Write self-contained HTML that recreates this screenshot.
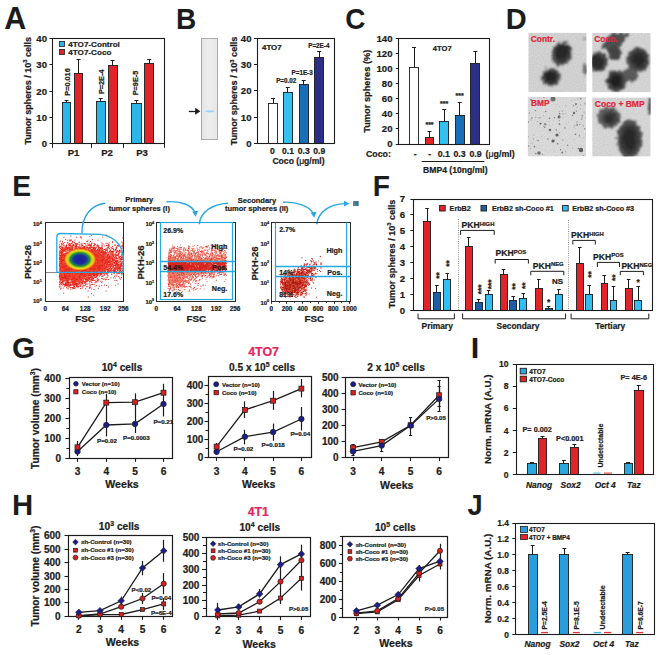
<!DOCTYPE html>
<html><head><meta charset="utf-8"><style>
html,body{margin:0;padding:0;background:#fff;}
svg{display:block;font-family:"Liberation Sans",sans-serif;font-weight:bold;fill:#1c1c1c;}
</style></head><body>
<svg width="662" height="655" viewBox="0 0 662 655">
<rect width="662" height="655" fill="#fff"/>
<text transform="translate(4.29 29.01) scale(0.3045 0.3059)" font-size="100">A</text>
<line x1="66.5" y1="102.92" x2="66.5" y2="100.6" stroke="#1c1c1c" stroke-width="1"/>
<line x1="64.55" y1="100.5" x2="68.55" y2="100.5" stroke="#1c1c1c" stroke-width="1"/>
<rect x="62.5" y="102.5" width="8" height="41" fill="#2ab6e8" stroke="#1c1c1c" stroke-width="0.9"/>
<line x1="78.5" y1="73.2" x2="78.5" y2="59.8" stroke="#1c1c1c" stroke-width="1"/>
<line x1="76.55" y1="59.5" x2="80.55" y2="59.5" stroke="#1c1c1c" stroke-width="1"/>
<rect x="74.5" y="73.5" width="8" height="70" fill="#e2232a" stroke="#1c1c1c" stroke-width="0.9"/>
<line x1="100.5" y1="101.7" x2="100.5" y2="98.3" stroke="#1c1c1c" stroke-width="1"/>
<line x1="98.75" y1="98.5" x2="102.75" y2="98.5" stroke="#1c1c1c" stroke-width="1"/>
<rect x="96.5" y="101.5" width="9" height="42" fill="#2ab6e8" stroke="#1c1c1c" stroke-width="0.9"/>
<line x1="112.5" y1="65" x2="112.5" y2="60.8" stroke="#1c1c1c" stroke-width="1"/>
<line x1="110.5" y1="60.5" x2="114.5" y2="60.5" stroke="#1c1c1c" stroke-width="1"/>
<rect x="108.5" y="65.5" width="9" height="78" fill="#e2232a" stroke="#1c1c1c" stroke-width="0.9"/>
<line x1="136.5" y1="103.1" x2="136.5" y2="100.6" stroke="#1c1c1c" stroke-width="1"/>
<line x1="134.4" y1="100.5" x2="138.4" y2="100.5" stroke="#1c1c1c" stroke-width="1"/>
<rect x="131.5" y="103.5" width="10" height="40" fill="#2ab6e8" stroke="#1c1c1c" stroke-width="0.9"/>
<line x1="149.5" y1="63.6" x2="149.5" y2="59.5" stroke="#1c1c1c" stroke-width="1"/>
<line x1="147.25" y1="59.5" x2="151.25" y2="59.5" stroke="#1c1c1c" stroke-width="1"/>
<rect x="144.5" y="63.5" width="9" height="80" fill="#e2232a" stroke="#1c1c1c" stroke-width="0.9"/>
<rect x="52.5" y="38.5" width="112" height="105" fill="none" stroke="#1c1c1c" stroke-width="1.1"/>
<line x1="49.5" y1="143.5" x2="52.5" y2="143.5" stroke="#1c1c1c" stroke-width="1"/>
<text x="47" y="147.26" font-size="9.6" text-anchor="end" stroke="#1c1c1c" stroke-width="0.22">0</text>
<line x1="49.5" y1="117.5" x2="52.5" y2="117.5" stroke="#1c1c1c" stroke-width="1"/>
<text x="47" y="120.88" font-size="9.6" text-anchor="end" stroke="#1c1c1c" stroke-width="0.22">10</text>
<line x1="49.5" y1="91.5" x2="52.5" y2="91.5" stroke="#1c1c1c" stroke-width="1"/>
<text x="47" y="94.51" font-size="9.6" text-anchor="end" stroke="#1c1c1c" stroke-width="0.22">20</text>
<line x1="49.5" y1="64.5" x2="52.5" y2="64.5" stroke="#1c1c1c" stroke-width="1"/>
<text x="47" y="68.13" font-size="9.6" text-anchor="end" stroke="#1c1c1c" stroke-width="0.22">30</text>
<line x1="49.5" y1="38.5" x2="52.5" y2="38.5" stroke="#1c1c1c" stroke-width="1"/>
<text x="47" y="41.76" font-size="9.6" text-anchor="end" stroke="#1c1c1c" stroke-width="0.22">40</text>
<line x1="52.5" y1="143.8" x2="52.5" y2="147.8" stroke="#1c1c1c" stroke-width="1"/>
<line x1="91.5" y1="143.8" x2="91.5" y2="147.8" stroke="#1c1c1c" stroke-width="1"/>
<line x1="123.5" y1="143.8" x2="123.5" y2="147.8" stroke="#1c1c1c" stroke-width="1"/>
<line x1="164.5" y1="143.8" x2="164.5" y2="147.8" stroke="#1c1c1c" stroke-width="1"/>
<text x="73.5" y="156.3" font-size="9.6" text-anchor="middle" stroke="#1c1c1c" stroke-width="0.22">P1</text>
<text x="107" y="156.3" font-size="9.6" text-anchor="middle" stroke="#1c1c1c" stroke-width="0.22">P2</text>
<text x="142" y="156.3" font-size="9.6" text-anchor="middle" stroke="#1c1c1c" stroke-width="0.22">P3</text>
<text transform="translate(69.7 82) rotate(-90)" font-size="7.3" text-anchor="middle" stroke="#1c1c1c" stroke-width="0.22">P=0.016</text>
<text transform="translate(104 81.8) rotate(-90)" font-size="7.3" text-anchor="middle" stroke="#1c1c1c" stroke-width="0.22">P=2E-4</text>
<text transform="translate(138.3 83) rotate(-90)" font-size="7.3" text-anchor="middle" stroke="#1c1c1c" stroke-width="0.22">P=9E-5</text>
<rect x="59.5" y="41.5" width="5" height="5" fill="#2ab6e8" stroke="#1c1c1c" stroke-width="0.8"/>
<rect x="59.5" y="49.5" width="5" height="5" fill="#e2232a" stroke="#1c1c1c" stroke-width="0.8"/>
<text x="68.3" y="46.8" font-size="8.1" stroke="#1c1c1c" stroke-width="0.22">4TO7-Control</text>
<text x="68.3" y="54.5" font-size="8.1" stroke="#1c1c1c" stroke-width="0.22">4TO7-Coco</text>
<text transform="translate(30.6 90.8) rotate(-90)" font-size="9" text-anchor="middle" stroke="#1c1c1c" stroke-width="0.22">Tumor spheres / 10<tspan font-size="5.8" dy="-3.4">3</tspan><tspan dy="3.4"> cells</tspan></text>
<text transform="translate(175.94 28.70) scale(0.2803 0.3014)" font-size="100">B</text>
<defs><linearGradient id="gel" x1="0" x2="1" y1="0" y2="0"><stop offset="0" stop-color="#e4e4e4"/><stop offset="0.5" stop-color="#eeeeee"/><stop offset="1" stop-color="#e6e6e6"/></linearGradient></defs>
<rect x="201.5" y="38.5" width="16" height="101" fill="url(#gel)" stroke="#9a9a9a" stroke-width="0.8"/>
<ellipse cx="209.8" cy="111.3" rx="4.5" ry="1.1" fill="#9fd3f2"/>
<line x1="188.8" y1="111.5" x2="197" y2="111.5" stroke="#1c1c1c" stroke-width="1.3"/>
<path d="M195.2 107.8 L200.4 111.3 L195.2 114.8 Z" stroke="none" stroke-width="1" fill="#1c1c1c"/>
<line x1="273.5" y1="103" x2="273.5" y2="98.6" stroke="#1c1c1c" stroke-width="1"/>
<line x1="271.05" y1="98.5" x2="275.05" y2="98.5" stroke="#1c1c1c" stroke-width="1"/>
<rect x="268.5" y="103.5" width="9" height="40" fill="#ffffff" stroke="#1c1c1c" stroke-width="0.9"/>
<line x1="287.5" y1="92.2" x2="287.5" y2="87.8" stroke="#1c1c1c" stroke-width="1"/>
<line x1="285.8" y1="87.5" x2="289.8" y2="87.5" stroke="#1c1c1c" stroke-width="1"/>
<rect x="283.5" y="92.5" width="9" height="51" fill="#33c1f0" stroke="#1c1c1c" stroke-width="0.9"/>
<line x1="303.5" y1="84.1" x2="303.5" y2="80" stroke="#1c1c1c" stroke-width="1"/>
<line x1="301.7" y1="80.5" x2="305.7" y2="80.5" stroke="#1c1c1c" stroke-width="1"/>
<rect x="299.5" y="84.5" width="9" height="59" fill="#176fb8" stroke="#1c1c1c" stroke-width="0.9"/>
<line x1="319.5" y1="57.2" x2="319.5" y2="51.3" stroke="#1c1c1c" stroke-width="1"/>
<line x1="317.15" y1="51.5" x2="321.15" y2="51.5" stroke="#1c1c1c" stroke-width="1"/>
<rect x="314.5" y="57.5" width="9" height="86" fill="#2b2f85" stroke="#1c1c1c" stroke-width="0.9"/>
<rect x="257.5" y="38.5" width="77" height="105" fill="none" stroke="#1c1c1c" stroke-width="1.1"/>
<line x1="254" y1="143.5" x2="257" y2="143.5" stroke="#1c1c1c" stroke-width="1"/>
<text x="251.5" y="146.86" font-size="9.6" text-anchor="end" stroke="#1c1c1c" stroke-width="0.22">0</text>
<line x1="254" y1="117.5" x2="257" y2="117.5" stroke="#1c1c1c" stroke-width="1"/>
<text x="251.5" y="120.61" font-size="9.6" text-anchor="end" stroke="#1c1c1c" stroke-width="0.22">10</text>
<line x1="254" y1="90.5" x2="257" y2="90.5" stroke="#1c1c1c" stroke-width="1"/>
<text x="251.5" y="94.36" font-size="9.6" text-anchor="end" stroke="#1c1c1c" stroke-width="0.22">20</text>
<line x1="254" y1="64.5" x2="257" y2="64.5" stroke="#1c1c1c" stroke-width="1"/>
<text x="251.5" y="68.11" font-size="9.6" text-anchor="end" stroke="#1c1c1c" stroke-width="0.22">30</text>
<line x1="254" y1="38.5" x2="257" y2="38.5" stroke="#1c1c1c" stroke-width="1"/>
<text x="251.5" y="41.86" font-size="9.6" text-anchor="end" stroke="#1c1c1c" stroke-width="0.22">40</text>
<text x="272.3" y="154.3" font-size="8.6" text-anchor="middle" stroke="#1c1c1c" stroke-width="0.22">0</text>
<text x="288" y="154.3" font-size="8.6" text-anchor="middle" stroke="#1c1c1c" stroke-width="0.22">0.1</text>
<text x="303.8" y="154.3" font-size="8.6" text-anchor="middle" stroke="#1c1c1c" stroke-width="0.22">0.3</text>
<text x="319.2" y="154.3" font-size="8.6" text-anchor="middle" stroke="#1c1c1c" stroke-width="0.22">0.9</text>
<text x="298.5" y="163.8" font-size="8.6" text-anchor="middle" stroke="#1c1c1c" stroke-width="0.22">Coco (<tspan font-weight="normal">μ</tspan>g/ml)</text>
<text x="262" y="49.9" font-size="7.9" stroke="#1c1c1c" stroke-width="0.22">4TO7</text>
<text x="318.8" y="47.7" font-size="6.3" text-anchor="middle" stroke="#1c1c1c" stroke-width="0.22">P=2E-4</text>
<text x="302.1" y="74.9" font-size="6.3" text-anchor="middle" stroke="#1c1c1c" stroke-width="0.22">P=1E-3</text>
<text x="286.2" y="83" font-size="6.3" text-anchor="middle" stroke="#1c1c1c" stroke-width="0.22">P=0.02</text>
<text transform="translate(237 91) rotate(-90)" font-size="9.1" text-anchor="middle" stroke="#1c1c1c" stroke-width="0.22">Tumor spheres / 10<tspan font-size="5.8" dy="-3.4">3</tspan><tspan dy="3.4"> cells</tspan></text>
<text transform="translate(345.18 28.70) scale(0.2800 0.3000)" font-size="100">C</text>
<line x1="414.5" y1="67.3" x2="414.5" y2="47.3" stroke="#1c1c1c" stroke-width="1"/>
<line x1="412.05" y1="47.5" x2="416.05" y2="47.5" stroke="#1c1c1c" stroke-width="1"/>
<rect x="409.5" y="67.5" width="9" height="77" fill="#ffffff" stroke="#1c1c1c" stroke-width="0.9"/>
<line x1="429.5" y1="137.8" x2="429.5" y2="131.7" stroke="#1c1c1c" stroke-width="1"/>
<line x1="427.45" y1="131.5" x2="431.45" y2="131.5" stroke="#1c1c1c" stroke-width="1"/>
<rect x="425.5" y="137.5" width="8" height="7" fill="#e2232a" stroke="#1c1c1c" stroke-width="0.9"/>
<line x1="444.5" y1="121.9" x2="444.5" y2="109.5" stroke="#1c1c1c" stroke-width="1"/>
<line x1="442.2" y1="109.5" x2="446.2" y2="109.5" stroke="#1c1c1c" stroke-width="1"/>
<rect x="439.5" y="121.5" width="9" height="23" fill="#33c1f0" stroke="#1c1c1c" stroke-width="0.9"/>
<line x1="459.5" y1="115.1" x2="459.5" y2="102" stroke="#1c1c1c" stroke-width="1"/>
<line x1="457.7" y1="102.5" x2="461.7" y2="102.5" stroke="#1c1c1c" stroke-width="1"/>
<rect x="455.5" y="115.5" width="9" height="29" fill="#176fb8" stroke="#1c1c1c" stroke-width="0.9"/>
<line x1="475.5" y1="63.7" x2="475.5" y2="51.4" stroke="#1c1c1c" stroke-width="1"/>
<line x1="473.35" y1="51.5" x2="477.35" y2="51.5" stroke="#1c1c1c" stroke-width="1"/>
<rect x="470.5" y="63.5" width="9" height="81" fill="#2b2f85" stroke="#1c1c1c" stroke-width="0.9"/>
<rect x="398.5" y="38.5" width="91" height="106" fill="none" stroke="#1c1c1c" stroke-width="1.1"/>
<line x1="395.8" y1="144.5" x2="398.8" y2="144.5" stroke="#1c1c1c" stroke-width="1"/>
<text x="392.5" y="147.46" font-size="9.6" text-anchor="end" stroke="#1c1c1c" stroke-width="0.22">0</text>
<line x1="395.8" y1="128.5" x2="398.8" y2="128.5" stroke="#1c1c1c" stroke-width="1"/>
<text x="392.5" y="132.36" font-size="9.6" text-anchor="end" stroke="#1c1c1c" stroke-width="0.22">20</text>
<line x1="395.8" y1="113.5" x2="398.8" y2="113.5" stroke="#1c1c1c" stroke-width="1"/>
<text x="392.5" y="117.26" font-size="9.6" text-anchor="end" stroke="#1c1c1c" stroke-width="0.22">40</text>
<line x1="395.8" y1="98.5" x2="398.8" y2="98.5" stroke="#1c1c1c" stroke-width="1"/>
<text x="392.5" y="102.16" font-size="9.6" text-anchor="end" stroke="#1c1c1c" stroke-width="0.22">60</text>
<line x1="395.8" y1="83.5" x2="398.8" y2="83.5" stroke="#1c1c1c" stroke-width="1"/>
<text x="392.5" y="87.06" font-size="9.6" text-anchor="end" stroke="#1c1c1c" stroke-width="0.22">80</text>
<line x1="395.8" y1="68.5" x2="398.8" y2="68.5" stroke="#1c1c1c" stroke-width="1"/>
<text x="392.5" y="71.96" font-size="9.6" text-anchor="end" stroke="#1c1c1c" stroke-width="0.22">100</text>
<line x1="395.8" y1="53.5" x2="398.8" y2="53.5" stroke="#1c1c1c" stroke-width="1"/>
<text x="392.5" y="56.86" font-size="9.6" text-anchor="end" stroke="#1c1c1c" stroke-width="0.22">120</text>
<line x1="395.8" y1="38.5" x2="398.8" y2="38.5" stroke="#1c1c1c" stroke-width="1"/>
<text x="392.5" y="41.76" font-size="9.6" text-anchor="end" stroke="#1c1c1c" stroke-width="0.22">140</text>
<text x="429.5" y="126.5" font-size="7" text-anchor="middle" stroke="#1c1c1c" stroke-width="0.22">***</text>
<text x="444.2" y="106" font-size="7" text-anchor="middle" stroke="#1c1c1c" stroke-width="0.22">***</text>
<text x="459.7" y="98.2" font-size="7" text-anchor="middle" stroke="#1c1c1c" stroke-width="0.22">***</text>
<text x="432.8" y="50.6" font-size="7.6" stroke="#1c1c1c" stroke-width="0.22">4TO7</text>
<text x="366" y="156.8" font-size="8.8" stroke="#1c1c1c" stroke-width="0.22">Coco:</text>
<text x="415.2" y="156.8" font-size="8.8" text-anchor="middle" stroke="#1c1c1c" stroke-width="0.22">-</text>
<text x="429.6" y="156.8" font-size="8.8" text-anchor="middle" stroke="#1c1c1c" stroke-width="0.22">-</text>
<text x="443.8" y="156.8" font-size="8.8" text-anchor="middle" stroke="#1c1c1c" stroke-width="0.22">0.1</text>
<text x="459.6" y="156.8" font-size="8.8" text-anchor="middle" stroke="#1c1c1c" stroke-width="0.22">0.3</text>
<text x="475.6" y="156.8" font-size="8.8" text-anchor="middle" stroke="#1c1c1c" stroke-width="0.22">0.9</text>
<text x="485.6" y="156.8" font-size="8.8" stroke="#1c1c1c" stroke-width="0.22">(<tspan font-weight="normal">μ</tspan>g/ml)</text>
<line x1="421.7" y1="161.5" x2="484.4" y2="161.5" stroke="#1c1c1c" stroke-width="1"/>
<text x="455.3" y="173" font-size="8.6" text-anchor="middle" stroke="#1c1c1c" stroke-width="0.22">BMP4 (10ng/ml)</text>
<text transform="translate(370.4 91.2) rotate(-90)" font-size="9.25" text-anchor="middle" stroke="#1c1c1c" stroke-width="0.22">Tumor spheres (%)</text>
<text transform="translate(505.87 28.70) scale(0.2902 0.3014)" font-size="100">D</text>
<defs>
<filter id="bl" x="-50%" y="-50%" width="200%" height="200%"><feGaussianBlur stdDeviation="1.3"/></filter>
<filter id="bl2" x="-50%" y="-50%" width="200%" height="200%"><feGaussianBlur stdDeviation="2.2"/></filter>
<filter id="bl05" x="-50%" y="-50%" width="200%" height="200%"><feGaussianBlur stdDeviation="0.5"/></filter>
<filter id="rough" x="-20%" y="-20%" width="140%" height="140%"><feTurbulence type="fractalNoise" baseFrequency="0.3" numOctaves="2" seed="4" result="n"/><feDisplacementMap in="SourceGraphic" in2="n" scale="6" xChannelSelector="R" yChannelSelector="G" result="d"/><feGaussianBlur in="d" stdDeviation="0.8"/></filter>
<filter id="grain" x="0" y="0" width="100%" height="100%"><feTurbulence type="fractalNoise" baseFrequency="0.9" numOctaves="1" seed="9" result="n"/><feColorMatrix in="n" type="matrix" values="0 0 0 0 0  0 0 0 0 0  0 0 0 0 0  0 0 0 0.14 0"/></filter>
<clipPath id="t1"><rect x="528.3" y="32.8" width="58.3" height="59.3"/></clipPath>
<clipPath id="t2"><rect x="592.2" y="33.1" width="58.5" height="59.1"/></clipPath>
<clipPath id="t3"><rect x="527.7" y="96.9" width="58.4" height="59.5"/></clipPath>
<clipPath id="t4"><rect x="592.2" y="97.4" width="58.4" height="59.0"/></clipPath>
</defs>
<g clip-path="url(#t1)">
<rect x="528.3" y="32.8" width="58.3" height="59.3" fill="#e0e0e0"/>
<g filter="url(#rough)"><ellipse cx="562" cy="54" rx="10" ry="12.2" fill="#5a5a5a" transform="rotate(25 562 54)"/><ellipse cx="562" cy="53" rx="8.2" ry="10" fill="#3a3a3a" transform="rotate(25 562 53)"/><ellipse cx="561.5" cy="52" rx="6" ry="7.5" fill="#2a2a2a" transform="rotate(25 561.5 52)"/><ellipse cx="551" cy="77" rx="9.5" ry="8.8" fill="#5a5a5a" transform="rotate(0 551 77)"/><ellipse cx="551" cy="77" rx="7.5" ry="6.8" fill="#333" transform="rotate(0 551 77)"/><ellipse cx="550.5" cy="77" rx="5" ry="4.5" fill="#262626" transform="rotate(0 550.5 77)"/><ellipse cx="585.5" cy="69" rx="3" ry="4.8" fill="#7a7a7a" transform="rotate(0 585.5 69)"/></g>
<ellipse cx="584.5" cy="38.5" rx="1.5" ry="1.5" fill="#999" opacity="1.0" transform="rotate(0 584.5 38.5)" filter="url(#bl)"/>
<ellipse cx="546" cy="67.5" rx="1.2" ry="1.2" fill="#aaa" opacity="1.0" transform="rotate(0 546 67.5)" filter="url(#bl)"/>
<rect x="528.3" y="32.8" width="58.3" height="59.3" fill="#000" filter="url(#grain)"/>
</g>
<g clip-path="url(#t2)">
<rect x="592.2" y="33.1" width="58.5" height="59.1" fill="#e2e2e2"/>
<g filter="url(#rough)"><path d="M601 48 L611 33 L630 33 L622 44 L614 52 Z" fill="#555"/><ellipse cx="598" cy="62" rx="9.5" ry="10" fill="#505050" transform="rotate(0 598 62)"/><ellipse cx="597" cy="62" rx="7" ry="7.5" fill="#2e2e2e" transform="rotate(0 597 62)"/><ellipse cx="615" cy="53" rx="7" ry="7" fill="#4a4a4a" transform="rotate(0 615 53)"/><ellipse cx="638" cy="60" rx="11.5" ry="12.5" fill="#555" transform="rotate(0 638 60)"/><ellipse cx="638.5" cy="59.5" rx="8.5" ry="9.5" fill="#383838" transform="rotate(0 638.5 59.5)"/><ellipse cx="638.5" cy="59.5" rx="5.5" ry="6.5" fill="#2a2a2a" transform="rotate(0 638.5 59.5)"/><ellipse cx="630" cy="75" rx="8.5" ry="7" fill="#606060" transform="rotate(0 630 75)"/><ellipse cx="616" cy="81" rx="10" ry="11" fill="#505050" transform="rotate(0 616 81)"/><ellipse cx="616" cy="81" rx="7.5" ry="8.2" fill="#303030" transform="rotate(0 616 81)"/><ellipse cx="616" cy="81" rx="4.5" ry="5" fill="#222" transform="rotate(0 616 81)"/></g>
<rect x="592.2" y="33.1" width="58.5" height="59.1" fill="#000" filter="url(#grain)"/>
</g>
<g clip-path="url(#t3)">
<rect x="527.7" y="96.9" width="58.4" height="59.5" fill="#e8e8e8"/>
<g filter="url(#bl05)"><circle cx="532.4" cy="143.0" r="0.59" fill="rgb(175,175,175)"/><circle cx="584.7" cy="128.8" r="0.63" fill="rgb(116,116,116)"/><circle cx="543.6" cy="126.5" r="0.72" fill="rgb(182,182,182)"/><circle cx="550.1" cy="100.9" r="0.51" fill="rgb(191,191,191)"/><circle cx="540.4" cy="123.7" r="0.86" fill="rgb(112,112,112)"/><circle cx="562.8" cy="153.1" r="0.48" fill="rgb(159,159,159)"/><circle cx="580.7" cy="104.9" r="0.64" fill="rgb(177,177,177)"/><circle cx="566.8" cy="124.6" r="0.46" fill="rgb(154,154,154)"/><circle cx="549.6" cy="125.2" r="0.55" fill="rgb(185,185,185)"/><circle cx="572.6" cy="115.5" r="0.66" fill="rgb(134,134,134)"/><circle cx="554.3" cy="117.8" r="0.71" fill="rgb(143,143,143)"/><circle cx="554.6" cy="139.4" r="0.58" fill="rgb(191,191,191)"/><circle cx="538.5" cy="140.7" r="0.58" fill="rgb(148,148,148)"/><circle cx="564.8" cy="127.9" r="0.58" fill="rgb(110,110,110)"/><circle cx="533.4" cy="138.9" r="0.64" fill="rgb(172,172,172)"/><circle cx="583.4" cy="137.3" r="0.38" fill="rgb(137,137,137)"/><circle cx="562.4" cy="110.9" r="0.88" fill="rgb(195,195,195)"/><circle cx="577.2" cy="124.9" r="0.81" fill="rgb(121,121,121)"/><circle cx="545.9" cy="124.3" r="0.76" fill="rgb(153,153,153)"/><circle cx="535.9" cy="117.3" r="0.53" fill="rgb(137,137,137)"/><circle cx="537.6" cy="121.5" r="0.60" fill="rgb(179,179,179)"/><circle cx="574.2" cy="127.8" r="0.60" fill="rgb(180,180,180)"/><circle cx="579.5" cy="136.8" r="0.79" fill="rgb(194,194,194)"/><circle cx="530.4" cy="148.7" r="0.50" fill="rgb(152,152,152)"/><circle cx="574.2" cy="139.3" r="0.43" fill="rgb(169,169,169)"/><circle cx="532.0" cy="118.1" r="0.80" fill="rgb(148,148,148)"/><circle cx="562.8" cy="140.0" r="0.80" fill="rgb(178,178,178)"/><circle cx="528.4" cy="121.8" r="0.60" fill="rgb(114,114,114)"/><circle cx="559.4" cy="132.9" r="0.81" fill="rgb(194,194,194)"/><circle cx="535.4" cy="110.6" r="0.71" fill="rgb(121,121,121)"/><circle cx="541.0" cy="130.9" r="0.44" fill="rgb(180,180,180)"/><circle cx="577.7" cy="99.0" r="0.64" fill="rgb(181,181,181)"/><circle cx="584.6" cy="113.2" r="0.44" fill="rgb(188,188,188)"/><circle cx="580.7" cy="108.7" r="0.59" fill="rgb(174,174,174)"/><circle cx="577.0" cy="106.9" r="0.72" fill="rgb(182,182,182)"/><circle cx="559.9" cy="106.7" r="0.37" fill="rgb(135,135,135)"/><circle cx="574.9" cy="99.6" r="0.35" fill="rgb(142,142,142)"/><circle cx="531.7" cy="105.8" r="0.36" fill="rgb(157,157,157)"/><circle cx="568.4" cy="122.2" r="0.42" fill="rgb(139,139,139)"/><circle cx="562.2" cy="152.5" r="0.90" fill="rgb(131,131,131)"/><circle cx="528.6" cy="146.0" r="0.86" fill="rgb(151,151,151)"/><circle cx="572.7" cy="148.1" r="0.69" fill="rgb(188,188,188)"/><circle cx="529.4" cy="113.0" r="0.50" fill="rgb(120,120,120)"/><circle cx="580.8" cy="98.8" r="0.72" fill="rgb(116,116,116)"/><circle cx="548.9" cy="121.7" r="0.45" fill="rgb(156,156,156)"/><circle cx="559.0" cy="115.7" r="0.76" fill="rgb(124,124,124)"/><circle cx="539.2" cy="117.9" r="0.56" fill="rgb(128,128,128)"/><circle cx="581.3" cy="145.9" r="0.41" fill="rgb(143,143,143)"/><circle cx="541.5" cy="123.6" r="0.50" fill="rgb(155,155,155)"/><circle cx="581.5" cy="119.6" r="0.71" fill="rgb(163,163,163)"/><circle cx="571.6" cy="100.6" r="0.76" fill="rgb(195,195,195)"/><circle cx="563.0" cy="114.0" r="0.72" fill="rgb(174,174,174)"/><circle cx="566.1" cy="105.7" r="0.89" fill="rgb(195,195,195)"/><circle cx="552.6" cy="132.0" r="0.37" fill="rgb(198,198,198)"/><circle cx="575.5" cy="134.6" r="0.77" fill="rgb(126,126,126)"/><circle cx="545.8" cy="111.5" r="0.68" fill="rgb(118,118,118)"/><circle cx="579.9" cy="124.3" r="0.59" fill="rgb(119,119,119)"/><circle cx="567.7" cy="145.2" r="0.70" fill="rgb(131,131,131)"/><circle cx="573.6" cy="105.6" r="0.81" fill="rgb(162,162,162)"/><circle cx="544.8" cy="127.3" r="0.70" fill="rgb(133,133,133)"/><circle cx="577.1" cy="121.9" r="0.84" fill="rgb(185,185,185)"/><circle cx="533.8" cy="135.1" r="0.52" fill="rgb(177,177,177)"/><circle cx="559.5" cy="124.0" r="0.84" fill="rgb(115,115,115)"/><circle cx="560.3" cy="116.3" r="0.37" fill="rgb(177,177,177)"/><circle cx="560.6" cy="149.8" r="0.68" fill="rgb(140,140,140)"/><circle cx="585.1" cy="103.8" r="0.38" fill="rgb(175,175,175)"/><circle cx="549.5" cy="118.3" r="0.83" fill="rgb(139,139,139)"/><circle cx="579.6" cy="135.0" r="0.53" fill="rgb(115,115,115)"/><circle cx="542.2" cy="154.1" r="0.57" fill="rgb(124,124,124)"/><circle cx="545.3" cy="150.1" r="0.44" fill="rgb(180,180,180)"/><circle cx="535.8" cy="153.7" r="0.64" fill="rgb(113,113,113)"/><circle cx="582.0" cy="118.1" r="0.75" fill="rgb(157,157,157)"/><circle cx="533.4" cy="103.3" r="0.43" fill="rgb(124,124,124)"/><circle cx="531.1" cy="99.8" r="0.87" fill="rgb(118,118,118)"/><circle cx="557.5" cy="104.0" r="0.47" fill="rgb(178,178,178)"/><circle cx="582.4" cy="124.7" r="0.35" fill="rgb(199,199,199)"/><circle cx="530.8" cy="120.0" r="0.65" fill="rgb(190,190,190)"/><circle cx="575.7" cy="133.0" r="0.57" fill="rgb(185,185,185)"/><circle cx="578.4" cy="148.4" r="0.74" fill="rgb(118,118,118)"/><circle cx="545.3" cy="125.7" r="0.63" fill="rgb(184,184,184)"/><circle cx="541.8" cy="136.2" r="0.56" fill="rgb(179,179,179)"/><circle cx="539.4" cy="125.1" r="0.41" fill="rgb(129,129,129)"/><circle cx="582.2" cy="115.6" r="0.84" fill="rgb(157,157,157)"/><circle cx="530.3" cy="143.8" r="0.38" fill="rgb(184,184,184)"/><circle cx="528.5" cy="136.8" r="0.44" fill="rgb(140,140,140)"/><circle cx="583.3" cy="125.7" r="0.71" fill="rgb(176,176,176)"/><circle cx="534.4" cy="146.5" r="0.85" fill="rgb(123,123,123)"/><circle cx="559.7" cy="113.7" r="0.76" fill="rgb(112,112,112)"/><circle cx="557.7" cy="143.8" r="0.75" fill="rgb(119,119,119)"/><circle cx="576.3" cy="111.0" r="0.79" fill="rgb(154,154,154)"/><circle cx="537.3" cy="140.3" r="0.79" fill="rgb(172,172,172)"/><circle cx="584.0" cy="112.1" r="0.48" fill="rgb(123,123,123)"/><circle cx="559.3" cy="120.6" r="0.55" fill="rgb(151,151,151)"/><circle cx="543.9" cy="97.3" r="0.61" fill="rgb(134,134,134)"/><circle cx="554.1" cy="151.8" r="0.45" fill="rgb(167,167,167)"/><circle cx="565.4" cy="113.6" r="0.61" fill="rgb(197,197,197)"/><circle cx="547.9" cy="139.0" r="0.81" fill="rgb(142,142,142)"/><circle cx="585.4" cy="133.9" r="0.63" fill="rgb(174,174,174)"/><circle cx="552.6" cy="139.0" r="0.50" fill="rgb(193,193,193)"/><circle cx="559.4" cy="111.3" r="0.59" fill="rgb(190,190,190)"/><circle cx="574.8" cy="125.6" r="0.54" fill="rgb(143,143,143)"/><circle cx="584.9" cy="103.6" r="0.84" fill="rgb(187,187,187)"/><circle cx="541.0" cy="117.6" r="0.66" fill="rgb(182,182,182)"/><circle cx="583.1" cy="155.5" r="0.50" fill="rgb(127,127,127)"/><circle cx="556.3" cy="129.9" r="0.71" fill="rgb(119,119,119)"/><circle cx="565.5" cy="151.4" r="0.85" fill="rgb(194,194,194)"/><circle cx="581.5" cy="153.7" r="0.38" fill="rgb(192,192,192)"/><circle cx="543.7" cy="115.9" r="0.60" fill="rgb(195,195,195)"/><circle cx="563.1" cy="117.8" r="0.56" fill="rgb(191,191,191)"/><circle cx="575.7" cy="105.1" r="0.49" fill="rgb(143,143,143)"/></g>
<ellipse cx="553" cy="99" rx="2.5" ry="2.5" fill="#777" opacity="1.0" transform="rotate(0 553 99)" filter="url(#bl05)"/>
<ellipse cx="581" cy="150" rx="2.2" ry="2.2" fill="#666" opacity="1.0" transform="rotate(0 581 150)" filter="url(#bl05)"/>
<ellipse cx="539" cy="153" rx="1.8" ry="1.8" fill="#777" opacity="1.0" transform="rotate(0 539 153)" filter="url(#bl05)"/>
<ellipse cx="557" cy="135" rx="1.6" ry="1.6" fill="#666" opacity="1.0" transform="rotate(0 557 135)" filter="url(#bl05)"/>
<ellipse cx="553" cy="141" rx="1.6" ry="1.6" fill="#666" opacity="1.0" transform="rotate(0 553 141)" filter="url(#bl05)"/>
<ellipse cx="574" cy="113" rx="1.2" ry="1.2" fill="#777" opacity="1.0" transform="rotate(0 574 113)" filter="url(#bl05)"/>
<ellipse cx="559" cy="117" rx="1.5" ry="1.5" fill="#777" opacity="1.0" transform="rotate(0 559 117)" filter="url(#bl05)"/>
<ellipse cx="576" cy="104" rx="1" ry="1" fill="#888" opacity="1.0" transform="rotate(0 576 104)" filter="url(#bl05)"/>
<ellipse cx="550" cy="130" rx="1.3" ry="1.3" fill="#777" opacity="1.0" transform="rotate(0 550 130)" filter="url(#bl05)"/>
<ellipse cx="545" cy="124" rx="1" ry="1" fill="#888" opacity="1.0" transform="rotate(0 545 124)" filter="url(#bl05)"/>
<rect x="527.7" y="96.9" width="58.4" height="59.5" fill="#000" filter="url(#grain)"/>
</g>
<g clip-path="url(#t4)">
<rect x="592.2" y="97.4" width="58.4" height="59" fill="#e4e4e4"/>
<g filter="url(#rough)"><ellipse cx="609" cy="117.5" rx="11.5" ry="10.5" fill="#666" transform="rotate(0 609 117.5)"/><ellipse cx="610" cy="118" rx="8" ry="7.5" fill="#484848" transform="rotate(0 610 118)"/><ellipse cx="610" cy="118.5" rx="5" ry="4.5" fill="#333" transform="rotate(0 610 118.5)"/><ellipse cx="629.5" cy="139" rx="12.5" ry="19" fill="#555" transform="rotate(0 629.5 139)"/><ellipse cx="629.5" cy="139" rx="9.5" ry="15" fill="#3a3a3a" transform="rotate(0 629.5 139)"/><ellipse cx="629.5" cy="139" rx="6" ry="10.5" fill="#2a2a2a" transform="rotate(0 629.5 139)"/><ellipse cx="651" cy="106" rx="3.5" ry="9" fill="#555" transform="rotate(0 651 106)"/></g>
<rect x="592.2" y="97.4" width="58.4" height="59" fill="#000" filter="url(#grain)"/>
</g>
<text x="530.8" y="41.8" font-size="8.4" fill="#e2263c" stroke="#e2263c" stroke-width="0.22">Contr.</text>
<text x="594.3" y="41.8" font-size="8.4" fill="#e2263c" stroke="#e2263c" stroke-width="0.22">Coco.</text>
<text x="531" y="106" font-size="8.4" fill="#e2263c" stroke="#e2263c" stroke-width="0.22">BMP</text>
<text x="594.8" y="106.6" font-size="8.5" fill="#e2263c" stroke="#e2263c" stroke-width="0.22">Coco + BMP</text>
<text transform="translate(12.22 195.80) scale(0.2821 0.2957)" font-size="100">E</text>
<defs><clipPath id="e1"><rect x="45.3" y="222.3" width="78.5" height="78.3"/></clipPath><radialGradient id="heat" cx="0.5" cy="0.5" r="0.5"><stop offset="0" stop-color="#1a1c9a"/><stop offset="0.38" stop-color="#1c2ea0"/><stop offset="0.5" stop-color="#1f6a6a"/><stop offset="0.6" stop-color="#2a9030"/><stop offset="0.7" stop-color="#a8cc20"/><stop offset="0.8" stop-color="#f4d41c"/><stop offset="0.9" stop-color="#f28a18"/><stop offset="1" stop-color="#e8281c" stop-opacity="0"/></radialGradient><radialGradient id="redc" cx="0.5" cy="0.5" r="0.5"><stop offset="0" stop-color="#e6241c"/><stop offset="0.55" stop-color="#e6241c" stop-opacity="0.85"/><stop offset="1" stop-color="#e6241c" stop-opacity="0"/></radialGradient></defs>
<g clip-path="url(#e1)">
<ellipse cx="86" cy="263" rx="26" ry="17" fill="url(#redc)"/>
<path fill="#e6241c" d="M85.7 277.8h1v1h-1zM89.2 252.3h1v1h-1zM78.3 275.7h1v1h-1zM64.9 248.9h1v1h-1zM70.9 257.3h1v1h-1zM71.2 258.6h1v1h-1zM84.4 253.3h1v1h-1zM102.9 252.4h1v1h-1zM59.9 281.5h1v1h-1zM86.3 261.8h1v1h-1zM80.5 265.3h1v1h-1zM63.7 263.8h1v1h-1zM71.7 258.9h1v1h-1zM110.2 263.9h1v1h-1zM87.5 257.6h1v1h-1zM115.1 268.1h1v1h-1zM116.3 265.2h1v1h-1zM61.8 258.6h1v1h-1zM69.9 263.4h1v1h-1zM100.7 258.8h1v1h-1zM62.2 244.2h1v1h-1zM86.0 280.4h1v1h-1zM109.9 256.7h1v1h-1zM79.3 272.2h1v1h-1zM87.5 257.1h1v1h-1zM79.2 247.9h1v1h-1zM87.2 278.2h1v1h-1zM112.4 257.3h1v1h-1zM60.2 267.7h1v1h-1zM91.0 272.1h1v1h-1zM122.3 269.8h1v1h-1zM106.9 269.1h1v1h-1zM76.9 250.6h1v1h-1zM62.4 268.3h1v1h-1zM117.2 261.0h1v1h-1zM69.0 248.6h1v1h-1zM63.3 258.8h1v1h-1zM60.2 264.2h1v1h-1zM102.4 262.0h1v1h-1zM66.2 273.0h1v1h-1zM90.5 254.6h1v1h-1zM62.4 269.7h1v1h-1zM95.7 256.2h1v1h-1zM68.4 271.6h1v1h-1zM96.7 272.9h1v1h-1zM62.4 257.2h1v1h-1zM85.5 265.9h1v1h-1zM103.4 262.5h1v1h-1zM74.0 253.9h1v1h-1zM62.2 262.5h1v1h-1zM85.9 260.3h1v1h-1zM78.4 264.8h1v1h-1zM107.9 286.6h1v1h-1zM96.5 250.1h1v1h-1zM103.1 258.1h1v1h-1zM67.9 277.0h1v1h-1zM110.7 265.8h1v1h-1zM73.3 268.6h1v1h-1zM69.6 275.3h1v1h-1zM118.4 245.0h1v1h-1zM71.3 287.0h1v1h-1zM107.1 274.2h1v1h-1zM89.5 244.6h1v1h-1zM107.1 257.2h1v1h-1zM71.4 269.0h1v1h-1zM68.3 278.1h1v1h-1zM102.3 273.2h1v1h-1zM74.6 266.6h1v1h-1zM101.5 276.0h1v1h-1zM119.8 267.0h1v1h-1zM75.5 260.8h1v1h-1zM96.0 255.7h1v1h-1zM73.8 254.7h1v1h-1zM103.1 258.6h1v1h-1zM81.2 261.1h1v1h-1zM59.2 267.4h1v1h-1zM83.4 252.2h1v1h-1zM92.7 261.2h1v1h-1zM81.9 263.9h1v1h-1zM103.6 256.1h1v1h-1zM98.9 258.0h1v1h-1zM87.4 276.3h1v1h-1zM119.7 269.7h1v1h-1zM70.0 284.3h1v1h-1zM63.6 253.5h1v1h-1zM106.4 272.3h1v1h-1zM103.6 265.1h1v1h-1zM63.2 255.2h1v1h-1zM91.4 272.4h1v1h-1zM107.2 270.9h1v1h-1zM118.1 253.1h1v1h-1zM104.5 269.6h1v1h-1zM60.3 266.3h1v1h-1zM60.7 261.8h1v1h-1zM60.8 271.7h1v1h-1zM67.4 258.9h1v1h-1zM114.0 267.4h1v1h-1zM79.5 248.8h1v1h-1zM80.2 260.2h1v1h-1zM112.9 250.6h1v1h-1zM63.1 259.3h1v1h-1zM76.9 262.4h1v1h-1zM81.8 267.1h1v1h-1zM121.1 258.2h1v1h-1zM80.6 276.5h1v1h-1zM60.2 259.8h1v1h-1zM110.2 252.8h1v1h-1zM73.9 279.0h1v1h-1zM94.9 270.0h1v1h-1zM114.3 263.3h1v1h-1zM106.8 270.1h1v1h-1zM94.6 273.4h1v1h-1zM67.7 271.9h1v1h-1zM63.0 269.4h1v1h-1zM60.4 259.0h1v1h-1zM62.5 277.9h1v1h-1zM66.7 254.7h1v1h-1zM80.5 262.5h1v1h-1zM59.4 272.5h1v1h-1zM63.6 256.6h1v1h-1zM120.9 265.1h1v1h-1zM80.9 248.4h1v1h-1zM65.9 265.1h1v1h-1zM65.6 257.6h1v1h-1zM96.2 271.3h1v1h-1zM121.1 262.9h1v1h-1zM74.4 252.6h1v1h-1zM98.7 262.8h1v1h-1zM69.0 282.0h1v1h-1zM59.6 275.5h1v1h-1zM61.3 267.2h1v1h-1zM77.1 248.4h1v1h-1zM82.8 265.9h1v1h-1zM81.0 266.4h1v1h-1zM70.1 262.4h1v1h-1zM122.3 237.6h1v1h-1zM83.3 280.4h1v1h-1zM94.3 268.5h1v1h-1zM106.7 257.9h1v1h-1zM86.2 270.8h1v1h-1zM68.1 244.5h1v1h-1zM63.2 270.2h1v1h-1zM72.2 255.4h1v1h-1zM84.1 261.9h1v1h-1zM66.1 287.3h1v1h-1zM107.2 271.1h1v1h-1zM75.7 266.5h1v1h-1zM110.5 252.1h1v1h-1zM65.5 270.8h1v1h-1zM99.9 266.0h1v1h-1zM92.6 272.8h1v1h-1zM105.5 253.4h1v1h-1zM75.9 250.7h1v1h-1zM63.2 249.4h1v1h-1zM90.1 261.1h1v1h-1zM92.5 257.6h1v1h-1zM74.0 261.6h1v1h-1zM98.5 266.7h1v1h-1zM108.5 256.8h1v1h-1zM108.7 248.0h1v1h-1zM94.6 261.8h1v1h-1zM104.4 265.6h1v1h-1zM73.0 244.2h1v1h-1zM90.1 265.0h1v1h-1zM80.0 264.9h1v1h-1zM118.3 251.6h1v1h-1zM117.8 268.1h1v1h-1zM84.3 275.8h1v1h-1zM120.6 257.4h1v1h-1zM70.1 254.0h1v1h-1zM67.1 258.7h1v1h-1zM63.5 255.3h1v1h-1zM91.4 273.2h1v1h-1zM59.7 269.5h1v1h-1zM119.7 268.1h1v1h-1zM96.4 274.8h1v1h-1zM59.5 262.1h1v1h-1zM67.4 255.6h1v1h-1zM95.1 267.4h1v1h-1zM71.2 252.0h1v1h-1zM107.3 257.6h1v1h-1zM96.2 266.9h1v1h-1zM100.7 274.1h1v1h-1zM97.8 248.1h1v1h-1zM103.3 268.1h1v1h-1zM88.4 278.4h1v1h-1zM94.0 270.5h1v1h-1zM110.1 254.6h1v1h-1zM77.3 261.8h1v1h-1zM90.4 264.1h1v1h-1zM97.3 254.7h1v1h-1zM59.5 275.9h1v1h-1zM82.2 250.9h1v1h-1zM74.8 266.2h1v1h-1zM110.7 254.1h1v1h-1zM70.0 274.0h1v1h-1zM81.4 269.7h1v1h-1zM70.8 263.3h1v1h-1zM98.2 255.1h1v1h-1zM62.5 279.9h1v1h-1zM74.3 271.0h1v1h-1zM102.5 267.7h1v1h-1zM117.8 245.8h1v1h-1zM113.2 255.0h1v1h-1zM72.5 261.1h1v1h-1zM112.6 259.9h1v1h-1zM82.8 261.5h1v1h-1zM96.5 244.7h1v1h-1zM95.8 257.3h1v1h-1zM84.0 262.3h1v1h-1zM77.3 256.6h1v1h-1zM81.9 264.9h1v1h-1zM107.0 266.6h1v1h-1zM113.9 261.9h1v1h-1zM91.3 274.0h1v1h-1zM103.7 275.0h1v1h-1zM79.7 246.4h1v1h-1zM86.3 268.8h1v1h-1zM75.6 269.6h1v1h-1zM72.7 265.6h1v1h-1zM73.9 279.9h1v1h-1zM84.7 255.4h1v1h-1zM83.6 277.2h1v1h-1zM112.6 263.8h1v1h-1zM86.7 245.5h1v1h-1zM74.5 265.8h1v1h-1zM71.1 266.3h1v1h-1zM110.0 252.7h1v1h-1zM115.3 253.2h1v1h-1zM116.8 261.1h1v1h-1zM85.8 269.6h1v1h-1zM68.3 272.2h1v1h-1zM67.7 263.1h1v1h-1zM79.0 259.7h1v1h-1zM110.3 260.3h1v1h-1zM81.2 267.1h1v1h-1zM92.2 262.8h1v1h-1zM108.3 244.8h1v1h-1zM95.4 264.1h1v1h-1zM88.8 273.9h1v1h-1zM63.4 268.2h1v1h-1zM83.2 273.0h1v1h-1zM61.6 261.9h1v1h-1zM114.6 268.5h1v1h-1zM70.6 249.3h1v1h-1zM100.4 280.7h1v1h-1zM87.3 254.8h1v1h-1zM64.4 248.4h1v1h-1zM88.9 271.1h1v1h-1zM81.1 262.3h1v1h-1zM66.7 265.4h1v1h-1zM96.9 271.8h1v1h-1zM104.5 260.8h1v1h-1zM117.2 260.0h1v1h-1zM75.5 269.4h1v1h-1zM65.5 268.1h1v1h-1zM91.0 293.3h1v1h-1zM89.7 269.0h1v1h-1zM66.1 267.1h1v1h-1zM67.5 261.7h1v1h-1zM98.4 257.1h1v1h-1zM83.4 259.1h1v1h-1zM74.0 265.4h1v1h-1zM65.5 279.0h1v1h-1zM89.5 264.0h1v1h-1zM68.8 250.3h1v1h-1zM83.6 272.0h1v1h-1zM93.8 273.0h1v1h-1zM100.9 262.4h1v1h-1zM63.8 260.9h1v1h-1zM107.1 261.5h1v1h-1zM73.2 278.9h1v1h-1zM92.2 273.9h1v1h-1zM109.3 265.3h1v1h-1zM59.7 271.8h1v1h-1zM79.8 247.6h1v1h-1zM93.5 289.1h1v1h-1zM113.7 250.5h1v1h-1zM65.3 262.1h1v1h-1zM100.7 250.4h1v1h-1zM104.0 259.4h1v1h-1zM98.1 268.3h1v1h-1zM110.2 266.9h1v1h-1zM61.2 248.9h1v1h-1zM92.3 250.5h1v1h-1zM105.8 253.6h1v1h-1zM67.9 262.9h1v1h-1zM67.8 264.5h1v1h-1zM84.2 251.2h1v1h-1zM81.1 259.8h1v1h-1zM94.1 272.6h1v1h-1zM87.6 256.2h1v1h-1zM93.2 268.2h1v1h-1zM122.4 253.9h1v1h-1zM69.5 273.0h1v1h-1zM63.8 254.0h1v1h-1zM102.9 265.2h1v1h-1zM93.7 259.0h1v1h-1zM99.7 258.9h1v1h-1zM93.9 255.3h1v1h-1zM79.0 277.7h1v1h-1zM81.8 257.4h1v1h-1zM60.7 255.1h1v1h-1zM64.4 257.3h1v1h-1zM90.7 263.3h1v1h-1zM60.0 261.5h1v1h-1zM72.1 275.1h1v1h-1zM114.2 259.6h1v1h-1zM103.3 260.1h1v1h-1zM87.4 263.0h1v1h-1zM65.4 252.7h1v1h-1zM96.2 274.0h1v1h-1zM116.5 263.9h1v1h-1zM74.9 268.9h1v1h-1zM68.0 262.7h1v1h-1zM60.8 266.3h1v1h-1zM72.6 261.0h1v1h-1zM94.3 269.1h1v1h-1zM82.2 272.2h1v1h-1zM72.6 253.9h1v1h-1zM91.0 265.2h1v1h-1zM91.7 265.4h1v1h-1zM93.6 269.1h1v1h-1zM110.1 269.4h1v1h-1zM110.5 255.2h1v1h-1zM60.0 270.8h1v1h-1zM104.4 255.6h1v1h-1zM88.8 286.4h1v1h-1zM119.6 268.6h1v1h-1zM73.2 270.9h1v1h-1zM68.2 259.9h1v1h-1zM64.2 242.0h1v1h-1zM66.0 250.5h1v1h-1zM84.3 265.8h1v1h-1zM94.6 260.4h1v1h-1zM87.8 265.9h1v1h-1zM92.1 272.9h1v1h-1zM71.1 262.3h1v1h-1zM86.4 279.1h1v1h-1zM99.1 265.2h1v1h-1zM68.2 276.2h1v1h-1zM60.2 268.9h1v1h-1zM61.2 268.1h1v1h-1zM88.3 276.9h1v1h-1zM66.3 261.0h1v1h-1zM60.8 260.9h1v1h-1zM91.3 260.6h1v1h-1zM73.2 258.8h1v1h-1zM106.8 257.6h1v1h-1zM87.8 261.5h1v1h-1zM76.8 248.6h1v1h-1zM89.3 255.8h1v1h-1zM94.6 258.9h1v1h-1zM73.5 254.9h1v1h-1zM61.4 263.4h1v1h-1zM108.5 262.3h1v1h-1zM63.2 244.8h1v1h-1zM98.6 266.9h1v1h-1zM59.7 265.0h1v1h-1zM93.5 260.7h1v1h-1zM59.2 254.8h1v1h-1zM119.9 267.2h1v1h-1zM116.9 268.5h1v1h-1zM68.3 263.4h1v1h-1zM69.1 267.0h1v1h-1zM71.0 257.6h1v1h-1zM83.7 247.1h1v1h-1zM117.0 267.2h1v1h-1zM122.4 258.8h1v1h-1zM117.2 251.0h1v1h-1zM84.7 265.7h1v1h-1zM75.0 280.0h1v1h-1zM70.1 250.6h1v1h-1zM66.6 263.0h1v1h-1zM95.3 267.4h1v1h-1zM68.4 265.7h1v1h-1zM68.1 267.6h1v1h-1zM111.4 265.8h1v1h-1zM69.9 251.9h1v1h-1zM121.9 270.6h1v1h-1zM76.1 264.0h1v1h-1zM93.2 267.4h1v1h-1zM79.1 282.4h1v1h-1zM103.9 253.5h1v1h-1zM74.8 263.8h1v1h-1zM78.3 260.7h1v1h-1zM119.1 256.5h1v1h-1zM104.9 259.8h1v1h-1zM59.9 260.2h1v1h-1zM92.4 256.5h1v1h-1zM114.0 267.4h1v1h-1zM80.5 280.2h1v1h-1zM103.2 260.0h1v1h-1zM75.7 258.1h1v1h-1zM69.1 249.2h1v1h-1zM59.6 250.9h1v1h-1zM69.9 245.1h1v1h-1zM78.5 253.2h1v1h-1zM117.6 270.0h1v1h-1zM86.3 257.8h1v1h-1zM67.5 254.7h1v1h-1zM82.8 262.6h1v1h-1zM106.3 260.3h1v1h-1zM119.0 277.5h1v1h-1zM113.0 254.4h1v1h-1zM117.9 250.7h1v1h-1zM73.6 254.1h1v1h-1zM66.7 275.1h1v1h-1zM79.1 258.8h1v1h-1zM70.2 270.1h1v1h-1zM82.9 249.2h1v1h-1zM74.0 262.7h1v1h-1zM111.2 262.2h1v1h-1zM70.8 254.5h1v1h-1zM88.1 244.7h1v1h-1zM67.2 262.9h1v1h-1zM95.8 272.1h1v1h-1zM71.4 258.7h1v1h-1zM62.6 256.9h1v1h-1zM73.6 264.2h1v1h-1zM101.5 244.7h1v1h-1zM90.8 264.4h1v1h-1zM92.2 268.5h1v1h-1zM70.2 254.2h1v1h-1zM81.1 259.2h1v1h-1zM119.4 250.9h1v1h-1zM95.6 271.8h1v1h-1zM97.0 269.6h1v1h-1zM121.5 253.5h1v1h-1zM116.7 266.2h1v1h-1zM97.1 255.4h1v1h-1zM60.0 263.2h1v1h-1zM62.1 274.8h1v1h-1zM63.2 267.9h1v1h-1zM87.9 264.1h1v1h-1zM83.0 278.7h1v1h-1zM64.6 271.0h1v1h-1zM121.3 265.2h1v1h-1zM108.1 269.7h1v1h-1zM96.2 257.8h1v1h-1zM86.2 262.2h1v1h-1zM76.7 254.1h1v1h-1zM59.8 256.8h1v1h-1zM71.5 256.7h1v1h-1zM90.5 267.9h1v1h-1zM105.7 259.5h1v1h-1zM75.9 245.1h1v1h-1zM63.6 255.0h1v1h-1zM59.3 265.2h1v1h-1zM107.5 256.3h1v1h-1zM70.2 259.1h1v1h-1zM115.0 259.6h1v1h-1zM73.1 259.6h1v1h-1zM71.0 252.1h1v1h-1zM78.8 258.9h1v1h-1zM91.3 283.9h1v1h-1zM88.7 248.2h1v1h-1zM67.0 266.6h1v1h-1zM69.9 275.2h1v1h-1zM91.3 263.1h1v1h-1zM86.4 271.6h1v1h-1zM92.3 253.6h1v1h-1zM67.3 284.1h1v1h-1zM92.2 268.4h1v1h-1zM95.1 274.6h1v1h-1zM59.8 266.8h1v1h-1zM102.0 265.1h1v1h-1zM87.2 272.0h1v1h-1zM75.5 257.3h1v1h-1zM104.3 252.6h1v1h-1zM100.2 263.3h1v1h-1zM59.3 271.8h1v1h-1zM90.0 263.2h1v1h-1zM114.0 275.7h1v1h-1zM96.6 264.6h1v1h-1zM85.1 257.9h1v1h-1zM102.1 278.2h1v1h-1zM96.0 276.4h1v1h-1zM76.5 260.3h1v1h-1zM94.9 257.3h1v1h-1zM86.3 268.5h1v1h-1zM98.7 255.3h1v1h-1zM65.6 265.0h1v1h-1zM106.8 260.4h1v1h-1zM69.1 276.8h1v1h-1zM108.5 252.7h1v1h-1zM74.6 270.0h1v1h-1zM94.9 267.9h1v1h-1zM71.5 263.7h1v1h-1zM92.1 269.1h1v1h-1zM69.8 284.9h1v1h-1zM89.9 248.3h1v1h-1zM90.6 270.8h1v1h-1zM66.5 264.7h1v1h-1zM72.7 271.4h1v1h-1zM71.7 251.1h1v1h-1zM72.5 266.1h1v1h-1zM62.7 271.0h1v1h-1zM102.2 256.0h1v1h-1zM110.2 263.5h1v1h-1zM61.6 254.4h1v1h-1zM66.9 255.1h1v1h-1zM66.0 259.8h1v1h-1zM117.7 264.9h1v1h-1zM104.5 262.7h1v1h-1zM94.4 266.4h1v1h-1zM78.5 267.4h1v1h-1zM97.0 270.9h1v1h-1zM74.9 264.9h1v1h-1zM118.1 254.7h1v1h-1zM104.2 245.5h1v1h-1zM89.6 269.8h1v1h-1zM63.2 266.3h1v1h-1zM113.1 259.5h1v1h-1zM69.2 266.0h1v1h-1zM65.8 252.9h1v1h-1zM84.9 288.3h1v1h-1zM68.4 258.5h1v1h-1zM89.7 261.9h1v1h-1zM71.1 267.4h1v1h-1zM84.8 262.1h1v1h-1zM107.3 262.5h1v1h-1zM66.1 269.6h1v1h-1zM97.5 267.4h1v1h-1zM84.5 265.7h1v1h-1zM97.2 267.3h1v1h-1zM77.9 257.3h1v1h-1zM105.8 262.0h1v1h-1zM108.0 257.7h1v1h-1zM86.2 273.3h1v1h-1zM60.8 259.1h1v1h-1zM112.5 251.8h1v1h-1zM71.3 264.1h1v1h-1zM61.6 261.4h1v1h-1zM116.9 269.7h1v1h-1zM72.2 267.0h1v1h-1zM79.2 260.6h1v1h-1zM90.6 276.9h1v1h-1zM67.5 263.4h1v1h-1zM66.0 259.1h1v1h-1zM61.5 266.6h1v1h-1zM91.5 242.6h1v1h-1zM68.0 265.5h1v1h-1zM81.9 273.8h1v1h-1zM62.6 270.2h1v1h-1zM109.4 257.4h1v1h-1zM62.5 247.0h1v1h-1zM115.3 266.6h1v1h-1zM70.3 268.0h1v1h-1zM81.1 273.5h1v1h-1zM61.9 253.9h1v1h-1zM109.4 264.1h1v1h-1zM71.1 259.2h1v1h-1zM90.4 273.1h1v1h-1zM68.6 242.9h1v1h-1zM80.1 251.4h1v1h-1zM66.4 260.1h1v1h-1zM107.6 268.4h1v1h-1zM105.3 253.1h1v1h-1zM70.3 260.4h1v1h-1zM114.2 253.7h1v1h-1zM60.3 268.7h1v1h-1zM80.5 252.6h1v1h-1zM84.8 269.9h1v1h-1zM107.6 271.1h1v1h-1zM104.9 269.1h1v1h-1zM122.2 256.0h1v1h-1zM68.6 248.5h1v1h-1zM59.1 253.5h1v1h-1zM118.8 266.1h1v1h-1zM98.9 249.7h1v1h-1zM78.5 263.7h1v1h-1zM88.4 278.3h1v1h-1zM72.4 276.5h1v1h-1zM92.3 266.8h1v1h-1zM91.0 262.7h1v1h-1zM83.2 264.8h1v1h-1zM73.5 280.9h1v1h-1zM59.2 265.1h1v1h-1zM92.6 254.5h1v1h-1zM102.4 257.6h1v1h-1zM74.3 251.5h1v1h-1zM66.7 279.5h1v1h-1zM66.5 259.9h1v1h-1zM69.5 249.5h1v1h-1zM101.1 256.8h1v1h-1zM79.7 272.5h1v1h-1zM77.3 255.7h1v1h-1zM63.6 260.6h1v1h-1zM69.1 266.4h1v1h-1zM83.2 264.3h1v1h-1zM70.4 268.1h1v1h-1zM75.3 261.4h1v1h-1zM96.5 252.2h1v1h-1zM86.3 279.1h1v1h-1zM81.1 283.6h1v1h-1zM73.2 250.3h1v1h-1zM88.9 244.7h1v1h-1zM79.1 241.8h1v1h-1zM99.1 273.2h1v1h-1zM100.6 260.8h1v1h-1zM75.4 276.7h1v1h-1zM109.2 267.7h1v1h-1zM75.8 264.2h1v1h-1zM101.0 251.5h1v1h-1zM63.4 237.1h1v1h-1zM74.8 252.9h1v1h-1zM103.7 253.6h1v1h-1zM82.8 266.1h1v1h-1zM92.1 261.6h1v1h-1zM91.3 279.7h1v1h-1zM77.7 252.0h1v1h-1zM97.6 265.9h1v1h-1zM63.3 262.3h1v1h-1zM95.7 257.4h1v1h-1zM119.3 269.2h1v1h-1zM92.1 267.1h1v1h-1zM71.4 264.4h1v1h-1zM75.1 249.7h1v1h-1zM88.0 269.0h1v1h-1zM108.5 260.5h1v1h-1zM97.2 260.1h1v1h-1zM59.3 255.0h1v1h-1zM64.0 271.0h1v1h-1zM79.6 256.4h1v1h-1zM119.6 265.3h1v1h-1zM111.7 265.1h1v1h-1zM99.2 272.0h1v1h-1zM75.1 245.8h1v1h-1zM67.8 263.9h1v1h-1zM110.4 252.0h1v1h-1zM89.6 261.7h1v1h-1zM63.5 263.4h1v1h-1zM118.4 256.1h1v1h-1zM102.4 259.1h1v1h-1zM77.4 250.3h1v1h-1zM98.8 255.1h1v1h-1zM85.8 279.0h1v1h-1zM87.0 261.9h1v1h-1zM78.0 264.8h1v1h-1zM71.1 264.9h1v1h-1zM69.2 264.3h1v1h-1zM65.6 246.3h1v1h-1zM63.8 271.9h1v1h-1zM88.9 276.7h1v1h-1zM80.8 268.3h1v1h-1zM78.1 263.3h1v1h-1zM93.8 257.2h1v1h-1zM103.5 269.8h1v1h-1zM92.8 265.8h1v1h-1zM85.0 248.3h1v1h-1zM65.0 260.9h1v1h-1zM85.2 271.7h1v1h-1zM67.3 242.1h1v1h-1zM73.7 265.7h1v1h-1zM112.9 252.8h1v1h-1zM114.5 279.9h1v1h-1zM84.4 264.1h1v1h-1zM72.4 271.7h1v1h-1zM98.8 266.3h1v1h-1zM83.5 247.7h1v1h-1zM67.6 268.8h1v1h-1zM93.9 271.4h1v1h-1zM71.7 255.2h1v1h-1zM80.1 273.1h1v1h-1zM87.8 296.5h1v1h-1zM76.2 252.8h1v1h-1zM77.9 254.7h1v1h-1zM79.8 253.7h1v1h-1zM90.2 251.5h1v1h-1zM98.7 261.6h1v1h-1zM115.9 247.7h1v1h-1zM65.2 284.9h1v1h-1zM96.5 261.2h1v1h-1zM116.5 266.7h1v1h-1zM87.6 263.3h1v1h-1zM105.1 250.7h1v1h-1zM98.0 268.0h1v1h-1zM86.9 265.7h1v1h-1zM73.6 247.7h1v1h-1zM59.9 259.8h1v1h-1zM85.7 269.7h1v1h-1zM107.1 262.2h1v1h-1zM81.0 270.8h1v1h-1zM93.0 275.5h1v1h-1zM70.2 252.4h1v1h-1zM80.9 266.0h1v1h-1zM63.8 249.3h1v1h-1zM87.3 268.5h1v1h-1zM67.7 272.6h1v1h-1zM87.5 260.0h1v1h-1zM73.5 269.6h1v1h-1zM86.2 256.1h1v1h-1zM81.7 252.7h1v1h-1zM60.9 259.4h1v1h-1zM104.3 257.7h1v1h-1zM83.2 258.2h1v1h-1zM100.5 257.2h1v1h-1zM64.7 264.5h1v1h-1zM64.0 254.4h1v1h-1zM91.9 258.9h1v1h-1zM70.8 266.1h1v1h-1zM76.1 269.3h1v1h-1zM86.5 272.9h1v1h-1zM77.6 271.1h1v1h-1zM69.3 252.4h1v1h-1zM71.1 251.0h1v1h-1zM75.8 254.4h1v1h-1zM110.2 257.7h1v1h-1zM86.3 261.4h1v1h-1zM63.8 250.8h1v1h-1zM99.0 250.3h1v1h-1zM102.0 269.1h1v1h-1zM99.5 263.1h1v1h-1zM67.0 247.9h1v1h-1zM122.1 269.7h1v1h-1zM119.7 264.2h1v1h-1zM84.9 250.1h1v1h-1zM64.1 273.7h1v1h-1zM99.9 261.0h1v1h-1zM95.2 261.5h1v1h-1zM89.0 260.8h1v1h-1zM86.4 266.5h1v1h-1zM98.2 258.8h1v1h-1zM81.5 260.1h1v1h-1zM61.1 273.0h1v1h-1zM62.4 266.0h1v1h-1zM65.7 269.5h1v1h-1zM86.1 260.3h1v1h-1zM62.1 272.6h1v1h-1zM68.9 265.9h1v1h-1zM104.0 264.5h1v1h-1zM86.1 265.1h1v1h-1zM83.2 253.0h1v1h-1zM106.8 266.7h1v1h-1zM71.0 272.0h1v1h-1zM90.2 286.4h1v1h-1zM92.6 255.7h1v1h-1zM59.9 247.9h1v1h-1zM100.2 266.9h1v1h-1zM81.4 268.8h1v1h-1zM74.8 261.5h1v1h-1zM72.7 277.7h1v1h-1zM89.1 269.6h1v1h-1zM121.7 263.1h1v1h-1zM108.6 258.1h1v1h-1zM94.4 260.9h1v1h-1zM101.7 250.7h1v1h-1zM71.6 259.2h1v1h-1zM67.4 247.2h1v1h-1zM117.3 263.4h1v1h-1zM61.8 267.6h1v1h-1zM108.8 251.0h1v1h-1zM72.5 259.6h1v1h-1zM122.7 269.6h1v1h-1zM92.1 250.9h1v1h-1zM60.0 268.2h1v1h-1zM65.1 252.9h1v1h-1zM99.4 264.3h1v1h-1zM115.0 267.4h1v1h-1zM87.9 249.7h1v1h-1zM88.4 263.7h1v1h-1zM92.8 264.8h1v1h-1zM79.1 271.7h1v1h-1zM68.7 254.7h1v1h-1zM72.2 252.6h1v1h-1zM68.1 274.9h1v1h-1zM105.5 261.2h1v1h-1zM76.7 278.6h1v1h-1zM75.5 252.5h1v1h-1zM101.4 268.7h1v1h-1zM79.0 266.5h1v1h-1zM85.2 284.0h1v1h-1zM68.3 244.3h1v1h-1zM59.8 257.4h1v1h-1zM77.6 255.3h1v1h-1zM77.9 258.9h1v1h-1zM120.8 256.7h1v1h-1zM66.0 266.2h1v1h-1zM86.4 262.8h1v1h-1zM77.7 267.2h1v1h-1zM108.7 252.2h1v1h-1zM61.7 250.5h1v1h-1zM84.5 262.1h1v1h-1zM94.2 260.3h1v1h-1zM71.3 262.7h1v1h-1zM108.1 254.7h1v1h-1zM77.6 260.8h1v1h-1zM72.9 273.3h1v1h-1zM59.5 246.5h1v1h-1zM73.4 264.2h1v1h-1zM83.4 252.8h1v1h-1zM64.1 260.7h1v1h-1zM59.5 252.9h1v1h-1zM62.8 287.6h1v1h-1zM85.2 259.5h1v1h-1zM73.5 276.6h1v1h-1zM70.3 235.5h1v1h-1zM122.6 261.2h1v1h-1zM112.4 250.7h1v1h-1zM103.8 267.6h1v1h-1zM104.7 255.6h1v1h-1zM61.3 248.9h1v1h-1zM89.3 273.4h1v1h-1zM77.3 256.7h1v1h-1zM93.5 260.3h1v1h-1zM116.3 252.0h1v1h-1zM87.6 274.9h1v1h-1zM100.6 271.6h1v1h-1zM67.7 261.9h1v1h-1zM80.0 288.0h1v1h-1zM66.5 263.0h1v1h-1zM86.3 259.2h1v1h-1zM63.7 274.6h1v1h-1zM114.7 270.3h1v1h-1zM67.1 259.8h1v1h-1zM83.7 268.9h1v1h-1zM81.1 267.6h1v1h-1zM78.9 261.8h1v1h-1zM61.5 244.3h1v1h-1zM100.3 251.8h1v1h-1zM119.9 258.2h1v1h-1zM111.0 268.1h1v1h-1zM68.8 265.6h1v1h-1zM79.0 261.4h1v1h-1zM71.0 260.4h1v1h-1zM80.3 273.1h1v1h-1zM121.4 251.2h1v1h-1zM69.9 277.1h1v1h-1zM70.5 262.6h1v1h-1zM108.6 254.4h1v1h-1zM70.5 264.7h1v1h-1zM101.8 244.8h1v1h-1zM107.1 261.9h1v1h-1zM91.8 252.6h1v1h-1zM66.1 265.8h1v1h-1zM61.7 281.0h1v1h-1zM70.3 268.0h1v1h-1zM87.6 277.2h1v1h-1zM86.3 263.5h1v1h-1zM108.1 279.1h1v1h-1zM93.3 275.3h1v1h-1zM61.6 279.8h1v1h-1zM63.5 272.9h1v1h-1zM71.4 270.6h1v1h-1zM70.8 268.3h1v1h-1zM62.3 258.8h1v1h-1zM97.7 264.3h1v1h-1zM91.8 262.2h1v1h-1zM86.7 286.3h1v1h-1zM98.0 257.2h1v1h-1zM75.7 268.1h1v1h-1zM59.5 261.0h1v1h-1zM100.2 254.8h1v1h-1zM101.0 267.3h1v1h-1zM111.7 251.0h1v1h-1zM108.9 258.0h1v1h-1zM60.7 249.4h1v1h-1zM67.0 260.8h1v1h-1zM63.1 260.6h1v1h-1zM76.5 258.0h1v1h-1zM67.0 252.3h1v1h-1zM92.5 247.2h1v1h-1zM61.8 251.2h1v1h-1zM77.1 255.2h1v1h-1zM74.3 252.6h1v1h-1zM98.3 261.1h1v1h-1zM121.3 245.8h1v1h-1zM71.2 280.0h1v1h-1zM102.5 249.1h1v1h-1zM86.8 261.4h1v1h-1zM119.2 267.5h1v1h-1zM102.8 275.4h1v1h-1zM63.2 292.8h1v1h-1zM100.0 254.1h1v1h-1zM88.0 276.5h1v1h-1zM97.7 264.3h1v1h-1zM105.9 263.0h1v1h-1zM82.5 259.4h1v1h-1zM95.4 266.8h1v1h-1zM60.8 271.8h1v1h-1zM67.4 266.9h1v1h-1zM112.9 265.8h1v1h-1zM74.9 269.0h1v1h-1zM100.2 257.4h1v1h-1zM86.0 257.2h1v1h-1zM61.1 265.6h1v1h-1zM65.9 244.5h1v1h-1zM111.9 260.4h1v1h-1zM101.0 246.4h1v1h-1zM90.2 268.7h1v1h-1zM82.4 254.9h1v1h-1zM92.7 259.5h1v1h-1zM68.8 264.0h1v1h-1zM66.4 266.4h1v1h-1zM66.7 275.9h1v1h-1zM97.1 275.5h1v1h-1zM63.4 256.4h1v1h-1zM113.1 264.4h1v1h-1zM81.1 268.9h1v1h-1zM97.1 260.5h1v1h-1zM97.3 273.6h1v1h-1zM98.4 262.2h1v1h-1zM107.0 250.6h1v1h-1zM119.7 250.2h1v1h-1zM79.3 269.8h1v1h-1zM65.5 268.8h1v1h-1zM59.2 276.0h1v1h-1zM80.0 268.5h1v1h-1zM104.6 267.7h1v1h-1zM98.6 256.5h1v1h-1zM96.0 261.4h1v1h-1zM115.3 247.3h1v1h-1zM70.3 275.7h1v1h-1zM66.9 242.6h1v1h-1zM89.2 284.5h1v1h-1zM87.2 267.4h1v1h-1zM67.1 283.4h1v1h-1zM96.7 263.1h1v1h-1zM65.8 256.7h1v1h-1zM59.4 272.3h1v1h-1zM69.6 273.5h1v1h-1zM60.4 269.4h1v1h-1zM81.6 276.1h1v1h-1zM105.9 266.9h1v1h-1zM78.1 267.9h1v1h-1zM75.7 262.4h1v1h-1zM81.9 281.7h1v1h-1zM68.1 265.3h1v1h-1zM69.7 257.0h1v1h-1zM82.8 274.7h1v1h-1zM81.7 269.0h1v1h-1zM87.7 265.0h1v1h-1zM63.6 261.2h1v1h-1zM121.1 248.6h1v1h-1zM91.2 251.7h1v1h-1zM107.1 246.8h1v1h-1zM64.1 263.5h1v1h-1zM76.9 268.7h1v1h-1zM102.0 256.9h1v1h-1zM75.5 265.6h1v1h-1zM104.1 268.3h1v1h-1zM102.6 270.7h1v1h-1zM98.6 258.6h1v1h-1zM91.7 257.0h1v1h-1zM93.1 261.3h1v1h-1zM67.0 253.6h1v1h-1zM64.9 256.5h1v1h-1zM73.1 261.0h1v1h-1zM79.5 266.3h1v1h-1zM95.5 264.8h1v1h-1zM83.2 257.7h1v1h-1zM72.3 259.6h1v1h-1zM65.5 254.8h1v1h-1zM95.9 272.3h1v1h-1zM82.5 261.6h1v1h-1zM87.3 266.5h1v1h-1zM90.4 258.8h1v1h-1zM64.6 276.8h1v1h-1zM74.0 260.1h1v1h-1zM76.0 269.7h1v1h-1zM65.7 260.8h1v1h-1zM105.7 272.4h1v1h-1zM80.1 255.1h1v1h-1zM99.5 272.7h1v1h-1zM96.2 259.5h1v1h-1zM65.8 263.2h1v1h-1zM79.1 258.8h1v1h-1zM102.2 236.5h1v1h-1zM69.6 259.4h1v1h-1zM117.2 264.8h1v1h-1zM70.6 256.0h1v1h-1zM87.0 262.7h1v1h-1zM116.6 260.0h1v1h-1zM61.5 263.4h1v1h-1zM100.7 266.8h1v1h-1zM113.4 273.1h1v1h-1zM71.2 274.6h1v1h-1zM68.7 270.8h1v1h-1zM99.7 267.0h1v1h-1zM98.0 258.0h1v1h-1zM99.2 266.0h1v1h-1zM120.2 261.4h1v1h-1zM82.0 263.4h1v1h-1zM71.7 273.4h1v1h-1zM86.5 267.0h1v1h-1zM80.6 260.1h1v1h-1zM72.6 259.9h1v1h-1zM117.5 262.5h1v1h-1zM64.8 264.7h1v1h-1zM63.8 266.8h1v1h-1zM72.2 255.3h1v1h-1zM66.9 268.1h1v1h-1zM99.6 258.4h1v1h-1zM85.5 272.2h1v1h-1zM64.0 272.0h1v1h-1zM84.3 263.8h1v1h-1zM88.5 246.8h1v1h-1zM80.6 253.1h1v1h-1zM108.9 258.4h1v1h-1zM77.2 272.2h1v1h-1zM85.9 263.0h1v1h-1zM75.8 283.1h1v1h-1zM103.9 273.7h1v1h-1zM60.4 257.6h1v1h-1zM111.6 264.1h1v1h-1zM65.3 260.1h1v1h-1zM87.1 280.2h1v1h-1zM81.7 270.8h1v1h-1zM121.3 267.8h1v1h-1zM63.1 271.5h1v1h-1zM71.0 268.0h1v1h-1zM101.7 254.5h1v1h-1zM81.7 263.2h1v1h-1zM69.8 251.6h1v1h-1zM59.0 258.8h1v1h-1zM68.3 273.9h1v1h-1zM72.0 278.1h1v1h-1zM116.4 267.8h1v1h-1zM100.2 249.4h1v1h-1zM96.4 281.8h1v1h-1zM82.3 267.1h1v1h-1zM118.2 276.0h1v1h-1zM72.9 255.3h1v1h-1zM67.7 255.2h1v1h-1zM83.5 266.1h1v1h-1zM69.4 261.8h1v1h-1zM89.0 273.4h1v1h-1zM62.9 250.4h1v1h-1zM90.6 262.3h1v1h-1zM96.8 264.9h1v1h-1zM74.5 267.5h1v1h-1zM84.5 266.9h1v1h-1zM80.0 251.8h1v1h-1zM63.3 261.0h1v1h-1zM100.9 265.0h1v1h-1zM88.4 277.8h1v1h-1zM107.9 261.2h1v1h-1zM67.7 272.9h1v1h-1zM82.1 275.2h1v1h-1zM86.4 268.0h1v1h-1zM83.5 278.1h1v1h-1zM67.1 254.6h1v1h-1zM78.4 250.9h1v1h-1zM106.5 264.5h1v1h-1zM102.0 265.7h1v1h-1zM59.3 258.1h1v1h-1zM102.4 256.7h1v1h-1zM77.9 278.6h1v1h-1zM73.8 255.8h1v1h-1zM64.9 260.5h1v1h-1zM65.2 246.8h1v1h-1zM113.0 266.8h1v1h-1zM121.9 271.9h1v1h-1zM117.5 267.0h1v1h-1zM93.0 267.7h1v1h-1zM79.9 263.9h1v1h-1zM77.0 262.7h1v1h-1zM82.0 244.7h1v1h-1zM62.3 247.8h1v1h-1zM72.0 261.8h1v1h-1zM82.7 275.4h1v1h-1zM120.4 268.4h1v1h-1zM73.1 262.1h1v1h-1zM93.7 267.3h1v1h-1zM84.9 270.8h1v1h-1zM84.2 265.0h1v1h-1zM87.3 280.0h1v1h-1zM73.6 261.2h1v1h-1zM67.7 257.6h1v1h-1zM80.4 264.7h1v1h-1zM66.4 257.9h1v1h-1zM118.2 272.0h1v1h-1zM106.8 266.8h1v1h-1zM93.7 243.0h1v1h-1zM103.8 265.0h1v1h-1zM99.3 268.8h1v1h-1zM69.7 262.8h1v1h-1zM61.3 264.4h1v1h-1zM113.7 258.4h1v1h-1zM74.1 279.1h1v1h-1zM61.9 265.2h1v1h-1zM66.1 247.7h1v1h-1zM62.5 253.3h1v1h-1zM73.0 274.5h1v1h-1zM79.5 271.7h1v1h-1zM71.0 264.6h1v1h-1zM94.6 258.8h1v1h-1zM73.0 272.2h1v1h-1zM103.6 263.8h1v1h-1zM102.4 257.9h1v1h-1zM103.0 256.1h1v1h-1zM80.6 275.0h1v1h-1zM71.7 264.9h1v1h-1zM106.8 260.4h1v1h-1zM97.2 265.2h1v1h-1zM113.9 269.6h1v1h-1zM87.2 274.7h1v1h-1zM61.4 276.9h1v1h-1zM78.6 272.5h1v1h-1zM59.2 268.1h1v1h-1zM76.7 252.6h1v1h-1zM93.2 267.9h1v1h-1zM108.1 257.4h1v1h-1zM60.7 284.1h1v1h-1zM94.4 256.5h1v1h-1zM85.1 273.9h1v1h-1zM106.2 261.8h1v1h-1zM61.4 251.2h1v1h-1zM76.7 271.8h1v1h-1zM104.8 261.5h1v1h-1zM108.0 262.1h1v1h-1zM112.3 259.1h1v1h-1zM102.4 257.1h1v1h-1zM121.3 264.6h1v1h-1zM67.9 246.9h1v1h-1zM63.5 278.1h1v1h-1zM61.4 249.3h1v1h-1zM121.2 241.5h1v1h-1zM65.1 255.8h1v1h-1zM97.5 253.3h1v1h-1zM87.1 266.3h1v1h-1zM90.2 259.5h1v1h-1zM71.3 267.6h1v1h-1zM71.5 258.9h1v1h-1zM75.2 261.2h1v1h-1zM103.9 270.9h1v1h-1zM76.0 265.0h1v1h-1zM68.7 265.3h1v1h-1zM59.9 269.0h1v1h-1zM115.6 248.6h1v1h-1zM108.3 269.0h1v1h-1zM94.1 252.4h1v1h-1zM70.4 262.5h1v1h-1zM69.8 264.2h1v1h-1zM118.4 253.6h1v1h-1zM113.3 264.9h1v1h-1zM78.8 258.4h1v1h-1zM119.9 261.5h1v1h-1zM101.6 257.0h1v1h-1zM78.6 276.9h1v1h-1zM104.5 268.3h1v1h-1zM88.2 270.8h1v1h-1zM82.8 265.4h1v1h-1zM92.6 252.6h1v1h-1zM80.4 235.9h1v1h-1zM64.7 260.5h1v1h-1zM65.2 274.0h1v1h-1zM92.7 262.2h1v1h-1zM74.1 266.3h1v1h-1zM94.4 258.5h1v1h-1zM118.7 260.4h1v1h-1zM65.0 265.9h1v1h-1zM99.1 247.3h1v1h-1zM120.4 264.8h1v1h-1zM60.2 275.2h1v1h-1zM59.4 269.1h1v1h-1zM79.0 274.7h1v1h-1zM60.8 266.9h1v1h-1zM69.2 273.0h1v1h-1zM81.8 267.5h1v1h-1zM109.2 261.6h1v1h-1zM89.5 270.8h1v1h-1zM76.8 267.2h1v1h-1zM77.9 260.6h1v1h-1zM84.8 266.0h1v1h-1zM62.7 274.1h1v1h-1zM113.5 270.9h1v1h-1zM113.0 269.8h1v1h-1zM116.0 261.9h1v1h-1zM75.3 260.8h1v1h-1zM62.3 269.0h1v1h-1zM73.5 273.7h1v1h-1zM112.2 258.3h1v1h-1zM77.2 249.4h1v1h-1zM103.5 252.3h1v1h-1zM116.0 246.4h1v1h-1zM105.2 259.3h1v1h-1zM64.2 260.4h1v1h-1zM99.4 250.8h1v1h-1zM66.1 253.1h1v1h-1zM69.2 249.0h1v1h-1zM87.4 271.9h1v1h-1zM61.7 279.5h1v1h-1zM65.7 255.7h1v1h-1zM114.9 249.7h1v1h-1zM67.4 259.3h1v1h-1zM84.0 275.4h1v1h-1zM60.1 252.6h1v1h-1zM92.0 253.5h1v1h-1zM99.3 270.7h1v1h-1zM59.3 255.3h1v1h-1zM67.7 256.8h1v1h-1zM66.6 267.5h1v1h-1zM60.5 272.5h1v1h-1zM59.3 266.1h1v1h-1zM60.5 270.8h1v1h-1zM68.6 271.3h1v1h-1zM84.6 257.6h1v1h-1zM69.3 273.2h1v1h-1zM68.3 264.1h1v1h-1zM96.8 273.4h1v1h-1zM72.6 264.1h1v1h-1zM104.0 284.5h1v1h-1zM90.8 246.3h1v1h-1zM84.2 259.6h1v1h-1zM71.5 275.9h1v1h-1zM69.0 272.6h1v1h-1zM63.4 265.1h1v1h-1zM107.1 271.6h1v1h-1zM70.9 273.4h1v1h-1zM106.5 271.9h1v1h-1zM76.6 279.6h1v1h-1zM80.1 247.6h1v1h-1zM65.2 277.1h1v1h-1zM75.2 265.9h1v1h-1zM65.2 268.1h1v1h-1zM108.3 252.3h1v1h-1zM90.6 270.3h1v1h-1zM120.7 263.3h1v1h-1zM90.0 254.9h1v1h-1zM120.9 263.7h1v1h-1zM68.2 274.4h1v1h-1zM99.5 261.6h1v1h-1zM85.8 253.5h1v1h-1zM86.8 269.3h1v1h-1zM60.9 269.7h1v1h-1zM90.5 264.7h1v1h-1zM76.2 268.7h1v1h-1zM67.8 249.4h1v1h-1zM67.2 270.0h1v1h-1zM102.9 254.7h1v1h-1zM70.4 265.6h1v1h-1zM73.8 257.7h1v1h-1zM63.6 269.9h1v1h-1zM106.7 248.3h1v1h-1zM115.9 260.9h1v1h-1zM77.5 253.5h1v1h-1zM108.4 252.6h1v1h-1zM113.4 264.8h1v1h-1zM74.9 275.7h1v1h-1zM76.3 246.4h1v1h-1zM99.3 268.6h1v1h-1zM64.3 268.7h1v1h-1zM68.2 260.1h1v1h-1zM59.5 268.4h1v1h-1zM80.1 272.3h1v1h-1zM70.3 264.9h1v1h-1zM63.8 266.6h1v1h-1zM74.7 263.9h1v1h-1zM77.7 250.3h1v1h-1zM71.5 256.3h1v1h-1zM64.6 253.0h1v1h-1zM99.9 262.0h1v1h-1zM61.9 274.7h1v1h-1zM66.7 253.6h1v1h-1zM59.7 259.3h1v1h-1zM80.4 274.3h1v1h-1zM117.1 254.9h1v1h-1zM99.1 265.9h1v1h-1zM60.7 277.9h1v1h-1zM94.8 274.2h1v1h-1zM114.6 249.1h1v1h-1zM101.9 264.3h1v1h-1zM116.4 261.9h1v1h-1zM88.0 267.5h1v1h-1zM91.4 269.7h1v1h-1zM103.3 256.3h1v1h-1zM102.7 264.7h1v1h-1zM78.7 266.8h1v1h-1zM112.0 241.2h1v1h-1zM111.8 255.0h1v1h-1zM65.0 278.5h1v1h-1zM121.1 248.6h1v1h-1zM106.5 256.3h1v1h-1zM75.6 251.0h1v1h-1zM81.6 263.0h1v1h-1zM64.2 284.2h1v1h-1zM64.3 267.8h1v1h-1zM83.5 250.3h1v1h-1zM66.6 264.9h1v1h-1zM108.0 266.1h1v1h-1zM80.9 273.9h1v1h-1zM86.0 266.0h1v1h-1zM62.5 269.1h1v1h-1zM64.4 254.3h1v1h-1zM83.8 260.4h1v1h-1zM73.8 262.1h1v1h-1zM86.4 255.9h1v1h-1zM71.1 274.0h1v1h-1zM116.3 271.4h1v1h-1zM119.8 269.5h1v1h-1zM110.5 269.0h1v1h-1zM89.7 265.0h1v1h-1zM73.7 255.1h1v1h-1zM90.6 244.3h1v1h-1zM69.0 273.0h1v1h-1zM79.1 252.5h1v1h-1zM97.8 269.3h1v1h-1zM97.1 255.6h1v1h-1zM115.2 260.6h1v1h-1zM67.7 279.7h1v1h-1zM76.7 273.4h1v1h-1zM85.5 275.9h1v1h-1zM113.0 261.4h1v1h-1zM98.7 270.0h1v1h-1zM72.0 261.8h1v1h-1zM116.1 250.4h1v1h-1zM59.9 255.2h1v1h-1zM64.5 280.8h1v1h-1zM85.7 248.4h1v1h-1zM69.8 257.0h1v1h-1zM60.2 250.4h1v1h-1zM69.9 262.4h1v1h-1zM79.7 259.0h1v1h-1zM85.2 274.4h1v1h-1zM113.1 266.8h1v1h-1zM118.4 267.8h1v1h-1zM85.7 258.1h1v1h-1zM96.0 256.8h1v1h-1zM73.4 265.1h1v1h-1zM111.3 267.9h1v1h-1zM68.9 256.0h1v1h-1zM116.3 258.2h1v1h-1zM69.9 256.2h1v1h-1zM94.1 273.0h1v1h-1zM102.7 269.5h1v1h-1zM64.6 269.5h1v1h-1zM78.1 265.1h1v1h-1zM93.8 255.0h1v1h-1zM87.5 265.8h1v1h-1zM66.6 266.3h1v1h-1zM76.8 276.1h1v1h-1zM108.2 261.8h1v1h-1zM94.4 274.4h1v1h-1zM64.4 274.4h1v1h-1zM65.8 255.5h1v1h-1zM98.6 265.0h1v1h-1zM102.3 255.6h1v1h-1zM80.1 263.5h1v1h-1zM79.0 274.3h1v1h-1zM85.2 282.2h1v1h-1zM97.0 275.1h1v1h-1zM66.9 267.6h1v1h-1zM74.5 239.7h1v1h-1zM74.9 249.1h1v1h-1zM97.9 257.2h1v1h-1zM115.6 270.9h1v1h-1zM104.7 268.6h1v1h-1zM85.2 261.3h1v1h-1zM82.8 263.9h1v1h-1zM69.3 262.8h1v1h-1zM107.7 268.8h1v1h-1zM66.3 265.5h1v1h-1zM107.2 264.4h1v1h-1zM107.0 264.4h1v1h-1zM66.2 267.3h1v1h-1zM67.2 260.3h1v1h-1zM104.5 266.1h1v1h-1zM84.0 273.9h1v1h-1zM107.6 270.2h1v1h-1zM116.8 268.6h1v1h-1zM81.9 273.6h1v1h-1zM62.0 241.3h1v1h-1zM63.3 251.2h1v1h-1zM65.7 281.8h1v1h-1zM63.2 269.6h1v1h-1zM61.5 257.1h1v1h-1zM67.3 280.9h1v1h-1zM100.7 258.5h1v1h-1zM82.8 263.0h1v1h-1zM121.5 262.4h1v1h-1zM60.4 262.0h1v1h-1zM108.5 255.2h1v1h-1zM94.3 269.2h1v1h-1zM95.1 248.5h1v1h-1zM114.0 263.2h1v1h-1zM88.3 252.8h1v1h-1zM75.5 269.7h1v1h-1zM98.6 270.0h1v1h-1zM60.1 261.7h1v1h-1zM80.8 253.3h1v1h-1zM77.4 252.6h1v1h-1zM79.9 266.9h1v1h-1zM75.0 253.2h1v1h-1zM73.0 272.8h1v1h-1zM77.9 263.5h1v1h-1zM64.3 247.5h1v1h-1zM92.8 278.1h1v1h-1zM79.3 257.5h1v1h-1zM90.3 267.6h1v1h-1zM92.0 257.0h1v1h-1zM73.4 270.5h1v1h-1zM115.5 253.3h1v1h-1zM60.8 260.0h1v1h-1zM118.7 260.9h1v1h-1zM73.1 257.1h1v1h-1zM66.3 274.9h1v1h-1zM70.4 250.8h1v1h-1zM94.6 263.5h1v1h-1zM75.3 267.5h1v1h-1zM104.4 261.1h1v1h-1zM103.1 256.8h1v1h-1zM93.3 253.0h1v1h-1zM114.2 270.0h1v1h-1zM71.5 269.8h1v1h-1zM120.1 270.5h1v1h-1zM74.8 274.5h1v1h-1zM60.3 262.4h1v1h-1zM116.5 258.0h1v1h-1zM88.8 273.9h1v1h-1zM90.0 255.4h1v1h-1zM100.0 263.0h1v1h-1zM89.3 280.9h1v1h-1zM104.9 267.4h1v1h-1zM118.3 251.4h1v1h-1zM80.2 255.9h1v1h-1zM120.7 271.0h1v1h-1zM97.5 260.2h1v1h-1zM84.4 248.6h1v1h-1zM84.0 255.8h1v1h-1zM69.5 266.0h1v1h-1zM95.8 249.9h1v1h-1zM63.5 266.7h1v1h-1zM60.4 266.0h1v1h-1zM60.6 262.8h1v1h-1zM64.0 258.1h1v1h-1zM73.2 268.1h1v1h-1zM120.1 263.5h1v1h-1zM62.6 271.4h1v1h-1zM85.0 258.8h1v1h-1zM92.8 260.3h1v1h-1zM71.5 274.2h1v1h-1zM71.7 251.6h1v1h-1zM66.5 281.6h1v1h-1zM75.3 287.4h1v1h-1zM89.1 253.2h1v1h-1zM62.6 275.9h1v1h-1zM107.2 256.8h1v1h-1zM113.2 268.4h1v1h-1zM101.2 256.1h1v1h-1zM85.7 274.7h1v1h-1zM76.9 248.3h1v1h-1zM118.9 266.9h1v1h-1zM89.6 252.1h1v1h-1zM80.3 268.6h1v1h-1zM115.0 265.5h1v1h-1zM84.6 265.3h1v1h-1zM90.9 254.6h1v1h-1zM71.5 267.8h1v1h-1zM97.1 274.3h1v1h-1zM80.2 280.0h1v1h-1zM114.5 270.6h1v1h-1zM98.2 266.2h1v1h-1zM67.4 261.6h1v1h-1zM79.4 265.4h1v1h-1zM116.7 246.4h1v1h-1zM74.3 269.9h1v1h-1zM121.6 270.2h1v1h-1zM67.6 253.8h1v1h-1zM80.4 266.8h1v1h-1zM109.3 270.4h1v1h-1zM95.0 271.1h1v1h-1zM59.7 265.6h1v1h-1zM83.3 271.6h1v1h-1zM74.1 242.0h1v1h-1zM69.3 252.1h1v1h-1zM90.2 266.4h1v1h-1zM89.4 257.3h1v1h-1zM88.6 251.7h1v1h-1zM82.4 255.0h1v1h-1zM81.8 258.5h1v1h-1zM79.3 272.8h1v1h-1zM80.1 276.5h1v1h-1zM98.4 268.0h1v1h-1zM73.2 261.1h1v1h-1zM85.4 271.5h1v1h-1zM120.5 251.8h1v1h-1zM59.1 263.5h1v1h-1zM105.3 253.3h1v1h-1zM66.0 260.6h1v1h-1zM93.8 249.5h1v1h-1zM74.5 260.3h1v1h-1zM117.5 283.4h1v1h-1zM83.7 274.7h1v1h-1zM73.8 264.6h1v1h-1zM92.3 255.6h1v1h-1zM62.5 250.8h1v1h-1zM94.5 282.2h1v1h-1zM62.1 251.5h1v1h-1zM81.6 248.8h1v1h-1zM75.2 261.8h1v1h-1zM85.1 256.6h1v1h-1zM92.5 259.6h1v1h-1zM110.7 246.9h1v1h-1zM75.6 247.0h1v1h-1zM85.1 252.4h1v1h-1zM115.0 269.2h1v1h-1zM65.2 267.8h1v1h-1zM80.8 274.2h1v1h-1zM68.6 268.1h1v1h-1zM97.8 287.8h1v1h-1zM95.9 259.0h1v1h-1zM61.4 248.3h1v1h-1zM63.9 276.2h1v1h-1zM105.2 267.0h1v1h-1zM60.4 252.7h1v1h-1zM72.3 255.4h1v1h-1zM98.6 264.6h1v1h-1zM65.6 263.5h1v1h-1zM121.8 269.4h1v1h-1zM79.6 263.4h1v1h-1zM66.9 275.3h1v1h-1zM88.8 251.9h1v1h-1zM90.4 257.4h1v1h-1zM92.1 277.0h1v1h-1zM84.3 268.8h1v1h-1zM88.9 257.0h1v1h-1zM86.1 286.3h1v1h-1zM88.0 258.1h1v1h-1zM92.6 260.4h1v1h-1zM85.6 279.2h1v1h-1zM65.1 254.6h1v1h-1zM109.4 264.4h1v1h-1zM82.7 257.5h1v1h-1zM121.7 270.0h1v1h-1zM66.6 263.6h1v1h-1zM88.8 278.0h1v1h-1zM97.5 239.7h1v1h-1zM105.5 277.4h1v1h-1zM74.0 268.4h1v1h-1zM102.8 257.1h1v1h-1zM108.1 256.9h1v1h-1zM65.8 284.9h1v1h-1zM94.9 262.3h1v1h-1zM111.8 260.7h1v1h-1zM66.3 284.9h1v1h-1zM66.5 248.8h1v1h-1zM92.1 273.3h1v1h-1zM61.7 280.3h1v1h-1zM122.9 257.0h1v1h-1zM83.9 281.1h1v1h-1zM65.3 271.8h1v1h-1zM113.1 270.0h1v1h-1zM97.1 260.6h1v1h-1zM76.1 248.4h1v1h-1zM78.3 269.8h1v1h-1zM71.4 261.7h1v1h-1zM62.8 265.9h1v1h-1zM62.4 264.0h1v1h-1zM80.5 254.9h1v1h-1zM98.0 245.2h1v1h-1zM71.8 265.6h1v1h-1zM61.5 262.8h1v1h-1zM74.5 252.7h1v1h-1zM82.6 258.2h1v1h-1zM74.5 256.1h1v1h-1zM119.3 267.9h1v1h-1zM114.7 256.6h1v1h-1zM88.2 247.9h1v1h-1zM89.1 250.5h1v1h-1zM59.9 255.1h1v1h-1zM121.9 242.5h1v1h-1zM70.0 270.5h1v1h-1zM117.0 272.1h1v1h-1zM94.4 252.2h1v1h-1zM68.3 267.5h1v1h-1zM73.0 257.3h1v1h-1zM86.4 266.8h1v1h-1zM113.4 266.6h1v1h-1zM75.6 267.2h1v1h-1zM106.7 254.6h1v1h-1zM98.6 262.6h1v1h-1zM84.8 278.4h1v1h-1zM61.9 257.6h1v1h-1zM88.7 267.9h1v1h-1zM70.8 272.0h1v1h-1zM93.1 267.8h1v1h-1zM68.9 258.4h1v1h-1zM86.1 256.9h1v1h-1zM102.6 267.1h1v1h-1zM110.1 262.4h1v1h-1zM111.9 241.9h1v1h-1zM65.9 255.3h1v1h-1zM74.2 271.9h1v1h-1zM79.7 259.1h1v1h-1zM76.7 267.2h1v1h-1zM76.3 261.5h1v1h-1zM112.7 251.3h1v1h-1zM95.6 271.1h1v1h-1zM95.5 262.3h1v1h-1zM82.9 256.7h1v1h-1zM70.2 267.2h1v1h-1zM86.9 261.5h1v1h-1zM63.5 272.3h1v1h-1zM63.3 257.2h1v1h-1zM70.2 267.3h1v1h-1zM80.8 257.3h1v1h-1zM60.4 258.4h1v1h-1zM74.0 267.0h1v1h-1zM120.7 259.2h1v1h-1zM64.0 257.4h1v1h-1zM78.8 269.9h1v1h-1zM119.4 263.3h1v1h-1zM99.5 266.3h1v1h-1zM84.1 250.9h1v1h-1zM68.8 272.8h1v1h-1zM107.8 244.7h1v1h-1zM67.2 239.8h1v1h-1zM67.7 273.6h1v1h-1zM61.7 257.8h1v1h-1zM99.4 263.6h1v1h-1zM75.4 270.8h1v1h-1zM106.1 234.6h1v1h-1zM110.0 266.0h1v1h-1zM87.6 279.4h1v1h-1zM65.2 251.1h1v1h-1zM108.2 259.6h1v1h-1zM81.4 263.4h1v1h-1zM100.4 259.7h1v1h-1zM83.0 258.3h1v1h-1zM75.1 263.8h1v1h-1zM69.3 273.0h1v1h-1zM79.3 274.4h1v1h-1zM110.5 271.2h1v1h-1zM78.2 274.1h1v1h-1zM81.0 265.3h1v1h-1zM92.3 268.5h1v1h-1zM94.6 259.7h1v1h-1zM86.2 276.9h1v1h-1zM72.1 256.0h1v1h-1zM61.2 270.6h1v1h-1zM65.7 263.0h1v1h-1zM76.4 275.1h1v1h-1zM82.5 262.7h1v1h-1zM100.2 272.4h1v1h-1zM67.2 252.3h1v1h-1zM120.3 265.1h1v1h-1zM102.7 265.0h1v1h-1zM114.6 245.1h1v1h-1zM74.1 287.7h1v1h-1zM79.2 265.4h1v1h-1zM102.5 253.8h1v1h-1zM91.8 252.8h1v1h-1zM69.4 243.6h1v1h-1zM65.7 266.0h1v1h-1zM68.9 250.4h1v1h-1zM92.2 265.2h1v1h-1zM100.0 263.1h1v1h-1zM78.5 262.5h1v1h-1zM66.9 257.0h1v1h-1zM99.2 254.5h1v1h-1zM69.6 257.2h1v1h-1zM103.1 259.8h1v1h-1zM86.3 265.7h1v1h-1zM106.4 249.2h1v1h-1zM108.5 257.4h1v1h-1zM70.1 272.4h1v1h-1zM74.9 275.4h1v1h-1zM90.7 265.7h1v1h-1zM96.2 285.1h1v1h-1zM113.7 260.0h1v1h-1zM82.3 272.4h1v1h-1zM67.2 267.7h1v1h-1zM65.3 250.6h1v1h-1zM90.6 265.8h1v1h-1zM67.1 271.2h1v1h-1zM79.6 268.8h1v1h-1zM91.0 268.5h1v1h-1zM66.8 258.8h1v1h-1zM64.9 259.1h1v1h-1zM60.3 263.3h1v1h-1zM68.4 276.2h1v1h-1zM113.5 270.3h1v1h-1zM65.7 273.0h1v1h-1zM66.6 258.1h1v1h-1zM60.1 270.2h1v1h-1zM86.6 280.7h1v1h-1zM73.8 281.0h1v1h-1zM74.0 271.6h1v1h-1zM67.9 279.3h1v1h-1zM83.1 265.7h1v1h-1zM86.2 262.3h1v1h-1zM89.3 257.1h1v1h-1zM86.1 249.4h1v1h-1zM65.6 277.3h1v1h-1zM63.6 277.1h1v1h-1zM86.2 268.0h1v1h-1zM76.4 263.0h1v1h-1zM78.3 261.6h1v1h-1zM86.4 246.5h1v1h-1zM92.1 262.7h1v1h-1zM71.2 239.6h1v1h-1zM76.4 266.5h1v1h-1zM71.0 264.0h1v1h-1zM104.1 270.9h1v1h-1zM66.7 285.1h1v1h-1zM113.1 250.6h1v1h-1zM78.9 275.7h1v1h-1zM77.8 268.1h1v1h-1zM65.3 277.5h1v1h-1zM89.2 271.5h1v1h-1zM68.8 266.9h1v1h-1zM105.0 252.1h1v1h-1zM86.9 261.1h1v1h-1zM67.1 260.2h1v1h-1zM105.6 272.7h1v1h-1zM109.0 268.0h1v1h-1zM78.7 275.1h1v1h-1zM78.5 243.7h1v1h-1zM115.4 251.8h1v1h-1zM63.2 268.8h1v1h-1zM84.3 267.3h1v1h-1zM68.6 279.0h1v1h-1zM96.4 245.5h1v1h-1zM82.3 257.9h1v1h-1zM90.0 241.1h1v1h-1zM65.5 267.7h1v1h-1zM76.9 253.3h1v1h-1zM84.4 254.0h1v1h-1zM69.3 271.9h1v1h-1zM91.2 271.5h1v1h-1zM68.7 271.2h1v1h-1zM87.9 264.3h1v1h-1zM116.6 266.9h1v1h-1zM114.8 269.0h1v1h-1zM104.3 269.9h1v1h-1zM82.1 248.7h1v1h-1zM111.3 268.4h1v1h-1zM103.6 263.5h1v1h-1zM59.2 264.7h1v1h-1zM84.4 261.3h1v1h-1zM90.0 269.4h1v1h-1zM64.6 262.7h1v1h-1zM76.9 251.5h1v1h-1zM86.1 261.9h1v1h-1zM101.2 251.9h1v1h-1zM90.8 259.3h1v1h-1zM83.6 273.9h1v1h-1zM59.2 255.6h1v1h-1zM65.6 258.5h1v1h-1zM79.5 265.6h1v1h-1zM63.9 274.2h1v1h-1zM97.3 271.7h1v1h-1zM98.1 246.4h1v1h-1zM91.0 247.1h1v1h-1zM85.3 263.1h1v1h-1zM65.4 267.1h1v1h-1zM87.4 264.6h1v1h-1zM65.2 268.7h1v1h-1zM61.0 259.3h1v1h-1zM83.2 267.3h1v1h-1zM87.7 271.9h1v1h-1zM62.4 260.1h1v1h-1zM65.6 261.1h1v1h-1zM88.1 268.9h1v1h-1zM83.6 255.1h1v1h-1zM107.0 271.3h1v1h-1zM62.6 277.1h1v1h-1zM99.0 265.1h1v1h-1zM72.9 256.1h1v1h-1zM65.9 271.1h1v1h-1zM79.0 256.6h1v1h-1zM70.0 259.5h1v1h-1zM60.2 251.4h1v1h-1zM77.2 248.8h1v1h-1zM65.2 271.1h1v1h-1zM84.5 261.4h1v1h-1zM93.3 245.0h1v1h-1zM84.1 254.5h1v1h-1zM116.4 273.4h1v1h-1zM92.0 255.8h1v1h-1zM76.8 265.6h1v1h-1zM107.0 262.0h1v1h-1zM81.2 269.6h1v1h-1zM82.2 263.5h1v1h-1zM77.3 259.0h1v1h-1zM71.1 260.8h1v1h-1zM84.2 268.6h1v1h-1zM60.0 272.1h1v1h-1zM76.1 286.1h1v1h-1zM76.6 253.2h1v1h-1zM79.0 263.4h1v1h-1zM59.9 270.5h1v1h-1zM94.5 271.6h1v1h-1zM69.2 282.1h1v1h-1zM105.9 257.0h1v1h-1zM75.1 272.9h1v1h-1zM85.9 269.8h1v1h-1zM67.2 267.9h1v1h-1zM74.5 247.3h1v1h-1zM119.2 264.2h1v1h-1zM66.4 246.8h1v1h-1zM90.8 263.4h1v1h-1zM95.9 257.3h1v1h-1zM88.9 265.1h1v1h-1zM75.1 264.7h1v1h-1zM91.3 282.1h1v1h-1zM75.2 249.2h1v1h-1zM92.8 257.0h1v1h-1zM63.2 253.7h1v1h-1zM73.0 262.3h1v1h-1zM102.3 251.4h1v1h-1zM66.1 259.2h1v1h-1zM89.8 275.0h1v1h-1zM93.9 251.4h1v1h-1zM97.8 246.5h1v1h-1zM60.9 251.7h1v1h-1zM77.2 263.5h1v1h-1zM59.2 263.0h1v1h-1zM99.9 248.0h1v1h-1zM94.0 275.0h1v1h-1zM98.4 267.4h1v1h-1zM69.5 259.9h1v1h-1zM82.5 273.0h1v1h-1zM81.3 252.1h1v1h-1zM95.0 281.5h1v1h-1zM80.0 274.3h1v1h-1zM80.8 270.4h1v1h-1zM60.5 256.3h1v1h-1zM64.2 269.2h1v1h-1zM71.4 276.6h1v1h-1zM90.7 277.2h1v1h-1zM99.6 262.5h1v1h-1zM115.3 255.8h1v1h-1zM78.7 266.9h1v1h-1zM107.2 271.5h1v1h-1zM68.8 252.2h1v1h-1zM82.6 280.5h1v1h-1zM74.0 267.5h1v1h-1zM66.3 245.0h1v1h-1zM79.4 278.5h1v1h-1zM110.7 271.1h1v1h-1zM77.9 267.9h1v1h-1zM106.8 258.3h1v1h-1zM75.9 258.7h1v1h-1zM84.0 263.3h1v1h-1zM78.4 266.1h1v1h-1zM78.7 263.8h1v1h-1zM78.5 248.6h1v1h-1zM59.8 283.0h1v1h-1zM68.3 255.3h1v1h-1zM94.1 246.5h1v1h-1zM118.5 261.7h1v1h-1zM99.0 251.7h1v1h-1zM63.4 275.2h1v1h-1zM107.5 254.6h1v1h-1zM92.7 273.0h1v1h-1zM107.2 260.6h1v1h-1zM114.0 267.6h1v1h-1zM119.6 269.7h1v1h-1zM100.9 263.9h1v1h-1zM98.6 267.1h1v1h-1zM106.5 266.9h1v1h-1zM105.5 290.6h1v1h-1zM99.0 247.1h1v1h-1zM118.1 265.2h1v1h-1zM84.3 282.6h1v1h-1zM61.7 265.5h1v1h-1zM112.1 255.8h1v1h-1zM79.5 251.2h1v1h-1zM79.7 262.9h1v1h-1zM111.8 260.2h1v1h-1zM61.0 261.8h1v1h-1zM115.2 271.6h1v1h-1zM81.9 281.2h1v1h-1zM82.9 263.9h1v1h-1zM115.7 264.2h1v1h-1zM95.2 267.8h1v1h-1zM101.4 254.5h1v1h-1zM75.2 281.4h1v1h-1zM106.5 244.7h1v1h-1zM81.7 262.8h1v1h-1zM85.3 271.0h1v1h-1zM76.6 263.3h1v1h-1zM65.4 276.1h1v1h-1zM72.9 273.3h1v1h-1zM83.7 273.2h1v1h-1zM60.6 271.2h1v1h-1zM106.7 276.8h1v1h-1zM69.3 258.0h1v1h-1zM84.5 258.4h1v1h-1zM83.1 250.2h1v1h-1zM85.9 256.4h1v1h-1zM61.8 274.0h1v1h-1zM94.2 276.5h1v1h-1zM60.0 262.0h1v1h-1zM114.7 277.8h1v1h-1zM72.8 263.1h1v1h-1zM63.9 253.2h1v1h-1zM103.6 251.5h1v1h-1zM103.4 258.0h1v1h-1zM79.4 260.2h1v1h-1zM92.1 261.1h1v1h-1zM103.9 270.1h1v1h-1zM83.8 262.9h1v1h-1zM106.2 284.9h1v1h-1zM92.4 269.2h1v1h-1zM81.1 263.6h1v1h-1zM112.4 252.0h1v1h-1zM103.7 250.9h1v1h-1zM68.4 272.8h1v1h-1zM98.2 250.6h1v1h-1zM117.6 258.8h1v1h-1zM68.9 272.6h1v1h-1zM94.7 271.1h1v1h-1zM81.2 250.4h1v1h-1zM71.3 247.4h1v1h-1zM75.4 248.1h1v1h-1zM95.9 255.7h1v1h-1zM100.9 278.1h1v1h-1zM76.8 272.6h1v1h-1zM90.2 272.0h1v1h-1zM63.4 268.1h1v1h-1zM61.1 271.1h1v1h-1zM62.7 263.2h1v1h-1zM76.7 244.0h1v1h-1zM59.8 268.9h1v1h-1zM83.9 256.8h1v1h-1zM62.2 255.8h1v1h-1zM75.1 277.3h1v1h-1zM86.3 272.0h1v1h-1zM62.8 262.6h1v1h-1zM60.3 261.1h1v1h-1zM115.2 264.0h1v1h-1zM98.1 267.7h1v1h-1zM60.7 275.8h1v1h-1zM83.9 257.2h1v1h-1zM75.6 251.9h1v1h-1zM106.2 268.8h1v1h-1zM68.6 282.4h1v1h-1zM83.3 267.7h1v1h-1zM86.0 270.8h1v1h-1zM70.9 267.9h1v1h-1zM109.3 271.8h1v1h-1zM97.8 251.6h1v1h-1zM60.7 249.0h1v1h-1zM59.2 250.7h1v1h-1zM60.9 257.1h1v1h-1zM85.0 262.3h1v1h-1zM63.8 267.3h1v1h-1zM92.2 268.9h1v1h-1zM107.1 272.5h1v1h-1zM75.6 272.4h1v1h-1zM71.9 252.8h1v1h-1zM96.7 265.1h1v1h-1zM97.6 262.1h1v1h-1zM80.6 249.7h1v1h-1zM96.5 263.3h1v1h-1zM71.5 248.2h1v1h-1zM107.7 260.8h1v1h-1zM64.0 265.4h1v1h-1zM76.0 259.8h1v1h-1zM103.1 278.7h1v1h-1zM59.5 248.3h1v1h-1zM61.1 263.8h1v1h-1zM70.9 264.3h1v1h-1zM110.7 263.0h1v1h-1zM60.2 278.8h1v1h-1zM81.9 277.2h1v1h-1zM99.8 256.2h1v1h-1zM68.2 276.1h1v1h-1zM113.9 256.8h1v1h-1zM100.3 263.0h1v1h-1zM62.8 257.0h1v1h-1zM72.3 242.0h1v1h-1zM73.6 266.0h1v1h-1zM77.0 274.1h1v1h-1zM63.6 273.5h1v1h-1zM110.9 248.4h1v1h-1zM61.7 250.9h1v1h-1zM62.3 255.7h1v1h-1zM66.6 266.0h1v1h-1zM110.6 277.3h1v1h-1zM88.2 274.9h1v1h-1zM85.3 281.9h1v1h-1zM64.8 275.2h1v1h-1zM90.4 253.4h1v1h-1zM85.7 262.7h1v1h-1zM74.9 276.4h1v1h-1zM67.0 270.9h1v1h-1zM72.4 272.0h1v1h-1zM107.4 274.9h1v1h-1zM107.1 263.8h1v1h-1zM114.2 257.3h1v1h-1zM68.0 259.1h1v1h-1zM85.4 257.2h1v1h-1zM98.1 273.0h1v1h-1zM94.0 261.6h1v1h-1zM83.9 251.8h1v1h-1zM62.3 267.9h1v1h-1zM88.7 277.5h1v1h-1zM64.6 285.5h1v1h-1zM114.4 244.9h1v1h-1zM99.4 258.4h1v1h-1zM77.1 259.7h1v1h-1zM103.7 254.2h1v1h-1zM84.3 257.1h1v1h-1zM110.0 261.3h1v1h-1zM93.4 264.5h1v1h-1zM69.0 249.1h1v1h-1zM79.3 259.8h1v1h-1zM81.0 257.3h1v1h-1zM82.3 262.8h1v1h-1zM95.3 264.4h1v1h-1zM61.7 251.7h1v1h-1zM71.9 255.1h1v1h-1zM74.1 264.1h1v1h-1zM75.6 275.2h1v1h-1zM81.3 260.1h1v1h-1zM83.5 256.3h1v1h-1zM70.5 270.9h1v1h-1zM61.2 253.5h1v1h-1zM97.1 259.1h1v1h-1zM63.8 275.6h1v1h-1zM66.9 252.9h1v1h-1zM68.9 239.5h1v1h-1zM68.8 260.6h1v1h-1zM80.2 261.1h1v1h-1zM80.9 271.9h1v1h-1zM81.0 272.8h1v1h-1zM71.4 248.0h1v1h-1zM120.4 259.7h1v1h-1zM80.2 266.1h1v1h-1zM100.8 255.8h1v1h-1zM77.3 271.5h1v1h-1zM82.8 262.2h1v1h-1zM63.8 260.4h1v1h-1zM70.8 256.2h1v1h-1zM88.5 269.5h1v1h-1zM71.9 272.8h1v1h-1zM73.6 244.9h1v1h-1zM113.2 261.6h1v1h-1zM85.1 261.7h1v1h-1zM102.7 267.3h1v1h-1zM61.1 256.4h1v1h-1zM70.6 255.3h1v1h-1zM87.6 264.3h1v1h-1zM91.1 269.4h1v1h-1zM83.4 262.5h1v1h-1zM100.8 262.5h1v1h-1zM64.7 279.5h1v1h-1zM104.0 248.9h1v1h-1zM104.6 255.0h1v1h-1zM64.0 255.6h1v1h-1zM74.6 261.8h1v1h-1zM94.0 268.8h1v1h-1zM60.9 274.8h1v1h-1zM69.3 267.8h1v1h-1zM121.1 259.2h1v1h-1zM106.0 266.1h1v1h-1zM102.9 252.8h1v1h-1zM63.9 248.3h1v1h-1zM79.7 253.7h1v1h-1zM101.1 260.4h1v1h-1zM71.1 251.7h1v1h-1zM99.3 253.7h1v1h-1zM74.3 258.6h1v1h-1zM112.1 251.8h1v1h-1zM64.9 266.5h1v1h-1zM84.0 271.6h1v1h-1zM77.5 263.5h1v1h-1zM91.9 249.5h1v1h-1zM81.3 259.8h1v1h-1zM118.4 256.8h1v1h-1zM93.7 243.5h1v1h-1zM63.3 254.9h1v1h-1zM95.8 280.9h1v1h-1zM66.3 262.9h1v1h-1zM99.8 259.4h1v1h-1zM60.0 278.4h1v1h-1zM65.8 249.1h1v1h-1zM83.1 270.0h1v1h-1zM84.7 264.1h1v1h-1zM76.7 273.2h1v1h-1zM65.1 257.0h1v1h-1zM62.9 243.1h1v1h-1zM70.1 275.5h1v1h-1zM66.0 263.1h1v1h-1zM75.5 267.9h1v1h-1zM61.4 265.4h1v1h-1zM59.5 270.9h1v1h-1zM68.8 256.7h1v1h-1zM88.6 260.5h1v1h-1zM107.4 275.4h1v1h-1zM89.7 275.2h1v1h-1zM81.6 252.7h1v1h-1zM89.7 266.5h1v1h-1zM111.1 262.6h1v1h-1zM59.3 264.7h1v1h-1zM62.0 261.2h1v1h-1zM106.2 264.6h1v1h-1zM76.4 277.5h1v1h-1zM89.8 245.5h1v1h-1zM71.3 251.2h1v1h-1zM98.0 261.9h1v1h-1zM91.2 254.2h1v1h-1zM77.4 269.7h1v1h-1zM91.8 261.0h1v1h-1zM59.1 265.9h1v1h-1zM71.4 276.8h1v1h-1zM77.2 248.2h1v1h-1zM61.8 257.5h1v1h-1zM92.4 284.1h1v1h-1zM109.5 259.6h1v1h-1zM77.6 267.1h1v1h-1zM82.2 257.2h1v1h-1zM69.1 261.6h1v1h-1zM68.5 281.8h1v1h-1zM63.4 275.2h1v1h-1zM89.9 277.1h1v1h-1zM90.0 263.9h1v1h-1zM70.5 252.0h1v1h-1zM85.5 262.1h1v1h-1zM97.0 249.1h1v1h-1zM67.0 265.2h1v1h-1zM93.3 263.4h1v1h-1zM83.3 272.6h1v1h-1zM88.0 270.9h1v1h-1zM122.2 257.6h1v1h-1zM95.0 266.8h1v1h-1zM114.3 265.0h1v1h-1zM85.8 265.2h1v1h-1zM85.4 256.3h1v1h-1zM118.2 268.3h1v1h-1zM101.5 251.7h1v1h-1zM69.6 254.9h1v1h-1zM98.7 256.5h1v1h-1zM79.6 260.0h1v1h-1zM98.1 252.4h1v1h-1zM69.3 252.0h1v1h-1zM77.1 270.8h1v1h-1zM108.1 268.9h1v1h-1zM71.1 273.7h1v1h-1zM89.0 255.9h1v1h-1zM97.5 258.5h1v1h-1zM97.6 264.4h1v1h-1zM112.0 263.8h1v1h-1zM59.4 272.1h1v1h-1zM68.2 267.6h1v1h-1zM63.0 250.5h1v1h-1zM90.4 273.9h1v1h-1zM66.8 255.5h1v1h-1zM65.6 258.7h1v1h-1zM100.7 257.1h1v1h-1zM84.0 261.4h1v1h-1zM66.6 262.4h1v1h-1zM69.8 253.6h1v1h-1zM96.6 254.5h1v1h-1zM84.3 270.3h1v1h-1zM101.5 251.0h1v1h-1zM98.4 258.8h1v1h-1zM65.4 261.6h1v1h-1zM83.5 282.4h1v1h-1zM119.4 270.3h1v1h-1zM98.5 266.6h1v1h-1zM109.6 269.5h1v1h-1zM93.0 260.6h1v1h-1zM80.0 265.8h1v1h-1zM63.3 272.7h1v1h-1zM83.6 276.5h1v1h-1zM72.8 258.4h1v1h-1zM60.1 273.4h1v1h-1zM68.5 259.8h1v1h-1zM70.6 267.1h1v1h-1zM115.0 269.8h1v1h-1zM61.7 270.6h1v1h-1zM70.8 258.7h1v1h-1zM88.2 244.3h1v1h-1zM75.1 268.7h1v1h-1zM60.4 277.2h1v1h-1zM110.3 270.2h1v1h-1zM86.9 257.5h1v1h-1zM89.2 281.6h1v1h-1zM82.5 245.6h1v1h-1zM82.9 256.4h1v1h-1zM100.3 259.3h1v1h-1zM105.5 266.7h1v1h-1zM71.4 259.2h1v1h-1zM119.0 252.2h1v1h-1zM89.7 257.2h1v1h-1zM84.7 265.9h1v1h-1zM95.1 266.6h1v1h-1zM84.4 264.8h1v1h-1zM75.4 274.4h1v1h-1zM95.6 265.8h1v1h-1zM104.9 262.2h1v1h-1zM119.2 272.6h1v1h-1zM70.5 265.5h1v1h-1zM66.8 260.6h1v1h-1zM104.8 251.8h1v1h-1zM67.6 264.7h1v1h-1zM71.0 276.2h1v1h-1zM77.5 262.9h1v1h-1zM79.2 273.1h1v1h-1zM79.9 274.3h1v1h-1zM102.7 265.2h1v1h-1zM73.1 252.7h1v1h-1zM70.4 283.4h1v1h-1zM61.3 262.1h1v1h-1zM91.2 243.1h1v1h-1zM62.4 259.3h1v1h-1zM73.6 262.5h1v1h-1zM118.5 261.9h1v1h-1zM84.7 262.9h1v1h-1zM63.9 263.3h1v1h-1zM67.4 271.8h1v1h-1zM81.4 271.1h1v1h-1zM107.0 255.5h1v1h-1zM65.2 239.0h1v1h-1zM74.7 256.6h1v1h-1zM114.9 263.8h1v1h-1zM93.2 266.4h1v1h-1zM65.6 264.5h1v1h-1zM60.6 261.9h1v1h-1zM107.9 254.3h1v1h-1zM102.2 264.7h1v1h-1zM94.1 264.0h1v1h-1zM61.6 269.6h1v1h-1zM114.5 261.0h1v1h-1zM86.5 255.6h1v1h-1zM64.9 283.4h1v1h-1zM118.9 250.1h1v1h-1zM116.8 263.1h1v1h-1zM61.8 259.5h1v1h-1zM65.5 269.2h1v1h-1zM68.5 264.2h1v1h-1zM106.3 259.0h1v1h-1zM81.4 262.9h1v1h-1zM65.7 256.5h1v1h-1zM85.6 255.9h1v1h-1zM67.8 256.4h1v1h-1zM104.6 261.6h1v1h-1zM91.9 268.6h1v1h-1zM78.2 258.4h1v1h-1zM88.0 260.1h1v1h-1zM62.2 267.3h1v1h-1zM79.4 275.1h1v1h-1zM63.0 263.1h1v1h-1zM109.1 265.0h1v1h-1zM66.7 248.1h1v1h-1zM66.6 284.3h1v1h-1zM68.0 262.9h1v1h-1zM78.8 279.3h1v1h-1zM83.8 261.9h1v1h-1zM78.0 255.4h1v1h-1zM86.8 273.3h1v1h-1zM70.5 264.4h1v1h-1zM74.4 263.0h1v1h-1zM66.9 248.7h1v1h-1zM65.4 272.1h1v1h-1zM67.1 266.7h1v1h-1zM91.5 267.9h1v1h-1zM61.1 274.7h1v1h-1zM105.5 262.4h1v1h-1zM61.9 271.4h1v1h-1zM79.9 262.0h1v1h-1zM119.7 266.0h1v1h-1zM64.4 265.8h1v1h-1zM61.8 267.0h1v1h-1zM82.3 275.8h1v1h-1zM118.6 271.3h1v1h-1zM67.6 257.4h1v1h-1zM102.8 264.1h1v1h-1zM64.8 256.1h1v1h-1zM59.4 285.9h1v1h-1zM101.6 253.0h1v1h-1zM60.1 262.4h1v1h-1zM67.9 276.8h1v1h-1zM100.7 271.4h1v1h-1zM77.3 284.1h1v1h-1zM59.3 280.8h1v1h-1zM78.7 261.1h1v1h-1zM68.7 263.2h1v1h-1zM64.5 254.1h1v1h-1zM89.6 267.0h1v1h-1zM101.8 266.3h1v1h-1zM98.9 285.8h1v1h-1zM70.8 253.4h1v1h-1zM59.6 252.7h1v1h-1zM118.6 261.3h1v1h-1zM115.8 258.1h1v1h-1zM82.3 255.2h1v1h-1zM66.0 255.5h1v1h-1zM70.1 274.7h1v1h-1zM95.9 263.7h1v1h-1zM67.6 255.3h1v1h-1zM69.9 263.5h1v1h-1zM65.4 279.5h1v1h-1zM76.1 254.2h1v1h-1zM78.2 251.0h1v1h-1zM91.7 257.7h1v1h-1zM122.8 273.4h1v1h-1zM63.3 256.8h1v1h-1zM107.4 271.8h1v1h-1zM93.9 263.2h1v1h-1zM96.4 265.8h1v1h-1zM88.6 268.0h1v1h-1zM102.1 270.0h1v1h-1zM62.2 260.2h1v1h-1zM110.7 264.7h1v1h-1zM59.5 241.3h1v1h-1zM95.6 261.1h1v1h-1zM97.0 266.6h1v1h-1zM83.6 260.4h1v1h-1zM64.8 259.0h1v1h-1zM81.6 280.2h1v1h-1zM82.2 257.1h1v1h-1zM115.2 268.4h1v1h-1zM114.6 260.9h1v1h-1zM68.8 284.0h1v1h-1zM110.9 261.0h1v1h-1zM105.9 245.1h1v1h-1zM73.4 272.5h1v1h-1zM77.7 269.4h1v1h-1zM112.0 258.9h1v1h-1zM86.1 263.4h1v1h-1zM82.2 261.7h1v1h-1zM85.2 271.0h1v1h-1zM60.6 257.9h1v1h-1zM90.1 267.4h1v1h-1zM79.9 265.8h1v1h-1zM83.1 280.6h1v1h-1zM98.2 259.0h1v1h-1zM85.5 259.2h1v1h-1zM72.6 249.2h1v1h-1zM84.2 277.7h1v1h-1zM120.9 264.8h1v1h-1zM80.8 256.1h1v1h-1zM82.0 269.9h1v1h-1zM83.5 271.5h1v1h-1zM89.9 264.5h1v1h-1zM118.2 256.7h1v1h-1zM61.9 248.8h1v1h-1zM81.0 268.4h1v1h-1zM60.3 263.8h1v1h-1zM109.4 256.7h1v1h-1zM76.5 252.1h1v1h-1zM108.7 264.0h1v1h-1zM90.2 256.2h1v1h-1zM79.3 259.8h1v1h-1zM79.1 273.0h1v1h-1zM60.4 272.8h1v1h-1zM93.2 248.7h1v1h-1zM64.4 257.8h1v1h-1zM62.6 265.9h1v1h-1zM79.1 270.7h1v1h-1zM85.7 253.7h1v1h-1zM87.6 259.4h1v1h-1zM70.0 263.2h1v1h-1zM61.4 263.1h1v1h-1zM74.0 271.3h1v1h-1zM66.7 274.0h1v1h-1zM102.9 260.5h1v1h-1zM119.9 255.9h1v1h-1zM73.1 269.2h1v1h-1zM94.0 247.8h1v1h-1zM87.1 265.2h1v1h-1zM86.7 272.0h1v1h-1zM87.4 252.0h1v1h-1zM66.3 259.8h1v1h-1zM77.2 261.0h1v1h-1zM71.2 270.5h1v1h-1zM77.9 259.7h1v1h-1zM59.2 251.8h1v1h-1zM74.7 272.4h1v1h-1zM84.7 263.9h1v1h-1zM88.5 267.2h1v1h-1zM61.7 259.5h1v1h-1zM117.0 245.0h1v1h-1zM83.9 268.7h1v1h-1zM93.1 257.0h1v1h-1zM120.6 268.4h1v1h-1zM107.6 246.7h1v1h-1zM79.8 248.1h1v1h-1zM61.8 247.5h1v1h-1zM79.4 263.2h1v1h-1zM80.5 255.8h1v1h-1zM59.7 260.9h1v1h-1zM108.4 265.8h1v1h-1zM83.6 269.0h1v1h-1zM91.4 253.1h1v1h-1zM119.2 258.7h1v1h-1zM83.2 258.2h1v1h-1zM79.2 260.4h1v1h-1zM66.0 278.8h1v1h-1zM61.4 275.6h1v1h-1zM70.2 269.1h1v1h-1zM87.7 260.6h1v1h-1zM61.7 275.3h1v1h-1zM78.6 260.9h1v1h-1zM79.1 248.8h1v1h-1zM77.4 257.3h1v1h-1zM98.9 275.5h1v1h-1zM68.1 263.8h1v1h-1zM100.8 271.7h1v1h-1zM97.6 272.8h1v1h-1zM84.5 274.2h1v1h-1zM80.8 267.0h1v1h-1zM78.7 275.9h1v1h-1zM108.8 265.2h1v1h-1zM63.7 263.8h1v1h-1zM79.2 255.5h1v1h-1zM72.1 260.3h1v1h-1zM87.5 263.6h1v1h-1zM98.1 257.6h1v1h-1zM66.2 274.6h1v1h-1zM75.0 275.5h1v1h-1zM66.2 280.5h1v1h-1zM69.7 265.6h1v1h-1zM90.8 258.9h1v1h-1zM122.7 265.0h1v1h-1zM121.8 252.0h1v1h-1zM86.9 243.5h1v1h-1zM121.2 264.6h1v1h-1zM72.7 279.3h1v1h-1zM93.6 269.8h1v1h-1zM88.0 268.8h1v1h-1zM111.5 252.7h1v1h-1zM97.1 280.1h1v1h-1zM72.7 280.4h1v1h-1zM64.6 274.7h1v1h-1zM79.1 264.0h1v1h-1zM109.8 249.8h1v1h-1zM61.3 265.4h1v1h-1zM71.2 272.9h1v1h-1zM110.3 254.8h1v1h-1zM76.4 263.2h1v1h-1zM119.9 259.0h1v1h-1zM101.9 265.0h1v1h-1zM101.7 252.0h1v1h-1zM59.4 273.5h1v1h-1zM98.5 256.3h1v1h-1zM108.8 256.0h1v1h-1zM87.1 263.6h1v1h-1zM106.4 264.9h1v1h-1zM64.2 249.7h1v1h-1zM105.0 270.3h1v1h-1zM62.2 270.7h1v1h-1zM59.1 259.2h1v1h-1zM90.5 281.3h1v1h-1zM72.1 260.7h1v1h-1zM89.7 265.1h1v1h-1zM101.2 258.3h1v1h-1zM119.1 270.8h1v1h-1zM121.1 254.7h1v1h-1zM69.6 271.3h1v1h-1zM97.6 280.2h1v1h-1zM74.5 262.0h1v1h-1zM71.9 260.3h1v1h-1zM117.7 254.2h1v1h-1zM75.4 244.8h1v1h-1zM86.4 276.8h1v1h-1zM118.9 257.2h1v1h-1zM112.7 270.5h1v1h-1zM69.0 273.2h1v1h-1zM81.2 265.7h1v1h-1zM86.4 262.7h1v1h-1zM73.7 260.5h1v1h-1zM59.3 273.0h1v1h-1zM79.8 251.0h1v1h-1zM97.3 264.9h1v1h-1zM61.0 252.3h1v1h-1zM62.5 263.4h1v1h-1zM103.9 260.5h1v1h-1zM78.4 259.2h1v1h-1zM77.7 264.6h1v1h-1zM82.7 256.2h1v1h-1zM98.3 266.0h1v1h-1zM68.6 260.7h1v1h-1zM113.1 256.1h1v1h-1zM74.1 266.2h1v1h-1zM91.1 288.4h1v1h-1zM89.7 278.6h1v1h-1zM75.6 268.6h1v1h-1zM118.0 264.0h1v1h-1zM103.9 267.8h1v1h-1zM83.5 256.8h1v1h-1zM76.5 261.0h1v1h-1zM103.5 262.7h1v1h-1zM64.6 271.5h1v1h-1zM94.7 279.8h1v1h-1zM104.6 259.6h1v1h-1zM90.5 253.0h1v1h-1zM100.6 264.2h1v1h-1zM113.1 258.6h1v1h-1zM76.2 277.8h1v1h-1zM92.2 268.4h1v1h-1zM90.7 267.3h1v1h-1zM86.0 263.7h1v1h-1zM66.7 265.2h1v1h-1zM66.0 270.2h1v1h-1zM121.7 261.3h1v1h-1zM111.2 274.1h1v1h-1zM68.9 257.8h1v1h-1zM96.5 275.2h1v1h-1zM72.6 276.7h1v1h-1zM64.9 258.4h1v1h-1zM74.2 255.5h1v1h-1zM69.3 255.3h1v1h-1zM59.5 269.5h1v1h-1zM72.9 274.4h1v1h-1zM105.0 267.1h1v1h-1zM96.5 253.7h1v1h-1zM81.2 271.3h1v1h-1zM79.4 270.1h1v1h-1zM66.9 258.2h1v1h-1zM109.6 262.5h1v1h-1zM95.1 277.1h1v1h-1zM72.9 283.2h1v1h-1zM67.6 270.0h1v1h-1zM110.1 263.8h1v1h-1zM67.2 261.6h1v1h-1zM65.2 259.3h1v1h-1zM92.1 276.3h1v1h-1zM87.0 261.5h1v1h-1zM93.9 267.3h1v1h-1zM66.5 265.2h1v1h-1zM76.6 268.4h1v1h-1zM122.0 258.9h1v1h-1zM65.4 264.0h1v1h-1zM120.8 273.3h1v1h-1zM100.8 266.8h1v1h-1zM63.3 264.5h1v1h-1zM108.4 264.0h1v1h-1zM108.9 264.5h1v1h-1zM103.1 251.4h1v1h-1zM60.7 271.1h1v1h-1zM70.2 257.3h1v1h-1zM59.8 256.1h1v1h-1zM95.0 262.8h1v1h-1zM121.3 273.1h1v1h-1zM90.2 266.4h1v1h-1zM59.2 270.3h1v1h-1zM61.1 267.1h1v1h-1zM96.4 263.8h1v1h-1zM115.4 269.0h1v1h-1zM114.9 268.5h1v1h-1zM122.2 244.6h1v1h-1zM104.8 263.1h1v1h-1zM70.2 246.0h1v1h-1zM114.4 262.0h1v1h-1zM78.4 275.5h1v1h-1zM85.8 252.3h1v1h-1zM100.3 264.4h1v1h-1zM97.7 258.1h1v1h-1zM85.9 259.6h1v1h-1zM83.7 257.4h1v1h-1zM93.2 265.5h1v1h-1zM73.9 253.0h1v1h-1zM107.3 258.8h1v1h-1zM102.2 255.7h1v1h-1zM63.6 271.8h1v1h-1zM122.3 245.8h1v1h-1zM93.0 277.8h1v1h-1zM73.6 254.3h1v1h-1zM60.0 270.8h1v1h-1zM89.6 258.7h1v1h-1zM81.6 277.6h1v1h-1zM79.9 261.2h1v1h-1zM85.7 263.2h1v1h-1zM59.9 268.0h1v1h-1zM88.8 269.1h1v1h-1zM77.9 252.8h1v1h-1zM115.5 258.0h1v1h-1zM97.9 259.9h1v1h-1zM82.4 267.6h1v1h-1zM71.3 278.4h1v1h-1zM73.5 263.8h1v1h-1zM64.1 271.1h1v1h-1zM83.2 255.6h1v1h-1zM62.7 262.0h1v1h-1zM78.3 274.7h1v1h-1zM66.8 269.8h1v1h-1zM81.0 277.2h1v1h-1zM61.3 257.5h1v1h-1zM92.6 246.6h1v1h-1zM85.2 271.6h1v1h-1zM95.4 273.4h1v1h-1zM83.5 260.9h1v1h-1zM69.6 262.8h1v1h-1zM78.5 246.5h1v1h-1zM63.6 258.5h1v1h-1zM110.0 262.1h1v1h-1zM65.5 245.6h1v1h-1zM109.3 256.0h1v1h-1zM71.5 264.3h1v1h-1zM117.3 264.6h1v1h-1zM90.7 279.1h1v1h-1zM100.2 256.4h1v1h-1zM66.5 269.9h1v1h-1zM72.1 272.6h1v1h-1zM82.5 257.6h1v1h-1zM65.2 283.5h1v1h-1zM80.2 281.4h1v1h-1zM71.6 279.0h1v1h-1zM79.5 279.6h1v1h-1zM80.2 257.1h1v1h-1zM65.3 259.8h1v1h-1zM64.8 259.6h1v1h-1zM72.5 268.8h1v1h-1zM60.8 256.6h1v1h-1zM63.7 263.9h1v1h-1zM62.2 277.3h1v1h-1zM111.0 264.2h1v1h-1zM62.4 254.0h1v1h-1zM64.2 256.1h1v1h-1zM101.1 255.6h1v1h-1zM84.2 270.2h1v1h-1zM110.8 258.6h1v1h-1zM97.4 253.4h1v1h-1zM59.3 264.0h1v1h-1zM70.0 273.4h1v1h-1zM89.8 264.3h1v1h-1zM95.8 253.3h1v1h-1zM74.3 264.2h1v1h-1zM94.7 249.4h1v1h-1zM73.2 252.7h1v1h-1zM78.0 256.6h1v1h-1zM65.6 261.8h1v1h-1zM69.0 258.4h1v1h-1zM80.1 261.0h1v1h-1zM100.2 273.4h1v1h-1zM80.8 263.3h1v1h-1zM115.4 259.7h1v1h-1zM87.4 247.6h1v1h-1zM65.9 268.4h1v1h-1zM84.2 261.7h1v1h-1zM103.3 262.8h1v1h-1zM93.2 263.5h1v1h-1zM97.5 259.5h1v1h-1zM66.2 274.5h1v1h-1zM100.7 270.4h1v1h-1zM95.4 270.7h1v1h-1zM105.2 260.3h1v1h-1zM104.5 259.8h1v1h-1zM80.4 269.6h1v1h-1zM120.0 264.9h1v1h-1zM92.6 264.6h1v1h-1zM95.5 267.3h1v1h-1zM97.2 257.0h1v1h-1zM78.1 262.9h1v1h-1zM79.5 255.8h1v1h-1zM59.4 250.7h1v1h-1zM100.5 256.4h1v1h-1zM94.9 261.5h1v1h-1zM60.6 274.3h1v1h-1zM111.4 265.0h1v1h-1zM63.5 250.5h1v1h-1zM76.1 265.2h1v1h-1zM110.3 258.5h1v1h-1zM62.1 255.4h1v1h-1zM63.2 265.5h1v1h-1zM100.8 264.6h1v1h-1zM96.0 273.4h1v1h-1zM111.5 257.6h1v1h-1zM76.3 251.4h1v1h-1zM84.7 267.0h1v1h-1zM81.6 258.9h1v1h-1zM89.7 257.6h1v1h-1zM109.2 267.7h1v1h-1zM85.4 257.8h1v1h-1zM80.7 265.7h1v1h-1zM73.9 278.0h1v1h-1zM69.3 275.7h1v1h-1zM102.7 256.2h1v1h-1zM82.4 260.3h1v1h-1zM66.6 277.6h1v1h-1zM65.6 257.0h1v1h-1zM92.0 251.0h1v1h-1zM113.7 269.2h1v1h-1zM109.7 267.6h1v1h-1zM105.0 279.2h1v1h-1zM74.7 256.8h1v1h-1zM80.3 265.5h1v1h-1zM81.8 251.0h1v1h-1zM89.2 266.8h1v1h-1zM84.9 265.1h1v1h-1zM69.8 251.2h1v1h-1zM74.3 259.4h1v1h-1zM64.9 284.5h1v1h-1zM84.9 261.2h1v1h-1zM86.2 250.4h1v1h-1zM59.2 270.1h1v1h-1zM75.0 263.8h1v1h-1zM66.8 247.2h1v1h-1zM121.7 256.7h1v1h-1zM83.0 267.4h1v1h-1zM95.4 253.9h1v1h-1zM69.0 243.1h1v1h-1zM110.4 256.4h1v1h-1zM62.7 246.4h1v1h-1zM93.0 271.1h1v1h-1zM95.4 264.6h1v1h-1zM83.1 260.1h1v1h-1zM75.4 263.0h1v1h-1zM107.1 264.5h1v1h-1zM65.3 277.3h1v1h-1zM82.1 267.3h1v1h-1zM67.2 262.1h1v1h-1zM108.0 254.0h1v1h-1zM120.8 276.9h1v1h-1zM78.8 271.2h1v1h-1zM65.8 270.5h1v1h-1zM106.9 259.7h1v1h-1zM96.9 280.2h1v1h-1zM79.8 257.8h1v1h-1zM97.1 266.9h1v1h-1zM115.4 256.1h1v1h-1zM92.7 250.5h1v1h-1zM81.1 237.6h1v1h-1zM98.4 269.1h1v1h-1zM97.8 253.1h1v1h-1zM98.8 261.7h1v1h-1zM72.2 265.9h1v1h-1zM87.5 261.5h1v1h-1zM93.0 275.0h1v1h-1zM68.1 252.2h1v1h-1zM59.0 261.2h1v1h-1zM74.1 267.3h1v1h-1zM102.1 266.1h1v1h-1zM115.2 261.4h1v1h-1zM112.2 246.0h1v1h-1zM65.9 254.7h1v1h-1zM61.3 275.9h1v1h-1zM91.8 264.5h1v1h-1zM77.2 253.5h1v1h-1zM76.4 253.7h1v1h-1zM59.1 276.1h1v1h-1zM62.2 254.6h1v1h-1zM67.7 269.5h1v1h-1zM64.3 264.8h1v1h-1zM111.1 269.7h1v1h-1zM117.2 265.4h1v1h-1zM87.4 266.0h1v1h-1zM88.5 277.3h1v1h-1zM77.2 264.9h1v1h-1zM64.1 272.5h1v1h-1zM121.8 265.5h1v1h-1zM87.5 270.4h1v1h-1zM68.2 281.7h1v1h-1zM88.3 263.3h1v1h-1zM101.3 282.1h1v1h-1zM61.8 267.9h1v1h-1zM71.9 245.6h1v1h-1zM92.6 274.5h1v1h-1zM61.6 257.8h1v1h-1zM115.6 254.6h1v1h-1zM106.2 263.6h1v1h-1zM113.6 267.7h1v1h-1zM62.9 265.0h1v1h-1zM95.2 270.6h1v1h-1zM65.1 258.9h1v1h-1zM111.2 257.5h1v1h-1zM76.8 266.6h1v1h-1zM96.9 254.7h1v1h-1zM105.1 263.4h1v1h-1zM108.7 256.7h1v1h-1zM77.9 264.6h1v1h-1zM97.9 258.0h1v1h-1zM77.4 263.2h1v1h-1zM122.9 246.8h1v1h-1zM111.1 258.5h1v1h-1zM74.0 258.6h1v1h-1zM89.9 251.6h1v1h-1zM70.0 268.1h1v1h-1zM69.3 249.2h1v1h-1zM79.4 263.3h1v1h-1zM72.7 259.0h1v1h-1zM84.2 268.4h1v1h-1zM68.3 285.9h1v1h-1zM64.8 254.9h1v1h-1zM83.3 261.6h1v1h-1zM75.0 263.7h1v1h-1zM74.3 256.7h1v1h-1zM104.2 258.1h1v1h-1zM76.3 264.1h1v1h-1zM81.5 264.6h1v1h-1zM72.8 244.0h1v1h-1zM82.8 248.8h1v1h-1zM84.0 263.0h1v1h-1zM81.3 270.8h1v1h-1zM75.6 252.3h1v1h-1zM89.1 267.7h1v1h-1zM117.3 253.7h1v1h-1zM63.0 271.6h1v1h-1zM70.7 261.7h1v1h-1zM67.5 260.9h1v1h-1zM72.7 254.1h1v1h-1zM82.8 263.0h1v1h-1zM71.9 250.7h1v1h-1zM111.3 267.9h1v1h-1zM79.2 260.9h1v1h-1zM101.9 248.0h1v1h-1zM64.0 248.1h1v1h-1zM78.6 261.6h1v1h-1zM78.0 265.8h1v1h-1zM99.6 253.6h1v1h-1zM86.8 255.5h1v1h-1zM97.8 247.1h1v1h-1zM65.2 283.1h1v1h-1zM91.7 265.7h1v1h-1zM104.6 273.3h1v1h-1zM94.7 248.8h1v1h-1zM61.9 276.2h1v1h-1zM63.9 264.1h1v1h-1zM85.6 265.5h1v1h-1zM104.5 267.3h1v1h-1zM64.6 249.4h1v1h-1zM83.9 263.3h1v1h-1zM90.9 268.7h1v1h-1zM106.7 259.5h1v1h-1zM112.1 253.9h1v1h-1zM122.0 270.3h1v1h-1zM68.2 259.4h1v1h-1zM116.0 257.0h1v1h-1zM77.6 261.5h1v1h-1zM110.1 254.4h1v1h-1zM76.0 258.0h1v1h-1zM82.4 281.6h1v1h-1zM67.1 267.2h1v1h-1zM68.5 270.8h1v1h-1zM77.5 262.3h1v1h-1zM89.8 253.6h1v1h-1zM93.3 259.2h1v1h-1zM84.6 277.9h1v1h-1zM78.7 273.5h1v1h-1zM74.2 262.5h1v1h-1zM90.8 273.6h1v1h-1zM95.9 271.4h1v1h-1zM73.7 263.8h1v1h-1zM69.3 253.2h1v1h-1zM103.9 269.8h1v1h-1zM115.5 262.9h1v1h-1zM65.9 258.4h1v1h-1zM76.2 236.8h1v1h-1zM106.6 270.5h1v1h-1zM95.1 247.2h1v1h-1zM79.8 258.5h1v1h-1zM63.1 273.6h1v1h-1zM79.4 264.5h1v1h-1zM100.9 263.8h1v1h-1zM68.4 270.5h1v1h-1zM120.2 265.7h1v1h-1zM65.6 257.5h1v1h-1zM86.5 259.5h1v1h-1zM68.5 285.0h1v1h-1zM62.6 246.9h1v1h-1zM75.7 259.1h1v1h-1zM80.4 262.1h1v1h-1zM88.7 278.4h1v1h-1zM67.0 256.6h1v1h-1zM89.6 267.2h1v1h-1zM110.7 252.5h1v1h-1zM93.7 271.3h1v1h-1zM88.9 273.5h1v1h-1zM66.1 269.8h1v1h-1zM64.6 259.4h1v1h-1zM100.9 267.4h1v1h-1zM108.7 242.6h1v1h-1zM107.4 253.9h1v1h-1zM66.5 268.4h1v1h-1zM59.7 256.6h1v1h-1zM80.4 249.4h1v1h-1zM122.5 267.4h1v1h-1zM90.2 275.1h1v1h-1zM104.9 265.6h1v1h-1zM81.2 259.8h1v1h-1zM72.1 258.7h1v1h-1zM72.3 280.8h1v1h-1zM61.1 273.3h1v1h-1zM74.1 277.1h1v1h-1zM117.2 254.9h1v1h-1zM88.7 267.9h1v1h-1zM76.0 272.8h1v1h-1zM64.5 262.9h1v1h-1zM115.4 260.4h1v1h-1zM109.8 263.7h1v1h-1zM61.5 263.5h1v1h-1zM115.3 264.5h1v1h-1zM96.6 255.8h1v1h-1zM75.9 256.4h1v1h-1zM86.4 262.9h1v1h-1zM61.5 265.1h1v1h-1zM64.6 258.7h1v1h-1zM87.0 256.8h1v1h-1zM84.5 245.9h1v1h-1zM89.7 260.7h1v1h-1zM77.5 254.7h1v1h-1zM60.5 276.6h1v1h-1zM68.7 274.2h1v1h-1zM82.0 253.6h1v1h-1zM93.7 264.0h1v1h-1zM105.8 252.8h1v1h-1zM59.8 267.6h1v1h-1zM67.8 269.0h1v1h-1zM60.4 278.4h1v1h-1zM77.7 261.9h1v1h-1zM122.3 245.3h1v1h-1zM59.9 256.5h1v1h-1zM59.2 265.7h1v1h-1zM65.2 248.7h1v1h-1zM88.7 244.0h1v1h-1zM69.2 255.8h1v1h-1zM112.0 258.2h1v1h-1zM66.0 265.7h1v1h-1zM81.5 254.8h1v1h-1zM73.8 272.4h1v1h-1zM110.7 248.5h1v1h-1zM77.3 268.3h1v1h-1zM67.3 263.8h1v1h-1zM77.7 255.0h1v1h-1zM92.8 263.2h1v1h-1zM121.8 253.7h1v1h-1zM70.7 254.9h1v1h-1zM107.6 272.1h1v1h-1zM63.8 273.2h1v1h-1zM91.8 263.5h1v1h-1zM96.4 278.5h1v1h-1zM94.8 273.5h1v1h-1zM90.5 275.6h1v1h-1zM106.9 246.8h1v1h-1zM59.0 258.9h1v1h-1zM59.3 274.1h1v1h-1zM75.1 262.3h1v1h-1zM91.4 250.6h1v1h-1zM79.6 276.2h1v1h-1zM77.7 279.8h1v1h-1zM65.8 261.1h1v1h-1zM94.4 276.2h1v1h-1zM79.2 263.5h1v1h-1zM77.4 256.6h1v1h-1zM110.9 256.6h1v1h-1zM83.2 285.5h1v1h-1zM73.8 280.3h1v1h-1zM70.3 245.2h1v1h-1zM90.1 275.4h1v1h-1zM68.9 272.1h1v1h-1zM64.5 256.0h1v1h-1zM73.1 244.0h1v1h-1zM72.5 247.0h1v1h-1zM63.9 265.2h1v1h-1zM82.4 267.7h1v1h-1zM77.2 263.8h1v1h-1zM101.5 267.9h1v1h-1zM108.9 256.5h1v1h-1zM98.3 250.1h1v1h-1zM66.0 271.5h1v1h-1zM89.1 260.7h1v1h-1zM95.7 267.1h1v1h-1zM64.6 268.3h1v1h-1zM100.3 266.3h1v1h-1zM113.0 248.9h1v1h-1zM72.2 257.4h1v1h-1zM66.6 270.2h1v1h-1zM119.6 268.6h1v1h-1zM111.3 272.5h1v1h-1zM61.7 254.0h1v1h-1zM72.3 269.1h1v1h-1zM111.0 251.0h1v1h-1zM79.0 270.8h1v1h-1zM59.0 284.0h1v1h-1zM73.8 270.0h1v1h-1zM122.6 253.6h1v1h-1zM103.0 272.6h1v1h-1zM61.3 266.8h1v1h-1zM67.3 262.3h1v1h-1zM100.0 252.3h1v1h-1zM106.0 259.4h1v1h-1zM69.7 276.6h1v1h-1zM80.7 247.4h1v1h-1zM111.9 248.1h1v1h-1zM71.8 269.9h1v1h-1zM65.5 260.7h1v1h-1zM75.7 268.2h1v1h-1zM62.6 279.8h1v1h-1zM62.6 256.8h1v1h-1zM61.4 282.8h1v1h-1zM96.3 263.0h1v1h-1zM86.4 255.4h1v1h-1zM76.0 259.5h1v1h-1zM90.4 257.8h1v1h-1zM91.1 264.2h1v1h-1zM104.0 268.4h1v1h-1zM73.8 253.4h1v1h-1zM90.7 262.9h1v1h-1zM91.1 249.1h1v1h-1zM104.1 262.3h1v1h-1zM87.6 265.8h1v1h-1zM78.0 260.0h1v1h-1zM60.3 255.2h1v1h-1zM63.7 265.2h1v1h-1zM63.7 270.2h1v1h-1zM74.8 260.2h1v1h-1zM81.0 268.7h1v1h-1zM64.4 257.7h1v1h-1zM90.5 261.2h1v1h-1zM120.6 258.2h1v1h-1zM90.0 255.5h1v1h-1zM61.5 273.8h1v1h-1zM97.5 256.9h1v1h-1zM63.3 263.0h1v1h-1zM74.9 265.6h1v1h-1zM118.4 257.2h1v1h-1zM68.1 269.6h1v1h-1zM107.8 271.4h1v1h-1zM118.4 268.2h1v1h-1zM70.4 272.4h1v1h-1zM73.9 278.7h1v1h-1zM70.7 245.6h1v1h-1zM81.4 278.7h1v1h-1zM114.0 265.0h1v1h-1zM78.7 274.1h1v1h-1zM62.6 259.7h1v1h-1zM88.0 274.6h1v1h-1zM72.3 255.2h1v1h-1zM78.6 259.0h1v1h-1zM69.2 265.4h1v1h-1zM78.7 263.6h1v1h-1zM59.8 246.1h1v1h-1zM74.3 251.0h1v1h-1zM98.6 254.4h1v1h-1zM114.0 271.4h1v1h-1zM90.5 250.5h1v1h-1zM64.3 266.0h1v1h-1zM110.7 257.5h1v1h-1zM72.0 250.8h1v1h-1zM70.6 253.8h1v1h-1zM72.4 278.3h1v1h-1zM84.4 266.4h1v1h-1zM122.1 247.5h1v1h-1zM61.4 252.9h1v1h-1zM70.0 261.5h1v1h-1zM66.9 261.1h1v1h-1zM118.0 267.4h1v1h-1zM107.3 252.0h1v1h-1zM87.0 252.6h1v1h-1zM115.0 254.5h1v1h-1zM107.2 257.6h1v1h-1zM66.6 266.4h1v1h-1zM67.8 266.1h1v1h-1zM73.1 254.4h1v1h-1zM66.0 275.1h1v1h-1zM80.9 274.1h1v1h-1zM92.8 258.9h1v1h-1zM60.8 263.3h1v1h-1zM71.9 247.9h1v1h-1zM120.9 264.7h1v1h-1zM103.5 257.5h1v1h-1zM72.2 263.1h1v1h-1zM102.0 268.5h1v1h-1zM68.1 262.8h1v1h-1zM61.5 274.2h1v1h-1zM79.0 269.3h1v1h-1zM69.1 255.2h1v1h-1zM89.8 258.3h1v1h-1zM103.0 258.7h1v1h-1zM100.7 261.4h1v1h-1zM89.3 287.3h1v1h-1zM65.6 269.6h1v1h-1zM76.8 256.8h1v1h-1zM84.9 260.2h1v1h-1zM100.4 271.0h1v1h-1zM69.0 262.1h1v1h-1zM83.5 249.1h1v1h-1zM62.8 267.9h1v1h-1zM65.8 258.2h1v1h-1zM74.3 258.2h1v1h-1zM87.8 259.5h1v1h-1zM88.8 267.1h1v1h-1zM93.3 261.9h1v1h-1zM98.4 273.3h1v1h-1zM87.8 248.9h1v1h-1zM88.7 278.2h1v1h-1zM96.0 275.5h1v1h-1zM99.3 270.8h1v1h-1zM86.0 271.9h1v1h-1zM61.0 272.6h1v1h-1zM97.1 278.3h1v1h-1zM95.1 248.6h1v1h-1zM80.3 279.0h1v1h-1zM64.8 261.1h1v1h-1zM85.1 273.2h1v1h-1zM61.3 266.0h1v1h-1zM100.4 255.4h1v1h-1zM69.2 264.2h1v1h-1zM101.3 262.9h1v1h-1zM112.5 271.4h1v1h-1zM79.9 266.2h1v1h-1zM116.8 269.2h1v1h-1zM108.4 270.6h1v1h-1zM85.6 273.7h1v1h-1zM86.2 263.8h1v1h-1zM70.4 271.2h1v1h-1zM84.2 258.0h1v1h-1zM61.0 254.4h1v1h-1zM82.3 265.5h1v1h-1zM110.7 251.2h1v1h-1zM87.6 269.9h1v1h-1zM99.5 263.1h1v1h-1zM74.5 261.2h1v1h-1zM99.9 264.2h1v1h-1zM66.3 263.7h1v1h-1zM90.9 278.9h1v1h-1zM63.8 263.8h1v1h-1zM65.8 277.9h1v1h-1zM105.1 249.5h1v1h-1zM92.7 270.8h1v1h-1zM87.3 260.7h1v1h-1zM92.9 263.2h1v1h-1zM82.0 278.6h1v1h-1zM98.5 249.7h1v1h-1zM120.6 272.1h1v1h-1zM121.7 251.8h1v1h-1zM68.6 283.5h1v1h-1zM85.6 260.3h1v1h-1zM105.4 269.0h1v1h-1zM116.3 275.6h1v1h-1zM88.6 265.2h1v1h-1zM107.5 264.3h1v1h-1zM115.5 249.2h1v1h-1zM72.1 284.0h1v1h-1zM79.7 265.4h1v1h-1zM79.3 262.1h1v1h-1zM85.0 269.7h1v1h-1zM116.3 280.1h1v1h-1zM82.6 261.6h1v1h-1zM89.9 263.5h1v1h-1zM85.6 272.1h1v1h-1zM96.2 252.5h1v1h-1zM83.5 268.2h1v1h-1zM88.5 270.7h1v1h-1zM80.5 264.0h1v1h-1zM65.9 271.0h1v1h-1zM73.7 266.8h1v1h-1zM88.6 259.4h1v1h-1zM84.7 243.0h1v1h-1zM70.0 262.8h1v1h-1zM119.3 249.6h1v1h-1zM62.3 266.0h1v1h-1zM74.7 274.5h1v1h-1zM61.7 271.0h1v1h-1zM106.7 267.2h1v1h-1zM69.2 244.9h1v1h-1zM101.0 271.8h1v1h-1zM78.9 278.4h1v1h-1zM60.4 266.8h1v1h-1zM73.6 270.8h1v1h-1zM66.2 252.4h1v1h-1zM101.6 264.7h1v1h-1zM59.2 245.7h1v1h-1zM96.8 267.9h1v1h-1zM103.0 258.8h1v1h-1zM91.8 272.7h1v1h-1zM101.0 271.0h1v1h-1zM108.1 260.6h1v1h-1zM87.1 268.7h1v1h-1zM75.9 265.4h1v1h-1zM81.2 277.4h1v1h-1zM95.7 270.0h1v1h-1zM112.9 255.3h1v1h-1zM67.2 256.0h1v1h-1zM107.5 245.1h1v1h-1zM112.1 266.7h1v1h-1zM98.5 252.8h1v1h-1zM107.3 258.9h1v1h-1zM92.3 276.9h1v1h-1zM112.9 271.4h1v1h-1zM95.1 260.6h1v1h-1zM76.2 258.2h1v1h-1zM66.5 269.2h1v1h-1zM65.5 263.2h1v1h-1zM96.9 264.2h1v1h-1zM82.9 263.9h1v1h-1zM75.2 257.8h1v1h-1zM114.3 262.6h1v1h-1zM79.8 272.5h1v1h-1zM77.4 254.7h1v1h-1zM74.2 254.4h1v1h-1zM63.0 248.6h1v1h-1zM62.0 260.1h1v1h-1zM95.2 266.9h1v1h-1zM100.0 271.4h1v1h-1zM108.1 260.7h1v1h-1zM84.2 268.8h1v1h-1zM71.0 267.8h1v1h-1zM107.0 260.2h1v1h-1zM69.4 272.2h1v1h-1zM118.7 273.0h1v1h-1zM120.9 268.5h1v1h-1zM91.9 271.5h1v1h-1zM69.2 244.9h1v1h-1zM83.7 269.7h1v1h-1zM91.0 275.9h1v1h-1zM91.4 260.8h1v1h-1zM114.6 269.5h1v1h-1zM78.6 257.5h1v1h-1zM63.2 279.6h1v1h-1zM75.5 260.8h1v1h-1zM112.6 254.0h1v1h-1zM70.5 259.9h1v1h-1zM60.2 258.2h1v1h-1zM80.7 252.3h1v1h-1zM122.0 265.1h1v1h-1zM81.8 255.1h1v1h-1zM109.6 259.5h1v1h-1zM61.0 273.1h1v1h-1zM81.3 258.8h1v1h-1zM88.8 250.2h1v1h-1zM61.2 251.7h1v1h-1zM103.2 265.3h1v1h-1zM121.4 274.6h1v1h-1zM91.9 258.1h1v1h-1zM59.0 264.9h1v1h-1zM90.1 268.2h1v1h-1zM59.7 267.4h1v1h-1zM64.6 263.6h1v1h-1zM68.5 265.4h1v1h-1zM87.2 259.7h1v1h-1zM88.1 255.0h1v1h-1zM82.7 266.4h1v1h-1zM89.8 269.1h1v1h-1zM113.2 261.4h1v1h-1zM67.3 257.0h1v1h-1zM61.9 278.8h1v1h-1zM73.6 264.9h1v1h-1zM68.6 270.0h1v1h-1zM107.3 257.5h1v1h-1zM70.3 239.9h1v1h-1zM94.4 264.9h1v1h-1zM91.8 262.3h1v1h-1zM86.5 250.4h1v1h-1zM62.0 255.5h1v1h-1zM68.5 250.8h1v1h-1zM101.5 262.5h1v1h-1zM67.4 265.7h1v1h-1zM83.6 266.7h1v1h-1zM77.5 277.8h1v1h-1zM62.1 284.4h1v1h-1zM116.6 255.0h1v1h-1zM63.3 271.6h1v1h-1zM86.8 252.7h1v1h-1zM112.3 257.1h1v1h-1zM79.9 286.0h1v1h-1zM81.5 260.8h1v1h-1zM90.0 268.1h1v1h-1zM86.2 261.7h1v1h-1zM89.3 254.1h1v1h-1zM68.8 248.1h1v1h-1zM96.7 272.1h1v1h-1zM76.8 243.0h1v1h-1zM69.4 240.6h1v1h-1zM95.5 260.4h1v1h-1zM102.8 267.5h1v1h-1zM72.2 264.9h1v1h-1zM95.7 268.3h1v1h-1zM72.6 257.4h1v1h-1zM87.3 283.5h1v1h-1zM87.5 256.8h1v1h-1zM81.4 254.4h1v1h-1zM80.1 270.7h1v1h-1zM71.0 266.1h1v1h-1zM96.6 266.6h1v1h-1zM119.9 278.5h1v1h-1zM95.4 270.7h1v1h-1zM106.4 264.9h1v1h-1zM89.7 255.8h1v1h-1zM62.1 251.9h1v1h-1zM105.4 250.2h1v1h-1zM90.2 255.0h1v1h-1zM91.6 277.7h1v1h-1zM84.0 255.5h1v1h-1zM83.9 260.9h1v1h-1zM92.3 268.9h1v1h-1zM87.8 269.3h1v1h-1zM71.1 262.6h1v1h-1zM95.1 270.7h1v1h-1zM77.9 266.6h1v1h-1zM65.6 270.0h1v1h-1zM95.1 273.4h1v1h-1zM61.6 260.2h1v1h-1zM93.6 250.3h1v1h-1zM63.9 258.9h1v1h-1zM91.0 250.9h1v1h-1zM84.1 262.3h1v1h-1zM93.8 270.5h1v1h-1zM74.8 264.0h1v1h-1zM84.4 256.6h1v1h-1zM73.7 253.8h1v1h-1zM93.6 258.1h1v1h-1zM88.3 262.1h1v1h-1zM94.7 267.5h1v1h-1zM90.3 259.6h1v1h-1zM78.5 271.8h1v1h-1zM85.6 266.8h1v1h-1zM80.3 276.7h1v1h-1zM110.0 250.1h1v1h-1zM69.6 267.1h1v1h-1zM100.5 273.6h1v1h-1zM84.5 257.1h1v1h-1zM84.9 278.8h1v1h-1zM68.9 248.8h1v1h-1zM93.2 255.9h1v1h-1zM71.3 243.1h1v1h-1zM78.9 262.4h1v1h-1zM89.2 260.0h1v1h-1zM88.0 261.0h1v1h-1zM77.7 249.1h1v1h-1zM86.8 261.7h1v1h-1zM99.8 260.7h1v1h-1zM86.2 259.9h1v1h-1zM87.1 262.7h1v1h-1zM65.7 261.5h1v1h-1zM96.1 255.2h1v1h-1zM71.6 257.3h1v1h-1zM79.2 247.5h1v1h-1zM89.4 263.1h1v1h-1zM97.6 267.0h1v1h-1zM79.3 261.8h1v1h-1zM90.0 259.2h1v1h-1zM74.7 260.8h1v1h-1zM107.2 248.5h1v1h-1zM61.0 252.8h1v1h-1zM97.8 270.0h1v1h-1zM94.4 268.8h1v1h-1zM88.5 280.3h1v1h-1zM93.7 264.3h1v1h-1zM77.7 259.3h1v1h-1zM80.3 252.7h1v1h-1zM59.1 273.8h1v1h-1zM72.2 256.7h1v1h-1zM87.8 257.3h1v1h-1zM70.0 264.0h1v1h-1zM105.5 261.8h1v1h-1zM79.2 279.8h1v1h-1zM82.1 266.9h1v1h-1zM86.3 255.4h1v1h-1zM85.1 268.3h1v1h-1zM93.1 255.6h1v1h-1zM102.4 254.4h1v1h-1zM88.7 271.2h1v1h-1zM88.7 262.9h1v1h-1zM89.5 264.5h1v1h-1zM82.4 266.6h1v1h-1zM81.4 265.7h1v1h-1zM80.3 264.8h1v1h-1zM91.0 273.3h1v1h-1zM79.0 274.6h1v1h-1zM96.1 263.1h1v1h-1zM83.1 258.2h1v1h-1zM72.4 241.0h1v1h-1zM62.3 246.5h1v1h-1zM92.3 256.4h1v1h-1zM85.6 254.6h1v1h-1zM65.0 260.8h1v1h-1zM122.6 255.2h1v1h-1zM79.9 256.5h1v1h-1zM73.5 266.7h1v1h-1zM88.5 258.7h1v1h-1zM89.4 253.9h1v1h-1zM93.9 262.0h1v1h-1zM110.8 260.7h1v1h-1zM89.1 269.9h1v1h-1zM99.2 272.4h1v1h-1zM116.1 255.2h1v1h-1zM84.2 269.0h1v1h-1zM79.7 255.4h1v1h-1zM99.3 256.1h1v1h-1zM77.5 257.5h1v1h-1zM95.5 255.9h1v1h-1zM90.9 257.4h1v1h-1zM81.9 266.8h1v1h-1zM79.1 246.4h1v1h-1zM82.1 257.3h1v1h-1zM89.2 268.6h1v1h-1zM82.7 269.1h1v1h-1zM99.0 262.5h1v1h-1zM69.9 254.9h1v1h-1zM95.7 256.9h1v1h-1zM80.8 248.6h1v1h-1zM92.7 268.3h1v1h-1zM75.2 252.1h1v1h-1zM109.0 270.4h1v1h-1zM102.1 255.8h1v1h-1zM87.0 259.9h1v1h-1zM100.6 265.7h1v1h-1zM75.4 259.4h1v1h-1zM93.0 247.7h1v1h-1zM78.9 258.2h1v1h-1zM82.5 257.5h1v1h-1zM112.4 260.1h1v1h-1zM95.6 270.6h1v1h-1zM84.4 262.3h1v1h-1zM109.0 260.6h1v1h-1zM60.3 258.9h1v1h-1zM65.5 268.2h1v1h-1zM72.8 263.1h1v1h-1zM75.8 260.6h1v1h-1zM92.0 255.8h1v1h-1zM87.1 264.5h1v1h-1zM93.1 278.5h1v1h-1zM71.1 264.2h1v1h-1zM66.7 265.0h1v1h-1zM99.8 267.3h1v1h-1zM90.7 259.0h1v1h-1zM70.5 255.3h1v1h-1zM89.4 268.1h1v1h-1zM88.1 261.3h1v1h-1zM79.9 273.2h1v1h-1zM107.1 255.5h1v1h-1zM78.5 253.7h1v1h-1zM70.8 260.0h1v1h-1zM85.1 255.6h1v1h-1zM93.4 258.2h1v1h-1zM80.0 247.7h1v1h-1zM67.2 257.9h1v1h-1zM106.7 257.6h1v1h-1zM68.5 254.6h1v1h-1zM100.2 274.1h1v1h-1zM95.5 256.3h1v1h-1zM79.8 251.2h1v1h-1zM64.4 263.8h1v1h-1zM79.3 259.9h1v1h-1zM95.6 255.0h1v1h-1zM83.5 252.8h1v1h-1zM59.9 267.8h1v1h-1zM85.2 256.1h1v1h-1zM99.5 254.5h1v1h-1zM79.4 251.4h1v1h-1zM66.1 261.4h1v1h-1zM76.1 262.9h1v1h-1zM79.9 260.9h1v1h-1zM88.4 268.0h1v1h-1zM86.0 248.9h1v1h-1zM95.7 258.4h1v1h-1zM61.4 268.1h1v1h-1zM102.3 259.5h1v1h-1zM59.5 260.6h1v1h-1zM88.6 261.4h1v1h-1zM84.0 272.8h1v1h-1zM72.3 263.8h1v1h-1zM90.8 268.3h1v1h-1zM77.9 266.1h1v1h-1zM83.1 255.8h1v1h-1zM91.9 272.0h1v1h-1zM77.3 260.6h1v1h-1zM85.9 258.1h1v1h-1zM81.6 257.7h1v1h-1zM74.6 266.3h1v1h-1zM83.0 268.2h1v1h-1zM74.8 264.5h1v1h-1zM85.7 262.7h1v1h-1zM82.6 261.7h1v1h-1zM74.7 272.4h1v1h-1zM61.9 266.1h1v1h-1zM104.6 267.0h1v1h-1zM87.9 251.0h1v1h-1zM75.6 243.1h1v1h-1zM81.9 249.8h1v1h-1zM74.6 264.5h1v1h-1zM70.9 268.0h1v1h-1zM75.1 261.5h1v1h-1zM64.7 263.1h1v1h-1zM76.6 260.8h1v1h-1zM99.4 262.9h1v1h-1zM75.6 268.3h1v1h-1zM78.3 257.6h1v1h-1zM60.4 268.8h1v1h-1zM85.0 258.4h1v1h-1zM90.6 266.8h1v1h-1zM74.0 253.0h1v1h-1zM89.5 256.4h1v1h-1zM73.8 265.3h1v1h-1zM86.9 241.0h1v1h-1zM69.9 275.2h1v1h-1zM102.0 251.5h1v1h-1zM70.1 261.4h1v1h-1zM72.8 265.6h1v1h-1zM75.1 261.8h1v1h-1zM88.9 246.8h1v1h-1zM58.9 247.1h1v1h-1zM81.5 271.3h1v1h-1zM68.6 270.6h1v1h-1zM84.5 252.8h1v1h-1zM88.3 261.4h1v1h-1zM94.7 262.7h1v1h-1zM78.5 269.8h1v1h-1zM88.7 274.9h1v1h-1zM87.8 273.4h1v1h-1zM101.4 265.4h1v1h-1zM100.7 262.7h1v1h-1zM69.4 258.8h1v1h-1zM62.6 270.7h1v1h-1zM77.8 272.7h1v1h-1zM102.8 250.3h1v1h-1zM81.2 277.5h1v1h-1zM101.5 261.6h1v1h-1zM77.4 262.3h1v1h-1zM93.6 268.9h1v1h-1zM70.9 242.7h1v1h-1zM62.8 261.6h1v1h-1zM83.9 250.8h1v1h-1zM67.7 266.9h1v1h-1zM82.8 250.1h1v1h-1zM60.5 271.6h1v1h-1zM97.3 253.8h1v1h-1zM74.5 263.5h1v1h-1zM85.5 271.3h1v1h-1zM87.4 264.9h1v1h-1zM84.5 254.7h1v1h-1zM71.8 265.5h1v1h-1zM83.5 276.1h1v1h-1zM94.0 272.7h1v1h-1zM85.8 261.7h1v1h-1zM106.7 258.5h1v1h-1zM71.8 264.2h1v1h-1zM60.1 260.2h1v1h-1zM69.4 262.4h1v1h-1zM92.5 256.1h1v1h-1zM71.3 256.9h1v1h-1zM78.6 271.6h1v1h-1zM61.2 260.0h1v1h-1zM108.1 246.9h1v1h-1zM83.0 256.6h1v1h-1zM89.3 253.3h1v1h-1zM73.4 258.2h1v1h-1zM89.1 246.9h1v1h-1zM101.1 270.4h1v1h-1zM90.8 273.4h1v1h-1zM105.5 256.2h1v1h-1zM81.0 273.0h1v1h-1zM97.2 250.9h1v1h-1zM98.0 258.7h1v1h-1zM74.0 254.4h1v1h-1zM91.1 257.7h1v1h-1zM83.6 260.7h1v1h-1zM100.7 247.4h1v1h-1zM90.7 261.7h1v1h-1zM78.1 258.0h1v1h-1zM76.5 262.0h1v1h-1zM100.9 260.3h1v1h-1zM84.6 252.1h1v1h-1zM83.1 274.7h1v1h-1zM91.2 273.4h1v1h-1zM78.9 244.8h1v1h-1zM85.7 267.9h1v1h-1zM102.5 267.0h1v1h-1zM81.1 263.6h1v1h-1zM95.3 270.8h1v1h-1zM83.6 273.8h1v1h-1zM74.2 265.8h1v1h-1zM98.5 265.2h1v1h-1zM95.1 264.7h1v1h-1zM90.6 258.4h1v1h-1zM72.3 264.1h1v1h-1zM84.4 263.1h1v1h-1zM89.6 254.0h1v1h-1zM95.5 262.4h1v1h-1zM72.2 253.3h1v1h-1zM82.7 260.9h1v1h-1zM71.9 262.0h1v1h-1zM82.8 271.8h1v1h-1zM80.6 265.8h1v1h-1zM92.9 261.7h1v1h-1zM101.9 258.5h1v1h-1zM84.1 254.0h1v1h-1zM78.2 261.9h1v1h-1zM76.1 262.9h1v1h-1zM84.7 261.8h1v1h-1zM97.6 247.7h1v1h-1zM78.8 249.6h1v1h-1zM78.7 266.0h1v1h-1zM83.7 263.4h1v1h-1zM82.9 253.0h1v1h-1zM102.5 270.5h1v1h-1zM94.7 264.1h1v1h-1zM102.6 269.3h1v1h-1zM89.0 257.2h1v1h-1zM64.1 273.7h1v1h-1zM90.2 262.4h1v1h-1zM73.4 263.6h1v1h-1zM84.6 270.4h1v1h-1zM84.2 256.5h1v1h-1zM100.2 268.2h1v1h-1zM75.9 245.0h1v1h-1zM83.8 254.4h1v1h-1zM93.2 264.9h1v1h-1zM76.9 271.3h1v1h-1zM83.3 262.3h1v1h-1zM74.3 263.5h1v1h-1zM79.4 263.6h1v1h-1zM78.8 252.0h1v1h-1zM99.0 256.1h1v1h-1zM81.3 261.5h1v1h-1zM85.0 259.2h1v1h-1zM62.7 261.4h1v1h-1zM86.3 245.2h1v1h-1zM83.8 268.3h1v1h-1zM68.9 271.1h1v1h-1zM82.6 249.8h1v1h-1zM93.5 254.6h1v1h-1zM71.4 256.5h1v1h-1zM98.8 262.0h1v1h-1zM77.8 263.8h1v1h-1zM60.0 259.7h1v1h-1zM81.0 256.3h1v1h-1zM93.8 254.8h1v1h-1zM61.1 275.9h1v1h-1zM71.3 259.5h1v1h-1zM97.7 266.9h1v1h-1zM62.6 254.2h1v1h-1zM86.3 268.1h1v1h-1zM116.5 263.2h1v1h-1zM77.4 261.5h1v1h-1zM71.6 257.1h1v1h-1zM98.0 266.7h1v1h-1zM94.9 270.7h1v1h-1zM80.3 251.0h1v1h-1zM86.6 265.1h1v1h-1zM69.0 268.9h1v1h-1zM97.0 265.4h1v1h-1zM84.9 275.3h1v1h-1zM61.7 262.8h1v1h-1zM83.5 256.8h1v1h-1zM93.7 263.7h1v1h-1zM74.7 258.3h1v1h-1zM87.7 259.6h1v1h-1zM69.1 264.0h1v1h-1zM84.6 259.6h1v1h-1zM94.7 264.6h1v1h-1zM80.4 259.3h1v1h-1zM97.7 251.2h1v1h-1zM80.6 264.4h1v1h-1zM79.2 254.8h1v1h-1zM66.4 263.1h1v1h-1zM74.5 265.2h1v1h-1zM92.2 273.7h1v1h-1zM74.3 267.0h1v1h-1zM86.1 262.3h1v1h-1zM84.1 259.8h1v1h-1zM97.2 256.1h1v1h-1zM74.2 260.8h1v1h-1zM91.0 261.8h1v1h-1zM78.0 261.1h1v1h-1zM69.8 266.4h1v1h-1zM62.8 267.1h1v1h-1zM89.2 279.1h1v1h-1zM59.0 258.3h1v1h-1zM67.7 260.0h1v1h-1zM65.2 266.6h1v1h-1zM92.9 256.6h1v1h-1zM67.1 251.7h1v1h-1zM86.9 270.6h1v1h-1zM77.1 263.5h1v1h-1zM84.7 261.6h1v1h-1zM77.8 257.4h1v1h-1zM87.7 279.2h1v1h-1zM88.8 265.3h1v1h-1zM65.2 259.3h1v1h-1zM98.2 261.4h1v1h-1zM93.2 273.7h1v1h-1zM102.6 252.4h1v1h-1zM98.0 249.6h1v1h-1zM76.4 266.2h1v1h-1zM86.0 251.2h1v1h-1zM72.1 253.0h1v1h-1zM109.0 270.7h1v1h-1zM76.1 255.4h1v1h-1zM108.9 258.7h1v1h-1zM70.3 248.9h1v1h-1zM80.8 262.0h1v1h-1zM88.5 256.9h1v1h-1zM93.3 258.8h1v1h-1zM101.2 258.1h1v1h-1zM91.5 253.5h1v1h-1zM85.2 259.6h1v1h-1zM87.5 273.9h1v1h-1zM78.1 270.0h1v1h-1zM80.8 270.5h1v1h-1zM90.1 254.3h1v1h-1zM73.6 265.1h1v1h-1zM95.2 261.3h1v1h-1zM75.1 263.3h1v1h-1zM72.8 264.5h1v1h-1zM78.5 263.8h1v1h-1zM105.9 249.8h1v1h-1zM78.7 264.1h1v1h-1zM100.4 254.7h1v1h-1zM88.6 268.2h1v1h-1zM79.4 266.8h1v1h-1zM76.0 269.3h1v1h-1zM69.3 257.3h1v1h-1zM74.6 251.8h1v1h-1zM79.3 255.1h1v1h-1zM95.2 263.5h1v1h-1zM66.3 272.3h1v1h-1zM100.5 262.8h1v1h-1zM79.4 255.2h1v1h-1zM82.8 250.3h1v1h-1zM85.0 267.7h1v1h-1zM96.4 261.1h1v1h-1zM90.1 255.2h1v1h-1zM97.8 259.2h1v1h-1zM79.8 268.5h1v1h-1zM91.9 267.7h1v1h-1zM70.2 239.4h1v1h-1zM91.2 255.7h1v1h-1zM72.4 245.0h1v1h-1zM69.8 278.7h1v1h-1zM64.8 262.7h1v1h-1zM75.6 267.8h1v1h-1zM86.7 257.2h1v1h-1zM78.9 258.7h1v1h-1zM107.5 260.3h1v1h-1zM85.0 259.4h1v1h-1zM90.3 245.3h1v1h-1zM86.6 256.7h1v1h-1zM85.8 259.2h1v1h-1zM83.0 253.5h1v1h-1zM107.6 270.3h1v1h-1zM86.4 256.4h1v1h-1zM96.7 271.2h1v1h-1zM83.1 254.7h1v1h-1zM70.5 247.1h1v1h-1zM65.9 256.7h1v1h-1zM69.0 270.9h1v1h-1zM106.6 264.3h1v1h-1zM95.5 250.9h1v1h-1zM92.2 277.3h1v1h-1zM92.9 256.9h1v1h-1zM79.4 270.2h1v1h-1zM87.6 258.3h1v1h-1zM95.3 262.5h1v1h-1zM104.6 249.1h1v1h-1zM63.3 259.4h1v1h-1zM90.2 268.7h1v1h-1zM100.0 262.7h1v1h-1zM85.3 258.9h1v1h-1zM77.3 272.8h1v1h-1zM87.3 263.5h1v1h-1zM96.5 261.2h1v1h-1zM69.8 252.1h1v1h-1zM89.8 274.5h1v1h-1zM96.5 255.7h1v1h-1zM96.3 259.2h1v1h-1zM92.4 258.2h1v1h-1zM75.3 267.6h1v1h-1zM66.2 258.3h1v1h-1zM95.6 266.4h1v1h-1zM71.8 261.4h1v1h-1zM106.3 258.6h1v1h-1zM87.1 254.2h1v1h-1zM78.3 259.1h1v1h-1zM88.8 257.0h1v1h-1zM103.9 252.0h1v1h-1zM88.8 269.3h1v1h-1zM94.1 260.1h1v1h-1zM85.9 270.3h1v1h-1zM90.2 258.7h1v1h-1zM103.8 258.3h1v1h-1zM84.4 246.4h1v1h-1zM82.2 257.7h1v1h-1zM82.4 263.5h1v1h-1zM91.1 252.1h1v1h-1zM101.4 242.4h1v1h-1zM96.2 265.3h1v1h-1zM64.3 269.0h1v1h-1zM87.2 274.4h1v1h-1zM88.2 261.7h1v1h-1zM88.6 263.9h1v1h-1zM85.5 250.3h1v1h-1zM69.1 268.3h1v1h-1zM78.5 268.8h1v1h-1zM94.2 260.6h1v1h-1zM76.7 260.6h1v1h-1zM85.7 258.4h1v1h-1zM85.2 254.9h1v1h-1zM76.6 249.5h1v1h-1zM72.0 249.5h1v1h-1zM84.3 272.2h1v1h-1zM63.0 264.2h1v1h-1zM79.2 271.2h1v1h-1zM80.9 255.8h1v1h-1zM89.6 266.1h1v1h-1zM102.7 265.7h1v1h-1zM90.4 259.9h1v1h-1zM83.4 268.3h1v1h-1zM90.4 250.2h1v1h-1zM76.3 257.9h1v1h-1zM97.8 250.3h1v1h-1zM65.9 247.0h1v1h-1zM92.6 250.5h1v1h-1zM101.1 250.9h1v1h-1zM79.0 248.5h1v1h-1zM85.9 254.2h1v1h-1zM78.5 256.2h1v1h-1zM62.5 253.7h1v1h-1zM77.3 252.9h1v1h-1zM70.2 260.7h1v1h-1zM81.3 244.4h1v1h-1zM72.0 246.2h1v1h-1zM84.5 266.8h1v1h-1zM108.3 243.8h1v1h-1zM96.5 264.3h1v1h-1zM106.1 263.6h1v1h-1zM96.2 258.3h1v1h-1zM89.1 266.7h1v1h-1zM95.5 266.1h1v1h-1zM65.4 267.3h1v1h-1zM103.9 257.6h1v1h-1zM81.0 258.1h1v1h-1zM90.5 264.1h1v1h-1zM70.9 265.1h1v1h-1zM65.5 257.6h1v1h-1zM73.3 254.2h1v1h-1zM81.7 257.6h1v1h-1zM90.3 244.2h1v1h-1zM95.6 264.8h1v1h-1zM78.1 273.6h1v1h-1zM85.8 263.9h1v1h-1zM95.5 255.5h1v1h-1zM90.6 251.1h1v1h-1zM77.9 259.8h1v1h-1zM79.9 266.6h1v1h-1zM65.5 267.9h1v1h-1zM76.3 258.2h1v1h-1zM84.8 264.0h1v1h-1zM77.7 254.8h1v1h-1zM72.4 261.5h1v1h-1zM81.9 257.1h1v1h-1zM110.0 267.4h1v1h-1zM77.6 261.1h1v1h-1zM59.6 262.3h1v1h-1zM94.7 253.4h1v1h-1zM103.6 263.7h1v1h-1zM91.7 253.5h1v1h-1zM83.0 256.9h1v1h-1zM103.6 256.2h1v1h-1zM80.9 262.2h1v1h-1zM74.5 265.2h1v1h-1zM94.3 255.8h1v1h-1zM95.6 265.1h1v1h-1zM90.6 249.3h1v1h-1zM86.8 254.8h1v1h-1zM91.2 256.1h1v1h-1zM94.2 254.0h1v1h-1zM88.2 260.0h1v1h-1zM86.0 265.9h1v1h-1zM71.6 243.6h1v1h-1zM69.8 248.2h1v1h-1zM92.2 263.8h1v1h-1zM74.9 246.2h1v1h-1zM98.2 271.7h1v1h-1zM76.1 249.8h1v1h-1zM98.2 258.8h1v1h-1zM90.1 263.0h1v1h-1zM83.1 255.5h1v1h-1zM84.9 254.3h1v1h-1zM101.3 268.8h1v1h-1zM93.9 268.6h1v1h-1zM106.1 264.7h1v1h-1zM80.2 256.2h1v1h-1zM103.3 259.9h1v1h-1zM89.2 262.4h1v1h-1zM70.3 253.2h1v1h-1zM93.2 261.5h1v1h-1zM92.7 258.7h1v1h-1zM95.0 247.7h1v1h-1zM84.1 251.8h1v1h-1zM77.1 268.9h1v1h-1zM78.7 260.8h1v1h-1zM81.7 254.2h1v1h-1zM89.9 258.7h1v1h-1zM90.5 257.9h1v1h-1zM70.8 266.6h1v1h-1zM87.4 262.1h1v1h-1zM117.9 268.7h1v1h-1zM78.1 246.2h1v1h-1zM94.1 244.5h1v1h-1zM90.9 258.4h1v1h-1zM72.4 269.9h1v1h-1zM109.0 259.9h1v1h-1zM86.3 263.1h1v1h-1zM105.1 257.1h1v1h-1zM70.1 266.5h1v1h-1zM93.4 263.4h1v1h-1zM97.6 250.0h1v1h-1zM101.1 266.0h1v1h-1zM72.7 283.9h1v1h-1zM98.9 248.8h1v1h-1zM102.1 253.2h1v1h-1zM85.1 254.7h1v1h-1zM84.9 257.9h1v1h-1zM95.2 257.7h1v1h-1zM72.2 265.2h1v1h-1zM71.0 250.4h1v1h-1zM91.6 273.0h1v1h-1zM69.3 270.2h1v1h-1zM104.8 271.2h1v1h-1zM88.4 250.1h1v1h-1zM81.7 262.2h1v1h-1zM97.8 271.6h1v1h-1zM83.7 242.9h1v1h-1zM91.2 258.8h1v1h-1zM82.5 259.3h1v1h-1zM90.3 255.1h1v1h-1zM69.1 263.2h1v1h-1zM103.2 251.2h1v1h-1zM82.9 258.5h1v1h-1zM91.9 268.5h1v1h-1zM63.3 260.1h1v1h-1zM86.0 250.1h1v1h-1zM92.1 264.8h1v1h-1zM90.4 255.2h1v1h-1zM102.9 251.7h1v1h-1zM86.2 254.8h1v1h-1zM75.8 266.1h1v1h-1zM78.3 258.1h1v1h-1zM76.4 265.4h1v1h-1zM63.5 272.2h1v1h-1zM96.4 254.3h1v1h-1zM84.2 261.4h1v1h-1zM84.4 257.0h1v1h-1zM91.8 249.9h1v1h-1zM75.9 259.3h1v1h-1zM80.0 248.2h1v1h-1zM88.5 254.3h1v1h-1zM100.7 255.8h1v1h-1zM69.9 260.4h1v1h-1zM59.4 246.5h1v1h-1zM81.5 260.5h1v1h-1zM96.4 251.5h1v1h-1zM90.8 243.8h1v1h-1zM69.8 255.4h1v1h-1zM90.0 257.9h1v1h-1zM90.3 265.2h1v1h-1zM77.7 273.0h1v1h-1zM99.1 267.4h1v1h-1zM101.7 253.9h1v1h-1zM61.2 246.4h1v1h-1zM82.9 253.6h1v1h-1zM67.7 256.4h1v1h-1zM62.9 263.6h1v1h-1zM93.7 258.5h1v1h-1zM76.0 259.1h1v1h-1zM82.2 247.8h1v1h-1zM96.7 256.4h1v1h-1zM65.2 247.1h1v1h-1zM70.7 252.6h1v1h-1zM112.7 262.6h1v1h-1zM79.7 264.9h1v1h-1zM70.3 251.1h1v1h-1zM94.4 262.2h1v1h-1zM81.8 247.8h1v1h-1zM82.2 265.1h1v1h-1zM102.9 263.8h1v1h-1zM82.1 259.6h1v1h-1zM67.5 258.9h1v1h-1zM78.5 253.6h1v1h-1zM102.7 253.1h1v1h-1zM80.5 269.5h1v1h-1zM69.6 252.5h1v1h-1zM101.7 272.0h1v1h-1zM88.5 261.4h1v1h-1zM80.2 273.8h1v1h-1zM73.7 255.2h1v1h-1zM104.5 252.4h1v1h-1zM79.9 261.1h1v1h-1zM88.4 256.3h1v1h-1zM81.0 259.8h1v1h-1zM76.9 275.5h1v1h-1zM89.8 252.5h1v1h-1zM60.9 246.7h1v1h-1zM101.5 265.9h1v1h-1zM71.0 247.5h1v1h-1zM75.8 248.0h1v1h-1zM79.7 271.2h1v1h-1zM67.9 260.3h1v1h-1zM76.4 258.4h1v1h-1zM91.7 265.9h1v1h-1zM94.6 266.3h1v1h-1zM78.0 253.3h1v1h-1zM61.8 259.3h1v1h-1zM90.7 243.8h1v1h-1zM83.5 245.9h1v1h-1zM80.4 267.6h1v1h-1zM75.5 274.0h1v1h-1zM87.1 246.9h1v1h-1zM79.2 253.2h1v1h-1zM69.5 252.8h1v1h-1zM85.9 253.5h1v1h-1zM69.5 261.4h1v1h-1zM81.7 263.8h1v1h-1zM67.2 259.3h1v1h-1zM105.4 260.0h1v1h-1zM65.3 247.4h1v1h-1zM88.0 271.4h1v1h-1zM80.6 268.2h1v1h-1zM69.9 258.3h1v1h-1zM101.9 260.4h1v1h-1zM65.3 267.3h1v1h-1zM81.6 263.4h1v1h-1zM90.2 263.1h1v1h-1zM72.4 254.3h1v1h-1zM75.3 277.8h1v1h-1zM82.3 258.8h1v1h-1zM75.7 245.9h1v1h-1zM82.7 257.8h1v1h-1zM78.8 264.2h1v1h-1zM74.0 262.2h1v1h-1zM62.1 256.2h1v1h-1zM88.7 251.1h1v1h-1zM68.7 255.4h1v1h-1zM82.0 255.2h1v1h-1zM83.8 267.4h1v1h-1zM64.2 245.4h1v1h-1zM62.8 260.1h1v1h-1zM99.1 247.6h1v1h-1zM82.3 270.7h1v1h-1zM74.8 248.8h1v1h-1zM87.0 256.9h1v1h-1zM64.9 274.0h1v1h-1zM90.0 261.1h1v1h-1zM85.0 257.4h1v1h-1zM74.1 256.4h1v1h-1zM84.5 251.0h1v1h-1zM97.2 274.1h1v1h-1zM75.5 259.2h1v1h-1zM74.0 252.8h1v1h-1zM95.0 243.7h1v1h-1zM97.6 263.6h1v1h-1zM105.5 242.7h1v1h-1zM74.5 258.5h1v1h-1zM76.1 245.3h1v1h-1zM109.9 257.0h1v1h-1zM76.1 258.4h1v1h-1zM91.2 259.0h1v1h-1zM95.4 263.9h1v1h-1zM87.0 261.6h1v1h-1zM84.2 272.3h1v1h-1zM110.7 264.8h1v1h-1zM79.4 277.2h1v1h-1zM77.3 264.7h1v1h-1zM62.6 254.2h1v1h-1zM72.1 275.7h1v1h-1zM86.0 259.8h1v1h-1zM76.1 260.7h1v1h-1zM77.9 260.8h1v1h-1zM72.6 245.3h1v1h-1zM67.1 269.5h1v1h-1zM81.9 255.2h1v1h-1zM69.6 261.3h1v1h-1zM71.3 264.6h1v1h-1zM71.3 263.2h1v1h-1zM75.9 250.2h1v1h-1zM89.9 270.5h1v1h-1zM89.5 256.5h1v1h-1zM81.2 249.3h1v1h-1zM101.4 257.3h1v1h-1zM73.8 262.3h1v1h-1zM82.5 261.5h1v1h-1zM84.5 273.9h1v1h-1zM111.5 262.6h1v1h-1zM96.3 259.5h1v1h-1zM101.1 252.0h1v1h-1zM79.6 255.9h1v1h-1zM88.7 257.7h1v1h-1zM70.6 263.7h1v1h-1zM80.0 263.2h1v1h-1zM91.5 257.9h1v1h-1zM86.3 269.4h1v1h-1zM98.9 248.8h1v1h-1zM91.9 280.0h1v1h-1zM81.4 265.8h1v1h-1zM61.9 264.1h1v1h-1zM66.6 284.7h1v1h-1zM81.3 252.5h1v1h-1zM70.7 257.3h1v1h-1zM108.9 245.4h1v1h-1zM69.8 244.3h1v1h-1zM98.1 265.1h1v1h-1zM70.6 272.3h1v1h-1zM102.0 246.6h1v1h-1zM75.3 257.8h1v1h-1zM83.5 269.6h1v1h-1zM101.3 257.1h1v1h-1zM94.7 270.7h1v1h-1zM75.9 245.0h1v1h-1zM105.6 251.9h1v1h-1zM82.3 259.1h1v1h-1zM94.6 249.3h1v1h-1zM78.3 263.2h1v1h-1zM85.4 267.6h1v1h-1zM72.5 274.6h1v1h-1zM83.7 258.8h1v1h-1zM69.9 264.0h1v1h-1zM99.8 256.6h1v1h-1zM76.1 254.2h1v1h-1zM101.6 261.0h1v1h-1zM71.3 253.7h1v1h-1zM98.0 266.0h1v1h-1zM74.2 254.3h1v1h-1zM92.5 253.1h1v1h-1zM80.9 249.7h1v1h-1zM85.7 253.2h1v1h-1zM74.1 251.3h1v1h-1zM63.4 258.6h1v1h-1zM88.9 247.5h1v1h-1zM78.1 263.4h1v1h-1zM82.7 261.7h1v1h-1zM83.9 260.9h1v1h-1zM115.5 267.6h1v1h-1zM69.7 254.2h1v1h-1zM87.9 267.6h1v1h-1zM79.1 262.6h1v1h-1zM91.6 269.6h1v1h-1zM93.2 260.7h1v1h-1zM70.9 263.0h1v1h-1zM90.3 255.7h1v1h-1zM89.6 252.8h1v1h-1zM71.3 266.6h1v1h-1zM92.6 253.0h1v1h-1zM74.5 242.7h1v1h-1zM76.6 270.5h1v1h-1zM79.2 258.1h1v1h-1zM85.9 264.4h1v1h-1zM79.5 264.9h1v1h-1zM74.2 264.0h1v1h-1zM84.6 249.7h1v1h-1zM88.1 264.0h1v1h-1zM86.4 247.2h1v1h-1zM93.3 254.3h1v1h-1zM82.4 284.6h1v1h-1zM83.1 262.7h1v1h-1zM85.2 267.7h1v1h-1zM78.0 265.2h1v1h-1zM81.6 269.6h1v1h-1zM93.6 258.7h1v1h-1zM83.5 246.5h1v1h-1zM84.5 256.8h1v1h-1zM106.2 260.9h1v1h-1zM82.9 256.9h1v1h-1zM73.8 258.0h1v1h-1zM96.9 261.8h1v1h-1zM86.2 259.4h1v1h-1zM62.0 249.8h1v1h-1zM71.2 267.3h1v1h-1zM103.9 260.4h1v1h-1zM83.2 261.0h1v1h-1zM93.2 255.3h1v1h-1zM85.5 258.6h1v1h-1zM86.9 261.6h1v1h-1zM81.4 242.7h1v1h-1zM84.9 266.1h1v1h-1zM94.8 268.7h1v1h-1zM89.2 268.2h1v1h-1zM68.5 261.2h1v1h-1zM97.1 244.5h1v1h-1zM88.7 258.9h1v1h-1zM98.2 279.3h1v1h-1zM92.1 246.8h1v1h-1zM84.0 264.6h1v1h-1zM69.1 247.1h1v1h-1zM90.9 252.4h1v1h-1zM66.7 265.8h1v1h-1zM77.1 259.9h1v1h-1zM103.3 267.4h1v1h-1zM63.5 260.0h1v1h-1zM84.5 255.9h1v1h-1zM74.1 261.3h1v1h-1zM80.8 263.8h1v1h-1zM77.3 262.4h1v1h-1zM99.4 257.1h1v1h-1zM76.5 283.7h1v1h-1zM91.8 239.1h1v1h-1zM89.5 253.1h1v1h-1zM82.3 267.8h1v1h-1zM69.6 255.5h1v1h-1zM87.9 269.1h1v1h-1zM89.6 271.4h1v1h-1zM70.7 267.7h1v1h-1zM100.4 270.2h1v1h-1zM87.5 239.8h1v1h-1zM80.7 270.9h1v1h-1zM73.4 256.7h1v1h-1zM87.9 260.7h1v1h-1zM64.6 266.7h1v1h-1zM83.9 257.4h1v1h-1zM94.9 251.2h1v1h-1zM102.5 266.6h1v1h-1zM73.0 251.9h1v1h-1zM97.0 263.1h1v1h-1zM95.9 247.2h1v1h-1zM99.6 247.1h1v1h-1zM81.8 257.3h1v1h-1zM76.1 264.5h1v1h-1zM73.4 256.2h1v1h-1zM76.0 261.1h1v1h-1zM85.0 274.5h1v1h-1zM71.7 259.9h1v1h-1zM101.0 249.3h1v1h-1zM93.3 262.0h1v1h-1zM99.5 270.6h1v1h-1zM73.2 269.5h1v1h-1zM83.5 251.8h1v1h-1zM82.2 256.6h1v1h-1zM87.3 270.5h1v1h-1zM88.3 255.1h1v1h-1zM80.3 255.3h1v1h-1zM64.9 258.9h1v1h-1zM89.6 255.2h1v1h-1zM101.7 262.7h1v1h-1zM69.5 247.4h1v1h-1zM87.0 253.6h1v1h-1zM92.9 263.2h1v1h-1zM69.8 249.5h1v1h-1zM99.2 254.3h1v1h-1zM78.6 260.5h1v1h-1zM80.1 264.7h1v1h-1zM94.3 271.3h1v1h-1zM82.9 251.5h1v1h-1zM77.6 286.2h1v1h-1zM88.7 266.3h1v1h-1zM76.3 259.5h1v1h-1zM87.8 263.1h1v1h-1zM102.6 243.4h1v1h-1zM92.4 250.4h1v1h-1zM72.9 258.6h1v1h-1zM74.0 264.8h1v1h-1zM77.8 264.3h1v1h-1zM94.8 250.6h1v1h-1zM95.1 267.3h1v1h-1zM99.2 264.3h1v1h-1zM89.4 272.8h1v1h-1zM70.1 267.3h1v1h-1zM77.2 251.6h1v1h-1zM82.3 260.1h1v1h-1zM86.7 279.3h1v1h-1zM93.2 266.6h1v1h-1zM67.5 259.9h1v1h-1zM81.4 267.3h1v1h-1zM86.4 266.0h1v1h-1zM61.5 264.1h1v1h-1zM86.7 265.8h1v1h-1zM88.3 255.3h1v1h-1zM95.8 262.9h1v1h-1zM93.4 246.7h1v1h-1zM87.8 256.7h1v1h-1zM70.8 264.8h1v1h-1zM91.0 269.5h1v1h-1zM91.0 265.0h1v1h-1zM80.3 256.8h1v1h-1zM95.1 262.5h1v1h-1zM94.1 258.3h1v1h-1zM94.6 254.6h1v1h-1zM90.3 256.4h1v1h-1zM81.9 272.1h1v1h-1zM99.1 268.2h1v1h-1zM76.4 259.7h1v1h-1zM85.0 267.1h1v1h-1zM106.0 273.5h1v1h-1zM72.8 262.6h1v1h-1zM67.3 250.1h1v1h-1zM76.8 262.0h1v1h-1zM79.5 261.5h1v1h-1zM78.2 252.1h1v1h-1zM59.1 257.0h1v1h-1zM65.4 247.4h1v1h-1zM78.3 259.0h1v1h-1zM71.4 274.4h1v1h-1zM86.1 254.2h1v1h-1zM68.2 263.4h1v1h-1zM70.2 258.8h1v1h-1zM89.4 260.7h1v1h-1zM75.8 262.9h1v1h-1zM100.5 265.9h1v1h-1zM84.9 263.6h1v1h-1zM102.4 275.6h1v1h-1zM85.6 270.9h1v1h-1zM98.6 254.6h1v1h-1zM77.7 256.7h1v1h-1zM73.7 267.2h1v1h-1zM76.8 261.9h1v1h-1zM67.5 256.4h1v1h-1zM92.5 259.3h1v1h-1zM73.1 269.9h1v1h-1zM100.3 262.9h1v1h-1zM88.3 266.5h1v1h-1zM95.7 250.0h1v1h-1zM75.9 253.2h1v1h-1zM81.9 264.5h1v1h-1zM78.1 266.6h1v1h-1zM98.9 269.5h1v1h-1zM105.6 261.8h1v1h-1zM70.1 248.6h1v1h-1zM88.9 252.5h1v1h-1zM67.7 265.7h1v1h-1zM83.8 268.0h1v1h-1zM98.4 265.5h1v1h-1zM79.6 263.6h1v1h-1zM69.9 249.5h1v1h-1zM77.1 252.8h1v1h-1zM85.7 268.8h1v1h-1zM64.3 264.2h1v1h-1zM70.7 251.6h1v1h-1zM65.9 246.1h1v1h-1zM71.9 268.1h1v1h-1zM88.0 268.2h1v1h-1zM93.2 263.2h1v1h-1zM83.5 257.6h1v1h-1zM88.6 242.4h1v1h-1zM71.4 262.0h1v1h-1zM89.2 263.0h1v1h-1zM97.8 252.6h1v1h-1zM83.2 253.3h1v1h-1zM99.4 264.0h1v1h-1zM82.0 260.5h1v1h-1zM68.6 243.7h1v1h-1zM108.2 259.6h1v1h-1zM89.5 252.4h1v1h-1zM92.0 263.8h1v1h-1zM85.4 265.6h1v1h-1zM66.1 263.1h1v1h-1zM62.8 271.5h1v1h-1zM64.7 266.9h1v1h-1zM72.6 263.8h1v1h-1zM97.5 271.7h1v1h-1zM75.9 271.3h1v1h-1zM93.9 273.7h1v1h-1zM84.3 253.4h1v1h-1zM93.7 263.7h1v1h-1zM70.9 258.7h1v1h-1zM95.5 255.9h1v1h-1zM89.0 257.8h1v1h-1zM81.8 274.1h1v1h-1zM72.0 272.0h1v1h-1zM67.2 264.9h1v1h-1zM98.6 257.0h1v1h-1zM69.3 271.0h1v1h-1zM80.3 266.1h1v1h-1zM75.5 264.2h1v1h-1zM84.3 259.3h1v1h-1zM98.6 249.0h1v1h-1zM104.9 265.8h1v1h-1zM63.1 263.0h1v1h-1zM71.6 261.4h1v1h-1zM71.9 263.6h1v1h-1zM68.8 262.7h1v1h-1zM77.3 262.2h1v1h-1zM71.8 252.1h1v1h-1zM112.9 277.3h1v1h-1zM94.3 253.4h1v1h-1zM76.6 270.1h1v1h-1zM70.1 264.6h1v1h-1zM91.1 256.2h1v1h-1zM62.7 264.2h1v1h-1zM82.0 255.9h1v1h-1zM62.9 261.6h1v1h-1zM77.2 254.7h1v1h-1zM86.3 255.9h1v1h-1zM82.6 263.1h1v1h-1zM83.0 249.0h1v1h-1zM69.0 268.2h1v1h-1zM93.2 272.7h1v1h-1zM99.1 261.6h1v1h-1zM93.3 264.5h1v1h-1zM81.0 258.8h1v1h-1zM75.3 250.6h1v1h-1zM103.7 271.4h1v1h-1zM73.3 279.0h1v1h-1zM109.9 265.7h1v1h-1zM92.8 263.1h1v1h-1zM71.9 241.1h1v1h-1zM70.7 259.6h1v1h-1zM77.3 260.1h1v1h-1zM100.4 248.7h1v1h-1zM78.5 258.6h1v1h-1zM72.8 276.9h1v1h-1zM92.5 279.9h1v1h-1zM77.3 264.1h1v1h-1zM88.4 252.4h1v1h-1zM87.8 277.7h1v1h-1zM71.9 267.3h1v1h-1zM85.1 251.4h1v1h-1zM92.8 252.6h1v1h-1zM112.0 269.8h1v1h-1zM75.6 262.8h1v1h-1zM90.6 262.9h1v1h-1zM95.1 256.6h1v1h-1zM101.9 259.0h1v1h-1zM95.9 268.1h1v1h-1zM68.7 254.8h1v1h-1zM83.2 259.8h1v1h-1zM77.0 255.5h1v1h-1zM69.4 268.3h1v1h-1zM90.1 255.3h1v1h-1zM86.3 247.0h1v1h-1zM101.0 259.6h1v1h-1zM83.3 262.9h1v1h-1zM83.3 250.6h1v1h-1zM99.1 261.1h1v1h-1zM84.0 257.7h1v1h-1zM97.4 264.3h1v1h-1zM71.3 261.2h1v1h-1zM78.8 266.1h1v1h-1zM81.7 264.5h1v1h-1zM91.2 276.3h1v1h-1zM71.8 248.9h1v1h-1zM93.7 261.5h1v1h-1zM95.0 267.3h1v1h-1zM90.4 258.2h1v1h-1zM74.8 258.7h1v1h-1zM74.2 273.1h1v1h-1zM70.4 270.1h1v1h-1zM88.9 263.1h1v1h-1zM107.7 261.5h1v1h-1zM73.8 265.5h1v1h-1zM91.4 267.2h1v1h-1zM93.3 253.5h1v1h-1zM81.4 257.0h1v1h-1zM82.2 247.1h1v1h-1zM77.8 256.6h1v1h-1zM79.9 266.5h1v1h-1zM78.5 255.6h1v1h-1zM80.4 255.0h1v1h-1zM67.0 265.1h1v1h-1zM84.6 267.2h1v1h-1zM91.5 249.8h1v1h-1zM74.6 284.4h1v1h-1zM72.2 255.3h1v1h-1zM78.3 260.9h1v1h-1zM75.1 267.6h1v1h-1zM92.1 255.2h1v1h-1zM95.6 271.5h1v1h-1zM91.6 266.2h1v1h-1zM82.1 267.2h1v1h-1zM68.3 266.7h1v1h-1zM78.0 254.8h1v1h-1zM84.5 264.3h1v1h-1zM82.2 272.1h1v1h-1zM78.0 246.8h1v1h-1zM81.6 258.8h1v1h-1zM96.4 264.4h1v1h-1zM95.4 253.5h1v1h-1zM90.3 247.1h1v1h-1zM93.6 279.9h1v1h-1zM92.3 248.9h1v1h-1zM98.7 252.7h1v1h-1zM99.9 263.2h1v1h-1zM84.5 253.0h1v1h-1zM82.3 249.3h1v1h-1zM65.0 262.9h1v1h-1zM84.5 254.7h1v1h-1zM64.0 275.5h1v1h-1zM92.9 268.7h1v1h-1zM74.6 277.1h1v1h-1zM87.4 268.9h1v1h-1zM91.6 271.6h1v1h-1zM84.8 252.9h1v1h-1zM91.6 262.6h1v1h-1zM75.6 243.9h1v1h-1zM84.0 258.5h1v1h-1zM109.6 265.8h1v1h-1zM103.8 252.1h1v1h-1zM114.1 270.5h1v1h-1zM71.5 262.3h1v1h-1zM60.6 256.2h1v1h-1zM101.7 259.7h1v1h-1zM74.3 253.8h1v1h-1zM73.2 245.2h1v1h-1zM112.5 261.6h1v1h-1zM85.0 264.1h1v1h-1zM60.2 265.7h1v1h-1zM68.8 261.8h1v1h-1zM83.9 255.0h1v1h-1zM93.0 253.4h1v1h-1zM65.2 273.6h1v1h-1zM100.6 268.8h1v1h-1zM68.0 257.7h1v1h-1zM92.0 254.8h1v1h-1zM62.8 264.8h1v1h-1zM102.8 264.2h1v1h-1zM71.9 247.5h1v1h-1zM78.0 273.0h1v1h-1zM72.9 272.6h1v1h-1zM84.4 257.3h1v1h-1zM84.0 263.7h1v1h-1zM83.9 256.9h1v1h-1zM78.9 260.3h1v1h-1zM97.1 257.3h1v1h-1zM76.8 256.9h1v1h-1zM108.4 264.9h1v1h-1zM73.5 274.2h1v1h-1zM86.4 270.1h1v1h-1zM71.4 250.4h1v1h-1zM83.5 262.9h1v1h-1zM90.4 246.5h1v1h-1zM84.1 266.0h1v1h-1zM86.7 259.9h1v1h-1zM83.2 247.4h1v1h-1zM78.4 256.6h1v1h-1zM94.8 252.1h1v1h-1zM76.4 249.0h1v1h-1zM95.3 264.9h1v1h-1zM81.3 252.5h1v1h-1zM80.7 257.6h1v1h-1zM75.0 257.5h1v1h-1zM108.0 265.5h1v1h-1zM91.6 260.1h1v1h-1zM80.0 251.0h1v1h-1zM100.1 264.1h1v1h-1zM92.4 269.2h1v1h-1zM82.7 272.6h1v1h-1zM88.2 257.0h1v1h-1zM109.2 263.9h1v1h-1zM76.3 245.7h1v1h-1zM73.6 251.9h1v1h-1zM85.6 264.9h1v1h-1zM82.3 257.2h1v1h-1zM90.8 235.1h1v1h-1zM76.8 246.2h1v1h-1zM100.3 270.5h1v1h-1zM76.4 255.8h1v1h-1zM94.6 256.9h1v1h-1zM84.2 268.9h1v1h-1zM101.5 255.5h1v1h-1zM80.1 256.1h1v1h-1zM92.1 265.0h1v1h-1zM104.8 254.0h1v1h-1zM89.6 262.0h1v1h-1zM104.5 253.8h1v1h-1zM107.1 262.9h1v1h-1zM109.8 251.2h1v1h-1zM81.4 256.8h1v1h-1zM89.2 249.9h1v1h-1zM67.7 261.8h1v1h-1zM83.2 273.8h1v1h-1zM83.8 251.9h1v1h-1zM94.1 274.5h1v1h-1zM71.8 271.4h1v1h-1zM83.1 251.5h1v1h-1zM107.8 266.2h1v1h-1zM90.3 253.4h1v1h-1zM80.2 257.8h1v1h-1zM86.0 262.9h1v1h-1zM92.9 259.5h1v1h-1zM80.8 266.3h1v1h-1zM78.3 270.8h1v1h-1zM78.5 241.7h1v1h-1zM73.6 251.2h1v1h-1zM93.4 274.8h1v1h-1zM101.2 273.1h1v1h-1zM97.6 259.3h1v1h-1zM91.5 256.5h1v1h-1zM66.6 270.8h1v1h-1zM99.1 264.9h1v1h-1zM74.9 242.9h1v1h-1zM73.4 260.9h1v1h-1zM67.0 261.3h1v1h-1zM65.4 266.7h1v1h-1zM94.5 266.2h1v1h-1zM63.3 255.1h1v1h-1zM77.3 261.3h1v1h-1zM97.5 263.0h1v1h-1zM67.0 273.0h1v1h-1zM78.2 258.1h1v1h-1zM100.2 272.4h1v1h-1zM86.1 267.9h1v1h-1zM74.0 250.9h1v1h-1zM62.0 258.9h1v1h-1zM98.0 265.5h1v1h-1zM61.7 256.9h1v1h-1zM107.1 254.8h1v1h-1zM84.5 264.2h1v1h-1zM103.0 257.9h1v1h-1zM88.4 262.0h1v1h-1zM90.8 255.8h1v1h-1zM77.3 257.9h1v1h-1zM67.0 265.8h1v1h-1zM108.9 248.3h1v1h-1zM67.0 263.1h1v1h-1zM87.5 261.1h1v1h-1zM98.6 249.6h1v1h-1zM86.7 271.1h1v1h-1zM97.8 262.4h1v1h-1zM81.3 268.4h1v1h-1zM82.2 266.9h1v1h-1zM93.9 268.7h1v1h-1zM88.6 255.1h1v1h-1zM62.7 261.1h1v1h-1zM78.7 264.2h1v1h-1zM67.6 260.2h1v1h-1zM84.3 267.3h1v1h-1zM78.0 267.7h1v1h-1zM80.1 256.0h1v1h-1zM68.5 269.1h1v1h-1zM91.7 273.6h1v1h-1zM73.4 252.8h1v1h-1zM86.6 254.0h1v1h-1zM98.0 254.7h1v1h-1zM84.0 272.3h1v1h-1zM75.7 252.1h1v1h-1zM99.9 259.2h1v1h-1zM88.9 273.6h1v1h-1zM106.2 265.1h1v1h-1zM87.3 252.7h1v1h-1zM87.5 257.3h1v1h-1zM100.1 255.2h1v1h-1zM85.5 257.0h1v1h-1zM77.6 263.8h1v1h-1zM99.0 254.8h1v1h-1zM73.2 250.7h1v1h-1zM88.3 265.3h1v1h-1zM72.0 272.7h1v1h-1zM73.3 259.3h1v1h-1zM97.3 251.2h1v1h-1zM84.8 244.5h1v1h-1zM75.6 259.0h1v1h-1zM91.2 260.1h1v1h-1zM97.5 259.7h1v1h-1zM90.4 251.8h1v1h-1zM65.5 252.2h1v1h-1zM70.0 272.4h1v1h-1zM65.0 264.8h1v1h-1zM79.7 275.1h1v1h-1zM62.9 273.0h1v1h-1zM86.9 263.8h1v1h-1zM77.2 266.4h1v1h-1zM87.7 261.6h1v1h-1zM65.2 257.5h1v1h-1zM91.4 257.6h1v1h-1zM93.6 257.4h1v1h-1zM89.7 253.1h1v1h-1zM79.7 257.0h1v1h-1zM77.1 258.4h1v1h-1zM93.8 249.2h1v1h-1zM78.6 274.3h1v1h-1zM77.0 261.6h1v1h-1zM93.2 251.4h1v1h-1zM61.2 255.2h1v1h-1zM75.2 266.0h1v1h-1zM83.5 251.5h1v1h-1zM98.4 266.2h1v1h-1zM82.6 253.6h1v1h-1zM66.2 255.3h1v1h-1zM84.5 274.3h1v1h-1zM91.4 264.2h1v1h-1zM82.5 262.1h1v1h-1zM82.3 250.9h1v1h-1zM79.5 274.2h1v1h-1zM103.2 253.5h1v1h-1zM85.0 261.1h1v1h-1zM72.4 260.7h1v1h-1zM97.5 278.7h1v1h-1zM80.5 265.8h1v1h-1zM75.1 261.5h1v1h-1zM82.0 252.7h1v1h-1zM62.5 265.3h1v1h-1zM84.6 256.6h1v1h-1zM87.3 252.4h1v1h-1zM107.0 257.8h1v1h-1zM96.2 273.1h1v1h-1zM68.2 253.1h1v1h-1zM89.5 252.9h1v1h-1zM79.8 261.6h1v1h-1zM81.4 245.4h1v1h-1zM93.7 249.8h1v1h-1zM112.0 246.3h1v1h-1zM85.8 257.3h1v1h-1zM97.1 245.8h1v1h-1zM75.9 270.6h1v1h-1zM60.9 243.2h1v1h-1zM102.9 269.1h1v1h-1zM96.8 271.2h1v1h-1zM76.8 258.9h1v1h-1zM87.0 269.9h1v1h-1zM72.6 252.9h1v1h-1zM72.4 252.0h1v1h-1zM93.9 254.4h1v1h-1zM104.1 262.8h1v1h-1zM84.3 247.5h1v1h-1zM69.4 253.6h1v1h-1zM76.9 268.1h1v1h-1zM81.5 253.7h1v1h-1zM91.2 259.0h1v1h-1zM88.2 256.7h1v1h-1zM86.5 256.7h1v1h-1zM83.8 253.7h1v1h-1zM82.5 255.0h1v1h-1zM80.4 253.2h1v1h-1zM74.9 265.4h1v1h-1zM66.9 252.1h1v1h-1zM75.8 277.3h1v1h-1zM79.8 251.6h1v1h-1zM67.5 280.0h1v1h-1zM64.6 270.2h1v1h-1zM67.6 277.1h1v1h-1zM80.2 279.8h1v1h-1zM74.6 277.0h1v1h-1zM59.2 282.0h1v1h-1zM72.2 283.2h1v1h-1zM90.4 274.8h1v1h-1zM61.4 281.9h1v1h-1zM68.0 282.2h1v1h-1zM74.6 279.4h1v1h-1zM74.0 278.5h1v1h-1zM64.3 272.4h1v1h-1zM69.3 272.3h1v1h-1zM71.1 280.4h1v1h-1zM78.7 281.0h1v1h-1zM68.2 284.1h1v1h-1zM63.0 283.8h1v1h-1zM73.2 281.5h1v1h-1zM63.0 272.1h1v1h-1zM72.7 283.3h1v1h-1zM59.2 274.9h1v1h-1zM73.7 277.8h1v1h-1zM79.7 274.9h1v1h-1zM83.6 277.1h1v1h-1zM85.1 279.8h1v1h-1zM83.4 276.3h1v1h-1zM81.0 279.9h1v1h-1zM66.3 276.1h1v1h-1zM68.9 284.8h1v1h-1zM69.0 273.0h1v1h-1zM71.8 275.0h1v1h-1zM62.5 281.6h1v1h-1zM71.4 272.2h1v1h-1zM59.0 274.9h1v1h-1zM76.7 283.8h1v1h-1zM78.7 281.8h1v1h-1zM75.7 279.2h1v1h-1zM75.5 275.7h1v1h-1zM74.3 282.5h1v1h-1zM70.3 288.7h1v1h-1zM58.8 275.8h1v1h-1zM70.7 276.7h1v1h-1zM77.8 284.1h1v1h-1zM61.2 275.5h1v1h-1zM74.1 283.9h1v1h-1zM67.8 276.5h1v1h-1zM63.4 277.6h1v1h-1zM82.6 280.8h1v1h-1zM82.8 274.8h1v1h-1zM73.0 281.2h1v1h-1zM78.5 275.2h1v1h-1zM73.1 277.9h1v1h-1zM83.4 285.3h1v1h-1zM59.9 279.7h1v1h-1zM72.0 277.5h1v1h-1zM75.8 281.2h1v1h-1zM76.2 284.7h1v1h-1zM63.7 283.9h1v1h-1zM60.2 271.1h1v1h-1zM62.4 268.9h1v1h-1zM76.3 278.9h1v1h-1zM77.5 279.6h1v1h-1zM71.2 272.6h1v1h-1zM79.8 285.1h1v1h-1zM59.3 281.3h1v1h-1zM76.8 280.7h1v1h-1zM65.9 278.7h1v1h-1zM67.4 276.1h1v1h-1zM64.0 280.2h1v1h-1zM73.2 285.4h1v1h-1zM70.5 284.4h1v1h-1zM71.5 272.6h1v1h-1zM77.9 278.3h1v1h-1zM76.7 284.9h1v1h-1zM70.1 275.3h1v1h-1zM73.6 274.9h1v1h-1zM75.9 278.0h1v1h-1zM77.2 271.0h1v1h-1zM76.8 278.9h1v1h-1zM79.9 266.1h1v1h-1zM66.1 284.1h1v1h-1zM65.4 273.9h1v1h-1zM67.1 281.9h1v1h-1zM63.0 279.3h1v1h-1zM70.1 272.3h1v1h-1zM67.6 283.6h1v1h-1zM78.0 276.4h1v1h-1zM73.2 283.0h1v1h-1zM87.6 290.5h1v1h-1zM66.6 283.0h1v1h-1zM71.7 273.8h1v1h-1zM65.6 283.8h1v1h-1zM64.7 272.8h1v1h-1zM66.9 275.4h1v1h-1zM65.8 277.2h1v1h-1zM67.9 278.4h1v1h-1zM75.3 277.6h1v1h-1zM72.5 281.5h1v1h-1zM78.2 286.5h1v1h-1zM61.4 283.0h1v1h-1zM77.4 283.2h1v1h-1zM74.3 280.7h1v1h-1zM73.8 282.6h1v1h-1zM82.6 270.0h1v1h-1zM73.2 277.4h1v1h-1zM72.1 286.9h1v1h-1zM75.8 266.4h1v1h-1zM79.7 278.0h1v1h-1zM81.8 286.2h1v1h-1zM67.4 287.7h1v1h-1zM84.4 282.2h1v1h-1zM77.9 279.4h1v1h-1zM66.2 275.5h1v1h-1zM73.5 270.9h1v1h-1zM73.4 273.0h1v1h-1zM74.2 277.5h1v1h-1zM68.6 268.8h1v1h-1zM63.0 280.5h1v1h-1zM79.5 269.8h1v1h-1zM81.2 279.0h1v1h-1zM76.0 284.2h1v1h-1zM74.5 274.6h1v1h-1zM77.8 276.9h1v1h-1zM72.5 276.0h1v1h-1zM64.9 277.9h1v1h-1zM65.5 274.7h1v1h-1zM64.6 277.6h1v1h-1zM70.5 285.2h1v1h-1zM84.8 281.5h1v1h-1zM70.8 279.3h1v1h-1zM81.6 283.1h1v1h-1zM72.8 280.3h1v1h-1zM64.7 279.3h1v1h-1zM69.4 282.0h1v1h-1zM66.2 281.4h1v1h-1zM73.9 275.8h1v1h-1zM71.2 277.0h1v1h-1zM81.6 287.6h1v1h-1zM67.4 271.0h1v1h-1zM77.4 280.1h1v1h-1zM64.5 279.3h1v1h-1zM76.2 282.7h1v1h-1zM65.4 284.8h1v1h-1zM74.7 272.0h1v1h-1zM71.8 281.2h1v1h-1zM78.1 281.0h1v1h-1zM64.7 282.6h1v1h-1zM73.8 274.7h1v1h-1zM72.8 277.3h1v1h-1zM74.7 269.1h1v1h-1zM76.0 278.2h1v1h-1zM72.5 274.2h1v1h-1zM74.7 280.5h1v1h-1zM73.6 280.3h1v1h-1zM81.2 274.8h1v1h-1zM69.0 275.2h1v1h-1zM86.9 280.7h1v1h-1zM81.8 274.9h1v1h-1zM74.3 278.6h1v1h-1zM74.2 268.1h1v1h-1zM62.3 272.2h1v1h-1zM66.8 280.5h1v1h-1zM84.1 272.0h1v1h-1zM75.5 274.4h1v1h-1zM79.6 275.4h1v1h-1zM73.0 282.3h1v1h-1zM71.3 274.0h1v1h-1zM73.3 280.1h1v1h-1zM75.2 284.1h1v1h-1zM62.5 277.9h1v1h-1zM72.8 284.2h1v1h-1zM83.8 269.3h1v1h-1zM79.8 266.0h1v1h-1zM63.4 283.9h1v1h-1zM74.0 276.1h1v1h-1zM82.0 283.0h1v1h-1zM77.7 281.1h1v1h-1zM73.3 278.7h1v1h-1zM83.8 275.2h1v1h-1zM68.8 277.0h1v1h-1zM76.2 282.8h1v1h-1zM69.9 282.3h1v1h-1zM67.7 271.7h1v1h-1zM62.7 279.7h1v1h-1zM65.7 281.7h1v1h-1zM72.9 280.2h1v1h-1zM67.4 275.6h1v1h-1zM67.2 278.3h1v1h-1zM60.5 287.9h1v1h-1zM65.2 273.3h1v1h-1zM69.1 276.4h1v1h-1zM79.1 278.2h1v1h-1zM67.8 277.3h1v1h-1zM67.9 279.1h1v1h-1zM72.1 283.5h1v1h-1zM76.3 273.7h1v1h-1zM74.9 282.9h1v1h-1zM66.2 281.5h1v1h-1zM62.5 280.3h1v1h-1zM81.7 282.4h1v1h-1zM77.2 278.7h1v1h-1zM71.3 280.3h1v1h-1zM66.4 281.3h1v1h-1zM72.7 278.8h1v1h-1zM67.7 280.3h1v1h-1zM64.9 279.8h1v1h-1zM65.3 279.6h1v1h-1zM84.6 282.2h1v1h-1zM71.3 280.4h1v1h-1zM70.7 281.2h1v1h-1zM74.5 276.5h1v1h-1zM72.6 282.3h1v1h-1zM73.9 284.1h1v1h-1zM72.3 272.5h1v1h-1zM75.5 278.9h1v1h-1zM59.2 276.9h1v1h-1zM59.4 280.7h1v1h-1zM81.2 274.7h1v1h-1zM66.9 271.6h1v1h-1zM66.5 275.7h1v1h-1zM72.2 276.9h1v1h-1zM77.7 284.3h1v1h-1zM73.8 284.8h1v1h-1zM84.8 278.8h1v1h-1zM74.9 283.0h1v1h-1zM63.0 274.2h1v1h-1zM71.2 276.0h1v1h-1zM64.4 277.2h1v1h-1zM75.1 275.7h1v1h-1zM74.3 267.7h1v1h-1zM72.8 277.9h1v1h-1zM80.1 278.6h1v1h-1zM68.5 270.7h1v1h-1zM83.5 278.5h1v1h-1zM72.7 282.2h1v1h-1zM92.3 278.7h1v1h-1zM63.5 272.0h1v1h-1zM90.5 276.9h1v1h-1zM73.4 280.6h1v1h-1zM65.8 283.4h1v1h-1zM62.1 278.1h1v1h-1zM82.1 275.9h1v1h-1zM72.2 288.3h1v1h-1zM86.1 280.7h1v1h-1zM66.1 277.9h1v1h-1zM69.9 278.6h1v1h-1zM75.6 282.7h1v1h-1zM75.7 284.0h1v1h-1zM66.9 275.4h1v1h-1zM74.1 281.6h1v1h-1zM85.2 278.6h1v1h-1zM59.1 286.4h1v1h-1zM60.9 279.3h1v1h-1zM81.2 274.8h1v1h-1zM74.4 279.6h1v1h-1zM71.1 268.9h1v1h-1zM68.7 285.9h1v1h-1zM71.8 276.2h1v1h-1zM73.6 279.2h1v1h-1zM63.4 266.8h1v1h-1zM67.7 275.6h1v1h-1zM74.9 271.7h1v1h-1zM71.8 283.9h1v1h-1zM80.1 275.0h1v1h-1zM70.7 277.2h1v1h-1zM64.3 285.8h1v1h-1zM74.7 277.1h1v1h-1zM72.4 277.0h1v1h-1zM82.5 277.1h1v1h-1zM63.3 283.3h1v1h-1zM72.4 285.1h1v1h-1zM72.0 282.1h1v1h-1zM91.5 278.8h1v1h-1zM74.7 284.0h1v1h-1zM66.6 285.4h1v1h-1zM66.7 276.4h1v1h-1zM67.4 280.1h1v1h-1zM66.4 274.7h1v1h-1zM73.8 280.5h1v1h-1zM70.7 284.1h1v1h-1zM78.0 283.3h1v1h-1zM73.0 281.5h1v1h-1zM65.3 284.8h1v1h-1zM64.6 279.3h1v1h-1zM85.2 276.3h1v1h-1zM68.8 286.4h1v1h-1zM65.4 281.9h1v1h-1zM62.5 278.1h1v1h-1zM78.0 278.1h1v1h-1zM71.5 271.0h1v1h-1zM85.7 281.0h1v1h-1zM71.3 273.2h1v1h-1zM66.9 285.6h1v1h-1zM69.2 282.3h1v1h-1zM66.7 271.2h1v1h-1zM66.6 278.5h1v1h-1zM60.1 277.9h1v1h-1zM65.2 274.0h1v1h-1zM74.5 281.0h1v1h-1zM63.9 275.2h1v1h-1zM71.7 279.2h1v1h-1zM73.7 285.9h1v1h-1zM80.3 283.6h1v1h-1zM70.5 275.6h1v1h-1zM73.8 278.3h1v1h-1zM79.5 279.7h1v1h-1zM64.7 278.8h1v1h-1zM74.4 286.4h1v1h-1zM69.0 274.4h1v1h-1zM62.1 282.6h1v1h-1zM68.1 278.0h1v1h-1zM73.2 287.9h1v1h-1zM70.8 278.7h1v1h-1zM80.2 283.8h1v1h-1zM71.8 281.4h1v1h-1zM79.5 280.1h1v1h-1zM70.0 276.6h1v1h-1zM68.4 275.9h1v1h-1zM63.5 280.1h1v1h-1zM67.8 273.1h1v1h-1zM75.2 273.4h1v1h-1zM67.5 284.6h1v1h-1zM79.9 280.5h1v1h-1zM77.6 281.7h1v1h-1zM76.1 272.5h1v1h-1zM70.7 276.0h1v1h-1zM68.7 286.6h1v1h-1zM62.6 281.2h1v1h-1zM61.6 274.6h1v1h-1zM71.9 271.3h1v1h-1zM93.1 274.9h1v1h-1zM65.3 273.6h1v1h-1zM84.6 285.0h1v1h-1zM69.2 277.1h1v1h-1zM59.6 276.4h1v1h-1zM64.1 276.7h1v1h-1zM65.7 283.7h1v1h-1zM65.0 276.3h1v1h-1zM72.3 271.5h1v1h-1zM61.3 278.7h1v1h-1zM68.7 283.2h1v1h-1zM63.9 277.3h1v1h-1zM60.4 277.6h1v1h-1zM69.0 277.6h1v1h-1zM76.2 280.8h1v1h-1zM78.8 281.0h1v1h-1zM72.2 282.1h1v1h-1zM74.5 278.0h1v1h-1zM75.4 281.7h1v1h-1zM69.3 277.9h1v1h-1zM68.1 281.4h1v1h-1zM67.8 277.2h1v1h-1zM69.5 278.8h1v1h-1zM81.6 276.0h1v1h-1zM63.0 268.6h1v1h-1zM70.0 287.0h1v1h-1zM67.9 272.4h1v1h-1zM65.2 272.0h1v1h-1zM61.3 277.1h1v1h-1zM79.1 283.6h1v1h-1zM80.5 282.3h1v1h-1zM78.4 285.8h1v1h-1zM71.4 277.4h1v1h-1zM74.4 272.2h1v1h-1zM78.2 269.0h1v1h-1zM59.4 284.5h1v1h-1zM68.0 279.0h1v1h-1zM76.3 263.6h1v1h-1zM71.8 278.5h1v1h-1zM59.8 281.4h1v1h-1zM61.7 276.2h1v1h-1zM65.0 273.7h1v1h-1zM75.7 277.7h1v1h-1zM75.5 275.7h1v1h-1zM72.4 273.0h1v1h-1zM69.5 276.4h1v1h-1zM59.3 278.1h1v1h-1zM77.1 277.2h1v1h-1zM70.7 281.7h1v1h-1zM68.1 281.4h1v1h-1zM75.4 279.1h1v1h-1zM60.7 282.1h1v1h-1zM66.6 284.5h1v1h-1zM74.4 274.7h1v1h-1zM66.7 282.0h1v1h-1zM72.6 280.9h1v1h-1zM74.6 282.9h1v1h-1zM75.3 274.7h1v1h-1zM77.2 285.8h1v1h-1zM66.1 280.1h1v1h-1zM76.0 285.3h1v1h-1zM68.7 276.2h1v1h-1zM81.2 281.9h1v1h-1zM66.1 283.4h1v1h-1zM68.4 279.8h1v1h-1zM68.3 276.5h1v1h-1zM76.8 282.7h1v1h-1zM64.6 277.2h1v1h-1zM73.8 278.7h1v1h-1zM73.4 273.5h1v1h-1zM76.1 282.9h1v1h-1zM64.4 278.4h1v1h-1zM66.5 283.1h1v1h-1zM72.5 273.3h1v1h-1zM78.0 285.7h1v1h-1zM82.6 276.0h1v1h-1zM69.3 273.0h1v1h-1zM80.2 278.6h1v1h-1zM78.9 281.4h1v1h-1zM73.1 287.3h1v1h-1z"/>
<path fill="#f04a30" d="M63.9 279.7h1v1h-1zM74.2 254.1h1v1h-1zM65.9 266.5h1v1h-1zM74.1 259.3h1v1h-1zM79.1 254.6h1v1h-1zM61.5 256.0h1v1h-1zM75.4 257.8h1v1h-1zM69.2 263.7h1v1h-1zM68.2 258.0h1v1h-1zM103.8 261.1h1v1h-1zM79.4 261.4h1v1h-1zM67.8 258.3h1v1h-1zM83.7 265.0h1v1h-1zM120.7 261.9h1v1h-1zM83.6 249.5h1v1h-1zM66.3 261.3h1v1h-1zM67.1 254.0h1v1h-1zM79.9 237.3h1v1h-1zM59.5 253.9h1v1h-1zM67.0 250.2h1v1h-1zM83.8 263.4h1v1h-1zM88.7 263.5h1v1h-1zM67.7 274.3h1v1h-1zM106.6 242.9h1v1h-1zM90.6 253.3h1v1h-1zM112.1 263.1h1v1h-1zM81.5 269.9h1v1h-1zM61.2 263.9h1v1h-1zM106.3 267.8h1v1h-1zM100.1 274.7h1v1h-1zM97.7 262.1h1v1h-1zM64.9 267.7h1v1h-1zM80.3 253.6h1v1h-1zM102.1 253.7h1v1h-1zM59.0 243.7h1v1h-1zM70.1 270.6h1v1h-1zM86.5 264.3h1v1h-1zM65.7 257.1h1v1h-1zM105.9 256.3h1v1h-1zM71.1 255.6h1v1h-1zM111.0 258.1h1v1h-1zM95.4 263.1h1v1h-1zM79.0 273.7h1v1h-1zM62.7 257.2h1v1h-1zM85.6 273.1h1v1h-1zM92.0 259.4h1v1h-1zM96.3 263.8h1v1h-1zM121.4 265.1h1v1h-1zM75.2 263.9h1v1h-1zM72.0 250.4h1v1h-1zM107.0 273.2h1v1h-1zM88.2 244.9h1v1h-1zM69.4 254.2h1v1h-1zM60.8 273.0h1v1h-1zM113.0 270.5h1v1h-1zM74.6 272.4h1v1h-1zM111.7 261.1h1v1h-1zM64.0 260.5h1v1h-1zM88.0 258.5h1v1h-1zM94.1 251.2h1v1h-1zM104.4 256.7h1v1h-1zM104.5 269.6h1v1h-1zM89.9 261.5h1v1h-1zM82.5 249.2h1v1h-1zM101.9 271.0h1v1h-1zM79.9 269.3h1v1h-1zM99.2 258.1h1v1h-1zM81.4 268.1h1v1h-1zM61.9 242.6h1v1h-1zM113.0 248.2h1v1h-1zM99.5 262.3h1v1h-1zM89.0 286.9h1v1h-1zM59.7 266.0h1v1h-1zM81.6 262.3h1v1h-1zM72.7 258.7h1v1h-1zM68.1 259.9h1v1h-1zM93.1 294.7h1v1h-1zM84.3 250.0h1v1h-1zM69.5 249.8h1v1h-1zM79.0 268.9h1v1h-1zM99.1 255.4h1v1h-1zM105.6 272.7h1v1h-1zM93.0 267.2h1v1h-1zM103.6 266.5h1v1h-1zM86.5 252.0h1v1h-1zM113.3 254.7h1v1h-1zM93.6 251.7h1v1h-1zM83.8 271.1h1v1h-1zM59.6 272.1h1v1h-1zM73.3 257.8h1v1h-1zM59.9 252.6h1v1h-1zM94.0 257.9h1v1h-1zM100.5 267.4h1v1h-1zM70.3 265.7h1v1h-1zM64.8 267.1h1v1h-1zM79.5 281.6h1v1h-1zM86.7 264.6h1v1h-1zM110.7 264.5h1v1h-1zM87.9 261.9h1v1h-1zM72.3 257.6h1v1h-1zM84.2 255.9h1v1h-1zM97.8 262.7h1v1h-1zM82.9 275.1h1v1h-1zM91.6 265.4h1v1h-1zM69.3 259.5h1v1h-1zM76.4 265.3h1v1h-1zM82.5 276.7h1v1h-1zM91.1 275.4h1v1h-1zM105.4 248.0h1v1h-1zM117.0 249.9h1v1h-1zM62.5 280.5h1v1h-1zM62.9 260.7h1v1h-1zM71.0 266.2h1v1h-1zM109.9 268.4h1v1h-1zM73.7 260.3h1v1h-1zM72.0 272.6h1v1h-1zM62.7 262.4h1v1h-1zM81.1 254.4h1v1h-1zM90.7 251.2h1v1h-1zM63.6 258.5h1v1h-1zM63.8 285.2h1v1h-1zM101.2 284.9h1v1h-1zM80.4 243.7h1v1h-1zM60.3 277.8h1v1h-1zM71.4 276.1h1v1h-1zM107.0 270.5h1v1h-1zM76.5 271.8h1v1h-1zM80.0 261.7h1v1h-1zM62.1 275.4h1v1h-1zM101.8 257.7h1v1h-1zM61.4 251.5h1v1h-1zM74.7 262.6h1v1h-1zM98.5 270.5h1v1h-1zM74.3 257.0h1v1h-1zM61.7 263.1h1v1h-1zM112.9 260.4h1v1h-1zM107.8 246.7h1v1h-1zM75.2 275.6h1v1h-1zM79.2 263.0h1v1h-1zM77.9 279.6h1v1h-1zM116.4 266.1h1v1h-1zM99.0 255.9h1v1h-1zM98.6 251.8h1v1h-1zM115.6 250.8h1v1h-1zM80.9 264.1h1v1h-1zM67.2 257.5h1v1h-1zM82.6 275.3h1v1h-1zM110.8 254.0h1v1h-1zM62.8 274.1h1v1h-1zM91.2 258.2h1v1h-1zM81.9 269.2h1v1h-1zM82.8 250.7h1v1h-1zM60.2 253.2h1v1h-1zM93.6 264.7h1v1h-1zM119.8 260.9h1v1h-1zM69.2 276.5h1v1h-1zM74.6 259.9h1v1h-1zM94.8 261.5h1v1h-1zM87.5 256.1h1v1h-1zM64.0 264.8h1v1h-1zM91.6 277.5h1v1h-1zM86.4 269.6h1v1h-1zM62.3 268.4h1v1h-1zM66.4 261.8h1v1h-1zM60.6 263.9h1v1h-1zM89.4 283.2h1v1h-1zM113.0 254.5h1v1h-1zM86.4 250.7h1v1h-1zM85.5 259.4h1v1h-1zM114.7 255.1h1v1h-1zM65.4 253.4h1v1h-1zM86.1 279.8h1v1h-1zM96.0 259.9h1v1h-1zM122.4 252.9h1v1h-1zM66.8 271.2h1v1h-1zM88.0 249.4h1v1h-1zM76.4 259.1h1v1h-1zM90.7 259.5h1v1h-1zM68.5 245.9h1v1h-1zM77.4 255.0h1v1h-1zM97.2 257.2h1v1h-1zM98.9 263.8h1v1h-1zM61.6 254.3h1v1h-1zM71.3 264.3h1v1h-1zM95.6 267.2h1v1h-1zM93.4 245.2h1v1h-1zM84.2 255.7h1v1h-1zM87.8 263.3h1v1h-1zM97.3 274.4h1v1h-1zM106.1 263.0h1v1h-1zM68.1 257.7h1v1h-1zM85.7 278.1h1v1h-1zM91.2 271.0h1v1h-1zM79.4 260.5h1v1h-1zM98.2 248.1h1v1h-1zM106.3 261.7h1v1h-1zM92.0 270.0h1v1h-1zM94.1 264.1h1v1h-1zM120.5 264.3h1v1h-1zM59.9 256.6h1v1h-1zM105.4 253.4h1v1h-1zM60.7 269.2h1v1h-1zM80.1 266.9h1v1h-1zM72.3 257.6h1v1h-1zM122.4 273.2h1v1h-1zM60.9 266.6h1v1h-1zM81.1 259.6h1v1h-1zM64.5 257.8h1v1h-1zM81.2 266.4h1v1h-1zM77.3 246.4h1v1h-1zM110.5 259.1h1v1h-1zM77.1 270.3h1v1h-1zM94.9 263.6h1v1h-1zM84.1 254.5h1v1h-1zM122.4 272.4h1v1h-1zM111.6 267.9h1v1h-1zM60.9 273.5h1v1h-1zM59.5 271.9h1v1h-1zM86.5 260.7h1v1h-1zM87.0 263.9h1v1h-1zM70.9 259.3h1v1h-1zM94.4 270.3h1v1h-1zM110.7 257.0h1v1h-1zM78.0 262.8h1v1h-1zM77.0 260.4h1v1h-1zM61.9 266.2h1v1h-1zM72.2 259.5h1v1h-1zM92.1 257.2h1v1h-1zM107.5 268.2h1v1h-1zM59.0 250.8h1v1h-1zM70.8 260.5h1v1h-1zM83.0 262.3h1v1h-1zM85.1 271.9h1v1h-1zM67.1 267.6h1v1h-1zM102.8 268.3h1v1h-1zM104.2 272.4h1v1h-1zM63.3 264.7h1v1h-1zM70.6 257.1h1v1h-1zM83.8 281.7h1v1h-1zM67.9 247.9h1v1h-1zM104.0 255.9h1v1h-1zM98.3 267.3h1v1h-1zM106.5 259.7h1v1h-1zM64.8 250.2h1v1h-1zM108.8 260.3h1v1h-1zM118.6 265.9h1v1h-1zM115.3 274.8h1v1h-1zM105.4 257.0h1v1h-1zM75.6 273.0h1v1h-1zM106.2 262.8h1v1h-1zM77.6 254.2h1v1h-1zM77.9 257.7h1v1h-1zM62.3 270.6h1v1h-1zM60.4 275.9h1v1h-1zM88.7 266.5h1v1h-1zM85.3 266.3h1v1h-1zM83.2 268.8h1v1h-1zM119.8 268.9h1v1h-1zM117.8 254.3h1v1h-1zM95.0 266.8h1v1h-1zM108.4 267.7h1v1h-1zM75.1 271.7h1v1h-1zM83.9 267.9h1v1h-1zM88.9 266.9h1v1h-1zM101.1 256.9h1v1h-1zM95.3 261.0h1v1h-1zM83.5 281.2h1v1h-1zM117.2 260.1h1v1h-1zM91.0 279.8h1v1h-1zM83.4 274.7h1v1h-1zM102.3 255.4h1v1h-1zM59.9 240.6h1v1h-1zM87.2 253.6h1v1h-1zM81.2 243.4h1v1h-1zM75.1 258.9h1v1h-1zM64.0 247.6h1v1h-1zM95.2 250.3h1v1h-1zM86.9 256.2h1v1h-1zM114.1 272.6h1v1h-1zM66.8 267.6h1v1h-1zM114.5 244.0h1v1h-1zM67.5 267.0h1v1h-1zM75.7 277.2h1v1h-1zM99.9 255.5h1v1h-1zM115.2 267.4h1v1h-1zM110.9 263.9h1v1h-1zM97.7 254.3h1v1h-1zM60.7 268.5h1v1h-1zM100.9 261.6h1v1h-1zM78.2 257.4h1v1h-1zM80.6 279.6h1v1h-1zM112.0 262.4h1v1h-1zM60.0 270.4h1v1h-1zM70.8 266.4h1v1h-1zM106.5 256.9h1v1h-1zM110.3 259.6h1v1h-1zM60.0 249.9h1v1h-1zM74.3 252.6h1v1h-1zM63.6 269.6h1v1h-1zM70.3 248.3h1v1h-1zM108.4 265.0h1v1h-1zM67.7 288.5h1v1h-1zM121.8 263.0h1v1h-1zM63.4 272.2h1v1h-1zM94.4 257.8h1v1h-1zM68.6 253.3h1v1h-1zM70.0 267.5h1v1h-1zM74.3 269.5h1v1h-1zM82.7 253.7h1v1h-1zM98.8 272.9h1v1h-1zM94.6 285.7h1v1h-1zM85.1 266.0h1v1h-1zM80.6 265.6h1v1h-1zM84.6 271.1h1v1h-1zM77.7 272.4h1v1h-1zM96.3 257.2h1v1h-1zM74.6 243.6h1v1h-1zM70.3 266.6h1v1h-1zM59.4 273.6h1v1h-1zM106.0 252.4h1v1h-1zM86.2 256.9h1v1h-1zM108.6 266.0h1v1h-1zM81.4 255.4h1v1h-1zM104.9 253.9h1v1h-1zM76.3 266.3h1v1h-1zM86.2 241.0h1v1h-1zM93.8 268.5h1v1h-1zM71.9 279.7h1v1h-1zM106.5 256.7h1v1h-1zM116.8 266.5h1v1h-1zM69.2 243.6h1v1h-1zM63.0 261.6h1v1h-1zM104.6 261.2h1v1h-1zM60.1 288.7h1v1h-1zM103.4 269.0h1v1h-1zM91.6 273.1h1v1h-1zM121.2 253.7h1v1h-1zM79.7 268.9h1v1h-1zM115.6 270.7h1v1h-1zM65.9 252.7h1v1h-1zM76.3 264.2h1v1h-1zM83.9 263.7h1v1h-1zM73.8 269.7h1v1h-1zM97.3 264.9h1v1h-1zM69.0 272.1h1v1h-1zM68.3 267.1h1v1h-1zM118.1 272.9h1v1h-1zM102.4 251.6h1v1h-1zM68.7 248.5h1v1h-1zM65.7 269.7h1v1h-1zM60.5 270.1h1v1h-1zM75.4 261.9h1v1h-1zM83.6 262.4h1v1h-1zM68.3 251.9h1v1h-1zM72.5 261.0h1v1h-1zM91.4 260.2h1v1h-1zM62.2 257.4h1v1h-1zM89.8 284.7h1v1h-1zM79.4 251.2h1v1h-1zM64.4 264.2h1v1h-1zM77.4 271.0h1v1h-1zM82.2 254.9h1v1h-1zM90.7 257.3h1v1h-1zM115.8 254.1h1v1h-1zM64.6 278.5h1v1h-1zM78.7 256.5h1v1h-1zM88.6 273.3h1v1h-1zM104.3 260.4h1v1h-1zM85.7 262.7h1v1h-1zM80.1 266.5h1v1h-1zM112.2 262.5h1v1h-1zM85.0 261.1h1v1h-1zM63.2 262.7h1v1h-1zM80.9 257.6h1v1h-1zM73.5 280.5h1v1h-1zM81.0 264.2h1v1h-1zM103.2 257.2h1v1h-1zM63.2 262.1h1v1h-1zM61.4 279.7h1v1h-1zM109.0 265.0h1v1h-1zM71.0 275.7h1v1h-1zM62.5 266.5h1v1h-1zM80.3 265.5h1v1h-1zM76.5 254.8h1v1h-1zM62.5 260.9h1v1h-1zM90.8 261.0h1v1h-1zM97.3 270.9h1v1h-1zM92.7 263.6h1v1h-1zM68.6 277.7h1v1h-1zM119.3 260.5h1v1h-1zM71.5 263.4h1v1h-1zM123.0 266.8h1v1h-1zM93.7 284.0h1v1h-1zM101.4 255.6h1v1h-1zM90.2 279.7h1v1h-1zM70.6 273.6h1v1h-1zM84.5 268.6h1v1h-1zM90.4 261.1h1v1h-1zM116.8 272.9h1v1h-1zM78.4 278.7h1v1h-1zM104.8 255.9h1v1h-1zM78.9 273.2h1v1h-1zM106.1 278.9h1v1h-1zM97.6 257.8h1v1h-1zM115.1 284.7h1v1h-1zM90.1 255.2h1v1h-1zM116.0 258.5h1v1h-1zM88.3 250.1h1v1h-1zM93.3 259.1h1v1h-1zM75.9 259.6h1v1h-1zM87.7 269.2h1v1h-1zM114.0 257.6h1v1h-1zM79.8 253.7h1v1h-1zM60.1 262.0h1v1h-1zM106.7 263.9h1v1h-1zM94.6 252.4h1v1h-1zM115.5 268.4h1v1h-1zM68.0 271.8h1v1h-1zM90.0 252.5h1v1h-1zM78.3 277.6h1v1h-1zM81.3 267.1h1v1h-1zM121.2 266.1h1v1h-1zM67.1 265.7h1v1h-1zM78.2 262.2h1v1h-1zM96.5 250.3h1v1h-1zM60.6 272.5h1v1h-1zM74.3 270.0h1v1h-1zM65.9 260.2h1v1h-1zM111.9 256.9h1v1h-1zM91.1 267.3h1v1h-1zM88.0 255.0h1v1h-1zM76.8 257.5h1v1h-1zM67.4 257.2h1v1h-1zM111.7 252.8h1v1h-1zM59.1 268.5h1v1h-1zM69.5 252.2h1v1h-1zM98.4 261.2h1v1h-1zM72.5 259.0h1v1h-1zM66.6 275.1h1v1h-1zM95.6 266.4h1v1h-1zM101.3 248.3h1v1h-1zM72.3 257.4h1v1h-1zM94.0 271.9h1v1h-1zM91.3 263.4h1v1h-1zM100.5 263.7h1v1h-1zM95.7 275.5h1v1h-1zM69.1 277.4h1v1h-1zM90.3 258.1h1v1h-1zM87.1 248.2h1v1h-1zM121.6 245.0h1v1h-1zM100.3 271.0h1v1h-1zM104.2 278.5h1v1h-1zM92.7 262.7h1v1h-1zM79.2 270.6h1v1h-1zM65.1 279.6h1v1h-1zM114.2 272.7h1v1h-1zM68.8 264.0h1v1h-1zM105.0 266.0h1v1h-1zM82.9 277.3h1v1h-1zM75.5 268.2h1v1h-1zM95.6 256.1h1v1h-1zM59.4 263.9h1v1h-1zM65.8 255.7h1v1h-1zM88.5 261.2h1v1h-1zM92.1 263.0h1v1h-1zM74.0 258.2h1v1h-1zM98.4 258.8h1v1h-1zM95.0 266.9h1v1h-1zM122.3 267.4h1v1h-1zM80.5 279.8h1v1h-1zM115.1 257.4h1v1h-1zM62.7 283.0h1v1h-1zM66.9 259.5h1v1h-1zM110.0 261.6h1v1h-1zM94.9 258.6h1v1h-1zM98.4 252.3h1v1h-1zM67.0 276.4h1v1h-1zM61.9 261.4h1v1h-1zM105.5 269.0h1v1h-1zM76.3 274.1h1v1h-1zM115.3 258.2h1v1h-1zM76.3 267.8h1v1h-1zM119.1 265.5h1v1h-1zM81.9 260.9h1v1h-1zM78.5 271.0h1v1h-1zM60.4 251.1h1v1h-1zM107.3 266.6h1v1h-1zM116.6 271.7h1v1h-1zM99.8 261.9h1v1h-1zM117.1 266.1h1v1h-1zM80.6 264.3h1v1h-1zM67.9 279.2h1v1h-1zM71.3 277.5h1v1h-1zM61.0 267.9h1v1h-1zM86.4 253.2h1v1h-1zM70.2 258.2h1v1h-1zM68.9 256.7h1v1h-1zM107.8 266.5h1v1h-1zM59.5 266.0h1v1h-1zM67.5 271.2h1v1h-1zM88.7 268.7h1v1h-1zM79.0 280.1h1v1h-1zM77.7 256.8h1v1h-1zM95.1 257.0h1v1h-1zM75.3 259.6h1v1h-1zM62.2 275.8h1v1h-1zM67.4 264.4h1v1h-1zM88.4 252.8h1v1h-1zM101.6 258.8h1v1h-1zM118.4 258.0h1v1h-1zM65.0 250.7h1v1h-1zM76.5 264.4h1v1h-1zM76.8 287.2h1v1h-1zM102.8 269.4h1v1h-1zM85.1 259.8h1v1h-1zM60.8 245.6h1v1h-1zM103.0 264.8h1v1h-1zM80.5 256.4h1v1h-1zM109.4 262.5h1v1h-1zM95.8 252.7h1v1h-1zM96.2 268.5h1v1h-1zM76.3 258.0h1v1h-1zM62.6 270.0h1v1h-1zM79.0 261.7h1v1h-1zM121.7 255.7h1v1h-1zM69.8 256.8h1v1h-1zM80.1 258.1h1v1h-1zM109.5 258.2h1v1h-1zM97.5 264.2h1v1h-1zM75.1 270.6h1v1h-1zM98.2 258.1h1v1h-1zM100.3 256.5h1v1h-1zM102.1 252.5h1v1h-1zM82.8 280.1h1v1h-1zM84.4 282.9h1v1h-1zM62.6 262.1h1v1h-1zM103.3 263.9h1v1h-1zM74.8 270.8h1v1h-1zM93.9 271.4h1v1h-1zM75.8 275.2h1v1h-1zM85.5 275.0h1v1h-1zM73.1 275.7h1v1h-1zM100.0 258.1h1v1h-1zM78.1 264.2h1v1h-1zM72.7 270.5h1v1h-1zM104.1 259.2h1v1h-1zM71.5 266.9h1v1h-1zM77.3 260.9h1v1h-1zM95.9 260.4h1v1h-1zM63.2 268.2h1v1h-1zM79.5 267.4h1v1h-1zM79.7 257.0h1v1h-1zM118.7 252.8h1v1h-1zM107.1 257.4h1v1h-1zM94.3 272.2h1v1h-1zM60.7 260.1h1v1h-1zM85.8 265.6h1v1h-1zM72.6 268.9h1v1h-1zM82.6 253.9h1v1h-1zM79.7 246.9h1v1h-1zM72.8 261.2h1v1h-1zM115.5 264.7h1v1h-1zM109.1 250.5h1v1h-1zM81.6 276.8h1v1h-1zM70.5 258.0h1v1h-1zM121.1 272.7h1v1h-1zM64.0 248.5h1v1h-1zM77.4 263.1h1v1h-1zM95.3 252.8h1v1h-1zM94.2 277.1h1v1h-1zM110.7 255.9h1v1h-1zM85.7 283.4h1v1h-1zM120.4 261.0h1v1h-1zM112.5 252.8h1v1h-1zM92.1 253.0h1v1h-1zM82.2 262.2h1v1h-1zM80.0 281.3h1v1h-1zM65.5 262.4h1v1h-1zM59.8 245.8h1v1h-1zM87.4 268.2h1v1h-1zM66.9 266.7h1v1h-1zM61.7 251.1h1v1h-1zM81.0 281.6h1v1h-1zM103.0 262.5h1v1h-1zM71.8 280.3h1v1h-1zM64.9 264.8h1v1h-1zM69.5 254.9h1v1h-1zM59.3 263.9h1v1h-1zM72.3 263.9h1v1h-1zM61.4 258.6h1v1h-1zM79.9 271.2h1v1h-1zM86.8 251.1h1v1h-1zM85.9 252.2h1v1h-1zM85.9 259.7h1v1h-1zM94.6 250.4h1v1h-1zM79.2 262.8h1v1h-1zM71.2 246.1h1v1h-1zM72.3 280.6h1v1h-1zM73.2 262.1h1v1h-1zM79.5 279.7h1v1h-1zM74.6 260.1h1v1h-1zM99.5 259.2h1v1h-1zM87.8 269.8h1v1h-1zM64.7 259.3h1v1h-1zM79.9 252.9h1v1h-1zM76.5 257.2h1v1h-1zM95.8 264.1h1v1h-1zM69.5 269.7h1v1h-1zM73.1 251.5h1v1h-1zM69.2 270.1h1v1h-1zM88.8 269.2h1v1h-1zM100.8 248.3h1v1h-1zM97.0 251.2h1v1h-1zM83.4 273.3h1v1h-1zM79.4 269.1h1v1h-1zM93.0 260.6h1v1h-1zM89.2 236.0h1v1h-1zM104.7 260.0h1v1h-1zM68.8 256.0h1v1h-1zM70.6 274.2h1v1h-1zM82.6 261.2h1v1h-1zM88.9 262.7h1v1h-1zM82.4 262.2h1v1h-1zM84.4 248.2h1v1h-1zM95.3 265.8h1v1h-1zM99.1 251.9h1v1h-1zM79.2 266.3h1v1h-1zM84.9 259.0h1v1h-1zM75.0 250.7h1v1h-1zM73.1 270.6h1v1h-1zM109.5 269.6h1v1h-1zM60.9 243.0h1v1h-1zM86.9 268.0h1v1h-1zM80.1 277.5h1v1h-1zM74.5 255.4h1v1h-1zM84.0 267.1h1v1h-1zM82.7 261.3h1v1h-1zM87.2 266.7h1v1h-1zM85.7 258.5h1v1h-1zM78.1 261.7h1v1h-1zM98.5 252.3h1v1h-1zM94.7 258.0h1v1h-1zM64.1 258.3h1v1h-1zM85.8 257.3h1v1h-1zM74.0 278.9h1v1h-1zM91.9 265.6h1v1h-1zM90.0 256.7h1v1h-1zM90.7 273.0h1v1h-1zM75.5 244.2h1v1h-1zM97.3 254.5h1v1h-1zM86.7 258.5h1v1h-1zM86.4 269.9h1v1h-1zM89.5 252.3h1v1h-1zM94.1 259.5h1v1h-1zM109.6 263.0h1v1h-1zM80.0 252.4h1v1h-1zM98.4 269.9h1v1h-1zM87.2 270.2h1v1h-1zM76.3 249.8h1v1h-1zM100.7 266.0h1v1h-1zM70.6 243.0h1v1h-1zM98.5 252.4h1v1h-1zM83.1 266.5h1v1h-1zM100.4 253.7h1v1h-1zM78.5 258.4h1v1h-1zM74.6 260.5h1v1h-1zM72.2 261.8h1v1h-1zM75.7 256.8h1v1h-1zM65.7 253.5h1v1h-1zM68.1 244.3h1v1h-1zM95.4 261.2h1v1h-1zM98.0 250.9h1v1h-1zM65.0 267.6h1v1h-1zM91.6 266.8h1v1h-1zM112.1 256.8h1v1h-1zM69.2 250.5h1v1h-1zM93.0 253.0h1v1h-1zM91.3 266.3h1v1h-1zM80.8 253.0h1v1h-1zM88.6 250.8h1v1h-1zM83.2 262.9h1v1h-1zM75.4 255.8h1v1h-1zM84.9 255.3h1v1h-1zM77.5 251.1h1v1h-1zM90.0 259.8h1v1h-1zM70.0 260.3h1v1h-1zM107.5 256.2h1v1h-1zM87.9 259.2h1v1h-1zM82.7 261.3h1v1h-1zM83.1 266.4h1v1h-1zM70.3 264.1h1v1h-1zM73.3 279.6h1v1h-1zM90.5 255.9h1v1h-1zM113.6 260.1h1v1h-1zM92.0 272.0h1v1h-1zM84.4 260.4h1v1h-1zM68.1 265.5h1v1h-1zM70.0 271.2h1v1h-1zM101.6 249.3h1v1h-1zM65.3 248.5h1v1h-1zM107.7 245.7h1v1h-1zM72.9 266.6h1v1h-1zM101.7 280.7h1v1h-1zM60.0 257.4h1v1h-1zM90.1 260.0h1v1h-1zM87.4 270.0h1v1h-1zM89.7 258.7h1v1h-1zM70.4 264.3h1v1h-1zM93.1 261.3h1v1h-1zM73.1 261.0h1v1h-1zM71.0 277.5h1v1h-1zM113.8 257.2h1v1h-1zM76.7 271.4h1v1h-1zM59.8 260.8h1v1h-1zM76.8 262.2h1v1h-1zM71.2 269.8h1v1h-1zM72.5 254.9h1v1h-1zM73.7 264.4h1v1h-1zM88.6 250.8h1v1h-1zM97.9 260.7h1v1h-1zM74.2 263.8h1v1h-1zM95.7 260.8h1v1h-1zM101.0 248.1h1v1h-1zM96.7 253.9h1v1h-1zM93.6 259.6h1v1h-1zM87.2 274.6h1v1h-1zM76.7 266.6h1v1h-1zM70.6 258.6h1v1h-1zM68.7 256.6h1v1h-1zM107.5 252.7h1v1h-1zM101.1 262.7h1v1h-1zM71.0 266.9h1v1h-1zM84.5 259.5h1v1h-1zM91.7 254.9h1v1h-1zM87.3 266.4h1v1h-1zM85.0 272.8h1v1h-1zM92.3 247.4h1v1h-1zM98.6 255.0h1v1h-1zM79.4 250.0h1v1h-1zM93.2 257.8h1v1h-1zM105.2 264.5h1v1h-1zM68.8 254.4h1v1h-1zM89.2 262.2h1v1h-1zM81.8 260.1h1v1h-1zM88.1 267.1h1v1h-1zM85.1 257.7h1v1h-1zM102.0 250.0h1v1h-1zM61.1 247.3h1v1h-1zM83.8 254.4h1v1h-1zM87.5 260.7h1v1h-1zM92.8 255.7h1v1h-1zM84.2 267.9h1v1h-1zM108.0 259.9h1v1h-1zM103.6 252.4h1v1h-1zM82.8 263.2h1v1h-1zM95.9 267.6h1v1h-1zM85.3 262.9h1v1h-1zM77.7 272.6h1v1h-1zM78.2 250.3h1v1h-1zM65.2 263.9h1v1h-1zM84.8 257.3h1v1h-1zM90.6 252.1h1v1h-1zM71.6 259.2h1v1h-1zM91.0 245.1h1v1h-1zM92.5 266.2h1v1h-1zM112.4 265.9h1v1h-1zM102.1 268.7h1v1h-1zM75.8 257.7h1v1h-1zM108.0 255.3h1v1h-1zM76.5 266.7h1v1h-1zM91.3 267.4h1v1h-1zM100.7 264.0h1v1h-1zM69.1 252.4h1v1h-1zM90.4 269.4h1v1h-1zM106.1 255.2h1v1h-1zM66.2 267.6h1v1h-1zM99.8 260.5h1v1h-1zM66.9 256.3h1v1h-1zM117.7 265.8h1v1h-1zM72.1 263.5h1v1h-1zM72.9 253.7h1v1h-1zM95.9 266.2h1v1h-1zM91.0 270.2h1v1h-1zM97.1 253.1h1v1h-1zM104.5 251.3h1v1h-1zM81.4 277.2h1v1h-1zM78.2 258.8h1v1h-1zM62.6 263.9h1v1h-1zM66.3 258.9h1v1h-1zM105.2 258.5h1v1h-1zM103.5 261.4h1v1h-1zM68.8 272.3h1v1h-1zM74.2 245.5h1v1h-1zM80.0 261.4h1v1h-1zM79.4 253.3h1v1h-1zM75.7 255.9h1v1h-1zM84.4 262.2h1v1h-1zM71.6 270.2h1v1h-1zM103.3 257.3h1v1h-1zM101.8 266.9h1v1h-1zM70.9 263.3h1v1h-1zM64.4 256.8h1v1h-1zM101.1 263.7h1v1h-1zM72.6 280.3h1v1h-1zM96.1 262.1h1v1h-1zM88.6 270.3h1v1h-1zM86.5 260.1h1v1h-1zM81.7 274.6h1v1h-1zM106.6 250.3h1v1h-1zM67.4 257.0h1v1h-1zM77.1 260.3h1v1h-1zM87.9 276.5h1v1h-1zM85.2 262.3h1v1h-1zM87.6 250.2h1v1h-1zM93.6 254.9h1v1h-1zM80.6 262.7h1v1h-1zM87.0 261.5h1v1h-1zM87.3 258.7h1v1h-1zM72.6 274.4h1v1h-1zM100.1 262.7h1v1h-1zM84.4 267.2h1v1h-1zM71.4 274.0h1v1h-1zM78.9 265.3h1v1h-1zM96.4 258.6h1v1h-1zM80.1 269.6h1v1h-1zM84.5 269.3h1v1h-1zM87.8 268.8h1v1h-1zM102.2 257.7h1v1h-1zM78.5 254.8h1v1h-1zM72.1 252.8h1v1h-1zM77.3 256.3h1v1h-1zM77.4 264.2h1v1h-1zM96.7 256.9h1v1h-1zM103.9 270.2h1v1h-1zM95.5 270.7h1v1h-1zM84.1 268.6h1v1h-1zM90.0 256.7h1v1h-1zM98.7 246.7h1v1h-1zM107.8 272.6h1v1h-1zM68.0 262.2h1v1h-1zM69.8 260.0h1v1h-1zM64.1 253.9h1v1h-1zM106.6 273.0h1v1h-1zM67.3 269.3h1v1h-1zM74.6 261.7h1v1h-1zM84.6 256.1h1v1h-1zM80.7 245.2h1v1h-1zM111.7 266.7h1v1h-1zM91.3 260.3h1v1h-1zM59.9 251.1h1v1h-1zM99.6 255.9h1v1h-1zM83.2 262.3h1v1h-1zM83.6 266.8h1v1h-1zM81.4 275.9h1v1h-1zM69.0 277.8h1v1h-1zM71.3 278.2h1v1h-1zM75.3 276.5h1v1h-1zM74.4 276.5h1v1h-1zM71.1 276.7h1v1h-1zM67.5 284.0h1v1h-1zM79.7 275.5h1v1h-1zM71.5 280.4h1v1h-1zM75.9 280.1h1v1h-1zM70.0 273.9h1v1h-1zM81.7 269.0h1v1h-1zM67.9 285.5h1v1h-1zM73.0 273.1h1v1h-1zM62.4 280.3h1v1h-1zM58.9 278.7h1v1h-1zM83.5 278.6h1v1h-1zM74.6 276.5h1v1h-1zM77.4 281.2h1v1h-1zM60.5 286.4h1v1h-1zM69.7 276.2h1v1h-1zM71.0 284.4h1v1h-1zM71.4 283.7h1v1h-1zM69.3 273.2h1v1h-1zM73.3 273.8h1v1h-1zM71.0 272.4h1v1h-1zM65.8 279.9h1v1h-1zM80.7 278.2h1v1h-1zM68.2 274.1h1v1h-1zM79.7 285.2h1v1h-1zM77.1 278.0h1v1h-1zM73.0 283.3h1v1h-1zM76.9 283.5h1v1h-1zM77.2 276.9h1v1h-1zM64.9 274.5h1v1h-1zM70.2 275.0h1v1h-1zM71.8 277.0h1v1h-1zM84.2 281.1h1v1h-1zM71.0 278.0h1v1h-1zM69.7 283.4h1v1h-1zM78.1 277.5h1v1h-1zM68.7 277.4h1v1h-1zM69.8 277.7h1v1h-1zM66.5 279.0h1v1h-1zM78.9 278.9h1v1h-1zM78.5 280.7h1v1h-1zM70.2 280.4h1v1h-1zM68.5 279.8h1v1h-1zM80.1 280.0h1v1h-1zM68.5 277.3h1v1h-1zM75.0 275.1h1v1h-1zM81.1 269.9h1v1h-1zM66.0 287.0h1v1h-1zM74.0 274.1h1v1h-1zM60.7 271.0h1v1h-1zM76.2 275.8h1v1h-1zM65.7 273.0h1v1h-1zM68.2 275.4h1v1h-1zM78.5 272.8h1v1h-1zM64.4 272.6h1v1h-1zM76.7 280.7h1v1h-1zM88.8 288.1h1v1h-1zM77.5 273.6h1v1h-1zM62.0 274.0h1v1h-1zM60.5 283.2h1v1h-1z"/>
<ellipse cx="80" cy="259.5" rx="16.5" ry="11.5" fill="url(#heat)" filter="url(#bl05)"/>
</g>
<line x1="45.3" y1="272.5" x2="123.8" y2="272.5" stroke="#555" stroke-width="0.7"/>
<rect x="45.5" y="222.5" width="78" height="79" fill="none" stroke="#2a2a2a" stroke-width="1"/>
<path d="M56.8 272.4 L56.8 237.2 Q56.8 233.5 60.5 233.5 L100 234.3 Q112 235.5 118.5 244 Q123.2 250 123.2 258 L123.2 272.4 Z" stroke="#29a8e0" stroke-width="1.3" fill="none"/>
<text x="41.8" y="225.9" font-size="6" text-anchor="end" stroke="#1c1c1c" stroke-width="0.22">10<tspan font-size="3.72" dy="-2.3">4</tspan></text>
<text x="41.8" y="245.9" font-size="6" text-anchor="end" stroke="#1c1c1c" stroke-width="0.22">10<tspan font-size="3.72" dy="-2.3">3</tspan></text>
<text x="41.8" y="264.9" font-size="6" text-anchor="end" stroke="#1c1c1c" stroke-width="0.22">10<tspan font-size="3.72" dy="-2.3">2</tspan></text>
<text x="41.8" y="284.3" font-size="6" text-anchor="end" stroke="#1c1c1c" stroke-width="0.22">10<tspan font-size="3.72" dy="-2.3">1</tspan></text>
<text x="41.8" y="303.3" font-size="6" text-anchor="end" stroke="#1c1c1c" stroke-width="0.22">10<tspan font-size="3.72" dy="-2.3">0</tspan></text>
<text x="45.3" y="311.2" font-size="6.4" text-anchor="middle" stroke="#1c1c1c" stroke-width="0.22">0</text>
<text x="65.3" y="311.2" font-size="6.4" text-anchor="middle" stroke="#1c1c1c" stroke-width="0.22">64</text>
<text x="85.2" y="311.2" font-size="6.4" text-anchor="middle" stroke="#1c1c1c" stroke-width="0.22">128</text>
<text x="105.2" y="311.2" font-size="6.4" text-anchor="middle" stroke="#1c1c1c" stroke-width="0.22">192</text>
<text x="123.3" y="311.2" font-size="6.4" text-anchor="middle" stroke="#1c1c1c" stroke-width="0.22">256</text>
<text x="85" y="321.8" font-size="9.8" text-anchor="middle" stroke="#1c1c1c" stroke-width="0.22">FSC</text>
<text transform="translate(30.5 262) rotate(-90)" font-size="9.6" text-anchor="middle" stroke="#1c1c1c" stroke-width="0.22">PKH-26</text>
<path d="M82 233.6 C81.5 216 91 205 105.3 203.3" stroke="#29a8e0" stroke-width="1.4" fill="none"/>
<text x="139.3" y="201.9" font-size="7.5" text-anchor="middle" stroke="#1c1c1c" stroke-width="0.22">Primary</text>
<text x="139.3" y="210.5" font-size="7.5" text-anchor="middle" stroke="#1c1c1c" stroke-width="0.22">tumor spheres (I)</text>
<path d="M166.5 201.7 C181 201 192 205 195 212.5" stroke="#29a8e0" stroke-width="1.4" fill="none"/>
<path d="M192.2 211.6 L195.6 216.8 L198.2 210.8 Z" stroke="none" stroke-width="1" fill="#29a8e0"/>
<path d="M199.3 224.3 C200.5 212 212 204 228 203.2" stroke="#29a8e0" stroke-width="1.4" fill="none"/>
<text x="257" y="203" font-size="7.5" text-anchor="middle" stroke="#1c1c1c" stroke-width="0.22">Secondary</text>
<text x="256.7" y="210.7" font-size="7.5" text-anchor="middle" stroke="#1c1c1c" stroke-width="0.22">tumor spheres (II)</text>
<path d="M283 202.2 C297.5 201.6 309 206 313.3 213.5" stroke="#29a8e0" stroke-width="1.4" fill="none"/>
<path d="M310.6 212.7 L314.2 217.8 L316.6 211.8 Z" stroke="none" stroke-width="1" fill="#29a8e0"/>
<path d="M316.8 224.3 C318 212 330 203.7 345 203.6" stroke="#29a8e0" stroke-width="1.4" fill="none"/>
<path d="M344 200.8 L349.6 203.6 L344 206.4 Z" stroke="none" stroke-width="1" fill="#29a8e0"/>
<text x="353" y="206.2" font-size="6.8" stroke="#1c1c1c" stroke-width="0.22">III</text>
<path fill="#e84a3a" d="M180.5 267.9h1v1h-1zM173.3 261.4h1v1h-1zM217.9 261.6h1v1h-1zM174.9 267.4h1v1h-1zM221.0 271.6h1v1h-1zM224.3 266.2h1v1h-1zM200.9 268.0h1v1h-1zM195.2 263.5h1v1h-1zM213.2 260.8h1v1h-1zM186.4 265.9h1v1h-1zM197.8 261.8h1v1h-1zM208.3 261.5h1v1h-1zM206.2 264.7h1v1h-1zM181.8 271.5h1v1h-1zM198.0 268.1h1v1h-1zM206.6 270.3h1v1h-1zM221.0 267.9h1v1h-1zM219.9 268.7h1v1h-1zM208.0 263.9h1v1h-1zM219.6 264.6h1v1h-1zM175.7 264.8h1v1h-1zM169.7 269.2h1v1h-1zM207.9 263.3h1v1h-1zM184.1 266.8h1v1h-1zM203.5 271.1h1v1h-1zM201.8 263.2h1v1h-1zM177.3 260.8h1v1h-1zM202.6 263.3h1v1h-1zM222.4 265.1h1v1h-1zM205.7 261.1h1v1h-1zM214.3 261.6h1v1h-1zM217.9 268.8h1v1h-1zM215.8 265.2h1v1h-1zM213.7 266.0h1v1h-1zM225.2 266.3h1v1h-1zM194.0 268.4h1v1h-1zM198.7 261.5h1v1h-1zM168.9 261.5h1v1h-1zM220.8 262.3h1v1h-1zM168.1 264.9h1v1h-1zM193.9 262.9h1v1h-1zM203.7 263.4h1v1h-1zM208.8 268.3h1v1h-1zM207.7 265.0h1v1h-1zM171.6 265.9h1v1h-1zM195.3 263.6h1v1h-1zM177.3 267.6h1v1h-1zM194.1 265.9h1v1h-1zM185.9 267.4h1v1h-1zM207.7 267.4h1v1h-1zM212.0 264.0h1v1h-1zM192.9 271.3h1v1h-1zM218.1 265.4h1v1h-1zM223.2 265.9h1v1h-1zM203.8 263.8h1v1h-1zM213.8 261.8h1v1h-1zM199.9 263.2h1v1h-1zM191.1 265.3h1v1h-1zM225.1 267.2h1v1h-1zM202.5 262.5h1v1h-1zM167.5 271.7h1v1h-1zM196.0 262.1h1v1h-1zM194.8 266.5h1v1h-1zM203.3 267.5h1v1h-1zM205.4 260.5h1v1h-1zM200.7 262.0h1v1h-1zM212.5 269.2h1v1h-1zM173.5 269.1h1v1h-1zM185.2 268.4h1v1h-1zM193.7 266.0h1v1h-1zM168.8 268.0h1v1h-1zM191.6 266.5h1v1h-1zM198.5 264.8h1v1h-1zM182.1 266.3h1v1h-1zM205.9 271.3h1v1h-1zM184.0 271.5h1v1h-1zM176.2 263.0h1v1h-1zM172.8 262.5h1v1h-1zM187.4 268.7h1v1h-1zM174.3 260.1h1v1h-1zM170.6 267.5h1v1h-1zM222.7 262.4h1v1h-1zM225.3 268.4h1v1h-1zM188.1 263.2h1v1h-1zM186.5 266.4h1v1h-1zM213.8 269.4h1v1h-1zM198.4 270.9h1v1h-1zM189.6 265.0h1v1h-1zM192.5 266.9h1v1h-1zM198.7 269.3h1v1h-1zM181.0 266.5h1v1h-1zM171.4 264.9h1v1h-1zM220.0 269.9h1v1h-1zM171.9 267.5h1v1h-1zM192.1 269.7h1v1h-1zM202.9 270.2h1v1h-1zM171.3 267.0h1v1h-1zM188.4 264.3h1v1h-1zM178.6 266.3h1v1h-1zM199.4 266.3h1v1h-1zM188.9 267.8h1v1h-1zM185.4 264.6h1v1h-1zM168.7 266.1h1v1h-1zM210.9 266.3h1v1h-1zM180.5 263.2h1v1h-1zM187.1 263.2h1v1h-1zM202.9 265.0h1v1h-1zM207.0 265.2h1v1h-1zM170.7 266.3h1v1h-1zM191.3 266.0h1v1h-1zM206.8 265.5h1v1h-1zM220.9 265.8h1v1h-1zM218.8 262.9h1v1h-1zM209.0 264.2h1v1h-1zM167.7 271.7h1v1h-1zM179.5 270.8h1v1h-1zM171.1 261.1h1v1h-1zM170.0 262.2h1v1h-1zM210.7 271.5h1v1h-1zM219.4 260.9h1v1h-1zM177.1 267.1h1v1h-1zM211.3 271.7h1v1h-1zM216.2 268.4h1v1h-1zM179.6 268.7h1v1h-1zM195.6 260.3h1v1h-1zM190.8 262.4h1v1h-1zM174.1 267.0h1v1h-1zM191.8 271.2h1v1h-1zM186.9 266.9h1v1h-1zM178.2 266.9h1v1h-1zM215.4 261.4h1v1h-1zM171.4 269.2h1v1h-1zM169.9 260.1h1v1h-1zM172.0 265.5h1v1h-1zM221.9 263.9h1v1h-1zM205.1 268.3h1v1h-1zM179.4 266.9h1v1h-1zM194.6 261.7h1v1h-1zM215.5 261.4h1v1h-1zM171.2 262.1h1v1h-1zM168.5 265.2h1v1h-1zM197.9 264.5h1v1h-1zM190.5 270.0h1v1h-1zM204.9 265.6h1v1h-1zM184.8 269.3h1v1h-1zM223.8 263.5h1v1h-1zM171.2 262.7h1v1h-1zM177.7 269.0h1v1h-1zM186.5 268.7h1v1h-1zM174.6 271.2h1v1h-1zM206.2 268.2h1v1h-1zM202.0 271.2h1v1h-1zM178.4 271.2h1v1h-1zM179.2 266.6h1v1h-1zM219.8 268.1h1v1h-1zM215.4 268.2h1v1h-1zM170.7 269.6h1v1h-1zM216.1 268.6h1v1h-1zM218.4 261.7h1v1h-1zM199.7 263.9h1v1h-1zM170.1 265.4h1v1h-1zM190.2 271.0h1v1h-1zM201.3 270.8h1v1h-1zM181.2 269.3h1v1h-1zM184.2 264.5h1v1h-1zM220.6 270.0h1v1h-1zM181.9 270.8h1v1h-1zM214.3 264.5h1v1h-1zM170.1 267.8h1v1h-1zM180.3 263.3h1v1h-1zM212.2 271.0h1v1h-1zM173.6 262.9h1v1h-1zM179.5 266.7h1v1h-1zM195.7 266.2h1v1h-1zM172.8 267.7h1v1h-1zM174.0 267.2h1v1h-1zM176.1 266.9h1v1h-1zM194.5 264.6h1v1h-1zM218.0 263.0h1v1h-1zM196.2 262.7h1v1h-1zM170.1 270.8h1v1h-1zM204.4 265.5h1v1h-1zM188.2 270.4h1v1h-1zM193.1 267.4h1v1h-1zM206.0 271.3h1v1h-1zM194.7 269.6h1v1h-1zM225.0 267.9h1v1h-1zM191.3 270.2h1v1h-1zM173.1 270.7h1v1h-1zM218.5 262.9h1v1h-1zM212.4 268.5h1v1h-1zM218.8 270.5h1v1h-1zM205.6 265.3h1v1h-1zM184.0 271.0h1v1h-1zM173.5 271.2h1v1h-1zM199.9 261.8h1v1h-1zM175.2 269.1h1v1h-1zM200.8 270.5h1v1h-1zM205.3 266.8h1v1h-1zM219.2 266.9h1v1h-1zM181.1 267.4h1v1h-1zM172.6 264.0h1v1h-1zM171.9 265.9h1v1h-1zM196.0 264.9h1v1h-1zM170.0 263.0h1v1h-1zM180.5 263.7h1v1h-1zM168.0 268.0h1v1h-1zM217.6 266.6h1v1h-1zM212.9 263.2h1v1h-1zM178.9 264.0h1v1h-1zM184.3 266.8h1v1h-1zM181.1 265.9h1v1h-1zM169.7 261.1h1v1h-1zM173.4 266.5h1v1h-1zM218.8 264.4h1v1h-1zM206.1 267.1h1v1h-1zM201.0 271.4h1v1h-1zM195.5 270.3h1v1h-1zM194.2 264.6h1v1h-1zM189.6 265.7h1v1h-1zM201.4 262.2h1v1h-1zM206.6 271.3h1v1h-1zM195.7 267.8h1v1h-1zM186.8 265.2h1v1h-1zM225.7 269.4h1v1h-1zM184.0 268.2h1v1h-1zM208.0 269.6h1v1h-1zM208.1 267.1h1v1h-1zM198.9 265.1h1v1h-1zM189.1 266.1h1v1h-1zM216.3 267.3h1v1h-1zM216.7 268.6h1v1h-1zM194.8 261.1h1v1h-1zM213.8 268.3h1v1h-1zM225.0 268.1h1v1h-1zM219.4 264.2h1v1h-1zM171.1 268.8h1v1h-1zM198.8 265.3h1v1h-1zM170.1 267.3h1v1h-1zM167.6 262.8h1v1h-1zM187.0 260.1h1v1h-1zM198.8 266.8h1v1h-1zM168.8 266.9h1v1h-1zM192.6 260.3h1v1h-1zM193.5 265.8h1v1h-1zM206.8 264.0h1v1h-1zM179.0 262.6h1v1h-1zM174.7 271.2h1v1h-1zM191.1 266.0h1v1h-1zM171.2 264.5h1v1h-1zM223.3 262.3h1v1h-1zM212.0 265.8h1v1h-1zM172.8 262.5h1v1h-1zM178.8 262.3h1v1h-1zM206.0 270.6h1v1h-1zM225.5 260.8h1v1h-1zM200.4 264.1h1v1h-1zM188.4 269.9h1v1h-1zM213.8 262.2h1v1h-1zM187.6 265.2h1v1h-1zM223.7 269.5h1v1h-1zM209.8 261.5h1v1h-1zM168.1 267.5h1v1h-1zM176.2 266.8h1v1h-1zM178.2 266.2h1v1h-1zM205.0 270.6h1v1h-1zM219.4 263.7h1v1h-1zM168.4 265.0h1v1h-1zM180.3 269.5h1v1h-1zM179.7 264.2h1v1h-1zM217.9 261.4h1v1h-1zM212.7 265.1h1v1h-1zM225.0 271.1h1v1h-1zM216.2 268.0h1v1h-1zM202.3 263.5h1v1h-1zM178.5 264.5h1v1h-1zM220.9 261.0h1v1h-1zM171.7 267.6h1v1h-1zM211.9 271.3h1v1h-1zM212.6 261.7h1v1h-1zM172.3 271.7h1v1h-1zM169.4 268.4h1v1h-1zM169.8 264.3h1v1h-1zM187.3 266.9h1v1h-1zM197.8 261.5h1v1h-1zM220.4 270.9h1v1h-1zM168.2 262.4h1v1h-1zM215.7 267.2h1v1h-1zM218.7 262.3h1v1h-1zM196.9 264.4h1v1h-1zM210.0 260.1h1v1h-1zM169.3 261.1h1v1h-1zM179.4 268.2h1v1h-1zM197.2 267.2h1v1h-1zM184.9 269.6h1v1h-1zM215.0 267.6h1v1h-1zM199.1 270.8h1v1h-1zM168.5 266.5h1v1h-1zM187.6 264.1h1v1h-1zM187.8 271.5h1v1h-1zM173.4 268.9h1v1h-1zM171.2 267.7h1v1h-1zM210.9 262.8h1v1h-1zM187.5 265.4h1v1h-1zM186.1 262.5h1v1h-1zM199.3 261.6h1v1h-1zM181.0 270.3h1v1h-1zM208.8 264.5h1v1h-1zM171.0 263.8h1v1h-1zM202.2 268.2h1v1h-1zM223.6 266.2h1v1h-1zM180.4 266.8h1v1h-1zM187.0 265.9h1v1h-1zM197.9 268.1h1v1h-1zM173.5 264.2h1v1h-1zM223.7 269.5h1v1h-1zM209.3 265.7h1v1h-1zM168.7 266.3h1v1h-1zM198.8 267.3h1v1h-1zM167.5 271.0h1v1h-1zM194.3 271.9h1v1h-1zM211.9 266.2h1v1h-1zM223.3 265.0h1v1h-1zM180.7 270.6h1v1h-1zM174.9 266.3h1v1h-1zM192.9 263.4h1v1h-1zM195.1 264.4h1v1h-1zM210.8 260.8h1v1h-1zM198.2 271.4h1v1h-1zM206.5 261.2h1v1h-1zM199.6 261.2h1v1h-1zM203.4 262.6h1v1h-1zM220.0 266.3h1v1h-1zM182.8 266.4h1v1h-1zM179.5 266.7h1v1h-1zM169.0 261.3h1v1h-1zM167.9 263.3h1v1h-1zM200.6 267.5h1v1h-1zM200.6 267.8h1v1h-1zM178.1 260.3h1v1h-1zM188.2 266.4h1v1h-1zM213.3 262.7h1v1h-1zM171.0 260.4h1v1h-1zM178.5 263.5h1v1h-1zM173.3 269.1h1v1h-1zM181.6 263.4h1v1h-1zM212.2 264.9h1v1h-1zM194.6 262.1h1v1h-1zM190.7 269.1h1v1h-1zM211.3 269.4h1v1h-1zM182.7 263.6h1v1h-1zM168.9 265.7h1v1h-1zM194.8 266.8h1v1h-1zM195.1 260.9h1v1h-1zM193.8 262.6h1v1h-1zM219.7 268.4h1v1h-1zM195.9 267.3h1v1h-1zM199.2 265.2h1v1h-1zM169.1 263.2h1v1h-1zM170.7 266.3h1v1h-1zM209.6 271.3h1v1h-1zM189.2 264.2h1v1h-1zM178.9 267.2h1v1h-1zM179.9 270.1h1v1h-1zM169.2 270.0h1v1h-1zM185.7 266.5h1v1h-1zM204.4 268.1h1v1h-1zM167.8 265.4h1v1h-1zM222.7 269.2h1v1h-1zM215.6 261.7h1v1h-1zM186.5 265.3h1v1h-1zM198.7 263.1h1v1h-1zM177.8 267.1h1v1h-1zM171.5 260.7h1v1h-1zM223.0 267.2h1v1h-1zM185.6 262.5h1v1h-1zM220.0 271.3h1v1h-1zM179.0 263.6h1v1h-1zM210.9 271.9h1v1h-1zM173.8 270.1h1v1h-1zM192.0 270.8h1v1h-1zM204.8 261.9h1v1h-1zM176.3 266.5h1v1h-1zM171.4 263.4h1v1h-1zM190.5 262.4h1v1h-1zM191.4 263.1h1v1h-1zM222.1 265.2h1v1h-1zM202.5 263.4h1v1h-1zM187.4 265.3h1v1h-1zM223.7 265.8h1v1h-1zM167.5 267.3h1v1h-1zM174.3 261.9h1v1h-1zM194.2 268.6h1v1h-1zM199.2 266.8h1v1h-1zM222.0 264.0h1v1h-1zM194.0 265.6h1v1h-1zM208.6 266.9h1v1h-1zM199.9 268.3h1v1h-1zM185.5 260.9h1v1h-1zM168.8 260.1h1v1h-1zM188.9 268.6h1v1h-1zM168.2 264.3h1v1h-1zM205.8 264.1h1v1h-1zM205.1 266.2h1v1h-1zM188.2 269.7h1v1h-1zM177.0 266.7h1v1h-1zM204.7 266.9h1v1h-1zM207.2 267.7h1v1h-1zM215.0 268.4h1v1h-1zM185.1 265.0h1v1h-1zM172.6 261.9h1v1h-1zM206.5 263.8h1v1h-1zM192.7 270.0h1v1h-1zM200.9 264.6h1v1h-1zM215.1 263.1h1v1h-1zM193.1 261.9h1v1h-1zM195.7 266.3h1v1h-1zM202.0 268.5h1v1h-1zM178.7 264.3h1v1h-1zM196.7 270.1h1v1h-1zM222.3 263.6h1v1h-1zM211.6 269.0h1v1h-1zM192.5 262.5h1v1h-1zM183.7 263.9h1v1h-1zM177.2 266.7h1v1h-1zM220.4 263.0h1v1h-1zM209.6 267.2h1v1h-1zM167.7 270.8h1v1h-1zM175.0 264.4h1v1h-1zM207.7 262.5h1v1h-1zM187.8 265.1h1v1h-1zM220.2 272.0h1v1h-1zM224.4 268.7h1v1h-1zM174.0 260.2h1v1h-1zM168.1 266.5h1v1h-1zM191.8 270.2h1v1h-1zM199.1 269.7h1v1h-1zM209.0 261.7h1v1h-1zM214.4 265.5h1v1h-1zM168.4 260.7h1v1h-1zM196.9 263.3h1v1h-1zM173.8 262.6h1v1h-1zM181.6 271.3h1v1h-1zM186.5 268.6h1v1h-1zM170.6 269.7h1v1h-1zM201.8 261.6h1v1h-1zM199.2 266.6h1v1h-1zM183.6 265.3h1v1h-1zM189.9 260.7h1v1h-1zM173.8 262.8h1v1h-1zM173.7 267.8h1v1h-1zM168.3 263.2h1v1h-1zM203.4 265.5h1v1h-1zM214.7 265.0h1v1h-1zM205.8 263.8h1v1h-1zM208.1 267.2h1v1h-1zM225.1 269.4h1v1h-1zM182.5 262.0h1v1h-1zM215.4 262.8h1v1h-1zM220.2 263.2h1v1h-1zM225.3 263.1h1v1h-1zM207.4 262.5h1v1h-1zM220.5 260.4h1v1h-1zM222.7 264.4h1v1h-1zM209.4 264.4h1v1h-1zM172.0 262.1h1v1h-1zM206.9 264.2h1v1h-1zM190.1 267.5h1v1h-1zM214.0 265.1h1v1h-1zM169.5 261.6h1v1h-1zM195.5 271.7h1v1h-1zM206.7 262.5h1v1h-1zM169.7 260.6h1v1h-1zM197.1 269.6h1v1h-1zM178.2 265.9h1v1h-1zM206.3 263.1h1v1h-1zM219.1 261.0h1v1h-1zM194.8 266.5h1v1h-1zM178.4 264.2h1v1h-1zM182.0 266.7h1v1h-1zM195.2 262.3h1v1h-1zM202.4 261.6h1v1h-1zM225.2 263.2h1v1h-1zM221.2 263.2h1v1h-1zM173.9 262.1h1v1h-1zM210.1 261.5h1v1h-1zM187.1 260.7h1v1h-1zM176.2 262.7h1v1h-1zM174.6 263.0h1v1h-1zM185.6 261.4h1v1h-1zM210.5 267.4h1v1h-1zM175.5 262.2h1v1h-1zM199.5 266.1h1v1h-1zM198.0 260.6h1v1h-1zM215.5 265.2h1v1h-1zM222.1 261.1h1v1h-1zM214.4 261.0h1v1h-1zM171.8 260.7h1v1h-1zM214.3 265.5h1v1h-1zM194.2 260.4h1v1h-1zM202.9 261.0h1v1h-1zM207.0 268.4h1v1h-1zM183.7 271.0h1v1h-1zM174.3 262.8h1v1h-1zM180.6 267.3h1v1h-1zM223.9 264.9h1v1h-1zM174.8 271.8h1v1h-1zM198.5 262.0h1v1h-1zM187.4 264.2h1v1h-1zM211.4 270.3h1v1h-1zM176.7 262.2h1v1h-1zM210.8 263.4h1v1h-1zM203.0 261.0h1v1h-1zM185.5 265.9h1v1h-1zM203.4 260.8h1v1h-1zM175.2 268.5h1v1h-1zM195.8 260.7h1v1h-1zM174.9 261.6h1v1h-1zM217.0 264.1h1v1h-1zM186.8 262.7h1v1h-1zM197.1 266.5h1v1h-1zM180.2 266.3h1v1h-1zM201.8 263.8h1v1h-1zM198.2 270.0h1v1h-1zM172.3 262.1h1v1h-1zM177.3 262.5h1v1h-1zM208.7 260.8h1v1h-1zM187.0 262.7h1v1h-1zM170.2 265.3h1v1h-1zM188.6 260.2h1v1h-1zM212.8 261.9h1v1h-1zM196.5 260.2h1v1h-1zM207.8 260.4h1v1h-1zM173.1 261.0h1v1h-1zM186.6 263.0h1v1h-1zM206.6 263.1h1v1h-1zM182.6 270.4h1v1h-1zM178.9 270.2h1v1h-1zM186.5 271.4h1v1h-1zM176.0 268.9h1v1h-1zM175.2 270.2h1v1h-1zM179.0 271.0h1v1h-1zM177.2 262.6h1v1h-1zM175.2 262.1h1v1h-1zM190.4 271.9h1v1h-1zM179.3 267.2h1v1h-1zM176.7 270.2h1v1h-1zM175.8 265.5h1v1h-1zM173.1 271.0h1v1h-1zM192.4 263.1h1v1h-1zM173.4 270.8h1v1h-1zM178.4 271.8h1v1h-1zM181.3 272.0h1v1h-1zM187.3 271.6h1v1h-1zM182.4 272.0h1v1h-1zM192.8 270.3h1v1h-1zM168.1 269.0h1v1h-1zM179.7 267.2h1v1h-1zM179.6 262.3h1v1h-1zM186.0 269.6h1v1h-1zM173.7 270.6h1v1h-1zM173.3 264.4h1v1h-1zM167.6 270.2h1v1h-1zM180.0 264.1h1v1h-1zM192.6 269.1h1v1h-1zM185.2 269.6h1v1h-1zM181.7 271.7h1v1h-1zM168.0 264.1h1v1h-1zM168.9 265.0h1v1h-1zM181.9 261.9h1v1h-1zM176.0 269.7h1v1h-1zM179.9 265.5h1v1h-1zM169.1 261.7h1v1h-1zM182.3 267.8h1v1h-1zM172.2 269.0h1v1h-1zM174.9 268.6h1v1h-1zM186.4 264.0h1v1h-1zM174.7 263.3h1v1h-1zM172.3 268.4h1v1h-1zM171.1 268.6h1v1h-1zM201.6 268.3h1v1h-1zM200.6 266.1h1v1h-1zM168.8 270.7h1v1h-1zM195.7 263.7h1v1h-1zM189.4 264.5h1v1h-1zM186.0 262.2h1v1h-1zM178.9 269.6h1v1h-1zM171.0 270.1h1v1h-1zM176.4 268.0h1v1h-1zM168.9 271.5h1v1h-1zM170.4 269.3h1v1h-1zM198.9 270.9h1v1h-1zM198.8 267.2h1v1h-1zM178.8 270.2h1v1h-1zM170.7 264.1h1v1h-1zM174.5 267.2h1v1h-1zM169.4 268.4h1v1h-1zM174.6 264.4h1v1h-1zM168.6 269.1h1v1h-1zM181.1 271.6h1v1h-1zM172.2 260.2h1v1h-1zM170.1 269.3h1v1h-1zM174.0 266.0h1v1h-1zM174.7 269.6h1v1h-1zM171.2 265.8h1v1h-1zM179.7 264.8h1v1h-1zM183.0 261.0h1v1h-1zM187.1 260.6h1v1h-1zM180.3 266.5h1v1h-1z"/>
<path fill="#d8221c" d="M168.5 271.6h1v1h-1zM221.3 267.6h1v1h-1zM168.7 261.9h1v1h-1zM170.5 262.8h1v1h-1zM168.9 268.0h1v1h-1zM223.6 263.6h1v1h-1zM217.0 267.0h1v1h-1zM196.3 266.0h1v1h-1zM219.4 271.6h1v1h-1zM197.8 263.2h1v1h-1zM208.0 262.6h1v1h-1zM223.2 268.4h1v1h-1zM215.0 271.2h1v1h-1zM193.0 268.6h1v1h-1zM195.2 270.8h1v1h-1zM174.7 269.7h1v1h-1zM182.7 265.8h1v1h-1zM181.8 265.8h1v1h-1zM193.3 262.2h1v1h-1zM192.6 266.5h1v1h-1zM170.8 268.9h1v1h-1zM219.4 264.7h1v1h-1zM204.9 269.8h1v1h-1zM180.4 261.7h1v1h-1zM181.3 268.7h1v1h-1zM209.7 271.1h1v1h-1zM209.7 266.5h1v1h-1zM219.1 263.6h1v1h-1zM220.5 262.4h1v1h-1zM208.4 269.3h1v1h-1zM200.0 264.5h1v1h-1zM179.8 270.5h1v1h-1zM214.0 271.2h1v1h-1zM186.6 266.3h1v1h-1zM204.3 267.7h1v1h-1zM199.5 265.5h1v1h-1zM199.6 270.0h1v1h-1zM176.7 268.4h1v1h-1zM185.7 268.1h1v1h-1zM203.4 268.8h1v1h-1zM184.6 271.4h1v1h-1zM174.3 264.0h1v1h-1zM201.4 265.8h1v1h-1zM203.6 270.1h1v1h-1zM173.8 265.3h1v1h-1zM177.9 261.2h1v1h-1zM194.2 265.8h1v1h-1zM173.4 262.0h1v1h-1zM195.2 264.2h1v1h-1zM187.9 263.9h1v1h-1zM179.3 267.7h1v1h-1zM170.9 262.5h1v1h-1zM225.9 267.7h1v1h-1zM191.6 265.2h1v1h-1zM194.4 266.6h1v1h-1zM197.0 264.2h1v1h-1zM176.6 262.7h1v1h-1zM217.2 262.9h1v1h-1zM196.6 262.7h1v1h-1zM206.5 271.2h1v1h-1zM211.6 267.9h1v1h-1zM171.7 267.5h1v1h-1zM215.5 271.1h1v1h-1zM187.2 264.8h1v1h-1zM224.2 266.8h1v1h-1zM178.2 261.0h1v1h-1zM200.5 266.5h1v1h-1zM204.6 268.7h1v1h-1zM205.1 267.9h1v1h-1zM179.8 261.2h1v1h-1zM216.5 268.3h1v1h-1zM209.3 263.1h1v1h-1zM172.8 264.9h1v1h-1zM223.1 265.0h1v1h-1zM208.7 265.4h1v1h-1zM169.9 261.5h1v1h-1zM205.9 263.3h1v1h-1zM222.2 270.6h1v1h-1zM188.9 267.7h1v1h-1zM189.1 263.6h1v1h-1zM222.8 261.8h1v1h-1zM191.5 265.5h1v1h-1zM181.6 266.9h1v1h-1zM217.5 267.3h1v1h-1zM198.5 264.8h1v1h-1zM201.4 269.9h1v1h-1zM193.7 267.2h1v1h-1zM215.2 265.9h1v1h-1zM203.9 266.4h1v1h-1zM169.0 263.9h1v1h-1zM207.1 266.3h1v1h-1zM171.4 266.2h1v1h-1zM188.5 266.8h1v1h-1zM191.1 267.3h1v1h-1zM206.3 271.2h1v1h-1zM215.6 264.5h1v1h-1zM178.8 265.2h1v1h-1zM187.2 264.5h1v1h-1zM197.8 261.7h1v1h-1zM192.3 266.0h1v1h-1zM202.1 265.3h1v1h-1zM195.0 268.8h1v1h-1zM216.2 262.9h1v1h-1zM217.0 266.4h1v1h-1zM180.0 267.0h1v1h-1zM195.1 271.3h1v1h-1zM192.4 263.1h1v1h-1zM178.1 266.9h1v1h-1zM175.1 265.0h1v1h-1zM218.7 270.0h1v1h-1zM209.1 271.0h1v1h-1zM171.7 264.4h1v1h-1zM187.6 269.5h1v1h-1zM201.2 266.5h1v1h-1zM192.2 269.2h1v1h-1zM194.5 262.0h1v1h-1zM185.4 266.7h1v1h-1zM212.8 268.4h1v1h-1zM224.0 260.6h1v1h-1zM220.6 262.6h1v1h-1zM220.0 264.1h1v1h-1zM213.1 268.3h1v1h-1zM217.9 268.2h1v1h-1zM184.8 263.9h1v1h-1zM187.0 265.5h1v1h-1zM203.5 261.7h1v1h-1zM205.3 265.6h1v1h-1zM212.1 261.2h1v1h-1zM218.2 271.8h1v1h-1zM181.8 264.3h1v1h-1zM189.2 264.6h1v1h-1zM185.0 264.9h1v1h-1zM205.2 261.2h1v1h-1zM173.1 271.5h1v1h-1zM191.6 264.8h1v1h-1zM199.7 263.8h1v1h-1zM191.5 266.9h1v1h-1zM169.3 269.1h1v1h-1zM167.6 268.6h1v1h-1zM180.3 267.8h1v1h-1zM210.4 269.3h1v1h-1zM176.5 262.0h1v1h-1zM186.1 270.5h1v1h-1zM205.7 262.1h1v1h-1zM202.6 266.8h1v1h-1zM169.1 262.5h1v1h-1zM176.0 263.6h1v1h-1zM198.6 260.1h1v1h-1zM211.7 266.3h1v1h-1zM222.2 268.2h1v1h-1zM185.7 264.6h1v1h-1zM199.0 264.3h1v1h-1zM179.2 262.8h1v1h-1zM206.1 268.9h1v1h-1zM190.2 267.0h1v1h-1zM168.1 263.0h1v1h-1zM225.4 271.2h1v1h-1zM209.0 268.4h1v1h-1zM178.4 263.6h1v1h-1zM207.2 263.8h1v1h-1zM225.9 269.1h1v1h-1zM191.0 268.7h1v1h-1zM172.9 270.6h1v1h-1zM184.1 271.0h1v1h-1zM195.1 267.7h1v1h-1zM168.2 260.1h1v1h-1zM172.6 263.8h1v1h-1zM200.7 266.1h1v1h-1zM213.7 263.5h1v1h-1zM191.6 265.6h1v1h-1zM188.2 267.1h1v1h-1zM185.2 261.6h1v1h-1zM174.9 269.3h1v1h-1zM170.9 266.9h1v1h-1zM194.6 271.7h1v1h-1zM189.3 269.5h1v1h-1zM168.1 260.5h1v1h-1zM174.4 264.0h1v1h-1zM167.8 267.2h1v1h-1zM204.7 271.0h1v1h-1zM183.3 263.7h1v1h-1zM219.3 267.9h1v1h-1zM184.9 263.3h1v1h-1zM205.0 263.7h1v1h-1zM167.8 267.0h1v1h-1zM167.7 267.1h1v1h-1zM210.8 264.3h1v1h-1zM196.3 270.8h1v1h-1zM193.6 261.5h1v1h-1zM201.6 268.2h1v1h-1zM200.3 270.7h1v1h-1zM171.7 269.2h1v1h-1zM199.2 268.9h1v1h-1zM204.7 261.1h1v1h-1zM215.4 262.8h1v1h-1zM207.9 267.6h1v1h-1zM203.8 260.4h1v1h-1zM202.7 262.4h1v1h-1zM210.9 267.7h1v1h-1zM198.9 268.5h1v1h-1zM172.9 269.0h1v1h-1zM176.6 268.0h1v1h-1zM178.3 267.3h1v1h-1zM208.8 261.0h1v1h-1zM200.7 269.5h1v1h-1zM179.1 270.7h1v1h-1zM218.2 267.8h1v1h-1zM225.8 262.6h1v1h-1zM221.8 264.1h1v1h-1zM195.9 268.8h1v1h-1zM191.9 269.0h1v1h-1zM184.7 265.7h1v1h-1zM204.1 271.8h1v1h-1zM187.5 271.7h1v1h-1zM216.9 260.7h1v1h-1zM189.5 262.7h1v1h-1zM197.2 261.5h1v1h-1zM175.2 268.7h1v1h-1zM216.1 266.1h1v1h-1zM198.8 265.5h1v1h-1zM196.2 265.8h1v1h-1zM216.0 266.6h1v1h-1zM222.7 262.1h1v1h-1zM170.1 264.6h1v1h-1zM213.5 266.0h1v1h-1zM194.4 267.3h1v1h-1zM170.0 264.5h1v1h-1zM190.9 264.5h1v1h-1zM188.4 265.5h1v1h-1zM210.4 270.7h1v1h-1zM169.4 260.2h1v1h-1zM169.7 267.6h1v1h-1zM201.3 262.9h1v1h-1zM174.1 269.7h1v1h-1zM174.3 266.7h1v1h-1zM205.8 266.0h1v1h-1zM200.3 269.9h1v1h-1zM209.7 263.8h1v1h-1zM178.1 260.5h1v1h-1zM174.6 264.0h1v1h-1zM199.9 270.2h1v1h-1zM192.1 269.4h1v1h-1zM180.9 262.3h1v1h-1zM208.3 261.1h1v1h-1zM180.1 261.4h1v1h-1zM214.8 270.7h1v1h-1zM180.1 264.9h1v1h-1zM216.6 270.6h1v1h-1zM169.1 261.7h1v1h-1zM207.1 262.8h1v1h-1zM214.4 269.0h1v1h-1zM204.1 268.4h1v1h-1zM207.4 268.9h1v1h-1zM171.6 266.9h1v1h-1zM198.7 269.3h1v1h-1zM197.1 268.8h1v1h-1zM193.7 266.4h1v1h-1zM178.5 265.7h1v1h-1zM170.4 264.4h1v1h-1zM175.2 262.4h1v1h-1zM191.2 264.0h1v1h-1zM187.3 261.4h1v1h-1zM179.9 266.9h1v1h-1zM203.1 261.3h1v1h-1zM222.9 267.6h1v1h-1zM186.9 265.5h1v1h-1zM176.6 260.3h1v1h-1zM200.0 268.3h1v1h-1zM171.2 269.6h1v1h-1zM171.0 262.6h1v1h-1zM184.2 270.6h1v1h-1zM188.1 260.1h1v1h-1zM213.1 271.5h1v1h-1zM193.0 261.1h1v1h-1zM181.2 260.2h1v1h-1zM222.9 261.7h1v1h-1zM217.0 268.0h1v1h-1zM191.7 260.7h1v1h-1zM207.7 266.4h1v1h-1zM172.6 265.6h1v1h-1zM204.3 270.2h1v1h-1zM223.8 264.2h1v1h-1zM191.6 267.1h1v1h-1zM216.1 261.8h1v1h-1zM217.5 270.8h1v1h-1zM215.4 262.9h1v1h-1zM169.7 269.5h1v1h-1zM186.1 270.2h1v1h-1zM184.8 267.1h1v1h-1zM180.0 269.7h1v1h-1zM223.6 265.3h1v1h-1zM199.3 270.0h1v1h-1zM204.3 269.2h1v1h-1zM201.1 260.6h1v1h-1zM210.3 264.9h1v1h-1zM168.2 269.5h1v1h-1zM196.5 266.5h1v1h-1zM221.6 263.6h1v1h-1zM207.8 266.5h1v1h-1zM221.0 267.4h1v1h-1zM193.3 268.1h1v1h-1zM183.8 265.9h1v1h-1zM197.0 266.5h1v1h-1zM220.5 264.5h1v1h-1zM201.8 268.5h1v1h-1zM169.3 270.3h1v1h-1zM204.0 266.3h1v1h-1zM198.5 266.2h1v1h-1zM219.5 265.5h1v1h-1zM194.8 267.7h1v1h-1zM177.2 261.4h1v1h-1zM218.8 270.0h1v1h-1zM213.3 265.3h1v1h-1zM181.3 268.6h1v1h-1zM180.2 268.4h1v1h-1zM186.2 270.1h1v1h-1zM212.5 269.1h1v1h-1zM216.2 267.9h1v1h-1zM180.8 260.4h1v1h-1zM193.3 262.6h1v1h-1zM173.7 267.2h1v1h-1zM202.0 270.1h1v1h-1zM184.8 266.8h1v1h-1zM168.3 268.4h1v1h-1zM214.1 262.7h1v1h-1zM220.5 268.6h1v1h-1zM167.6 270.0h1v1h-1zM200.2 270.6h1v1h-1zM196.5 268.9h1v1h-1zM180.4 269.8h1v1h-1zM168.6 268.2h1v1h-1zM203.8 266.1h1v1h-1zM199.8 264.5h1v1h-1zM203.6 271.0h1v1h-1zM214.0 265.5h1v1h-1zM222.8 267.3h1v1h-1zM219.4 272.0h1v1h-1zM218.6 270.8h1v1h-1zM223.8 264.4h1v1h-1zM192.7 271.9h1v1h-1zM204.1 265.8h1v1h-1zM189.1 264.9h1v1h-1zM193.1 264.5h1v1h-1zM217.2 268.4h1v1h-1zM183.9 263.2h1v1h-1zM182.2 269.5h1v1h-1zM191.0 270.3h1v1h-1zM187.5 261.1h1v1h-1zM175.6 270.7h1v1h-1zM214.3 266.7h1v1h-1zM216.5 267.0h1v1h-1zM193.7 261.3h1v1h-1zM171.8 260.2h1v1h-1zM217.2 262.6h1v1h-1zM192.9 270.5h1v1h-1zM175.4 269.2h1v1h-1zM179.7 270.9h1v1h-1zM180.0 269.8h1v1h-1zM170.7 268.9h1v1h-1zM181.2 264.7h1v1h-1zM217.1 261.9h1v1h-1zM193.0 260.4h1v1h-1zM205.5 266.6h1v1h-1zM167.9 269.7h1v1h-1zM185.2 266.4h1v1h-1zM174.2 271.6h1v1h-1zM168.5 260.4h1v1h-1zM193.2 269.0h1v1h-1zM168.0 260.8h1v1h-1zM212.6 263.1h1v1h-1zM185.8 268.3h1v1h-1zM195.7 266.4h1v1h-1zM205.1 270.8h1v1h-1zM211.9 261.8h1v1h-1zM171.8 265.7h1v1h-1zM223.3 268.6h1v1h-1zM204.2 268.4h1v1h-1zM181.9 266.5h1v1h-1zM183.4 267.0h1v1h-1zM223.8 263.0h1v1h-1zM181.8 264.5h1v1h-1zM178.2 267.9h1v1h-1zM214.4 263.0h1v1h-1zM198.2 269.5h1v1h-1zM199.7 270.8h1v1h-1zM184.3 260.4h1v1h-1zM192.0 268.2h1v1h-1zM181.6 271.4h1v1h-1zM168.5 264.9h1v1h-1zM213.0 263.9h1v1h-1zM177.8 268.6h1v1h-1zM225.6 268.3h1v1h-1zM201.4 266.7h1v1h-1zM188.1 268.1h1v1h-1zM199.2 267.4h1v1h-1zM175.9 260.8h1v1h-1zM173.5 263.6h1v1h-1zM224.4 270.8h1v1h-1zM195.5 267.9h1v1h-1zM212.5 264.2h1v1h-1zM191.6 260.7h1v1h-1zM211.5 263.7h1v1h-1zM175.2 266.9h1v1h-1zM197.9 269.8h1v1h-1zM201.4 266.1h1v1h-1zM221.1 263.6h1v1h-1zM204.6 265.1h1v1h-1zM183.8 267.8h1v1h-1zM214.2 266.5h1v1h-1zM207.3 263.1h1v1h-1zM167.9 268.0h1v1h-1zM170.4 265.5h1v1h-1zM183.8 269.7h1v1h-1zM185.7 262.8h1v1h-1zM214.7 266.0h1v1h-1zM178.3 271.9h1v1h-1zM198.6 260.5h1v1h-1zM172.6 268.6h1v1h-1zM202.5 268.2h1v1h-1zM177.6 269.9h1v1h-1zM179.3 268.7h1v1h-1zM201.2 261.0h1v1h-1zM177.7 261.4h1v1h-1zM187.0 271.4h1v1h-1zM217.2 267.4h1v1h-1zM215.8 266.8h1v1h-1zM195.9 269.0h1v1h-1zM198.7 269.6h1v1h-1zM199.0 262.8h1v1h-1zM171.0 262.4h1v1h-1zM174.1 265.3h1v1h-1zM188.5 262.4h1v1h-1zM198.0 263.7h1v1h-1zM214.4 267.5h1v1h-1zM201.0 263.7h1v1h-1zM202.2 268.9h1v1h-1zM211.9 264.9h1v1h-1zM193.0 270.2h1v1h-1zM167.9 269.2h1v1h-1zM184.5 263.7h1v1h-1zM214.9 265.0h1v1h-1zM215.5 262.5h1v1h-1zM194.7 270.6h1v1h-1zM222.2 267.4h1v1h-1zM169.7 267.1h1v1h-1zM182.6 267.8h1v1h-1zM175.4 265.1h1v1h-1zM196.5 268.6h1v1h-1zM171.3 264.6h1v1h-1zM181.9 260.1h1v1h-1zM203.9 269.7h1v1h-1zM183.8 264.0h1v1h-1zM186.4 264.4h1v1h-1zM169.4 260.8h1v1h-1zM183.9 265.7h1v1h-1zM194.1 270.0h1v1h-1zM217.8 262.9h1v1h-1zM180.2 268.7h1v1h-1zM186.8 267.3h1v1h-1zM182.9 261.8h1v1h-1zM191.4 266.5h1v1h-1zM210.4 271.0h1v1h-1zM206.6 265.0h1v1h-1zM169.3 265.7h1v1h-1zM171.9 267.1h1v1h-1zM211.3 269.9h1v1h-1zM188.9 264.7h1v1h-1zM218.6 262.5h1v1h-1zM201.8 264.0h1v1h-1zM204.7 270.7h1v1h-1zM213.0 266.7h1v1h-1zM193.6 261.4h1v1h-1zM201.7 267.5h1v1h-1zM197.6 266.8h1v1h-1zM224.3 262.9h1v1h-1zM219.9 266.2h1v1h-1zM212.1 264.4h1v1h-1zM189.3 264.9h1v1h-1zM170.3 260.3h1v1h-1zM220.8 267.2h1v1h-1zM192.5 265.0h1v1h-1zM213.3 263.3h1v1h-1zM190.5 269.0h1v1h-1zM185.1 263.2h1v1h-1zM198.9 264.3h1v1h-1zM178.5 262.8h1v1h-1zM194.3 269.3h1v1h-1zM178.1 268.4h1v1h-1zM190.6 264.5h1v1h-1zM203.4 271.5h1v1h-1zM171.6 262.3h1v1h-1zM170.1 269.4h1v1h-1zM199.9 267.6h1v1h-1zM218.2 267.0h1v1h-1zM170.2 264.7h1v1h-1zM199.3 267.2h1v1h-1zM218.1 266.4h1v1h-1zM177.4 271.5h1v1h-1zM172.3 266.8h1v1h-1zM191.1 270.6h1v1h-1zM224.3 266.7h1v1h-1zM186.5 268.1h1v1h-1zM208.0 271.8h1v1h-1zM189.3 271.0h1v1h-1zM224.2 266.2h1v1h-1zM224.8 267.2h1v1h-1zM173.2 266.8h1v1h-1zM176.2 267.1h1v1h-1zM185.2 265.6h1v1h-1zM225.7 266.0h1v1h-1zM180.0 264.5h1v1h-1zM225.4 265.5h1v1h-1zM193.3 266.2h1v1h-1zM176.5 269.5h1v1h-1zM212.8 269.6h1v1h-1zM186.4 268.4h1v1h-1zM199.7 262.2h1v1h-1zM209.7 262.0h1v1h-1zM185.7 265.1h1v1h-1zM190.6 266.2h1v1h-1zM184.6 262.3h1v1h-1zM211.7 260.2h1v1h-1zM169.0 261.7h1v1h-1zM207.5 264.5h1v1h-1zM199.5 260.5h1v1h-1zM168.3 265.5h1v1h-1zM169.4 262.0h1v1h-1zM185.6 262.0h1v1h-1zM184.9 263.8h1v1h-1zM184.0 269.7h1v1h-1zM175.9 265.0h1v1h-1zM210.2 268.5h1v1h-1zM206.6 262.0h1v1h-1zM193.9 263.7h1v1h-1zM180.2 265.2h1v1h-1zM216.7 265.9h1v1h-1zM169.8 270.9h1v1h-1zM217.9 264.1h1v1h-1zM218.2 267.9h1v1h-1zM219.2 263.8h1v1h-1zM205.6 266.4h1v1h-1zM221.9 262.2h1v1h-1zM214.4 267.3h1v1h-1zM199.0 264.2h1v1h-1zM179.2 262.9h1v1h-1zM211.8 267.5h1v1h-1zM167.7 267.5h1v1h-1zM186.5 260.1h1v1h-1zM221.2 260.7h1v1h-1zM217.1 263.8h1v1h-1zM216.9 268.4h1v1h-1zM220.2 262.8h1v1h-1zM217.3 265.5h1v1h-1zM186.5 264.4h1v1h-1zM209.6 267.5h1v1h-1zM200.3 260.6h1v1h-1zM195.6 264.4h1v1h-1zM175.0 266.3h1v1h-1zM188.9 264.4h1v1h-1zM222.8 262.7h1v1h-1zM193.4 267.8h1v1h-1zM183.9 266.8h1v1h-1zM198.1 262.4h1v1h-1zM167.8 269.9h1v1h-1zM169.0 267.9h1v1h-1zM184.8 262.4h1v1h-1zM175.7 266.8h1v1h-1zM196.7 269.5h1v1h-1zM174.6 264.0h1v1h-1zM202.3 267.6h1v1h-1zM205.4 270.7h1v1h-1zM212.5 261.8h1v1h-1zM214.0 263.2h1v1h-1zM206.6 262.6h1v1h-1zM213.4 266.0h1v1h-1zM195.1 270.1h1v1h-1zM196.9 268.0h1v1h-1zM214.0 263.5h1v1h-1zM178.3 265.8h1v1h-1zM184.5 267.9h1v1h-1zM221.2 267.6h1v1h-1zM218.7 268.7h1v1h-1zM189.8 264.5h1v1h-1zM216.8 266.2h1v1h-1zM187.2 260.8h1v1h-1zM186.0 266.7h1v1h-1zM178.4 260.2h1v1h-1zM223.3 264.5h1v1h-1zM174.2 264.6h1v1h-1zM183.7 266.1h1v1h-1zM209.3 268.8h1v1h-1zM189.0 263.2h1v1h-1zM216.6 263.0h1v1h-1zM183.6 269.8h1v1h-1zM213.0 268.9h1v1h-1zM213.8 266.0h1v1h-1zM170.7 268.1h1v1h-1zM172.2 262.9h1v1h-1zM211.1 270.6h1v1h-1zM222.4 265.7h1v1h-1zM169.7 266.5h1v1h-1zM207.2 265.6h1v1h-1zM168.4 271.6h1v1h-1zM190.6 265.8h1v1h-1zM174.5 262.1h1v1h-1zM194.3 262.6h1v1h-1zM207.9 266.7h1v1h-1zM174.8 260.9h1v1h-1zM174.8 264.9h1v1h-1zM187.1 262.7h1v1h-1zM182.9 267.3h1v1h-1zM170.7 267.3h1v1h-1zM169.9 268.1h1v1h-1zM220.5 263.9h1v1h-1zM177.3 268.9h1v1h-1zM199.5 266.8h1v1h-1zM177.4 261.6h1v1h-1zM182.4 268.3h1v1h-1zM188.3 266.9h1v1h-1zM198.0 269.9h1v1h-1zM200.1 267.4h1v1h-1zM185.8 260.3h1v1h-1zM218.9 262.1h1v1h-1zM181.7 264.3h1v1h-1zM217.1 269.4h1v1h-1zM196.6 264.4h1v1h-1zM199.9 261.7h1v1h-1zM179.0 270.4h1v1h-1zM177.0 261.0h1v1h-1zM175.3 268.3h1v1h-1zM192.5 263.7h1v1h-1zM211.0 262.9h1v1h-1zM170.2 261.5h1v1h-1zM191.7 261.7h1v1h-1zM169.9 269.3h1v1h-1zM174.6 264.6h1v1h-1zM224.6 268.0h1v1h-1zM195.5 269.8h1v1h-1zM184.2 265.6h1v1h-1zM204.0 266.5h1v1h-1zM216.6 267.0h1v1h-1zM170.8 268.6h1v1h-1zM201.7 262.1h1v1h-1zM193.5 267.6h1v1h-1zM186.5 270.1h1v1h-1zM197.3 261.0h1v1h-1zM203.7 263.4h1v1h-1zM221.5 264.0h1v1h-1zM169.9 262.2h1v1h-1zM202.5 267.2h1v1h-1zM197.2 261.5h1v1h-1zM187.8 266.5h1v1h-1zM220.1 262.0h1v1h-1zM181.0 271.6h1v1h-1zM180.7 264.5h1v1h-1zM170.4 261.9h1v1h-1zM212.5 266.9h1v1h-1zM184.0 261.9h1v1h-1zM220.9 261.3h1v1h-1zM170.0 260.8h1v1h-1zM174.2 264.1h1v1h-1zM188.2 270.3h1v1h-1zM179.6 267.9h1v1h-1zM206.3 264.1h1v1h-1zM221.3 271.1h1v1h-1zM191.9 264.6h1v1h-1zM225.2 266.9h1v1h-1zM209.5 265.9h1v1h-1zM180.1 264.7h1v1h-1zM172.6 265.3h1v1h-1zM215.5 270.1h1v1h-1zM180.4 264.6h1v1h-1zM190.6 265.2h1v1h-1zM167.6 270.6h1v1h-1zM216.4 261.0h1v1h-1zM182.5 269.9h1v1h-1zM180.0 264.3h1v1h-1zM199.4 266.4h1v1h-1zM207.5 270.8h1v1h-1zM182.2 268.8h1v1h-1zM187.1 268.5h1v1h-1zM178.4 266.6h1v1h-1zM205.9 266.8h1v1h-1zM176.8 270.3h1v1h-1zM208.4 271.6h1v1h-1zM199.7 265.3h1v1h-1zM210.4 263.7h1v1h-1zM167.6 266.6h1v1h-1zM210.0 263.4h1v1h-1zM179.0 268.1h1v1h-1zM221.7 269.4h1v1h-1zM193.6 269.1h1v1h-1zM197.6 269.9h1v1h-1zM176.8 267.8h1v1h-1zM197.2 267.6h1v1h-1zM170.2 270.4h1v1h-1zM220.6 264.5h1v1h-1zM204.1 260.1h1v1h-1zM171.7 263.4h1v1h-1zM218.2 266.6h1v1h-1zM178.1 266.5h1v1h-1zM211.9 270.1h1v1h-1zM189.2 262.7h1v1h-1zM211.7 269.1h1v1h-1zM167.9 263.3h1v1h-1zM176.4 267.2h1v1h-1zM186.0 261.7h1v1h-1zM191.9 265.3h1v1h-1zM172.9 266.6h1v1h-1zM222.8 268.0h1v1h-1zM186.2 271.9h1v1h-1zM192.7 265.1h1v1h-1zM177.5 264.2h1v1h-1zM172.6 267.0h1v1h-1zM221.8 266.4h1v1h-1zM196.7 263.3h1v1h-1zM191.7 265.9h1v1h-1zM193.4 271.4h1v1h-1zM187.7 264.4h1v1h-1zM200.4 260.4h1v1h-1zM220.7 260.4h1v1h-1zM179.2 267.6h1v1h-1zM170.7 263.1h1v1h-1zM197.9 270.0h1v1h-1zM170.8 268.1h1v1h-1zM205.1 264.5h1v1h-1zM212.4 262.6h1v1h-1zM172.3 264.6h1v1h-1zM209.8 267.0h1v1h-1zM187.4 265.4h1v1h-1zM178.9 262.3h1v1h-1zM185.9 269.9h1v1h-1zM200.9 263.0h1v1h-1zM194.9 264.1h1v1h-1zM211.1 268.8h1v1h-1zM191.5 261.9h1v1h-1zM189.1 265.7h1v1h-1zM187.6 263.6h1v1h-1zM201.9 261.9h1v1h-1zM196.2 266.6h1v1h-1zM200.6 266.8h1v1h-1zM189.9 269.6h1v1h-1zM183.2 262.8h1v1h-1zM219.5 270.4h1v1h-1zM168.5 264.2h1v1h-1zM198.5 268.9h1v1h-1zM215.2 271.5h1v1h-1zM219.3 263.4h1v1h-1zM207.4 261.3h1v1h-1zM175.3 262.3h1v1h-1zM181.9 268.0h1v1h-1zM204.9 265.3h1v1h-1zM215.2 269.7h1v1h-1zM198.1 262.2h1v1h-1zM168.0 260.9h1v1h-1zM202.2 264.8h1v1h-1zM188.1 260.8h1v1h-1zM199.7 271.6h1v1h-1zM201.0 266.5h1v1h-1zM192.5 261.2h1v1h-1zM177.2 267.3h1v1h-1zM170.9 262.7h1v1h-1zM191.4 261.7h1v1h-1zM173.3 263.9h1v1h-1zM204.5 266.3h1v1h-1zM171.5 271.5h1v1h-1zM172.6 269.7h1v1h-1zM208.3 262.8h1v1h-1zM221.8 269.4h1v1h-1zM173.9 262.1h1v1h-1zM200.2 262.1h1v1h-1zM189.5 270.4h1v1h-1zM218.9 262.4h1v1h-1zM224.8 260.0h1v1h-1zM200.4 267.5h1v1h-1zM205.1 265.2h1v1h-1zM217.1 265.0h1v1h-1zM188.8 261.3h1v1h-1zM190.9 267.7h1v1h-1zM167.9 263.7h1v1h-1zM176.9 263.3h1v1h-1zM217.2 262.4h1v1h-1zM201.7 263.5h1v1h-1zM214.7 265.3h1v1h-1zM171.0 263.2h1v1h-1zM210.9 263.8h1v1h-1zM177.8 263.6h1v1h-1zM203.5 267.3h1v1h-1zM173.7 266.2h1v1h-1zM217.8 261.6h1v1h-1zM216.2 269.8h1v1h-1zM217.8 261.8h1v1h-1zM186.3 264.5h1v1h-1zM206.3 266.2h1v1h-1zM181.1 265.0h1v1h-1zM209.9 260.2h1v1h-1zM225.0 270.8h1v1h-1zM214.1 269.0h1v1h-1zM205.9 270.8h1v1h-1zM180.5 270.1h1v1h-1zM202.4 269.0h1v1h-1zM210.2 260.9h1v1h-1zM177.2 263.7h1v1h-1zM188.1 267.1h1v1h-1zM225.4 264.7h1v1h-1zM169.2 266.8h1v1h-1zM192.1 269.6h1v1h-1zM203.7 266.7h1v1h-1zM206.7 264.4h1v1h-1zM192.4 266.0h1v1h-1zM210.7 262.9h1v1h-1zM177.6 263.1h1v1h-1zM201.0 268.5h1v1h-1zM189.0 265.0h1v1h-1zM184.5 268.4h1v1h-1zM183.1 267.4h1v1h-1zM169.1 265.9h1v1h-1zM184.1 268.5h1v1h-1zM176.9 265.9h1v1h-1zM190.4 265.3h1v1h-1zM217.0 267.3h1v1h-1zM177.9 268.7h1v1h-1zM168.7 265.2h1v1h-1zM171.3 261.8h1v1h-1zM223.8 267.2h1v1h-1zM187.3 261.6h1v1h-1zM212.6 262.9h1v1h-1zM172.9 260.9h1v1h-1zM177.2 260.1h1v1h-1zM174.6 261.9h1v1h-1zM177.4 262.1h1v1h-1zM225.0 270.0h1v1h-1zM190.6 262.6h1v1h-1zM217.0 268.1h1v1h-1zM198.6 266.3h1v1h-1zM200.3 260.6h1v1h-1zM175.1 262.2h1v1h-1zM181.5 271.6h1v1h-1zM209.4 266.3h1v1h-1zM211.5 260.6h1v1h-1zM207.4 266.6h1v1h-1zM207.2 271.0h1v1h-1zM180.3 265.5h1v1h-1zM182.7 264.1h1v1h-1zM219.9 261.2h1v1h-1zM198.9 261.6h1v1h-1zM196.3 262.3h1v1h-1zM209.0 268.0h1v1h-1zM176.3 263.8h1v1h-1zM221.8 261.7h1v1h-1zM200.8 264.4h1v1h-1zM171.1 266.1h1v1h-1zM216.4 268.8h1v1h-1zM188.7 265.8h1v1h-1zM184.8 269.3h1v1h-1zM213.6 271.8h1v1h-1zM222.5 267.1h1v1h-1zM209.4 263.4h1v1h-1zM222.4 271.1h1v1h-1zM168.3 264.0h1v1h-1zM212.5 266.3h1v1h-1zM169.1 267.1h1v1h-1zM224.4 263.3h1v1h-1zM216.8 264.2h1v1h-1zM217.6 268.4h1v1h-1zM198.5 267.7h1v1h-1zM205.1 271.7h1v1h-1zM200.3 271.3h1v1h-1zM205.6 262.7h1v1h-1zM193.2 265.4h1v1h-1zM186.0 264.7h1v1h-1zM193.2 260.8h1v1h-1zM196.5 261.8h1v1h-1zM197.3 261.4h1v1h-1zM219.6 269.6h1v1h-1zM175.7 264.5h1v1h-1zM177.6 270.2h1v1h-1zM187.3 267.4h1v1h-1zM224.4 267.6h1v1h-1zM191.4 262.7h1v1h-1zM181.4 268.0h1v1h-1zM168.3 268.2h1v1h-1zM202.5 263.8h1v1h-1zM219.1 269.6h1v1h-1zM202.1 271.2h1v1h-1zM183.8 264.7h1v1h-1zM170.3 264.1h1v1h-1zM210.4 267.7h1v1h-1zM174.5 271.8h1v1h-1zM217.2 270.0h1v1h-1zM212.8 269.6h1v1h-1zM184.6 263.3h1v1h-1zM216.2 269.3h1v1h-1zM215.2 262.3h1v1h-1zM187.5 266.6h1v1h-1zM173.5 264.8h1v1h-1zM178.0 266.9h1v1h-1zM168.5 271.5h1v1h-1zM182.5 260.8h1v1h-1zM178.6 266.5h1v1h-1zM190.4 266.0h1v1h-1zM172.3 265.9h1v1h-1zM177.0 270.8h1v1h-1zM186.9 267.8h1v1h-1zM201.8 268.4h1v1h-1zM202.6 268.2h1v1h-1zM205.8 271.0h1v1h-1zM179.8 268.1h1v1h-1zM188.7 267.2h1v1h-1zM176.4 261.8h1v1h-1zM206.8 264.5h1v1h-1zM211.4 270.3h1v1h-1zM202.8 266.1h1v1h-1zM183.3 260.0h1v1h-1zM177.0 266.1h1v1h-1zM219.8 263.2h1v1h-1zM223.3 265.9h1v1h-1zM207.2 268.2h1v1h-1zM216.4 261.8h1v1h-1zM170.7 269.9h1v1h-1zM214.1 269.0h1v1h-1zM199.4 261.3h1v1h-1zM183.3 270.3h1v1h-1zM169.5 262.2h1v1h-1zM216.5 260.7h1v1h-1zM180.4 267.3h1v1h-1zM218.6 271.3h1v1h-1zM188.5 267.2h1v1h-1zM173.2 269.3h1v1h-1zM183.6 264.2h1v1h-1zM218.1 270.9h1v1h-1zM205.0 261.7h1v1h-1zM168.9 265.4h1v1h-1zM191.4 264.4h1v1h-1zM210.4 270.5h1v1h-1zM189.1 271.7h1v1h-1zM173.0 271.8h1v1h-1zM173.2 261.5h1v1h-1zM217.5 266.0h1v1h-1zM182.5 260.5h1v1h-1zM180.3 271.6h1v1h-1zM191.1 264.9h1v1h-1zM200.1 260.6h1v1h-1zM213.8 267.2h1v1h-1zM221.1 267.3h1v1h-1zM210.9 263.7h1v1h-1zM203.7 265.0h1v1h-1zM185.3 270.9h1v1h-1zM183.5 262.1h1v1h-1zM183.1 262.3h1v1h-1zM189.3 268.3h1v1h-1zM218.9 262.3h1v1h-1zM206.5 263.5h1v1h-1zM223.9 263.8h1v1h-1zM193.3 268.1h1v1h-1zM206.8 267.7h1v1h-1zM220.6 269.1h1v1h-1zM183.0 262.2h1v1h-1zM174.3 266.5h1v1h-1zM170.3 261.1h1v1h-1zM205.3 266.8h1v1h-1zM174.5 260.5h1v1h-1zM189.1 261.5h1v1h-1zM180.7 267.4h1v1h-1zM216.2 269.1h1v1h-1zM170.9 267.3h1v1h-1zM197.8 260.6h1v1h-1zM185.6 261.2h1v1h-1zM186.8 269.1h1v1h-1zM184.2 264.0h1v1h-1zM207.5 271.0h1v1h-1zM216.9 268.5h1v1h-1zM168.6 262.6h1v1h-1zM173.7 270.4h1v1h-1zM208.6 268.3h1v1h-1zM199.4 263.4h1v1h-1zM204.3 268.5h1v1h-1zM169.3 269.4h1v1h-1zM210.5 267.7h1v1h-1zM171.7 265.0h1v1h-1zM193.9 267.7h1v1h-1zM201.8 266.9h1v1h-1zM202.2 265.8h1v1h-1zM191.2 271.4h1v1h-1zM172.3 271.1h1v1h-1zM181.0 264.8h1v1h-1zM169.1 261.0h1v1h-1zM225.0 261.9h1v1h-1zM202.9 261.4h1v1h-1zM224.8 268.2h1v1h-1zM199.0 261.6h1v1h-1zM220.2 269.9h1v1h-1zM176.2 270.8h1v1h-1zM189.7 264.8h1v1h-1zM174.6 269.3h1v1h-1zM222.9 267.7h1v1h-1zM204.8 264.4h1v1h-1zM216.7 271.2h1v1h-1zM200.7 260.7h1v1h-1zM183.3 262.3h1v1h-1zM171.9 271.8h1v1h-1zM192.8 268.4h1v1h-1zM218.5 268.1h1v1h-1zM225.3 264.4h1v1h-1zM179.5 263.5h1v1h-1zM216.4 266.6h1v1h-1zM174.4 264.2h1v1h-1zM191.4 264.8h1v1h-1zM202.6 270.0h1v1h-1zM177.0 265.2h1v1h-1zM183.2 269.8h1v1h-1zM222.1 261.4h1v1h-1zM224.4 261.8h1v1h-1zM204.2 261.7h1v1h-1zM185.4 268.9h1v1h-1zM216.8 266.1h1v1h-1zM181.8 268.7h1v1h-1zM205.4 270.6h1v1h-1zM205.9 267.3h1v1h-1zM200.4 267.9h1v1h-1zM206.6 263.6h1v1h-1zM172.0 271.5h1v1h-1zM202.2 267.7h1v1h-1zM180.0 266.1h1v1h-1zM195.7 260.0h1v1h-1zM185.6 267.4h1v1h-1zM213.1 266.6h1v1h-1zM178.2 271.0h1v1h-1zM211.4 268.2h1v1h-1zM188.2 270.3h1v1h-1zM219.8 262.6h1v1h-1zM181.7 265.1h1v1h-1zM205.8 268.3h1v1h-1zM190.6 270.2h1v1h-1zM198.5 262.8h1v1h-1zM185.0 268.2h1v1h-1zM172.7 263.3h1v1h-1zM169.1 267.9h1v1h-1zM224.3 267.7h1v1h-1zM182.7 269.6h1v1h-1zM189.5 269.2h1v1h-1zM197.3 270.9h1v1h-1zM224.8 264.5h1v1h-1zM218.7 265.3h1v1h-1zM175.8 268.6h1v1h-1zM191.1 260.1h1v1h-1zM176.3 263.3h1v1h-1zM184.3 269.0h1v1h-1zM168.0 262.0h1v1h-1zM224.7 264.5h1v1h-1zM177.0 261.0h1v1h-1zM182.5 265.0h1v1h-1zM219.3 269.3h1v1h-1zM185.9 266.5h1v1h-1zM178.9 267.4h1v1h-1zM185.4 263.5h1v1h-1zM208.2 271.0h1v1h-1zM184.6 263.4h1v1h-1zM176.4 261.8h1v1h-1zM207.2 263.5h1v1h-1zM223.4 267.9h1v1h-1zM170.6 266.0h1v1h-1zM195.3 268.8h1v1h-1zM200.8 262.5h1v1h-1zM184.5 264.5h1v1h-1zM169.0 266.4h1v1h-1zM196.1 266.6h1v1h-1zM223.5 263.2h1v1h-1zM187.9 262.5h1v1h-1zM204.8 260.9h1v1h-1zM181.4 264.0h1v1h-1zM211.1 265.5h1v1h-1zM177.9 271.9h1v1h-1zM209.5 266.6h1v1h-1zM205.6 262.0h1v1h-1zM224.6 265.3h1v1h-1zM209.5 262.4h1v1h-1zM225.2 261.9h1v1h-1zM186.1 268.6h1v1h-1zM192.3 263.7h1v1h-1zM213.7 271.3h1v1h-1zM186.6 268.4h1v1h-1zM194.4 268.4h1v1h-1zM203.6 270.9h1v1h-1zM225.8 262.6h1v1h-1zM181.0 267.5h1v1h-1zM216.4 263.7h1v1h-1zM171.1 270.3h1v1h-1zM179.6 266.3h1v1h-1zM219.1 268.0h1v1h-1zM219.1 270.7h1v1h-1zM196.3 264.8h1v1h-1zM171.1 262.4h1v1h-1zM172.5 270.5h1v1h-1zM201.4 264.7h1v1h-1zM214.9 262.2h1v1h-1zM173.2 266.3h1v1h-1zM224.2 262.8h1v1h-1zM198.2 261.9h1v1h-1zM168.8 269.8h1v1h-1zM169.4 271.5h1v1h-1zM187.9 260.7h1v1h-1zM189.8 266.5h1v1h-1zM171.8 269.6h1v1h-1zM194.7 266.8h1v1h-1zM208.6 262.6h1v1h-1zM170.4 265.8h1v1h-1zM179.8 260.8h1v1h-1zM223.7 266.8h1v1h-1zM172.7 267.0h1v1h-1zM221.7 267.6h1v1h-1zM183.2 266.4h1v1h-1zM183.7 269.0h1v1h-1zM170.4 263.1h1v1h-1zM216.9 263.9h1v1h-1zM185.9 261.3h1v1h-1zM210.2 266.8h1v1h-1zM191.5 268.4h1v1h-1zM210.5 262.2h1v1h-1zM195.4 270.6h1v1h-1zM199.9 268.9h1v1h-1zM185.3 269.8h1v1h-1zM200.1 265.4h1v1h-1zM189.9 267.8h1v1h-1zM177.8 266.5h1v1h-1zM202.3 271.6h1v1h-1zM210.3 269.7h1v1h-1zM171.3 263.0h1v1h-1zM183.9 261.3h1v1h-1zM211.5 264.0h1v1h-1zM173.3 268.6h1v1h-1zM173.9 266.6h1v1h-1zM225.4 270.7h1v1h-1zM191.2 270.1h1v1h-1zM187.4 263.0h1v1h-1zM185.3 265.7h1v1h-1zM196.6 263.3h1v1h-1zM219.4 261.2h1v1h-1zM193.7 262.9h1v1h-1zM205.5 265.4h1v1h-1zM175.2 269.1h1v1h-1zM200.6 270.4h1v1h-1zM181.3 270.7h1v1h-1zM203.8 271.4h1v1h-1zM178.3 269.5h1v1h-1zM220.3 265.4h1v1h-1zM181.9 264.8h1v1h-1zM207.6 265.4h1v1h-1zM180.7 266.0h1v1h-1zM196.2 268.3h1v1h-1zM174.0 268.3h1v1h-1zM183.0 270.0h1v1h-1zM222.1 262.3h1v1h-1zM196.8 260.3h1v1h-1zM191.2 267.3h1v1h-1zM221.4 265.5h1v1h-1zM213.9 269.7h1v1h-1zM196.9 268.9h1v1h-1zM176.2 264.1h1v1h-1zM183.4 263.3h1v1h-1zM196.9 261.4h1v1h-1zM218.3 262.9h1v1h-1zM171.1 270.2h1v1h-1zM178.4 264.8h1v1h-1zM225.7 265.8h1v1h-1zM210.7 267.6h1v1h-1zM195.8 271.0h1v1h-1zM197.0 266.1h1v1h-1zM209.9 262.2h1v1h-1zM225.4 262.9h1v1h-1zM211.4 261.1h1v1h-1zM191.8 264.5h1v1h-1zM213.7 263.4h1v1h-1zM199.9 266.2h1v1h-1zM196.1 263.0h1v1h-1zM195.7 264.5h1v1h-1zM198.1 267.8h1v1h-1zM175.8 262.9h1v1h-1zM208.1 269.8h1v1h-1zM172.7 267.8h1v1h-1zM183.0 267.4h1v1h-1zM217.9 262.7h1v1h-1zM182.0 270.8h1v1h-1zM192.8 264.0h1v1h-1zM170.5 265.4h1v1h-1zM181.3 270.6h1v1h-1zM211.0 265.7h1v1h-1zM217.2 263.2h1v1h-1zM207.0 261.3h1v1h-1zM189.4 269.1h1v1h-1zM176.9 268.4h1v1h-1zM180.1 266.2h1v1h-1zM186.0 265.2h1v1h-1zM173.6 264.8h1v1h-1zM186.8 261.0h1v1h-1zM170.2 261.2h1v1h-1zM185.7 260.4h1v1h-1zM170.1 260.2h1v1h-1zM195.1 260.5h1v1h-1zM206.6 263.1h1v1h-1zM172.6 263.7h1v1h-1zM215.7 267.1h1v1h-1zM202.5 260.9h1v1h-1zM208.5 261.9h1v1h-1zM179.5 265.2h1v1h-1zM179.7 260.5h1v1h-1zM179.9 262.7h1v1h-1zM213.7 260.4h1v1h-1zM196.6 262.8h1v1h-1zM204.6 271.0h1v1h-1zM204.2 262.0h1v1h-1zM191.6 260.1h1v1h-1zM170.6 270.3h1v1h-1zM185.2 263.2h1v1h-1zM193.7 266.1h1v1h-1zM195.2 260.1h1v1h-1zM192.8 261.4h1v1h-1zM219.3 267.4h1v1h-1zM197.6 264.3h1v1h-1zM213.4 266.5h1v1h-1zM191.9 261.8h1v1h-1zM203.3 265.4h1v1h-1zM194.4 262.7h1v1h-1zM181.2 261.6h1v1h-1zM173.3 263.7h1v1h-1zM207.5 261.7h1v1h-1zM178.4 261.7h1v1h-1zM177.0 263.6h1v1h-1zM203.0 264.6h1v1h-1zM168.9 262.5h1v1h-1zM192.1 270.9h1v1h-1zM222.3 261.5h1v1h-1zM168.6 265.9h1v1h-1zM202.2 260.3h1v1h-1zM190.1 260.4h1v1h-1zM195.4 269.8h1v1h-1zM178.0 267.5h1v1h-1zM189.1 262.0h1v1h-1zM198.1 262.7h1v1h-1zM183.8 264.7h1v1h-1zM217.3 262.9h1v1h-1zM170.9 266.5h1v1h-1zM195.8 264.2h1v1h-1zM203.9 270.5h1v1h-1zM202.8 262.4h1v1h-1zM203.2 265.8h1v1h-1zM175.3 263.8h1v1h-1zM206.0 265.5h1v1h-1zM196.5 261.4h1v1h-1zM170.1 265.0h1v1h-1zM218.6 264.6h1v1h-1zM196.5 261.9h1v1h-1zM179.6 263.0h1v1h-1zM207.3 265.0h1v1h-1zM188.3 260.1h1v1h-1zM190.3 264.5h1v1h-1zM197.2 260.6h1v1h-1zM211.0 268.5h1v1h-1zM175.1 260.8h1v1h-1zM183.0 265.1h1v1h-1zM189.9 266.0h1v1h-1zM187.1 270.0h1v1h-1zM175.0 260.3h1v1h-1zM195.3 262.8h1v1h-1zM191.9 264.5h1v1h-1zM201.8 270.7h1v1h-1zM184.8 266.2h1v1h-1zM213.0 269.4h1v1h-1zM206.8 260.7h1v1h-1zM176.2 264.9h1v1h-1zM222.4 260.3h1v1h-1zM216.5 263.5h1v1h-1zM182.1 263.5h1v1h-1zM193.5 269.2h1v1h-1zM176.2 263.0h1v1h-1zM209.3 260.0h1v1h-1zM201.4 260.9h1v1h-1zM216.2 268.3h1v1h-1zM202.2 260.9h1v1h-1zM204.4 271.6h1v1h-1zM202.2 261.4h1v1h-1zM188.4 260.4h1v1h-1zM178.8 260.4h1v1h-1zM196.6 269.1h1v1h-1zM222.3 263.3h1v1h-1zM223.1 261.7h1v1h-1zM171.3 262.9h1v1h-1zM171.0 267.6h1v1h-1zM206.6 267.8h1v1h-1zM190.5 262.6h1v1h-1zM177.2 265.7h1v1h-1zM223.3 260.3h1v1h-1zM220.1 267.9h1v1h-1zM216.0 260.8h1v1h-1zM209.1 264.8h1v1h-1zM193.5 265.2h1v1h-1zM223.3 266.6h1v1h-1zM172.6 262.5h1v1h-1zM170.1 270.4h1v1h-1zM215.8 260.0h1v1h-1zM199.6 263.9h1v1h-1zM202.2 270.0h1v1h-1zM204.6 266.6h1v1h-1zM217.8 264.5h1v1h-1zM170.4 262.5h1v1h-1zM200.4 260.4h1v1h-1zM191.5 262.8h1v1h-1zM182.1 261.6h1v1h-1zM202.0 263.4h1v1h-1zM208.0 265.1h1v1h-1zM181.5 268.1h1v1h-1zM201.3 263.0h1v1h-1zM200.6 266.7h1v1h-1zM210.6 268.0h1v1h-1zM189.9 261.4h1v1h-1zM185.5 263.1h1v1h-1zM171.4 260.7h1v1h-1zM207.2 266.0h1v1h-1zM209.3 267.9h1v1h-1zM187.1 265.8h1v1h-1zM210.7 260.6h1v1h-1zM195.9 270.5h1v1h-1zM185.4 264.2h1v1h-1zM175.7 265.7h1v1h-1zM204.7 260.6h1v1h-1zM215.6 262.1h1v1h-1zM190.6 260.1h1v1h-1zM184.9 260.5h1v1h-1zM200.8 261.3h1v1h-1zM216.0 260.3h1v1h-1zM225.7 266.1h1v1h-1zM201.0 261.0h1v1h-1zM175.4 265.1h1v1h-1zM209.9 260.3h1v1h-1zM177.6 265.3h1v1h-1zM212.5 268.5h1v1h-1zM189.8 266.3h1v1h-1zM207.7 261.7h1v1h-1zM188.2 266.3h1v1h-1zM173.6 262.3h1v1h-1zM191.0 260.6h1v1h-1zM211.1 266.6h1v1h-1zM174.7 268.1h1v1h-1zM218.8 267.9h1v1h-1zM184.2 262.7h1v1h-1zM209.4 260.4h1v1h-1zM175.2 263.5h1v1h-1zM215.0 260.5h1v1h-1zM206.0 262.0h1v1h-1zM196.5 265.9h1v1h-1zM207.5 267.1h1v1h-1zM222.2 263.6h1v1h-1zM206.2 262.2h1v1h-1zM199.6 263.2h1v1h-1zM179.0 262.5h1v1h-1zM207.9 265.2h1v1h-1zM209.3 261.6h1v1h-1zM221.9 266.2h1v1h-1zM176.6 262.0h1v1h-1zM176.5 261.0h1v1h-1zM201.2 260.2h1v1h-1zM188.5 266.0h1v1h-1zM214.6 265.3h1v1h-1zM215.2 260.2h1v1h-1zM213.3 265.1h1v1h-1zM197.5 260.6h1v1h-1zM199.9 265.0h1v1h-1zM225.6 260.4h1v1h-1zM200.9 267.1h1v1h-1zM193.2 266.7h1v1h-1zM191.2 260.4h1v1h-1zM179.4 262.2h1v1h-1zM222.2 261.6h1v1h-1zM191.1 265.7h1v1h-1zM207.4 263.8h1v1h-1zM180.8 263.2h1v1h-1zM191.4 261.6h1v1h-1zM182.7 271.0h1v1h-1zM188.4 261.1h1v1h-1zM172.7 269.0h1v1h-1zM182.1 269.6h1v1h-1zM177.2 266.5h1v1h-1zM171.4 261.7h1v1h-1zM176.7 270.9h1v1h-1zM175.3 266.7h1v1h-1zM170.3 265.0h1v1h-1zM168.3 266.5h1v1h-1zM181.6 263.2h1v1h-1zM180.3 266.3h1v1h-1zM177.5 270.8h1v1h-1zM179.4 270.1h1v1h-1zM177.5 269.9h1v1h-1zM169.1 270.8h1v1h-1zM168.8 265.5h1v1h-1zM170.2 270.0h1v1h-1zM170.9 268.8h1v1h-1zM170.7 268.0h1v1h-1zM184.9 261.4h1v1h-1zM182.5 271.6h1v1h-1zM169.2 263.1h1v1h-1zM178.3 266.2h1v1h-1zM168.0 271.0h1v1h-1zM169.6 266.7h1v1h-1zM174.5 268.0h1v1h-1zM175.9 261.5h1v1h-1zM168.2 265.3h1v1h-1zM170.2 270.3h1v1h-1zM183.5 266.4h1v1h-1zM194.4 271.6h1v1h-1zM168.2 269.2h1v1h-1zM167.8 262.5h1v1h-1zM183.7 269.6h1v1h-1zM176.3 268.2h1v1h-1zM180.5 271.3h1v1h-1zM174.7 270.0h1v1h-1zM172.7 268.8h1v1h-1zM185.9 266.4h1v1h-1zM182.0 269.8h1v1h-1zM170.6 268.2h1v1h-1zM178.6 266.6h1v1h-1zM191.3 260.5h1v1h-1zM172.0 261.4h1v1h-1zM178.5 271.4h1v1h-1zM181.5 260.3h1v1h-1zM176.0 269.4h1v1h-1zM174.6 267.2h1v1h-1zM196.8 264.6h1v1h-1zM175.9 263.9h1v1h-1zM168.6 271.7h1v1h-1zM168.3 266.7h1v1h-1zM171.3 269.4h1v1h-1zM190.4 270.9h1v1h-1zM172.5 271.0h1v1h-1zM183.4 270.1h1v1h-1zM177.0 268.8h1v1h-1zM167.9 265.7h1v1h-1zM186.2 265.3h1v1h-1zM168.1 269.2h1v1h-1zM168.4 266.3h1v1h-1zM175.4 272.0h1v1h-1zM195.3 270.5h1v1h-1zM181.0 268.1h1v1h-1zM188.5 267.3h1v1h-1zM185.9 268.5h1v1h-1zM190.9 264.9h1v1h-1zM177.0 269.5h1v1h-1zM169.2 266.9h1v1h-1zM190.2 270.6h1v1h-1zM176.0 270.2h1v1h-1zM174.3 262.9h1v1h-1zM170.4 271.3h1v1h-1zM183.5 265.1h1v1h-1zM190.7 270.2h1v1h-1zM194.0 267.4h1v1h-1zM176.7 270.9h1v1h-1zM202.1 269.4h1v1h-1zM180.1 271.8h1v1h-1zM172.6 267.0h1v1h-1zM183.2 269.1h1v1h-1zM177.7 270.6h1v1h-1zM169.1 263.9h1v1h-1zM171.1 269.5h1v1h-1zM181.5 268.9h1v1h-1zM181.9 271.1h1v1h-1zM179.9 266.2h1v1h-1zM175.5 267.1h1v1h-1zM175.5 271.6h1v1h-1zM199.1 271.5h1v1h-1zM187.5 270.9h1v1h-1zM182.8 265.5h1v1h-1zM174.3 270.6h1v1h-1zM177.2 270.6h1v1h-1zM172.3 264.5h1v1h-1zM181.9 262.6h1v1h-1zM170.5 269.8h1v1h-1zM188.1 265.3h1v1h-1zM174.3 265.7h1v1h-1zM170.7 270.1h1v1h-1zM181.5 270.5h1v1h-1zM181.8 261.4h1v1h-1zM188.0 270.5h1v1h-1zM172.1 269.4h1v1h-1zM175.6 271.1h1v1h-1zM182.5 265.6h1v1h-1zM173.4 264.8h1v1h-1zM190.8 261.6h1v1h-1zM177.9 270.4h1v1h-1zM172.3 268.2h1v1h-1zM181.8 265.8h1v1h-1zM180.2 270.3h1v1h-1zM174.8 270.5h1v1h-1zM170.4 267.8h1v1h-1zM188.0 268.5h1v1h-1zM176.6 270.8h1v1h-1zM176.1 268.7h1v1h-1zM183.0 271.7h1v1h-1zM170.1 267.2h1v1h-1zM173.9 265.3h1v1h-1zM181.7 268.5h1v1h-1zM170.5 268.4h1v1h-1zM172.2 260.2h1v1h-1zM170.6 265.9h1v1h-1zM179.1 267.3h1v1h-1zM173.4 266.4h1v1h-1zM168.0 265.3h1v1h-1zM174.2 268.9h1v1h-1zM170.2 269.7h1v1h-1zM189.1 271.5h1v1h-1zM170.2 261.7h1v1h-1zM172.9 265.1h1v1h-1zM175.9 267.9h1v1h-1zM169.2 262.4h1v1h-1zM175.3 261.5h1v1h-1zM173.1 271.2h1v1h-1zM173.5 268.6h1v1h-1zM175.1 262.5h1v1h-1zM167.9 270.5h1v1h-1zM176.4 269.0h1v1h-1zM182.2 268.4h1v1h-1zM169.5 269.3h1v1h-1zM180.3 269.8h1v1h-1zM199.4 268.7h1v1h-1zM170.5 270.6h1v1h-1z"/>
<path fill="#e4392c" d="M174.4 272.5h1v1h-1zM202.2 258.4h1v1h-1zM170.8 256.7h1v1h-1zM215.9 279.7h1v1h-1zM214.1 273.4h1v1h-1zM173.5 257.8h1v1h-1zM172.3 256.6h1v1h-1zM197.6 255.1h1v1h-1zM218.7 272.4h1v1h-1zM199.2 279.5h1v1h-1zM168.2 256.1h1v1h-1zM182.2 277.7h1v1h-1zM210.0 275.5h1v1h-1zM201.3 272.1h1v1h-1zM185.1 260.0h1v1h-1zM213.8 275.9h1v1h-1zM177.7 257.7h1v1h-1zM171.2 274.6h1v1h-1zM195.1 276.3h1v1h-1zM178.6 254.8h1v1h-1zM220.3 258.3h1v1h-1zM197.7 256.5h1v1h-1zM192.9 277.2h1v1h-1zM173.0 258.7h1v1h-1zM213.3 277.0h1v1h-1zM168.6 277.1h1v1h-1zM168.8 274.7h1v1h-1zM204.9 272.3h1v1h-1zM187.5 259.1h1v1h-1zM177.4 273.1h1v1h-1zM188.5 272.3h1v1h-1zM191.3 258.3h1v1h-1zM185.0 257.1h1v1h-1zM202.8 259.9h1v1h-1zM200.9 276.3h1v1h-1zM192.1 272.8h1v1h-1zM186.1 259.9h1v1h-1zM188.5 274.5h1v1h-1zM196.7 276.1h1v1h-1zM183.3 276.4h1v1h-1zM184.8 279.4h1v1h-1zM186.8 276.2h1v1h-1zM220.8 257.2h1v1h-1zM177.3 272.9h1v1h-1zM208.7 273.5h1v1h-1zM168.3 259.1h1v1h-1zM209.0 259.5h1v1h-1zM172.4 259.5h1v1h-1zM168.2 258.6h1v1h-1zM177.2 259.1h1v1h-1zM176.8 258.3h1v1h-1zM179.4 275.5h1v1h-1zM204.7 260.0h1v1h-1zM210.9 257.2h1v1h-1zM213.3 256.9h1v1h-1zM209.0 272.9h1v1h-1zM206.3 259.8h1v1h-1zM210.3 258.2h1v1h-1zM219.8 274.1h1v1h-1zM179.2 259.5h1v1h-1zM170.0 255.9h1v1h-1zM169.6 272.2h1v1h-1zM178.2 274.2h1v1h-1zM168.0 272.5h1v1h-1zM214.3 256.9h1v1h-1zM190.5 273.5h1v1h-1zM183.0 258.5h1v1h-1zM182.4 274.6h1v1h-1zM222.8 272.3h1v1h-1zM204.1 275.6h1v1h-1zM197.3 252.0h1v1h-1zM167.9 276.8h1v1h-1zM179.0 273.4h1v1h-1zM209.4 272.8h1v1h-1zM170.3 276.5h1v1h-1zM178.5 274.5h1v1h-1zM212.3 255.5h1v1h-1zM167.6 259.3h1v1h-1zM181.4 274.4h1v1h-1zM202.0 274.9h1v1h-1zM201.9 277.4h1v1h-1zM211.9 272.3h1v1h-1zM201.1 273.3h1v1h-1zM189.5 257.0h1v1h-1zM200.1 259.4h1v1h-1zM224.8 273.6h1v1h-1zM193.0 274.0h1v1h-1zM224.8 259.5h1v1h-1zM174.4 272.8h1v1h-1zM211.0 273.4h1v1h-1zM199.9 259.1h1v1h-1zM170.8 257.8h1v1h-1zM181.0 272.3h1v1h-1zM171.4 273.9h1v1h-1zM175.5 258.3h1v1h-1zM168.1 254.5h1v1h-1zM174.7 257.2h1v1h-1zM181.3 257.3h1v1h-1zM213.3 273.7h1v1h-1zM190.9 258.7h1v1h-1zM200.1 257.4h1v1h-1zM206.6 273.3h1v1h-1zM187.7 254.2h1v1h-1zM200.9 259.2h1v1h-1zM218.9 273.8h1v1h-1zM196.7 273.6h1v1h-1zM170.8 258.0h1v1h-1zM174.2 258.0h1v1h-1zM210.9 272.1h1v1h-1zM215.2 258.3h1v1h-1zM205.7 277.1h1v1h-1zM186.1 258.8h1v1h-1zM211.1 258.6h1v1h-1zM211.6 273.3h1v1h-1zM188.7 273.0h1v1h-1zM180.9 253.7h1v1h-1zM177.6 273.4h1v1h-1zM205.1 257.5h1v1h-1zM173.8 256.7h1v1h-1zM189.6 274.3h1v1h-1zM203.8 259.6h1v1h-1zM172.0 257.6h1v1h-1zM181.2 274.2h1v1h-1zM173.9 258.3h1v1h-1zM201.5 273.1h1v1h-1zM217.2 273.1h1v1h-1zM209.7 273.6h1v1h-1zM208.7 259.5h1v1h-1zM172.2 272.8h1v1h-1zM192.3 258.9h1v1h-1zM172.6 272.8h1v1h-1zM168.4 257.6h1v1h-1zM209.0 257.5h1v1h-1zM209.1 275.0h1v1h-1zM171.8 258.4h1v1h-1zM223.7 274.5h1v1h-1zM168.1 256.4h1v1h-1zM197.7 272.8h1v1h-1zM173.9 256.2h1v1h-1zM176.8 259.0h1v1h-1zM216.8 259.7h1v1h-1zM168.1 259.7h1v1h-1zM204.8 258.1h1v1h-1zM184.0 273.6h1v1h-1zM210.3 258.4h1v1h-1zM174.3 272.8h1v1h-1zM197.3 259.5h1v1h-1zM181.5 259.8h1v1h-1zM221.9 259.9h1v1h-1zM169.3 257.8h1v1h-1zM223.5 274.9h1v1h-1zM205.6 272.6h1v1h-1zM198.2 274.3h1v1h-1zM219.0 259.0h1v1h-1zM173.8 273.5h1v1h-1zM188.6 257.7h1v1h-1zM196.9 273.3h1v1h-1zM175.9 275.8h1v1h-1zM170.9 254.6h1v1h-1zM205.4 272.7h1v1h-1zM179.5 252.9h1v1h-1zM170.2 257.8h1v1h-1zM217.9 275.3h1v1h-1zM169.4 255.3h1v1h-1zM169.5 259.3h1v1h-1zM182.9 255.3h1v1h-1zM188.7 274.4h1v1h-1zM201.4 274.8h1v1h-1zM193.8 259.8h1v1h-1zM191.4 272.8h1v1h-1zM193.6 258.7h1v1h-1zM173.9 275.1h1v1h-1zM170.4 272.2h1v1h-1zM194.4 275.0h1v1h-1zM198.3 274.3h1v1h-1zM189.3 254.8h1v1h-1zM173.1 259.9h1v1h-1zM194.5 272.8h1v1h-1zM189.7 258.4h1v1h-1zM187.5 272.8h1v1h-1zM184.4 255.9h1v1h-1zM182.3 258.6h1v1h-1zM168.0 273.1h1v1h-1zM168.4 273.5h1v1h-1zM212.6 276.1h1v1h-1zM198.2 272.9h1v1h-1zM221.0 273.9h1v1h-1zM220.8 257.6h1v1h-1zM210.0 259.9h1v1h-1zM194.0 272.9h1v1h-1zM188.9 274.4h1v1h-1zM213.6 273.7h1v1h-1zM180.4 275.4h1v1h-1zM196.5 277.3h1v1h-1zM199.5 259.3h1v1h-1zM170.6 259.3h1v1h-1zM198.3 275.5h1v1h-1zM221.0 255.0h1v1h-1zM195.5 274.0h1v1h-1zM175.1 274.6h1v1h-1zM178.6 272.1h1v1h-1zM173.2 272.0h1v1h-1zM189.5 259.7h1v1h-1zM193.2 273.3h1v1h-1zM210.6 273.3h1v1h-1zM186.1 276.6h1v1h-1zM208.7 274.2h1v1h-1zM221.7 272.1h1v1h-1zM187.1 272.2h1v1h-1zM182.0 257.9h1v1h-1zM203.4 273.3h1v1h-1zM192.0 276.0h1v1h-1zM193.8 259.3h1v1h-1zM221.8 254.3h1v1h-1zM203.5 259.1h1v1h-1zM210.5 272.3h1v1h-1zM185.5 255.8h1v1h-1zM189.7 258.6h1v1h-1zM211.2 275.5h1v1h-1zM200.7 272.4h1v1h-1zM197.7 255.5h1v1h-1zM221.2 273.6h1v1h-1zM190.5 257.8h1v1h-1zM173.1 255.1h1v1h-1zM173.5 254.4h1v1h-1zM205.0 259.2h1v1h-1zM225.0 273.7h1v1h-1zM205.7 272.6h1v1h-1zM202.0 272.1h1v1h-1zM194.5 274.1h1v1h-1zM219.4 254.9h1v1h-1zM217.5 259.7h1v1h-1zM191.0 273.7h1v1h-1zM183.6 258.6h1v1h-1zM221.8 250.0h1v1h-1zM180.7 272.4h1v1h-1zM167.9 258.0h1v1h-1zM174.5 272.6h1v1h-1zM186.2 273.7h1v1h-1zM195.2 255.9h1v1h-1zM179.3 272.7h1v1h-1zM221.1 257.7h1v1h-1zM222.0 259.5h1v1h-1zM195.1 275.3h1v1h-1zM201.5 275.1h1v1h-1zM174.2 258.0h1v1h-1zM205.6 253.4h1v1h-1zM188.6 272.0h1v1h-1zM176.3 252.4h1v1h-1zM168.4 259.5h1v1h-1zM170.1 273.6h1v1h-1zM174.5 259.1h1v1h-1zM197.8 255.1h1v1h-1zM199.5 253.6h1v1h-1zM213.4 275.8h1v1h-1zM176.4 256.2h1v1h-1zM177.9 258.4h1v1h-1zM200.8 258.2h1v1h-1zM185.3 257.6h1v1h-1zM218.7 258.8h1v1h-1zM217.5 257.8h1v1h-1zM194.0 254.9h1v1h-1zM194.7 272.0h1v1h-1zM209.4 277.2h1v1h-1zM206.2 258.4h1v1h-1zM201.4 260.0h1v1h-1zM183.2 255.7h1v1h-1zM171.4 273.3h1v1h-1zM193.7 251.3h1v1h-1zM202.0 275.7h1v1h-1zM187.4 272.8h1v1h-1zM188.6 278.2h1v1h-1zM213.2 274.4h1v1h-1zM224.8 273.4h1v1h-1zM177.0 259.0h1v1h-1zM210.2 276.1h1v1h-1zM188.3 257.0h1v1h-1zM193.2 273.4h1v1h-1zM194.7 253.7h1v1h-1zM209.2 259.6h1v1h-1zM184.1 274.0h1v1h-1zM174.2 272.1h1v1h-1zM223.9 258.3h1v1h-1zM206.9 249.7h1v1h-1zM170.5 249.9h1v1h-1zM220.7 255.5h1v1h-1zM173.8 246.4h1v1h-1zM180.8 260.0h1v1h-1zM206.1 252.9h1v1h-1zM222.5 256.6h1v1h-1zM223.3 253.4h1v1h-1zM175.2 256.3h1v1h-1zM178.5 256.7h1v1h-1zM179.2 255.6h1v1h-1zM216.2 254.7h1v1h-1zM195.9 258.3h1v1h-1zM197.0 249.8h1v1h-1zM212.1 254.8h1v1h-1zM201.5 251.6h1v1h-1zM193.2 248.5h1v1h-1zM210.3 254.6h1v1h-1zM199.9 256.5h1v1h-1zM189.5 254.1h1v1h-1zM172.9 256.4h1v1h-1zM201.7 259.9h1v1h-1zM179.7 251.2h1v1h-1zM173.7 258.7h1v1h-1zM222.0 255.5h1v1h-1zM218.7 256.0h1v1h-1zM217.1 245.1h1v1h-1zM206.3 256.8h1v1h-1zM179.4 250.8h1v1h-1zM191.2 253.7h1v1h-1zM204.2 258.4h1v1h-1zM224.9 248.0h1v1h-1zM179.1 253.8h1v1h-1zM169.6 259.5h1v1h-1zM176.2 250.1h1v1h-1zM206.8 259.8h1v1h-1zM188.9 257.9h1v1h-1zM189.4 258.1h1v1h-1zM174.9 258.3h1v1h-1zM204.9 249.9h1v1h-1zM221.1 255.8h1v1h-1zM175.7 248.0h1v1h-1zM216.8 247.8h1v1h-1zM215.7 255.3h1v1h-1zM199.3 257.6h1v1h-1zM175.2 255.9h1v1h-1zM212.6 257.6h1v1h-1zM193.1 252.1h1v1h-1zM182.9 250.3h1v1h-1zM193.2 259.0h1v1h-1zM168.7 251.9h1v1h-1zM209.0 256.1h1v1h-1zM202.3 254.2h1v1h-1zM171.1 248.8h1v1h-1zM223.0 248.6h1v1h-1zM183.6 253.4h1v1h-1zM175.5 251.5h1v1h-1zM208.4 249.2h1v1h-1zM180.3 259.5h1v1h-1zM202.4 251.2h1v1h-1zM179.2 252.5h1v1h-1zM219.9 253.2h1v1h-1zM213.8 256.1h1v1h-1zM212.5 259.1h1v1h-1zM219.1 255.7h1v1h-1zM194.0 259.5h1v1h-1zM220.0 252.5h1v1h-1zM217.4 255.2h1v1h-1zM195.6 258.1h1v1h-1zM188.4 259.5h1v1h-1zM206.8 258.6h1v1h-1zM222.0 257.3h1v1h-1zM182.4 255.5h1v1h-1zM168.7 256.9h1v1h-1zM221.2 250.9h1v1h-1zM174.0 257.8h1v1h-1zM208.2 257.3h1v1h-1zM175.2 257.9h1v1h-1zM173.7 257.7h1v1h-1zM221.7 250.2h1v1h-1zM217.8 254.8h1v1h-1zM212.0 257.6h1v1h-1zM198.0 252.8h1v1h-1zM180.9 247.3h1v1h-1zM222.1 248.1h1v1h-1zM183.2 257.1h1v1h-1zM215.4 250.7h1v1h-1zM211.3 250.3h1v1h-1zM193.2 251.5h1v1h-1zM182.9 248.4h1v1h-1zM170.7 252.0h1v1h-1zM216.9 249.0h1v1h-1zM200.7 252.3h1v1h-1zM168.7 255.8h1v1h-1zM177.2 247.8h1v1h-1zM187.9 256.5h1v1h-1zM211.1 249.1h1v1h-1zM223.8 257.1h1v1h-1zM212.6 249.8h1v1h-1zM174.1 250.5h1v1h-1zM200.4 251.1h1v1h-1zM185.2 249.8h1v1h-1zM200.5 272.3h1v1h-1zM212.9 245.0h1v1h-1zM170.2 254.5h1v1h-1zM195.1 252.9h1v1h-1zM218.6 249.2h1v1h-1zM169.0 256.2h1v1h-1zM187.0 257.5h1v1h-1zM169.6 254.0h1v1h-1zM215.0 250.6h1v1h-1zM204.1 258.5h1v1h-1zM206.7 258.0h1v1h-1zM214.0 259.3h1v1h-1zM169.4 257.8h1v1h-1zM217.9 258.2h1v1h-1zM195.6 257.5h1v1h-1zM171.3 248.7h1v1h-1zM185.1 248.6h1v1h-1zM208.0 257.8h1v1h-1zM224.2 249.9h1v1h-1zM212.1 253.4h1v1h-1zM201.4 248.5h1v1h-1zM178.0 257.5h1v1h-1zM168.6 251.5h1v1h-1zM198.6 254.2h1v1h-1zM210.2 259.2h1v1h-1zM170.7 257.8h1v1h-1zM201.4 250.3h1v1h-1zM173.3 257.4h1v1h-1zM193.6 251.0h1v1h-1zM206.5 246.0h1v1h-1zM183.6 247.3h1v1h-1zM194.3 254.6h1v1h-1zM224.1 257.1h1v1h-1zM170.2 259.8h1v1h-1zM202.2 254.7h1v1h-1zM185.2 259.3h1v1h-1zM192.9 259.3h1v1h-1zM202.0 247.5h1v1h-1zM188.0 248.1h1v1h-1zM178.0 253.2h1v1h-1zM172.4 247.1h1v1h-1zM201.7 250.9h1v1h-1zM220.8 256.5h1v1h-1zM196.5 256.8h1v1h-1zM195.8 258.9h1v1h-1zM185.3 253.5h1v1h-1zM210.9 255.4h1v1h-1zM185.4 252.3h1v1h-1zM187.5 250.2h1v1h-1zM199.3 247.2h1v1h-1zM176.7 258.3h1v1h-1zM169.2 249.9h1v1h-1zM207.6 259.3h1v1h-1zM172.5 250.4h1v1h-1zM190.9 253.9h1v1h-1zM210.8 247.7h1v1h-1zM188.0 245.4h1v1h-1zM177.3 248.6h1v1h-1zM204.5 249.5h1v1h-1zM195.0 252.7h1v1h-1zM198.3 258.5h1v1h-1zM188.7 255.2h1v1h-1zM187.8 257.4h1v1h-1zM190.0 259.0h1v1h-1zM209.6 255.4h1v1h-1zM191.4 259.7h1v1h-1zM225.0 254.3h1v1h-1zM180.3 257.2h1v1h-1zM193.8 252.6h1v1h-1zM214.1 249.8h1v1h-1zM186.8 249.5h1v1h-1zM211.8 252.8h1v1h-1zM216.7 258.4h1v1h-1zM168.7 273.4h1v1h-1zM205.9 245.7h1v1h-1zM225.7 252.3h1v1h-1zM179.3 253.8h1v1h-1zM168.5 252.9h1v1h-1zM195.3 259.6h1v1h-1zM192.1 250.6h1v1h-1zM183.9 255.1h1v1h-1zM211.2 249.5h1v1h-1zM190.9 249.7h1v1h-1zM200.6 254.2h1v1h-1zM206.1 258.2h1v1h-1zM170.2 252.2h1v1h-1zM202.5 251.6h1v1h-1zM207.5 245.6h1v1h-1zM198.0 251.2h1v1h-1zM212.0 249.8h1v1h-1zM176.8 249.7h1v1h-1zM169.2 256.2h1v1h-1zM181.4 256.2h1v1h-1zM200.4 254.9h1v1h-1zM177.3 251.6h1v1h-1zM216.8 257.8h1v1h-1zM215.9 257.7h1v1h-1zM209.0 259.5h1v1h-1zM215.0 253.5h1v1h-1zM170.6 251.0h1v1h-1zM196.5 252.0h1v1h-1zM173.6 257.9h1v1h-1zM178.4 251.1h1v1h-1zM173.3 246.4h1v1h-1zM192.4 245.7h1v1h-1zM195.1 253.7h1v1h-1zM188.4 253.6h1v1h-1zM219.2 250.4h1v1h-1zM212.2 248.8h1v1h-1zM224.4 258.0h1v1h-1zM187.8 253.2h1v1h-1zM209.0 259.0h1v1h-1zM210.8 258.5h1v1h-1zM225.9 256.9h1v1h-1zM183.4 255.0h1v1h-1zM195.6 255.2h1v1h-1zM219.3 253.1h1v1h-1zM218.6 251.6h1v1h-1zM173.4 248.5h1v1h-1zM187.4 259.9h1v1h-1zM187.4 249.6h1v1h-1zM210.8 251.4h1v1h-1zM223.0 253.6h1v1h-1zM189.3 251.8h1v1h-1zM203.3 247.3h1v1h-1zM207.0 256.2h1v1h-1zM190.5 255.6h1v1h-1zM210.9 259.6h1v1h-1zM190.1 257.1h1v1h-1zM217.2 248.9h1v1h-1zM176.3 255.0h1v1h-1zM202.6 259.9h1v1h-1zM190.4 253.3h1v1h-1zM220.2 251.8h1v1h-1zM177.7 249.3h1v1h-1zM188.0 259.8h1v1h-1zM210.8 257.8h1v1h-1zM198.5 258.6h1v1h-1zM187.5 257.0h1v1h-1zM176.4 254.3h1v1h-1zM205.4 255.3h1v1h-1zM198.1 251.6h1v1h-1zM220.4 255.8h1v1h-1zM197.3 255.2h1v1h-1zM170.8 257.8h1v1h-1zM222.9 259.6h1v1h-1zM225.1 258.1h1v1h-1zM175.0 250.5h1v1h-1zM180.1 250.9h1v1h-1zM179.8 247.2h1v1h-1zM170.8 256.5h1v1h-1zM184.5 254.4h1v1h-1zM190.7 256.3h1v1h-1zM170.9 248.5h1v1h-1zM203.7 252.4h1v1h-1zM185.6 259.9h1v1h-1zM168.6 259.0h1v1h-1zM170.4 250.5h1v1h-1zM197.5 254.6h1v1h-1zM220.7 250.3h1v1h-1zM218.5 259.1h1v1h-1zM178.6 247.2h1v1h-1zM202.2 253.3h1v1h-1zM204.9 254.2h1v1h-1zM180.4 246.9h1v1h-1zM200.8 246.5h1v1h-1zM210.6 244.8h1v1h-1zM173.7 254.6h1v1h-1zM179.5 255.9h1v1h-1zM188.1 251.2h1v1h-1zM186.6 257.4h1v1h-1zM193.8 258.8h1v1h-1zM169.7 250.2h1v1h-1zM169.4 251.8h1v1h-1zM197.8 256.0h1v1h-1zM174.7 252.2h1v1h-1zM188.2 252.3h1v1h-1zM192.1 255.1h1v1h-1zM194.6 249.9h1v1h-1zM224.4 259.4h1v1h-1zM181.0 256.5h1v1h-1zM206.4 256.5h1v1h-1zM175.1 256.7h1v1h-1zM179.2 248.8h1v1h-1zM220.6 250.0h1v1h-1zM182.2 254.8h1v1h-1zM215.2 256.4h1v1h-1zM216.5 258.8h1v1h-1zM191.6 248.0h1v1h-1zM193.1 259.4h1v1h-1zM185.3 257.0h1v1h-1zM220.7 253.5h1v1h-1zM188.7 246.1h1v1h-1zM180.0 252.8h1v1h-1zM225.5 256.1h1v1h-1zM179.4 256.1h1v1h-1zM210.2 253.5h1v1h-1zM207.8 253.4h1v1h-1zM204.3 254.2h1v1h-1zM172.3 248.0h1v1h-1zM225.9 245.2h1v1h-1zM205.9 252.7h1v1h-1zM198.5 249.3h1v1h-1zM212.8 258.1h1v1h-1zM177.2 254.7h1v1h-1zM180.4 248.7h1v1h-1zM214.8 247.5h1v1h-1zM169.9 251.4h1v1h-1zM179.6 259.7h1v1h-1zM210.3 259.0h1v1h-1zM197.7 257.8h1v1h-1zM184.1 253.7h1v1h-1zM177.7 258.0h1v1h-1zM203.7 258.9h1v1h-1zM214.8 258.9h1v1h-1zM208.6 274.9h1v1h-1zM211.6 252.4h1v1h-1zM187.7 258.4h1v1h-1zM207.5 253.0h1v1h-1zM180.5 258.2h1v1h-1zM217.0 254.5h1v1h-1zM218.8 257.9h1v1h-1zM216.3 245.3h1v1h-1zM187.0 255.6h1v1h-1zM201.0 257.4h1v1h-1zM211.0 259.7h1v1h-1zM222.7 257.4h1v1h-1zM215.5 254.8h1v1h-1zM191.1 252.8h1v1h-1zM169.3 248.7h1v1h-1zM192.6 253.5h1v1h-1zM224.4 254.8h1v1h-1zM215.9 256.9h1v1h-1zM215.0 251.2h1v1h-1zM199.0 256.2h1v1h-1zM200.3 254.3h1v1h-1zM183.7 254.7h1v1h-1zM209.1 247.4h1v1h-1zM221.5 250.5h1v1h-1zM187.9 250.1h1v1h-1zM186.4 258.9h1v1h-1zM191.8 255.8h1v1h-1zM174.2 247.4h1v1h-1zM197.1 255.2h1v1h-1zM220.7 258.2h1v1h-1zM170.3 257.5h1v1h-1zM200.0 251.1h1v1h-1zM176.9 255.6h1v1h-1zM210.3 253.5h1v1h-1zM198.7 256.1h1v1h-1zM205.7 247.2h1v1h-1zM179.9 255.4h1v1h-1zM173.9 252.0h1v1h-1zM210.3 253.1h1v1h-1zM219.5 250.5h1v1h-1zM168.8 258.1h1v1h-1zM172.7 248.1h1v1h-1zM171.3 255.1h1v1h-1zM218.2 257.7h1v1h-1zM216.9 248.1h1v1h-1zM169.1 259.4h1v1h-1zM218.7 259.0h1v1h-1zM184.6 249.4h1v1h-1zM183.9 254.2h1v1h-1zM183.0 257.8h1v1h-1zM196.5 272.8h1v1h-1zM191.0 258.5h1v1h-1zM191.8 250.0h1v1h-1zM204.0 249.5h1v1h-1zM197.3 245.0h1v1h-1zM217.3 248.0h1v1h-1zM196.2 252.4h1v1h-1zM183.1 257.0h1v1h-1zM169.7 256.6h1v1h-1zM181.1 258.4h1v1h-1zM221.6 259.1h1v1h-1zM206.7 252.2h1v1h-1zM212.2 259.1h1v1h-1zM189.3 252.2h1v1h-1zM225.4 256.9h1v1h-1zM170.3 258.7h1v1h-1zM198.9 257.2h1v1h-1zM210.6 257.2h1v1h-1zM179.4 284.9h1v1h-1zM180.5 280.6h1v1h-1zM182.9 273.1h1v1h-1zM172.1 274.3h1v1h-1zM183.1 273.4h1v1h-1zM183.0 275.4h1v1h-1zM172.1 275.0h1v1h-1zM173.9 277.2h1v1h-1zM175.7 286.0h1v1h-1zM168.9 279.7h1v1h-1zM170.5 276.9h1v1h-1zM184.7 277.3h1v1h-1zM177.9 277.7h1v1h-1zM175.2 281.1h1v1h-1zM170.9 280.1h1v1h-1zM171.3 277.3h1v1h-1zM173.9 286.5h1v1h-1zM181.8 273.1h1v1h-1zM182.2 276.7h1v1h-1zM188.7 286.1h1v1h-1zM182.3 283.5h1v1h-1zM170.2 280.9h1v1h-1zM193.3 289.6h1v1h-1zM178.4 256.0h1v1h-1zM183.7 281.0h1v1h-1zM179.9 277.7h1v1h-1zM197.6 272.6h1v1h-1zM186.1 273.9h1v1h-1zM176.8 280.4h1v1h-1zM168.9 274.8h1v1h-1zM177.3 275.8h1v1h-1zM171.1 282.7h1v1h-1zM176.5 281.2h1v1h-1zM190.0 273.6h1v1h-1zM184.3 272.4h1v1h-1zM195.7 276.7h1v1h-1zM168.9 282.2h1v1h-1zM188.8 280.8h1v1h-1zM168.2 278.5h1v1h-1zM173.0 285.5h1v1h-1zM172.0 281.8h1v1h-1zM174.7 274.7h1v1h-1zM172.5 278.7h1v1h-1zM168.0 284.1h1v1h-1zM172.6 283.7h1v1h-1zM170.4 272.3h1v1h-1zM171.4 282.7h1v1h-1zM172.2 277.8h1v1h-1zM175.4 277.0h1v1h-1zM172.1 284.3h1v1h-1zM178.8 290.2h1v1h-1zM178.6 272.9h1v1h-1zM181.3 285.5h1v1h-1zM177.7 272.5h1v1h-1zM176.0 284.3h1v1h-1zM168.5 272.1h1v1h-1zM170.3 274.0h1v1h-1zM179.3 274.6h1v1h-1zM170.6 279.0h1v1h-1zM168.0 279.9h1v1h-1zM170.8 275.4h1v1h-1zM170.8 282.2h1v1h-1zM174.0 273.4h1v1h-1zM173.7 280.7h1v1h-1zM184.6 282.7h1v1h-1zM172.6 281.2h1v1h-1zM178.9 272.1h1v1h-1zM189.3 279.0h1v1h-1zM173.4 282.1h1v1h-1zM195.8 280.0h1v1h-1zM177.1 278.6h1v1h-1zM170.6 273.2h1v1h-1zM183.2 283.3h1v1h-1zM171.2 274.0h1v1h-1zM199.4 279.0h1v1h-1zM178.5 282.0h1v1h-1zM172.6 282.3h1v1h-1zM182.1 281.6h1v1h-1zM184.3 275.0h1v1h-1zM184.3 275.2h1v1h-1zM179.7 277.1h1v1h-1zM172.7 274.7h1v1h-1zM182.1 272.3h1v1h-1zM203.1 272.8h1v1h-1zM198.9 279.7h1v1h-1zM174.2 275.0h1v1h-1zM178.1 289.0h1v1h-1zM180.7 272.5h1v1h-1zM188.1 282.6h1v1h-1zM179.4 274.9h1v1h-1zM186.5 281.6h1v1h-1zM175.1 274.9h1v1h-1zM182.4 278.7h1v1h-1zM177.4 275.7h1v1h-1zM174.3 283.7h1v1h-1zM169.4 281.1h1v1h-1zM169.4 282.6h1v1h-1zM179.2 282.4h1v1h-1zM176.1 273.8h1v1h-1zM188.0 279.8h1v1h-1zM180.9 285.4h1v1h-1zM183.6 279.7h1v1h-1zM176.0 274.5h1v1h-1zM181.0 272.4h1v1h-1zM170.6 275.7h1v1h-1zM176.6 286.2h1v1h-1zM177.8 281.1h1v1h-1zM184.7 280.9h1v1h-1zM173.3 284.8h1v1h-1zM171.4 284.0h1v1h-1zM179.0 274.0h1v1h-1zM173.6 279.2h1v1h-1zM175.6 275.9h1v1h-1zM175.5 281.5h1v1h-1zM168.7 273.4h1v1h-1zM182.3 281.0h1v1h-1zM186.6 275.9h1v1h-1zM181.5 281.3h1v1h-1zM177.2 275.1h1v1h-1zM174.1 279.4h1v1h-1zM173.4 275.9h1v1h-1zM184.4 273.9h1v1h-1zM172.3 282.8h1v1h-1zM179.5 290.0h1v1h-1zM176.7 272.9h1v1h-1zM171.2 276.4h1v1h-1zM168.8 272.0h1v1h-1zM178.4 277.8h1v1h-1zM184.3 286.9h1v1h-1zM178.0 283.9h1v1h-1zM175.5 278.0h1v1h-1zM181.6 275.2h1v1h-1zM187.5 281.7h1v1h-1zM170.2 274.4h1v1h-1zM181.5 285.4h1v1h-1zM169.2 272.1h1v1h-1zM176.6 274.9h1v1h-1zM183.4 285.6h1v1h-1zM172.4 273.2h1v1h-1zM177.3 282.9h1v1h-1zM168.0 279.9h1v1h-1zM183.0 281.9h1v1h-1zM186.9 275.7h1v1h-1zM168.4 275.5h1v1h-1zM176.2 277.2h1v1h-1zM177.0 284.9h1v1h-1zM174.5 276.0h1v1h-1zM172.4 279.0h1v1h-1zM168.4 272.2h1v1h-1zM170.1 286.5h1v1h-1zM182.5 283.3h1v1h-1zM202.7 272.2h1v1h-1zM168.6 284.1h1v1h-1zM174.7 282.0h1v1h-1zM170.1 277.6h1v1h-1zM169.4 283.1h1v1h-1zM177.6 273.8h1v1h-1zM194.8 274.9h1v1h-1zM168.0 279.7h1v1h-1zM177.0 275.5h1v1h-1zM180.0 273.4h1v1h-1zM171.7 276.7h1v1h-1zM177.7 277.4h1v1h-1zM176.5 277.7h1v1h-1zM169.6 279.9h1v1h-1zM180.5 273.4h1v1h-1zM189.1 275.1h1v1h-1zM172.4 280.0h1v1h-1zM170.1 273.3h1v1h-1zM178.2 287.1h1v1h-1zM180.9 284.0h1v1h-1zM168.4 277.7h1v1h-1zM171.6 275.9h1v1h-1zM185.7 280.0h1v1h-1zM172.5 282.5h1v1h-1zM192.8 287.9h1v1h-1zM168.0 274.1h1v1h-1zM169.3 275.5h1v1h-1zM184.7 285.9h1v1h-1zM181.2 279.6h1v1h-1zM179.5 283.6h1v1h-1zM169.3 276.5h1v1h-1zM178.0 279.9h1v1h-1zM186.1 281.4h1v1h-1zM173.8 273.1h1v1h-1zM170.0 275.7h1v1h-1zM174.6 279.0h1v1h-1zM173.5 273.0h1v1h-1zM167.8 275.6h1v1h-1zM176.1 279.7h1v1h-1zM170.4 288.2h1v1h-1zM167.5 279.5h1v1h-1zM182.3 274.9h1v1h-1zM183.7 276.5h1v1h-1zM183.4 278.3h1v1h-1zM199.5 273.7h1v1h-1zM169.6 275.3h1v1h-1zM173.4 289.1h1v1h-1zM174.7 274.3h1v1h-1zM186.7 277.7h1v1h-1zM197.9 283.1h1v1h-1zM193.9 278.8h1v1h-1zM172.7 272.5h1v1h-1zM180.2 273.2h1v1h-1zM185.2 272.6h1v1h-1zM181.8 280.9h1v1h-1zM205.1 275.0h1v1h-1zM182.5 275.0h1v1h-1zM180.1 280.6h1v1h-1zM176.4 290.7h1v1h-1zM170.2 258.1h1v1h-1zM173.0 281.1h1v1h-1zM178.2 286.1h1v1h-1zM176.6 286.0h1v1h-1zM186.6 277.2h1v1h-1zM171.4 282.2h1v1h-1zM190.9 279.5h1v1h-1zM179.7 284.8h1v1h-1zM194.7 283.1h1v1h-1zM171.7 284.8h1v1h-1zM168.4 273.6h1v1h-1zM190.3 275.7h1v1h-1zM170.9 279.3h1v1h-1zM183.0 285.8h1v1h-1zM170.7 281.5h1v1h-1zM191.7 275.2h1v1h-1zM196.5 288.1h1v1h-1zM189.7 279.6h1v1h-1zM188.5 273.9h1v1h-1zM200.5 285.7h1v1h-1zM182.1 284.5h1v1h-1zM179.3 278.4h1v1h-1zM183.5 273.9h1v1h-1zM169.0 288.6h1v1h-1zM177.6 277.2h1v1h-1zM176.7 279.1h1v1h-1zM169.3 280.2h1v1h-1zM170.5 276.0h1v1h-1zM174.9 279.8h1v1h-1zM178.9 276.4h1v1h-1zM175.9 283.2h1v1h-1zM176.1 280.2h1v1h-1zM168.5 278.1h1v1h-1zM190.9 278.8h1v1h-1zM176.7 278.7h1v1h-1zM169.1 275.3h1v1h-1zM174.7 278.7h1v1h-1zM184.8 280.7h1v1h-1zM168.9 281.5h1v1h-1zM177.9 275.0h1v1h-1zM183.9 275.5h1v1h-1zM211.5 277.4h1v1h-1zM179.6 254.7h1v1h-1zM174.3 273.5h1v1h-1zM175.1 279.0h1v1h-1zM172.6 290.3h1v1h-1zM174.8 280.0h1v1h-1zM172.0 282.0h1v1h-1zM207.0 276.4h1v1h-1zM169.3 281.5h1v1h-1zM176.3 280.4h1v1h-1zM174.0 280.6h1v1h-1zM182.2 280.3h1v1h-1zM173.8 277.1h1v1h-1zM168.4 275.1h1v1h-1zM197.5 285.0h1v1h-1zM184.8 276.4h1v1h-1zM182.7 278.1h1v1h-1zM195.4 288.9h1v1h-1zM167.6 288.1h1v1h-1zM167.8 283.1h1v1h-1zM178.5 283.8h1v1h-1zM188.5 290.7h1v1h-1zM180.7 274.0h1v1h-1zM170.8 283.7h1v1h-1zM178.8 272.1h1v1h-1zM189.8 286.4h1v1h-1zM172.3 275.7h1v1h-1zM178.1 287.2h1v1h-1zM178.5 276.9h1v1h-1zM194.7 278.0h1v1h-1zM175.5 281.0h1v1h-1zM180.9 277.4h1v1h-1zM167.5 275.2h1v1h-1zM169.0 281.4h1v1h-1zM194.0 286.9h1v1h-1zM169.2 285.7h1v1h-1zM168.1 273.6h1v1h-1zM170.3 276.4h1v1h-1zM177.8 272.1h1v1h-1zM174.0 272.3h1v1h-1zM171.2 279.9h1v1h-1zM171.3 276.8h1v1h-1zM168.1 272.2h1v1h-1zM173.6 272.3h1v1h-1zM180.5 284.3h1v1h-1zM192.0 259.5h1v1h-1zM180.2 281.7h1v1h-1zM186.1 285.9h1v1h-1zM175.6 281.8h1v1h-1zM178.8 284.6h1v1h-1zM172.1 283.6h1v1h-1zM172.3 282.9h1v1h-1zM175.8 283.4h1v1h-1zM171.0 280.5h1v1h-1zM172.8 284.5h1v1h-1zM195.4 281.1h1v1h-1zM175.4 281.1h1v1h-1zM172.7 276.8h1v1h-1zM175.3 272.9h1v1h-1zM168.5 259.8h1v1h-1zM169.5 288.1h1v1h-1zM189.0 289.4h1v1h-1zM181.7 279.2h1v1h-1zM172.6 280.8h1v1h-1zM175.1 279.0h1v1h-1zM180.1 286.3h1v1h-1zM168.8 276.8h1v1h-1zM193.2 279.7h1v1h-1zM172.1 273.3h1v1h-1zM176.2 287.0h1v1h-1zM172.7 287.5h1v1h-1zM176.8 272.0h1v1h-1zM190.3 284.3h1v1h-1zM172.4 273.9h1v1h-1zM178.9 281.5h1v1h-1zM202.7 284.5h1v1h-1zM185.6 280.0h1v1h-1zM168.7 273.2h1v1h-1zM174.8 275.9h1v1h-1zM181.9 285.6h1v1h-1zM177.2 279.2h1v1h-1zM168.7 289.4h1v1h-1zM168.2 276.9h1v1h-1zM180.4 284.7h1v1h-1zM172.4 274.6h1v1h-1zM180.6 278.9h1v1h-1zM177.8 281.6h1v1h-1zM188.2 282.9h1v1h-1zM188.7 278.3h1v1h-1zM171.7 284.7h1v1h-1zM172.2 279.5h1v1h-1zM174.9 276.5h1v1h-1zM175.6 273.3h1v1h-1zM172.7 277.9h1v1h-1zM180.9 273.7h1v1h-1zM199.7 288.3h1v1h-1zM170.4 284.3h1v1h-1zM173.3 273.2h1v1h-1zM177.7 277.0h1v1h-1zM168.8 290.5h1v1h-1zM168.8 276.3h1v1h-1zM172.3 274.8h1v1h-1zM173.9 272.6h1v1h-1zM174.4 288.8h1v1h-1zM179.3 278.5h1v1h-1zM190.1 274.6h1v1h-1zM178.8 255.5h1v1h-1zM184.4 280.9h1v1h-1zM177.1 279.4h1v1h-1zM169.1 277.3h1v1h-1zM174.4 278.2h1v1h-1z"/>
<path fill="#ee7a68" d="M169.1 273.2h1v1h-1zM177.9 277.8h1v1h-1zM182.1 273.5h1v1h-1zM175.5 252.7h1v1h-1zM179.4 273.7h1v1h-1zM219.8 255.7h1v1h-1zM191.7 257.0h1v1h-1zM220.3 259.8h1v1h-1zM193.7 274.0h1v1h-1zM171.9 259.1h1v1h-1zM181.1 251.6h1v1h-1zM222.0 259.2h1v1h-1zM178.7 273.1h1v1h-1zM187.8 275.3h1v1h-1zM170.3 273.3h1v1h-1zM210.2 273.5h1v1h-1zM202.3 272.9h1v1h-1zM223.2 253.1h1v1h-1zM213.9 259.8h1v1h-1zM184.0 274.8h1v1h-1zM174.9 278.3h1v1h-1zM198.7 272.2h1v1h-1zM202.4 273.0h1v1h-1zM175.3 274.1h1v1h-1zM211.2 272.0h1v1h-1zM168.5 258.9h1v1h-1zM192.5 275.7h1v1h-1zM172.1 273.7h1v1h-1zM197.7 275.1h1v1h-1zM190.3 256.6h1v1h-1zM195.8 259.4h1v1h-1zM222.4 272.0h1v1h-1zM223.9 272.7h1v1h-1zM184.9 276.6h1v1h-1zM205.2 272.9h1v1h-1zM225.3 279.0h1v1h-1zM190.1 273.4h1v1h-1zM172.9 259.9h1v1h-1zM207.3 272.4h1v1h-1zM214.6 251.4h1v1h-1zM222.1 259.4h1v1h-1zM222.9 252.6h1v1h-1zM219.8 257.5h1v1h-1zM218.8 272.9h1v1h-1zM175.9 272.3h1v1h-1zM213.1 256.4h1v1h-1zM174.7 276.2h1v1h-1zM180.9 259.7h1v1h-1zM213.3 253.7h1v1h-1zM201.4 259.8h1v1h-1zM195.2 274.1h1v1h-1zM197.3 272.3h1v1h-1zM205.6 278.9h1v1h-1zM204.2 254.3h1v1h-1zM215.9 275.3h1v1h-1zM209.8 253.7h1v1h-1zM179.3 257.1h1v1h-1zM169.4 258.9h1v1h-1zM216.5 274.4h1v1h-1zM200.2 254.3h1v1h-1zM225.1 255.3h1v1h-1zM226.0 274.7h1v1h-1zM172.4 258.6h1v1h-1zM207.5 255.9h1v1h-1zM169.5 258.0h1v1h-1zM168.7 274.8h1v1h-1zM188.1 259.0h1v1h-1zM194.4 274.2h1v1h-1zM198.9 257.8h1v1h-1zM193.5 273.0h1v1h-1zM190.9 277.8h1v1h-1zM180.0 272.7h1v1h-1zM180.2 257.3h1v1h-1zM185.7 272.2h1v1h-1zM175.4 273.3h1v1h-1zM224.0 274.1h1v1h-1zM188.0 257.7h1v1h-1zM214.3 256.8h1v1h-1zM171.2 272.5h1v1h-1zM214.2 275.7h1v1h-1zM209.3 273.8h1v1h-1zM222.2 249.8h1v1h-1zM194.6 274.5h1v1h-1zM189.8 257.6h1v1h-1zM171.1 259.8h1v1h-1zM205.5 272.6h1v1h-1zM173.1 259.3h1v1h-1zM188.0 273.6h1v1h-1zM174.9 277.8h1v1h-1zM214.3 254.7h1v1h-1zM206.5 275.2h1v1h-1zM191.5 254.5h1v1h-1zM208.8 259.0h1v1h-1zM188.6 255.2h1v1h-1zM204.0 273.6h1v1h-1zM223.4 273.1h1v1h-1zM174.9 272.8h1v1h-1zM200.3 272.9h1v1h-1zM177.6 259.8h1v1h-1zM167.7 257.0h1v1h-1zM173.2 259.9h1v1h-1zM180.5 275.7h1v1h-1zM181.2 259.0h1v1h-1zM204.0 258.9h1v1h-1zM177.0 259.4h1v1h-1zM189.5 259.4h1v1h-1zM209.5 259.2h1v1h-1zM216.1 256.6h1v1h-1zM213.7 272.3h1v1h-1zM193.1 252.7h1v1h-1zM225.2 256.9h1v1h-1zM211.6 272.7h1v1h-1zM195.2 257.7h1v1h-1zM168.5 276.4h1v1h-1zM196.4 259.5h1v1h-1zM173.6 258.4h1v1h-1zM188.9 272.2h1v1h-1zM202.4 272.5h1v1h-1zM219.6 258.8h1v1h-1zM174.0 257.3h1v1h-1zM196.0 258.0h1v1h-1zM178.0 257.1h1v1h-1zM170.1 257.5h1v1h-1zM191.0 272.6h1v1h-1zM191.4 273.9h1v1h-1zM219.0 273.7h1v1h-1zM177.9 273.6h1v1h-1zM210.3 274.1h1v1h-1zM192.4 272.0h1v1h-1zM219.3 256.3h1v1h-1zM182.0 258.4h1v1h-1zM222.2 257.9h1v1h-1zM192.7 272.1h1v1h-1zM183.7 259.8h1v1h-1zM208.4 275.8h1v1h-1zM179.7 272.9h1v1h-1zM216.0 259.8h1v1h-1zM183.1 258.1h1v1h-1zM198.0 256.6h1v1h-1zM201.9 258.3h1v1h-1zM198.4 259.6h1v1h-1zM170.3 272.7h1v1h-1zM171.7 258.4h1v1h-1zM203.0 257.1h1v1h-1zM184.1 272.6h1v1h-1zM190.3 277.1h1v1h-1zM202.9 274.4h1v1h-1zM219.5 259.9h1v1h-1zM169.1 275.4h1v1h-1zM220.7 258.1h1v1h-1zM216.5 258.4h1v1h-1zM223.6 259.2h1v1h-1zM198.6 258.3h1v1h-1zM192.4 258.4h1v1h-1zM184.9 259.6h1v1h-1zM184.9 272.9h1v1h-1zM171.5 274.1h1v1h-1zM208.8 258.6h1v1h-1zM187.1 274.0h1v1h-1zM192.0 272.5h1v1h-1zM177.6 272.5h1v1h-1zM188.8 275.2h1v1h-1zM183.3 257.7h1v1h-1zM189.0 276.8h1v1h-1zM185.7 259.8h1v1h-1zM191.9 272.2h1v1h-1zM212.7 258.9h1v1h-1zM167.9 259.5h1v1h-1zM198.7 273.7h1v1h-1zM196.0 256.2h1v1h-1zM170.4 274.6h1v1h-1zM212.0 276.5h1v1h-1zM220.7 272.0h1v1h-1zM210.4 272.6h1v1h-1zM168.4 274.6h1v1h-1zM205.6 255.3h1v1h-1zM196.2 272.8h1v1h-1zM182.9 259.3h1v1h-1zM208.9 257.6h1v1h-1zM202.8 251.7h1v1h-1zM200.5 274.9h1v1h-1zM222.6 255.2h1v1h-1zM169.9 272.5h1v1h-1zM216.8 272.5h1v1h-1zM198.2 273.9h1v1h-1zM180.0 273.8h1v1h-1zM179.9 254.0h1v1h-1zM177.7 258.5h1v1h-1zM212.2 273.4h1v1h-1zM224.1 281.1h1v1h-1zM174.6 274.3h1v1h-1zM193.7 272.0h1v1h-1zM194.9 258.8h1v1h-1zM204.0 252.8h1v1h-1zM199.9 259.4h1v1h-1zM173.2 259.0h1v1h-1zM217.1 259.6h1v1h-1zM185.2 274.7h1v1h-1zM217.6 256.3h1v1h-1zM175.2 274.9h1v1h-1zM177.6 258.4h1v1h-1zM174.1 272.7h1v1h-1zM174.4 273.5h1v1h-1zM192.0 272.1h1v1h-1zM187.6 249.4h1v1h-1zM211.7 256.7h1v1h-1zM171.3 249.8h1v1h-1zM192.4 248.5h1v1h-1zM200.2 272.4h1v1h-1zM199.7 256.5h1v1h-1zM198.9 249.6h1v1h-1zM223.7 253.5h1v1h-1zM219.3 253.2h1v1h-1zM171.9 244.7h1v1h-1zM188.6 256.3h1v1h-1zM174.5 249.8h1v1h-1zM169.0 256.6h1v1h-1zM200.1 257.4h1v1h-1zM214.1 245.4h1v1h-1zM220.2 259.5h1v1h-1zM215.7 253.1h1v1h-1zM187.8 247.0h1v1h-1zM193.1 260.0h1v1h-1zM224.7 250.5h1v1h-1zM202.0 253.3h1v1h-1zM188.6 246.4h1v1h-1zM198.6 259.4h1v1h-1zM177.0 250.0h1v1h-1zM183.3 258.0h1v1h-1zM171.6 259.0h1v1h-1zM193.6 254.2h1v1h-1zM184.9 258.3h1v1h-1zM189.3 247.5h1v1h-1zM223.7 256.9h1v1h-1zM204.1 259.6h1v1h-1zM200.7 246.6h1v1h-1zM169.7 251.8h1v1h-1zM183.9 253.9h1v1h-1zM169.6 248.4h1v1h-1zM221.6 244.9h1v1h-1zM216.4 257.4h1v1h-1zM197.1 248.5h1v1h-1zM194.1 258.4h1v1h-1zM172.3 257.2h1v1h-1zM220.5 252.3h1v1h-1zM170.7 257.9h1v1h-1zM169.4 258.4h1v1h-1zM224.6 256.6h1v1h-1zM208.9 254.6h1v1h-1zM188.0 252.1h1v1h-1zM205.5 254.4h1v1h-1zM188.5 255.5h1v1h-1zM189.0 251.9h1v1h-1zM198.5 254.7h1v1h-1zM178.6 259.6h1v1h-1zM210.8 253.6h1v1h-1zM215.6 254.9h1v1h-1zM215.1 249.2h1v1h-1zM192.3 249.8h1v1h-1zM189.2 259.7h1v1h-1zM193.1 250.4h1v1h-1zM180.5 259.6h1v1h-1zM184.7 249.2h1v1h-1zM189.1 252.3h1v1h-1zM196.8 245.3h1v1h-1zM208.1 244.9h1v1h-1zM172.8 255.4h1v1h-1zM174.0 253.4h1v1h-1zM191.3 250.1h1v1h-1zM177.8 251.0h1v1h-1zM205.0 246.1h1v1h-1zM184.2 247.7h1v1h-1zM194.3 259.6h1v1h-1zM215.7 252.4h1v1h-1zM187.2 259.6h1v1h-1zM205.7 259.1h1v1h-1zM182.6 254.3h1v1h-1zM204.0 250.0h1v1h-1zM200.2 246.3h1v1h-1zM212.1 249.1h1v1h-1zM180.9 258.3h1v1h-1zM187.4 258.2h1v1h-1zM216.4 252.8h1v1h-1zM187.0 256.8h1v1h-1zM176.2 255.7h1v1h-1zM170.8 256.7h1v1h-1zM197.0 254.5h1v1h-1zM198.0 255.0h1v1h-1zM218.4 258.9h1v1h-1zM182.9 249.0h1v1h-1zM176.3 257.7h1v1h-1zM218.1 254.6h1v1h-1zM205.2 250.1h1v1h-1zM218.2 249.5h1v1h-1zM213.4 256.7h1v1h-1zM175.4 258.8h1v1h-1zM186.2 249.8h1v1h-1zM225.4 245.6h1v1h-1zM174.9 260.0h1v1h-1zM222.8 251.1h1v1h-1zM215.7 250.9h1v1h-1zM170.9 251.3h1v1h-1zM180.0 257.2h1v1h-1zM213.6 255.4h1v1h-1zM179.0 253.7h1v1h-1zM192.0 248.4h1v1h-1zM189.1 259.1h1v1h-1zM186.1 256.7h1v1h-1zM172.7 249.8h1v1h-1zM215.2 258.9h1v1h-1zM178.8 249.8h1v1h-1zM205.0 259.9h1v1h-1zM183.3 251.7h1v1h-1zM185.1 272.9h1v1h-1zM213.6 258.2h1v1h-1zM193.9 255.8h1v1h-1zM198.3 258.8h1v1h-1zM216.3 248.5h1v1h-1zM199.3 258.8h1v1h-1zM187.7 254.0h1v1h-1zM177.2 255.8h1v1h-1zM191.5 258.7h1v1h-1zM198.6 258.4h1v1h-1zM173.6 252.7h1v1h-1zM214.7 259.7h1v1h-1zM202.5 253.3h1v1h-1zM214.5 250.8h1v1h-1zM193.8 257.2h1v1h-1zM178.3 256.3h1v1h-1zM201.9 259.7h1v1h-1zM184.3 251.2h1v1h-1zM189.9 250.4h1v1h-1zM211.8 251.7h1v1h-1zM171.3 258.4h1v1h-1zM215.0 245.8h1v1h-1zM211.3 249.0h1v1h-1zM211.6 256.4h1v1h-1zM196.8 253.4h1v1h-1zM225.0 251.4h1v1h-1zM189.0 248.6h1v1h-1zM185.1 257.0h1v1h-1zM190.2 256.3h1v1h-1zM225.2 254.8h1v1h-1zM224.3 254.6h1v1h-1zM175.0 258.5h1v1h-1zM171.6 258.2h1v1h-1zM203.3 251.0h1v1h-1zM190.0 254.1h1v1h-1zM194.0 259.7h1v1h-1zM182.0 259.8h1v1h-1zM185.5 255.6h1v1h-1zM169.4 249.9h1v1h-1zM178.2 253.8h1v1h-1zM173.6 252.1h1v1h-1zM183.5 251.4h1v1h-1zM219.0 253.5h1v1h-1zM171.8 246.6h1v1h-1zM183.7 258.0h1v1h-1zM168.7 252.4h1v1h-1zM168.6 257.0h1v1h-1zM196.9 250.0h1v1h-1zM212.2 257.6h1v1h-1zM180.5 251.6h1v1h-1zM187.4 256.9h1v1h-1zM195.6 258.7h1v1h-1zM199.4 257.6h1v1h-1zM194.2 248.6h1v1h-1zM189.5 254.8h1v1h-1zM182.1 253.2h1v1h-1zM177.0 246.1h1v1h-1zM219.2 251.8h1v1h-1zM210.2 253.5h1v1h-1zM168.7 255.8h1v1h-1zM220.3 251.4h1v1h-1zM197.2 256.0h1v1h-1zM207.0 247.3h1v1h-1zM193.0 252.0h1v1h-1zM201.8 256.3h1v1h-1zM221.4 257.4h1v1h-1zM186.3 259.6h1v1h-1zM173.7 259.3h1v1h-1zM173.1 258.0h1v1h-1zM216.2 258.4h1v1h-1zM197.6 251.8h1v1h-1zM198.9 249.3h1v1h-1zM177.6 258.5h1v1h-1zM194.4 256.5h1v1h-1zM203.7 254.5h1v1h-1zM223.9 255.4h1v1h-1zM182.5 254.4h1v1h-1zM180.0 244.6h1v1h-1zM188.8 256.0h1v1h-1zM170.9 258.4h1v1h-1zM216.3 250.7h1v1h-1zM204.6 257.3h1v1h-1zM181.6 252.2h1v1h-1zM192.0 249.1h1v1h-1zM222.8 259.8h1v1h-1zM196.6 247.5h1v1h-1zM169.7 259.2h1v1h-1zM213.3 256.2h1v1h-1zM181.5 255.1h1v1h-1zM196.6 251.6h1v1h-1zM177.7 256.6h1v1h-1zM220.4 250.5h1v1h-1zM222.4 248.7h1v1h-1zM199.5 257.6h1v1h-1zM203.4 250.2h1v1h-1zM197.3 255.4h1v1h-1zM176.8 253.2h1v1h-1zM186.9 253.8h1v1h-1zM216.2 255.7h1v1h-1zM172.7 251.1h1v1h-1zM190.0 254.5h1v1h-1zM179.1 251.4h1v1h-1zM224.1 251.7h1v1h-1zM176.6 254.0h1v1h-1zM206.3 255.5h1v1h-1zM205.9 252.4h1v1h-1zM196.6 258.7h1v1h-1zM207.4 250.9h1v1h-1zM209.5 255.1h1v1h-1zM212.3 247.0h1v1h-1zM174.7 258.5h1v1h-1zM188.2 252.5h1v1h-1zM224.8 247.6h1v1h-1zM206.3 257.3h1v1h-1zM213.8 252.0h1v1h-1zM191.1 257.3h1v1h-1zM171.6 259.0h1v1h-1zM220.6 247.5h1v1h-1zM178.4 258.2h1v1h-1zM176.2 258.0h1v1h-1zM218.3 258.7h1v1h-1zM215.9 251.8h1v1h-1zM180.3 258.4h1v1h-1zM181.9 253.1h1v1h-1zM206.8 251.7h1v1h-1zM214.5 246.7h1v1h-1zM176.9 255.3h1v1h-1zM194.0 245.3h1v1h-1zM173.2 256.7h1v1h-1zM203.6 288.6h1v1h-1zM182.0 287.3h1v1h-1zM186.8 275.4h1v1h-1zM190.0 279.4h1v1h-1zM204.9 284.8h1v1h-1zM188.5 274.6h1v1h-1zM194.6 280.3h1v1h-1zM173.7 279.0h1v1h-1zM176.4 274.5h1v1h-1zM176.6 280.7h1v1h-1zM177.6 279.2h1v1h-1zM180.6 288.2h1v1h-1zM170.1 282.2h1v1h-1zM168.1 279.2h1v1h-1zM175.8 282.0h1v1h-1zM179.0 272.4h1v1h-1zM177.5 281.0h1v1h-1zM183.9 284.7h1v1h-1zM170.7 279.8h1v1h-1zM178.3 279.8h1v1h-1zM171.5 282.8h1v1h-1zM183.6 277.6h1v1h-1zM172.4 281.4h1v1h-1zM181.4 286.6h1v1h-1zM177.3 277.2h1v1h-1zM174.9 275.0h1v1h-1zM168.2 285.1h1v1h-1zM187.5 272.8h1v1h-1zM178.5 278.1h1v1h-1zM178.9 279.4h1v1h-1zM200.0 272.9h1v1h-1zM180.0 281.5h1v1h-1zM172.8 275.0h1v1h-1zM188.2 278.2h1v1h-1zM188.3 275.4h1v1h-1zM167.9 279.8h1v1h-1zM177.9 282.1h1v1h-1zM175.3 275.7h1v1h-1zM167.9 281.6h1v1h-1zM173.5 272.5h1v1h-1zM170.5 280.9h1v1h-1zM182.8 274.8h1v1h-1zM183.5 289.3h1v1h-1zM167.5 274.7h1v1h-1zM173.0 279.5h1v1h-1zM176.3 284.9h1v1h-1zM177.8 281.2h1v1h-1zM184.3 272.2h1v1h-1zM170.6 283.0h1v1h-1zM172.3 285.5h1v1h-1zM183.4 275.4h1v1h-1zM169.5 288.7h1v1h-1zM183.3 275.5h1v1h-1zM167.9 273.5h1v1h-1zM178.9 280.2h1v1h-1zM171.9 274.9h1v1h-1zM184.0 275.0h1v1h-1zM171.4 289.7h1v1h-1zM177.7 278.3h1v1h-1zM190.1 287.0h1v1h-1zM192.5 288.8h1v1h-1zM173.3 287.0h1v1h-1zM180.7 274.7h1v1h-1zM193.1 276.8h1v1h-1zM187.3 279.9h1v1h-1zM178.9 273.0h1v1h-1zM181.0 279.4h1v1h-1zM176.3 276.9h1v1h-1zM175.8 276.8h1v1h-1zM170.9 274.3h1v1h-1zM170.2 286.9h1v1h-1zM185.7 276.1h1v1h-1zM188.9 273.2h1v1h-1zM173.4 281.8h1v1h-1zM173.2 280.1h1v1h-1zM178.6 283.4h1v1h-1zM171.5 284.6h1v1h-1zM175.9 288.8h1v1h-1zM173.2 272.4h1v1h-1zM172.2 282.0h1v1h-1zM175.4 275.5h1v1h-1zM173.6 288.0h1v1h-1zM170.5 281.6h1v1h-1zM171.9 276.4h1v1h-1zM173.2 278.9h1v1h-1zM170.3 281.9h1v1h-1zM167.6 272.1h1v1h-1zM184.5 273.6h1v1h-1zM172.9 278.5h1v1h-1zM198.5 280.5h1v1h-1zM177.1 277.6h1v1h-1zM172.0 286.9h1v1h-1zM168.3 284.8h1v1h-1zM190.8 288.6h1v1h-1zM171.3 272.3h1v1h-1zM174.4 285.3h1v1h-1zM206.6 281.0h1v1h-1zM184.6 281.5h1v1h-1zM170.8 278.8h1v1h-1zM179.9 279.1h1v1h-1zM178.0 272.7h1v1h-1zM175.3 283.4h1v1h-1zM176.0 282.0h1v1h-1zM172.9 275.9h1v1h-1zM174.8 273.8h1v1h-1zM172.4 280.0h1v1h-1zM173.8 272.3h1v1h-1zM182.0 290.8h1v1h-1zM172.2 282.9h1v1h-1zM173.6 289.6h1v1h-1zM170.0 282.9h1v1h-1zM180.0 279.9h1v1h-1zM181.3 280.2h1v1h-1zM186.3 281.5h1v1h-1zM186.0 280.4h1v1h-1zM172.2 276.9h1v1h-1zM176.3 286.2h1v1h-1zM181.9 278.9h1v1h-1zM171.9 285.2h1v1h-1zM172.5 275.5h1v1h-1zM191.8 277.1h1v1h-1zM189.9 285.7h1v1h-1zM168.9 277.3h1v1h-1zM168.4 279.4h1v1h-1zM192.4 281.8h1v1h-1zM177.7 277.6h1v1h-1zM192.1 278.2h1v1h-1zM202.4 285.1h1v1h-1zM167.9 276.4h1v1h-1zM179.8 276.2h1v1h-1zM194.6 279.0h1v1h-1zM170.1 280.5h1v1h-1zM168.3 275.8h1v1h-1zM192.4 277.0h1v1h-1zM190.9 272.8h1v1h-1zM186.7 273.0h1v1h-1zM184.7 276.6h1v1h-1zM189.9 283.3h1v1h-1zM189.0 282.3h1v1h-1zM175.8 276.7h1v1h-1zM196.2 273.4h1v1h-1zM172.7 276.9h1v1h-1zM190.6 287.0h1v1h-1zM176.0 284.4h1v1h-1zM189.8 272.1h1v1h-1zM183.9 285.2h1v1h-1zM169.7 288.8h1v1h-1zM171.8 286.9h1v1h-1zM168.3 279.4h1v1h-1zM184.2 272.7h1v1h-1zM168.0 285.9h1v1h-1zM189.9 278.9h1v1h-1zM186.6 286.2h1v1h-1zM173.2 276.0h1v1h-1zM176.4 281.7h1v1h-1zM183.5 276.9h1v1h-1zM178.2 274.9h1v1h-1zM175.0 278.8h1v1h-1zM187.7 282.2h1v1h-1zM171.4 282.0h1v1h-1zM187.5 281.3h1v1h-1zM177.0 277.4h1v1h-1zM191.0 272.8h1v1h-1zM172.3 284.5h1v1h-1zM174.8 275.1h1v1h-1zM171.9 282.3h1v1h-1zM181.5 285.5h1v1h-1zM170.6 280.4h1v1h-1zM189.2 290.3h1v1h-1zM190.6 278.2h1v1h-1zM172.2 282.6h1v1h-1zM170.5 274.1h1v1h-1zM171.1 273.2h1v1h-1zM170.1 277.7h1v1h-1zM171.6 275.3h1v1h-1zM183.3 281.8h1v1h-1zM170.4 275.2h1v1h-1zM169.4 275.7h1v1h-1zM178.8 278.3h1v1h-1zM196.2 281.6h1v1h-1zM176.4 273.7h1v1h-1zM175.7 285.0h1v1h-1zM177.1 275.9h1v1h-1zM171.2 278.8h1v1h-1zM169.7 279.0h1v1h-1zM199.8 256.4h1v1h-1zM189.4 286.1h1v1h-1zM187.2 273.8h1v1h-1zM172.3 290.3h1v1h-1zM168.0 285.1h1v1h-1zM199.0 274.4h1v1h-1zM187.7 272.4h1v1h-1zM183.5 283.7h1v1h-1zM196.7 283.3h1v1h-1zM172.9 275.8h1v1h-1zM185.1 281.5h1v1h-1zM169.1 279.3h1v1h-1zM169.9 286.4h1v1h-1zM168.1 280.3h1v1h-1zM172.6 280.3h1v1h-1zM169.5 281.1h1v1h-1zM193.1 280.4h1v1h-1zM183.7 281.2h1v1h-1zM176.2 281.2h1v1h-1zM176.2 279.3h1v1h-1zM174.6 272.2h1v1h-1zM171.1 279.3h1v1h-1zM167.6 275.6h1v1h-1zM175.9 281.4h1v1h-1zM182.0 281.0h1v1h-1zM175.3 274.9h1v1h-1zM184.4 288.7h1v1h-1zM190.8 272.2h1v1h-1zM169.4 274.1h1v1h-1zM186.3 281.9h1v1h-1zM179.3 280.5h1v1h-1zM181.2 284.0h1v1h-1zM169.0 276.4h1v1h-1zM183.6 276.3h1v1h-1zM173.4 280.1h1v1h-1zM177.0 277.1h1v1h-1zM171.5 276.7h1v1h-1zM183.5 254.6h1v1h-1zM167.8 272.6h1v1h-1zM188.9 279.0h1v1h-1zM176.3 272.6h1v1h-1zM197.4 276.0h1v1h-1zM168.3 275.3h1v1h-1zM172.0 274.5h1v1h-1zM177.7 259.5h1v1h-1zM184.9 276.3h1v1h-1zM173.3 277.2h1v1h-1zM169.3 274.0h1v1h-1zM169.1 272.7h1v1h-1zM186.3 274.4h1v1h-1zM169.1 285.2h1v1h-1zM181.4 278.7h1v1h-1zM171.2 282.1h1v1h-1zM175.4 280.3h1v1h-1zM193.6 287.8h1v1h-1zM178.8 281.6h1v1h-1zM171.0 280.6h1v1h-1zM181.0 258.4h1v1h-1zM184.0 286.6h1v1h-1zM178.7 285.2h1v1h-1z"/>
<rect x="156.5" y="222.5" width="79" height="79" fill="none" stroke="#2a2a2a" stroke-width="1"/>
<rect x="160.5" y="222.5" width="72" height="77" fill="none" stroke="#29a8e0" stroke-width="1.2"/>
<line x1="160.8" y1="261.5" x2="235.4" y2="261.5" stroke="#29a8e0" stroke-width="1.3"/>
<line x1="160.8" y1="271.5" x2="235.4" y2="271.5" stroke="#29a8e0" stroke-width="1.3"/>
<text x="163.3" y="232.6" font-size="7" stroke="#1c1c1c" stroke-width="0.22">26.9%</text>
<text x="163.3" y="270.2" font-size="7" stroke="#1c1c1c" stroke-width="0.22">54.4%</text>
<text x="163.3" y="297" font-size="7" stroke="#1c1c1c" stroke-width="0.22">17.6%</text>
<text x="227.3" y="249.4" font-size="7.2" text-anchor="end" stroke="#1c1c1c" stroke-width="0.22">High</text>
<text x="227.3" y="270.2" font-size="7.2" text-anchor="end" stroke="#1c1c1c" stroke-width="0.22">Pos.</text>
<text x="227.3" y="291" font-size="7.2" text-anchor="end" stroke="#1c1c1c" stroke-width="0.22">Neg.</text>
<text x="154.2" y="226.3" font-size="6" text-anchor="end" stroke="#1c1c1c" stroke-width="0.22">10<tspan font-size="3.72" dy="-2.3">4</tspan></text>
<text x="154.2" y="246.2" font-size="6" text-anchor="end" stroke="#1c1c1c" stroke-width="0.22">10<tspan font-size="3.72" dy="-2.3">3</tspan></text>
<text x="154.2" y="265.4" font-size="6" text-anchor="end" stroke="#1c1c1c" stroke-width="0.22">10<tspan font-size="3.72" dy="-2.3">2</tspan></text>
<text x="154.2" y="284.8" font-size="6" text-anchor="end" stroke="#1c1c1c" stroke-width="0.22">10<tspan font-size="3.72" dy="-2.3">1</tspan></text>
<text x="154.2" y="303.7" font-size="6" text-anchor="end" stroke="#1c1c1c" stroke-width="0.22">10<tspan font-size="3.72" dy="-2.3">0</tspan></text>
<text x="156.3" y="311.2" font-size="6.4" text-anchor="middle" stroke="#1c1c1c" stroke-width="0.22">0</text>
<text x="177.1" y="311.2" font-size="6.4" text-anchor="middle" stroke="#1c1c1c" stroke-width="0.22">64</text>
<text x="196.4" y="311.2" font-size="6.4" text-anchor="middle" stroke="#1c1c1c" stroke-width="0.22">128</text>
<text x="216.2" y="311.2" font-size="6.4" text-anchor="middle" stroke="#1c1c1c" stroke-width="0.22">192</text>
<text x="235" y="311.2" font-size="6.4" text-anchor="middle" stroke="#1c1c1c" stroke-width="0.22">256</text>
<text x="196.4" y="321.8" font-size="9.8" text-anchor="middle" stroke="#1c1c1c" stroke-width="0.22">FSC</text>
<text transform="translate(143.5 262.5) rotate(-90)" font-size="9.6" text-anchor="middle" stroke="#1c1c1c" stroke-width="0.22">PKH-26</text>
<path fill="#dc3428" d="M299.4 280.9h1v1h-1zM287.4 285.9h1v1h-1zM287.2 280.4h1v1h-1zM289.8 287.9h1v1h-1zM281.9 287.4h1v1h-1zM299.0 291.5h1v1h-1zM291.6 280.9h1v1h-1zM294.5 279.4h1v1h-1zM295.7 275.8h1v1h-1zM294.1 280.1h1v1h-1zM287.1 285.8h1v1h-1zM291.2 283.4h1v1h-1zM283.3 290.8h1v1h-1zM293.3 272.0h1v1h-1zM289.4 278.9h1v1h-1zM292.1 285.5h1v1h-1zM305.7 277.8h1v1h-1zM284.9 285.0h1v1h-1zM288.4 286.3h1v1h-1zM293.9 283.5h1v1h-1zM300.5 275.8h1v1h-1zM291.7 282.2h1v1h-1zM301.1 283.3h1v1h-1zM294.1 271.4h1v1h-1zM287.2 280.7h1v1h-1zM307.7 282.1h1v1h-1zM297.9 286.5h1v1h-1zM302.5 291.1h1v1h-1zM298.6 281.4h1v1h-1zM281.9 284.2h1v1h-1zM310.0 279.9h1v1h-1zM292.3 279.4h1v1h-1zM289.1 278.2h1v1h-1zM287.9 286.1h1v1h-1zM293.9 291.3h1v1h-1zM308.0 284.8h1v1h-1zM298.9 286.1h1v1h-1zM297.9 273.6h1v1h-1zM288.2 286.3h1v1h-1zM294.2 289.2h1v1h-1zM290.8 287.6h1v1h-1zM287.8 284.3h1v1h-1zM303.2 289.3h1v1h-1zM298.4 269.2h1v1h-1zM293.9 284.1h1v1h-1zM294.9 277.0h1v1h-1zM300.7 280.9h1v1h-1zM307.4 276.3h1v1h-1zM289.5 282.4h1v1h-1zM293.1 286.0h1v1h-1zM286.4 280.9h1v1h-1zM303.1 278.0h1v1h-1zM288.3 274.4h1v1h-1zM287.8 284.0h1v1h-1zM300.9 289.1h1v1h-1zM296.4 291.0h1v1h-1zM292.5 285.7h1v1h-1zM290.8 288.4h1v1h-1zM304.6 283.9h1v1h-1zM298.5 288.9h1v1h-1zM290.3 287.8h1v1h-1zM301.9 281.4h1v1h-1zM289.3 290.9h1v1h-1zM296.5 278.5h1v1h-1zM289.6 295.9h1v1h-1zM292.5 292.4h1v1h-1zM291.5 283.3h1v1h-1zM293.6 276.2h1v1h-1zM290.4 281.0h1v1h-1zM289.8 284.2h1v1h-1zM295.4 271.6h1v1h-1zM289.9 291.4h1v1h-1zM288.9 286.1h1v1h-1zM301.9 283.4h1v1h-1zM289.1 286.0h1v1h-1zM296.9 283.7h1v1h-1zM285.9 285.7h1v1h-1zM290.4 286.9h1v1h-1zM302.0 288.1h1v1h-1zM291.0 291.3h1v1h-1zM289.7 279.8h1v1h-1zM291.0 278.4h1v1h-1zM300.0 271.4h1v1h-1zM293.9 279.0h1v1h-1zM291.6 280.5h1v1h-1zM299.0 278.6h1v1h-1zM290.8 282.7h1v1h-1zM300.8 285.4h1v1h-1zM294.3 275.3h1v1h-1zM306.1 292.3h1v1h-1zM299.1 286.6h1v1h-1zM294.6 284.8h1v1h-1zM294.8 285.5h1v1h-1zM301.8 283.7h1v1h-1zM294.7 290.5h1v1h-1zM298.4 281.5h1v1h-1zM292.2 284.9h1v1h-1zM290.7 283.3h1v1h-1zM296.3 286.8h1v1h-1zM284.1 281.8h1v1h-1zM289.9 288.3h1v1h-1zM285.2 288.6h1v1h-1zM292.5 284.9h1v1h-1zM284.7 286.4h1v1h-1zM299.5 290.5h1v1h-1zM293.5 286.8h1v1h-1zM293.6 285.3h1v1h-1zM288.7 285.9h1v1h-1zM294.0 283.8h1v1h-1zM304.2 283.8h1v1h-1zM300.7 282.3h1v1h-1zM293.7 272.9h1v1h-1zM281.9 283.7h1v1h-1zM290.2 281.3h1v1h-1zM285.5 288.5h1v1h-1zM305.9 293.8h1v1h-1zM300.2 277.2h1v1h-1zM287.5 282.0h1v1h-1zM283.7 283.9h1v1h-1zM287.6 285.3h1v1h-1zM286.7 281.7h1v1h-1zM292.3 271.5h1v1h-1zM285.0 290.1h1v1h-1zM289.9 285.2h1v1h-1zM307.0 283.8h1v1h-1zM284.7 290.7h1v1h-1zM287.4 283.4h1v1h-1zM300.8 288.0h1v1h-1zM309.7 278.9h1v1h-1zM308.6 293.5h1v1h-1zM294.4 280.1h1v1h-1zM296.5 286.7h1v1h-1zM285.6 276.8h1v1h-1zM280.2 286.2h1v1h-1zM284.8 290.6h1v1h-1zM299.8 294.2h1v1h-1zM294.9 286.7h1v1h-1zM296.3 281.7h1v1h-1zM301.6 281.3h1v1h-1zM300.9 288.3h1v1h-1zM296.0 293.4h1v1h-1zM288.6 278.6h1v1h-1zM299.6 291.3h1v1h-1zM297.1 273.7h1v1h-1zM294.0 290.3h1v1h-1zM296.0 283.1h1v1h-1zM281.8 289.1h1v1h-1zM292.6 286.5h1v1h-1zM292.0 286.9h1v1h-1zM287.4 286.4h1v1h-1zM295.0 277.9h1v1h-1zM292.9 287.9h1v1h-1zM302.3 284.0h1v1h-1zM293.3 276.7h1v1h-1zM286.1 285.6h1v1h-1zM286.0 281.4h1v1h-1zM301.8 278.9h1v1h-1zM292.2 292.5h1v1h-1zM304.0 284.5h1v1h-1zM287.7 281.5h1v1h-1zM300.9 280.7h1v1h-1zM297.1 283.6h1v1h-1zM304.2 282.0h1v1h-1zM280.0 280.7h1v1h-1zM298.6 277.5h1v1h-1zM289.4 289.4h1v1h-1zM298.0 283.8h1v1h-1zM290.7 278.7h1v1h-1zM298.9 285.6h1v1h-1zM299.4 287.4h1v1h-1zM290.8 275.1h1v1h-1zM297.2 292.5h1v1h-1zM291.9 286.8h1v1h-1zM281.5 290.1h1v1h-1zM304.2 290.5h1v1h-1zM296.2 282.1h1v1h-1zM289.2 284.0h1v1h-1zM302.8 279.5h1v1h-1zM286.8 277.5h1v1h-1zM292.3 288.4h1v1h-1zM297.4 278.2h1v1h-1zM284.2 278.9h1v1h-1zM293.2 294.1h1v1h-1zM301.5 277.7h1v1h-1zM284.2 283.3h1v1h-1zM293.6 294.0h1v1h-1zM306.6 277.1h1v1h-1zM283.9 279.2h1v1h-1zM291.1 295.9h1v1h-1zM284.6 288.7h1v1h-1zM285.1 282.6h1v1h-1zM300.2 292.9h1v1h-1zM290.0 273.2h1v1h-1zM309.2 284.0h1v1h-1zM303.8 288.4h1v1h-1zM294.8 295.0h1v1h-1zM289.3 287.1h1v1h-1zM288.5 291.8h1v1h-1zM304.4 280.4h1v1h-1zM296.5 292.5h1v1h-1zM296.4 291.9h1v1h-1zM283.9 286.3h1v1h-1zM288.2 279.6h1v1h-1zM292.3 271.7h1v1h-1zM298.6 288.8h1v1h-1zM290.8 287.6h1v1h-1zM285.4 284.5h1v1h-1zM293.6 283.3h1v1h-1zM297.1 296.0h1v1h-1zM294.0 287.5h1v1h-1zM284.1 282.2h1v1h-1zM290.1 286.2h1v1h-1zM290.4 283.6h1v1h-1zM282.7 282.5h1v1h-1zM299.3 284.1h1v1h-1zM304.5 287.5h1v1h-1zM290.6 288.9h1v1h-1zM311.2 279.2h1v1h-1zM291.9 288.5h1v1h-1zM289.9 274.3h1v1h-1zM291.6 285.7h1v1h-1zM289.9 279.7h1v1h-1zM293.3 282.1h1v1h-1zM299.7 286.0h1v1h-1zM306.2 279.7h1v1h-1zM296.5 279.6h1v1h-1zM294.6 284.7h1v1h-1zM298.9 280.0h1v1h-1zM283.6 275.2h1v1h-1zM290.6 282.3h1v1h-1zM287.5 290.9h1v1h-1zM298.1 287.0h1v1h-1zM290.0 279.2h1v1h-1zM297.8 293.7h1v1h-1zM280.5 296.0h1v1h-1zM302.2 288.2h1v1h-1zM303.2 277.4h1v1h-1zM291.8 274.2h1v1h-1zM290.8 286.6h1v1h-1zM299.8 285.9h1v1h-1zM310.5 280.1h1v1h-1zM292.3 285.1h1v1h-1zM299.6 278.2h1v1h-1zM300.7 294.0h1v1h-1zM287.7 288.0h1v1h-1zM312.7 282.0h1v1h-1zM299.3 285.7h1v1h-1zM307.5 282.8h1v1h-1zM297.0 276.3h1v1h-1zM295.1 282.2h1v1h-1zM291.8 291.3h1v1h-1zM281.1 278.0h1v1h-1zM291.2 286.0h1v1h-1zM291.3 287.7h1v1h-1zM299.2 274.1h1v1h-1zM291.9 277.8h1v1h-1zM297.9 287.5h1v1h-1zM293.6 277.9h1v1h-1zM296.2 278.7h1v1h-1zM297.6 286.4h1v1h-1zM295.6 289.5h1v1h-1zM287.9 281.5h1v1h-1zM291.4 290.6h1v1h-1zM294.6 271.0h1v1h-1zM283.9 281.9h1v1h-1zM282.7 284.2h1v1h-1zM297.8 292.8h1v1h-1zM282.2 291.6h1v1h-1zM291.5 273.8h1v1h-1zM285.8 290.1h1v1h-1zM288.6 271.6h1v1h-1zM304.2 289.6h1v1h-1zM298.9 288.4h1v1h-1zM305.3 283.7h1v1h-1zM288.4 269.2h1v1h-1zM297.3 281.8h1v1h-1zM307.7 275.9h1v1h-1zM286.6 281.0h1v1h-1zM292.4 292.5h1v1h-1zM303.5 280.6h1v1h-1zM294.9 274.5h1v1h-1zM298.6 275.5h1v1h-1zM302.3 284.1h1v1h-1zM290.4 276.9h1v1h-1zM281.1 279.9h1v1h-1zM282.5 282.7h1v1h-1zM298.6 276.1h1v1h-1zM298.2 275.9h1v1h-1zM286.1 276.8h1v1h-1zM288.9 296.1h1v1h-1zM305.8 285.9h1v1h-1zM301.5 291.7h1v1h-1zM288.1 280.6h1v1h-1zM291.8 274.3h1v1h-1zM292.2 286.2h1v1h-1zM296.6 270.8h1v1h-1zM298.6 285.4h1v1h-1zM309.0 283.4h1v1h-1zM285.1 285.0h1v1h-1zM302.7 287.5h1v1h-1zM296.9 281.7h1v1h-1zM288.4 283.4h1v1h-1zM304.6 293.6h1v1h-1zM301.5 294.1h1v1h-1zM301.1 289.6h1v1h-1zM287.5 287.9h1v1h-1zM293.8 284.4h1v1h-1zM288.8 280.4h1v1h-1zM285.2 278.8h1v1h-1zM296.8 292.8h1v1h-1zM301.0 275.8h1v1h-1zM295.0 280.1h1v1h-1zM293.0 284.5h1v1h-1zM296.7 286.4h1v1h-1zM284.7 286.1h1v1h-1zM294.4 278.7h1v1h-1zM293.8 279.4h1v1h-1zM300.5 278.2h1v1h-1zM290.3 285.6h1v1h-1zM293.9 285.5h1v1h-1zM301.9 280.0h1v1h-1zM302.9 282.0h1v1h-1zM293.6 290.4h1v1h-1zM300.3 281.2h1v1h-1zM295.3 279.6h1v1h-1zM291.0 278.3h1v1h-1zM292.4 279.6h1v1h-1zM288.2 274.9h1v1h-1zM300.7 287.6h1v1h-1zM300.9 284.8h1v1h-1zM294.2 289.6h1v1h-1zM293.7 274.1h1v1h-1zM282.5 287.6h1v1h-1zM281.7 293.9h1v1h-1zM286.6 291.9h1v1h-1zM290.9 279.6h1v1h-1zM292.9 281.1h1v1h-1zM298.4 277.4h1v1h-1zM292.8 288.1h1v1h-1zM291.8 291.8h1v1h-1zM300.1 278.9h1v1h-1zM293.5 281.4h1v1h-1zM299.4 275.4h1v1h-1zM291.0 280.5h1v1h-1zM296.8 273.2h1v1h-1zM303.6 287.0h1v1h-1zM283.5 284.7h1v1h-1zM295.2 280.4h1v1h-1zM282.3 286.6h1v1h-1zM304.8 291.1h1v1h-1zM291.1 286.5h1v1h-1zM282.8 289.0h1v1h-1zM287.5 295.0h1v1h-1zM283.8 294.7h1v1h-1zM300.0 280.7h1v1h-1zM295.2 287.5h1v1h-1zM293.5 291.6h1v1h-1zM298.5 279.3h1v1h-1zM288.3 291.1h1v1h-1zM304.6 292.9h1v1h-1zM298.4 283.2h1v1h-1zM315.9 296.8h1v1h-1zM290.7 289.1h1v1h-1zM290.2 280.5h1v1h-1zM302.5 283.8h1v1h-1zM291.4 283.6h1v1h-1zM292.4 277.7h1v1h-1zM301.8 281.5h1v1h-1zM293.7 280.1h1v1h-1zM301.9 288.1h1v1h-1zM289.2 286.9h1v1h-1zM283.6 279.5h1v1h-1zM315.1 288.1h1v1h-1zM289.8 293.0h1v1h-1zM282.3 288.0h1v1h-1zM301.7 284.6h1v1h-1zM296.3 278.1h1v1h-1zM285.3 285.4h1v1h-1zM292.6 286.7h1v1h-1zM288.5 288.3h1v1h-1zM291.8 278.8h1v1h-1zM294.7 285.3h1v1h-1zM292.7 284.0h1v1h-1zM287.1 290.3h1v1h-1zM304.2 283.2h1v1h-1zM297.5 291.5h1v1h-1zM302.1 278.1h1v1h-1zM290.5 273.1h1v1h-1zM292.5 275.7h1v1h-1zM298.4 272.1h1v1h-1zM294.4 296.0h1v1h-1zM283.6 282.4h1v1h-1zM287.1 287.0h1v1h-1zM307.2 276.6h1v1h-1zM287.6 280.2h1v1h-1zM281.0 276.5h1v1h-1zM304.2 281.5h1v1h-1zM301.8 285.4h1v1h-1zM280.1 286.3h1v1h-1zM305.6 286.1h1v1h-1zM280.1 286.2h1v1h-1zM282.0 281.4h1v1h-1zM280.8 275.6h1v1h-1zM303.3 286.9h1v1h-1zM292.1 274.8h1v1h-1zM302.2 273.0h1v1h-1zM297.0 285.0h1v1h-1zM303.1 280.3h1v1h-1zM300.8 276.6h1v1h-1zM290.2 284.1h1v1h-1zM292.2 276.4h1v1h-1zM297.6 271.5h1v1h-1zM297.7 267.6h1v1h-1zM294.6 280.6h1v1h-1zM306.6 264.1h1v1h-1zM290.3 284.0h1v1h-1zM298.4 282.4h1v1h-1zM309.2 264.4h1v1h-1zM302.2 280.6h1v1h-1zM303.6 285.3h1v1h-1zM296.1 281.0h1v1h-1zM314.8 268.6h1v1h-1zM303.6 277.1h1v1h-1zM306.1 275.1h1v1h-1zM307.3 263.1h1v1h-1zM292.4 283.2h1v1h-1zM298.7 278.3h1v1h-1zM295.6 277.1h1v1h-1zM287.3 286.8h1v1h-1zM300.7 273.7h1v1h-1zM296.4 277.8h1v1h-1zM302.0 270.5h1v1h-1zM316.0 263.4h1v1h-1zM301.1 280.3h1v1h-1zM297.6 276.2h1v1h-1zM316.0 264.1h1v1h-1zM295.2 283.6h1v1h-1zM306.2 265.9h1v1h-1zM301.7 273.3h1v1h-1zM320.0 270.9h1v1h-1zM288.6 278.3h1v1h-1zM295.5 276.9h1v1h-1zM294.0 288.5h1v1h-1zM282.9 285.2h1v1h-1zM292.9 286.1h1v1h-1zM291.3 286.0h1v1h-1zM299.4 283.1h1v1h-1zM298.7 278.5h1v1h-1zM298.3 271.4h1v1h-1zM302.7 272.2h1v1h-1zM300.1 280.9h1v1h-1zM300.5 275.2h1v1h-1zM297.4 269.1h1v1h-1zM306.9 275.8h1v1h-1zM313.4 273.9h1v1h-1zM303.1 271.7h1v1h-1zM294.3 282.2h1v1h-1zM309.2 269.5h1v1h-1zM283.1 294.0h1v1h-1zM311.2 273.5h1v1h-1zM292.5 279.4h1v1h-1zM299.3 283.3h1v1h-1zM290.6 284.4h1v1h-1zM308.6 271.5h1v1h-1zM296.3 281.0h1v1h-1zM307.3 270.7h1v1h-1zM309.7 270.4h1v1h-1zM280.4 282.7h1v1h-1zM292.7 275.1h1v1h-1zM300.4 278.6h1v1h-1zM314.5 263.5h1v1h-1zM301.9 277.5h1v1h-1zM320.3 262.4h1v1h-1zM297.4 275.6h1v1h-1zM316.5 273.2h1v1h-1zM315.6 261.5h1v1h-1zM313.0 260.5h1v1h-1zM310.9 267.7h1v1h-1zM311.6 273.1h1v1h-1zM286.3 281.2h1v1h-1zM293.6 281.7h1v1h-1zM297.8 266.9h1v1h-1zM299.0 273.5h1v1h-1zM305.7 272.4h1v1h-1zM283.5 279.2h1v1h-1zM299.6 276.9h1v1h-1zM315.1 272.7h1v1h-1zM288.4 287.0h1v1h-1zM314.0 267.7h1v1h-1zM280.8 286.3h1v1h-1zM317.1 269.0h1v1h-1zM299.5 278.3h1v1h-1zM295.5 276.0h1v1h-1zM293.7 272.7h1v1h-1zM303.8 263.3h1v1h-1zM309.2 271.1h1v1h-1zM301.9 267.7h1v1h-1zM289.9 282.4h1v1h-1zM312.0 279.3h1v1h-1zM294.4 283.1h1v1h-1zM308.1 272.2h1v1h-1zM291.8 283.6h1v1h-1zM299.3 269.0h1v1h-1zM308.1 271.4h1v1h-1zM286.3 278.0h1v1h-1zM307.2 269.6h1v1h-1zM291.1 280.6h1v1h-1zM314.1 262.6h1v1h-1zM294.2 281.5h1v1h-1zM310.7 269.9h1v1h-1zM294.4 289.7h1v1h-1zM296.6 278.3h1v1h-1zM307.0 273.3h1v1h-1zM298.1 270.6h1v1h-1zM306.4 269.8h1v1h-1zM306.4 273.7h1v1h-1zM291.1 283.6h1v1h-1zM283.8 285.0h1v1h-1zM298.4 274.4h1v1h-1zM292.2 276.7h1v1h-1zM299.1 276.6h1v1h-1zM300.4 276.7h1v1h-1zM301.4 273.0h1v1h-1zM301.7 277.4h1v1h-1zM300.5 277.0h1v1h-1zM297.4 283.5h1v1h-1zM296.5 279.6h1v1h-1zM296.6 273.7h1v1h-1zM301.6 277.1h1v1h-1zM300.8 266.7h1v1h-1zM294.2 285.0h1v1h-1zM320.6 264.1h1v1h-1zM285.6 279.2h1v1h-1zM302.0 271.9h1v1h-1zM306.8 272.9h1v1h-1zM298.5 276.8h1v1h-1zM297.3 276.0h1v1h-1zM304.7 273.4h1v1h-1zM309.7 268.5h1v1h-1zM305.3 278.5h1v1h-1zM293.4 271.4h1v1h-1zM289.5 275.8h1v1h-1zM302.4 281.4h1v1h-1zM291.5 278.9h1v1h-1zM300.1 276.9h1v1h-1zM297.4 272.3h1v1h-1zM290.5 287.2h1v1h-1zM305.5 270.9h1v1h-1zM307.8 272.5h1v1h-1zM302.8 279.3h1v1h-1zM302.9 278.0h1v1h-1zM299.1 283.1h1v1h-1zM297.0 280.4h1v1h-1zM298.8 274.5h1v1h-1zM293.0 279.3h1v1h-1zM300.8 276.6h1v1h-1zM285.5 286.9h1v1h-1zM292.2 277.4h1v1h-1zM284.8 283.6h1v1h-1zM304.9 282.3h1v1h-1zM284.0 289.6h1v1h-1zM310.7 261.0h1v1h-1zM297.8 278.4h1v1h-1zM294.8 281.2h1v1h-1zM300.0 277.4h1v1h-1zM310.4 265.8h1v1h-1zM300.2 274.3h1v1h-1zM303.9 270.9h1v1h-1zM299.7 284.1h1v1h-1zM299.5 281.9h1v1h-1zM285.1 296.8h1v1h-1zM307.7 274.6h1v1h-1zM289.6 275.9h1v1h-1zM301.4 274.2h1v1h-1zM289.2 288.2h1v1h-1zM301.7 275.0h1v1h-1zM310.7 271.5h1v1h-1zM310.6 262.4h1v1h-1zM310.3 260.0h1v1h-1zM301.9 277.7h1v1h-1zM286.5 274.0h1v1h-1zM315.4 268.4h1v1h-1zM304.4 276.5h1v1h-1zM292.5 282.1h1v1h-1zM303.4 272.9h1v1h-1zM287.3 287.3h1v1h-1zM288.6 286.8h1v1h-1zM319.0 269.9h1v1h-1zM299.8 269.7h1v1h-1zM299.0 280.1h1v1h-1zM290.8 282.6h1v1h-1zM297.9 271.0h1v1h-1zM311.1 268.6h1v1h-1zM283.5 274.4h1v1h-1zM290.2 285.6h1v1h-1zM299.9 272.9h1v1h-1zM309.0 277.8h1v1h-1zM306.8 269.9h1v1h-1zM294.5 285.1h1v1h-1zM294.2 287.8h1v1h-1zM285.3 281.5h1v1h-1zM291.3 280.9h1v1h-1zM288.7 277.8h1v1h-1zM290.7 286.1h1v1h-1zM310.9 272.9h1v1h-1zM301.9 275.6h1v1h-1zM308.2 270.1h1v1h-1zM308.4 266.8h1v1h-1zM303.7 270.9h1v1h-1zM280.3 281.9h1v1h-1zM305.7 265.5h1v1h-1zM294.8 275.5h1v1h-1zM294.6 275.8h1v1h-1zM298.2 271.2h1v1h-1zM296.2 266.1h1v1h-1zM321.2 262.4h1v1h-1zM287.5 279.4h1v1h-1zM298.7 274.3h1v1h-1zM306.2 272.0h1v1h-1zM296.6 276.1h1v1h-1zM283.1 278.4h1v1h-1zM313.4 267.2h1v1h-1zM293.2 281.5h1v1h-1zM286.2 287.7h1v1h-1zM302.1 275.4h1v1h-1zM296.5 276.0h1v1h-1zM292.5 283.7h1v1h-1zM292.6 283.9h1v1h-1zM305.2 272.7h1v1h-1zM299.4 276.7h1v1h-1zM315.2 261.7h1v1h-1zM293.1 278.9h1v1h-1zM292.9 280.2h1v1h-1zM293.2 276.7h1v1h-1zM293.6 282.0h1v1h-1zM311.6 267.0h1v1h-1zM301.4 275.6h1v1h-1zM312.1 269.5h1v1h-1zM288.0 277.8h1v1h-1zM287.7 285.0h1v1h-1zM286.2 280.1h1v1h-1zM296.3 279.5h1v1h-1zM292.6 275.9h1v1h-1zM304.7 276.2h1v1h-1zM310.5 272.4h1v1h-1zM287.6 289.0h1v1h-1zM301.9 275.7h1v1h-1zM296.3 275.2h1v1h-1zM304.8 274.8h1v1h-1zM291.5 284.2h1v1h-1zM295.8 286.4h1v1h-1zM308.3 278.0h1v1h-1zM295.8 279.5h1v1h-1zM305.2 272.7h1v1h-1zM293.5 282.7h1v1h-1zM281.1 289.1h1v1h-1zM307.0 269.5h1v1h-1zM302.2 279.4h1v1h-1zM296.7 276.7h1v1h-1zM300.0 276.8h1v1h-1zM299.6 280.9h1v1h-1zM297.4 273.7h1v1h-1zM314.4 273.5h1v1h-1zM300.4 272.8h1v1h-1zM296.4 284.3h1v1h-1zM294.9 282.5h1v1h-1zM313.7 279.5h1v1h-1zM311.5 260.4h1v1h-1zM306.7 275.8h1v1h-1zM301.7 281.3h1v1h-1zM315.1 266.7h1v1h-1z"/>
<path fill="#c01a16" d="M285.4 278.5h1v1h-1zM288.5 278.6h1v1h-1zM292.9 285.9h1v1h-1zM292.7 279.4h1v1h-1zM285.4 276.7h1v1h-1zM302.2 288.4h1v1h-1zM299.4 282.3h1v1h-1zM291.3 287.2h1v1h-1zM292.4 278.4h1v1h-1zM298.2 281.1h1v1h-1zM299.4 279.6h1v1h-1zM296.4 276.2h1v1h-1zM298.1 278.5h1v1h-1zM297.5 287.7h1v1h-1zM303.9 276.4h1v1h-1zM293.5 285.7h1v1h-1zM285.8 281.7h1v1h-1zM292.5 275.2h1v1h-1zM288.1 281.8h1v1h-1zM291.9 283.5h1v1h-1zM299.5 281.7h1v1h-1zM286.5 288.0h1v1h-1zM290.0 284.2h1v1h-1zM292.6 280.2h1v1h-1zM289.7 278.0h1v1h-1zM297.1 293.4h1v1h-1zM292.7 291.4h1v1h-1zM306.0 280.0h1v1h-1zM299.3 283.7h1v1h-1zM285.8 291.0h1v1h-1zM288.0 288.5h1v1h-1zM293.4 277.8h1v1h-1zM282.3 282.1h1v1h-1zM283.5 274.0h1v1h-1zM292.2 287.9h1v1h-1zM287.6 279.8h1v1h-1zM293.3 286.5h1v1h-1zM290.4 282.6h1v1h-1zM311.1 287.6h1v1h-1zM289.4 286.4h1v1h-1zM296.2 279.8h1v1h-1zM308.6 283.5h1v1h-1zM284.5 282.4h1v1h-1zM291.2 284.9h1v1h-1zM294.2 283.0h1v1h-1zM288.5 283.9h1v1h-1zM289.7 295.4h1v1h-1zM300.2 284.9h1v1h-1zM296.1 275.9h1v1h-1zM280.3 286.8h1v1h-1zM291.0 280.9h1v1h-1zM294.0 280.0h1v1h-1zM295.2 281.7h1v1h-1zM289.9 284.4h1v1h-1zM284.8 274.4h1v1h-1zM293.7 276.0h1v1h-1zM280.3 281.1h1v1h-1zM288.5 280.7h1v1h-1zM298.3 290.1h1v1h-1zM303.5 281.4h1v1h-1zM287.7 279.7h1v1h-1zM285.9 281.5h1v1h-1zM287.6 286.8h1v1h-1zM300.3 282.9h1v1h-1zM295.5 277.2h1v1h-1zM287.8 280.6h1v1h-1zM291.2 291.7h1v1h-1zM296.2 287.6h1v1h-1zM305.4 289.2h1v1h-1zM302.9 291.0h1v1h-1zM294.1 284.2h1v1h-1zM297.3 288.6h1v1h-1zM300.8 291.5h1v1h-1zM296.8 279.3h1v1h-1zM291.1 285.7h1v1h-1zM281.3 281.3h1v1h-1zM286.5 293.7h1v1h-1zM290.7 277.6h1v1h-1zM298.5 284.8h1v1h-1zM285.5 283.4h1v1h-1zM298.7 280.6h1v1h-1zM289.5 280.1h1v1h-1zM281.5 275.9h1v1h-1zM295.3 287.3h1v1h-1zM291.4 278.6h1v1h-1zM295.3 291.8h1v1h-1zM295.5 279.7h1v1h-1zM290.6 292.7h1v1h-1zM287.1 287.9h1v1h-1zM298.7 276.6h1v1h-1zM297.4 281.0h1v1h-1zM296.6 287.3h1v1h-1zM282.5 281.9h1v1h-1zM294.9 287.5h1v1h-1zM289.6 278.8h1v1h-1zM294.1 285.9h1v1h-1zM298.4 290.7h1v1h-1zM295.1 291.1h1v1h-1zM290.1 291.6h1v1h-1zM291.3 289.6h1v1h-1zM283.1 287.6h1v1h-1zM298.5 287.3h1v1h-1zM287.4 281.1h1v1h-1zM290.5 286.6h1v1h-1zM301.8 281.9h1v1h-1zM294.7 285.9h1v1h-1zM294.7 288.4h1v1h-1zM284.7 277.3h1v1h-1zM293.3 274.6h1v1h-1zM295.7 281.1h1v1h-1zM294.1 286.9h1v1h-1zM302.6 292.7h1v1h-1zM305.4 283.1h1v1h-1zM283.0 291.6h1v1h-1zM296.0 283.6h1v1h-1zM296.0 289.4h1v1h-1zM295.5 294.1h1v1h-1zM304.8 281.5h1v1h-1zM292.7 279.0h1v1h-1zM284.4 283.2h1v1h-1zM289.4 281.4h1v1h-1zM283.2 276.7h1v1h-1zM301.5 292.1h1v1h-1zM287.5 295.7h1v1h-1zM297.6 274.6h1v1h-1zM293.7 289.6h1v1h-1zM306.9 281.4h1v1h-1zM299.4 290.1h1v1h-1zM291.7 287.3h1v1h-1zM294.0 291.9h1v1h-1zM303.2 287.3h1v1h-1zM289.7 282.2h1v1h-1zM288.9 284.5h1v1h-1zM290.8 282.2h1v1h-1zM287.3 281.4h1v1h-1zM303.8 269.3h1v1h-1zM298.1 283.0h1v1h-1zM291.6 280.7h1v1h-1zM297.3 287.0h1v1h-1zM296.2 284.1h1v1h-1zM284.4 281.5h1v1h-1zM292.3 291.9h1v1h-1zM296.8 284.8h1v1h-1zM295.7 294.6h1v1h-1zM300.3 286.4h1v1h-1zM297.3 274.7h1v1h-1zM297.0 279.5h1v1h-1zM291.2 274.7h1v1h-1zM294.5 289.3h1v1h-1zM292.3 279.0h1v1h-1zM289.7 273.2h1v1h-1zM296.5 286.8h1v1h-1zM282.6 289.5h1v1h-1zM285.8 286.4h1v1h-1zM303.6 286.7h1v1h-1zM286.1 289.9h1v1h-1zM301.5 286.6h1v1h-1zM295.7 274.4h1v1h-1zM297.9 280.8h1v1h-1zM293.7 282.7h1v1h-1zM298.2 282.0h1v1h-1zM296.2 290.1h1v1h-1zM296.0 279.2h1v1h-1zM293.6 282.6h1v1h-1zM293.4 291.4h1v1h-1zM295.5 276.4h1v1h-1zM282.4 279.0h1v1h-1zM284.1 284.2h1v1h-1zM291.4 288.1h1v1h-1zM288.8 285.9h1v1h-1zM304.6 286.1h1v1h-1zM286.1 280.9h1v1h-1zM297.2 270.9h1v1h-1zM292.0 279.0h1v1h-1zM296.4 275.5h1v1h-1zM301.6 286.1h1v1h-1zM286.5 281.9h1v1h-1zM297.5 283.7h1v1h-1zM295.3 282.6h1v1h-1zM303.4 287.3h1v1h-1zM300.4 287.6h1v1h-1zM294.8 277.2h1v1h-1zM291.5 281.1h1v1h-1zM289.1 288.7h1v1h-1zM293.1 277.0h1v1h-1zM296.5 284.3h1v1h-1zM291.0 284.0h1v1h-1zM301.4 279.6h1v1h-1zM297.7 283.0h1v1h-1zM281.7 282.7h1v1h-1zM284.6 286.2h1v1h-1zM304.1 296.5h1v1h-1zM281.6 278.8h1v1h-1zM284.4 287.8h1v1h-1zM301.3 278.4h1v1h-1zM299.3 282.0h1v1h-1zM296.9 281.0h1v1h-1zM284.2 284.9h1v1h-1zM297.6 294.5h1v1h-1zM300.1 289.7h1v1h-1zM296.8 289.4h1v1h-1zM289.0 275.1h1v1h-1zM281.2 270.0h1v1h-1zM289.2 288.5h1v1h-1zM293.8 278.3h1v1h-1zM288.5 279.7h1v1h-1zM292.1 290.9h1v1h-1zM293.5 274.1h1v1h-1zM299.6 286.2h1v1h-1zM295.2 288.0h1v1h-1zM294.3 288.5h1v1h-1zM288.3 288.5h1v1h-1zM285.7 284.1h1v1h-1zM289.6 280.9h1v1h-1zM294.4 286.3h1v1h-1zM292.8 276.1h1v1h-1zM305.8 284.6h1v1h-1zM293.0 283.1h1v1h-1zM289.4 281.6h1v1h-1zM297.0 291.4h1v1h-1zM298.0 291.9h1v1h-1zM290.9 281.0h1v1h-1zM291.9 282.3h1v1h-1zM297.2 279.3h1v1h-1zM288.1 279.4h1v1h-1zM305.8 289.6h1v1h-1zM300.5 277.2h1v1h-1zM282.0 280.7h1v1h-1zM288.6 284.7h1v1h-1zM305.4 279.1h1v1h-1zM291.0 283.0h1v1h-1zM296.3 286.4h1v1h-1zM289.7 280.1h1v1h-1zM298.5 279.0h1v1h-1zM292.6 279.5h1v1h-1zM295.7 288.8h1v1h-1zM297.8 294.1h1v1h-1zM290.5 288.1h1v1h-1zM298.9 276.8h1v1h-1zM293.9 286.5h1v1h-1zM295.3 280.6h1v1h-1zM282.0 281.6h1v1h-1zM292.6 284.3h1v1h-1zM291.2 285.7h1v1h-1zM294.3 280.4h1v1h-1zM286.2 289.5h1v1h-1zM293.9 284.3h1v1h-1zM293.9 291.1h1v1h-1zM289.7 279.2h1v1h-1zM301.4 295.2h1v1h-1zM311.6 280.4h1v1h-1zM287.1 283.7h1v1h-1zM292.0 281.3h1v1h-1zM300.3 279.0h1v1h-1zM296.6 280.3h1v1h-1zM297.4 290.5h1v1h-1zM283.1 294.1h1v1h-1zM295.4 283.7h1v1h-1zM298.9 284.5h1v1h-1zM301.5 277.0h1v1h-1zM289.4 287.6h1v1h-1zM300.4 282.0h1v1h-1zM286.3 283.1h1v1h-1zM298.9 283.8h1v1h-1zM284.7 284.4h1v1h-1zM295.2 277.8h1v1h-1zM300.5 283.5h1v1h-1zM291.3 281.0h1v1h-1zM283.7 293.6h1v1h-1zM306.4 287.4h1v1h-1zM284.2 278.9h1v1h-1zM295.0 283.4h1v1h-1zM285.9 289.5h1v1h-1zM293.7 282.8h1v1h-1zM291.7 290.0h1v1h-1zM292.1 281.3h1v1h-1zM296.6 281.4h1v1h-1zM293.2 283.3h1v1h-1zM293.9 275.5h1v1h-1zM292.3 280.7h1v1h-1zM290.5 283.7h1v1h-1zM292.0 290.0h1v1h-1zM288.6 272.2h1v1h-1zM299.9 294.8h1v1h-1zM286.3 290.6h1v1h-1zM290.2 283.3h1v1h-1zM294.5 271.6h1v1h-1zM291.6 284.6h1v1h-1zM289.5 289.7h1v1h-1zM299.1 282.5h1v1h-1zM296.4 283.6h1v1h-1zM289.8 279.8h1v1h-1zM290.4 285.3h1v1h-1zM291.1 285.6h1v1h-1zM303.8 276.6h1v1h-1zM298.2 276.9h1v1h-1zM290.3 278.2h1v1h-1zM294.9 282.9h1v1h-1zM306.4 292.5h1v1h-1zM292.1 293.2h1v1h-1zM284.2 293.8h1v1h-1zM297.5 282.4h1v1h-1zM305.5 284.2h1v1h-1zM296.9 291.1h1v1h-1zM291.1 283.3h1v1h-1zM295.8 283.2h1v1h-1zM305.4 295.1h1v1h-1zM289.3 283.1h1v1h-1zM310.0 278.3h1v1h-1zM288.4 284.4h1v1h-1zM296.9 280.8h1v1h-1zM294.4 283.0h1v1h-1zM301.3 274.0h1v1h-1zM296.7 284.2h1v1h-1zM289.8 281.7h1v1h-1zM291.6 281.1h1v1h-1zM297.0 278.9h1v1h-1zM304.7 284.4h1v1h-1zM290.6 287.7h1v1h-1zM294.9 283.8h1v1h-1zM293.8 286.5h1v1h-1zM291.2 279.3h1v1h-1zM283.7 284.1h1v1h-1zM287.2 296.0h1v1h-1zM287.2 274.8h1v1h-1zM303.1 284.4h1v1h-1zM295.6 276.5h1v1h-1zM289.8 288.1h1v1h-1zM300.0 272.8h1v1h-1zM288.9 292.5h1v1h-1zM286.9 285.0h1v1h-1zM291.2 276.4h1v1h-1zM302.2 284.2h1v1h-1zM289.6 277.4h1v1h-1zM302.3 284.9h1v1h-1zM291.5 284.3h1v1h-1zM301.9 276.2h1v1h-1zM280.2 287.2h1v1h-1zM290.9 281.0h1v1h-1zM301.6 280.8h1v1h-1zM289.0 277.0h1v1h-1zM292.1 277.1h1v1h-1zM292.6 271.7h1v1h-1zM302.6 286.9h1v1h-1zM310.6 277.3h1v1h-1zM296.8 286.1h1v1h-1zM295.8 278.6h1v1h-1zM304.5 281.1h1v1h-1zM288.4 283.7h1v1h-1zM289.6 283.1h1v1h-1zM292.0 295.9h1v1h-1zM294.4 292.2h1v1h-1zM289.1 288.9h1v1h-1zM281.9 290.5h1v1h-1zM304.7 286.6h1v1h-1zM297.0 289.1h1v1h-1zM300.0 284.3h1v1h-1zM295.5 289.0h1v1h-1zM297.5 281.9h1v1h-1zM287.4 275.5h1v1h-1zM304.8 280.9h1v1h-1zM299.2 279.5h1v1h-1zM300.4 279.7h1v1h-1zM285.7 276.1h1v1h-1zM295.9 294.4h1v1h-1zM302.8 288.2h1v1h-1zM290.9 283.7h1v1h-1zM295.3 277.6h1v1h-1zM285.3 293.3h1v1h-1zM289.8 279.7h1v1h-1zM297.4 271.3h1v1h-1zM285.2 275.7h1v1h-1zM301.3 280.9h1v1h-1zM284.9 287.8h1v1h-1zM285.9 279.0h1v1h-1zM293.3 279.9h1v1h-1zM289.6 280.3h1v1h-1zM292.5 288.0h1v1h-1zM289.7 282.5h1v1h-1zM286.2 283.2h1v1h-1zM281.6 277.7h1v1h-1zM295.7 293.1h1v1h-1zM296.4 281.5h1v1h-1zM290.6 278.7h1v1h-1zM280.6 288.0h1v1h-1zM298.2 290.3h1v1h-1zM303.8 286.3h1v1h-1zM292.0 279.3h1v1h-1zM285.6 286.6h1v1h-1zM295.4 287.4h1v1h-1zM299.6 279.0h1v1h-1zM288.8 272.4h1v1h-1zM288.9 282.6h1v1h-1zM298.3 281.2h1v1h-1zM281.0 292.0h1v1h-1zM299.0 278.4h1v1h-1zM289.4 277.7h1v1h-1zM305.6 285.6h1v1h-1zM283.5 288.3h1v1h-1zM291.9 280.3h1v1h-1zM288.9 283.6h1v1h-1zM297.2 280.0h1v1h-1zM293.6 285.5h1v1h-1zM284.1 290.5h1v1h-1zM294.2 277.1h1v1h-1zM300.5 280.4h1v1h-1zM286.2 272.6h1v1h-1zM289.4 283.5h1v1h-1zM294.1 289.6h1v1h-1zM300.5 292.1h1v1h-1zM293.0 281.8h1v1h-1zM297.5 282.9h1v1h-1zM288.4 278.0h1v1h-1zM286.8 287.9h1v1h-1zM301.0 288.1h1v1h-1zM300.9 292.3h1v1h-1zM302.0 284.9h1v1h-1zM292.8 279.2h1v1h-1zM284.7 275.1h1v1h-1zM293.8 283.0h1v1h-1zM291.6 287.3h1v1h-1zM298.3 289.0h1v1h-1zM298.6 276.8h1v1h-1zM290.0 290.4h1v1h-1zM294.8 283.8h1v1h-1zM301.7 285.9h1v1h-1zM288.5 283.5h1v1h-1zM285.8 283.4h1v1h-1zM299.9 280.1h1v1h-1zM297.3 277.5h1v1h-1zM295.7 279.4h1v1h-1zM288.6 278.8h1v1h-1zM292.1 284.7h1v1h-1zM287.6 273.1h1v1h-1zM293.7 280.1h1v1h-1zM287.6 288.1h1v1h-1zM292.2 282.0h1v1h-1zM297.0 277.8h1v1h-1zM297.3 295.7h1v1h-1zM286.0 287.7h1v1h-1zM295.4 283.1h1v1h-1zM304.0 278.0h1v1h-1zM289.4 286.2h1v1h-1zM296.2 282.9h1v1h-1zM291.5 293.5h1v1h-1zM285.4 286.5h1v1h-1zM288.9 288.7h1v1h-1zM287.9 284.1h1v1h-1zM283.4 277.2h1v1h-1zM297.0 292.2h1v1h-1zM295.6 285.9h1v1h-1zM295.4 297.0h1v1h-1zM293.4 288.2h1v1h-1zM299.5 283.0h1v1h-1zM306.0 285.0h1v1h-1zM293.3 286.5h1v1h-1zM305.7 285.8h1v1h-1zM298.7 281.2h1v1h-1zM295.9 281.6h1v1h-1zM295.5 280.7h1v1h-1zM287.1 286.5h1v1h-1zM304.7 285.4h1v1h-1zM303.3 296.4h1v1h-1zM286.5 288.7h1v1h-1zM296.4 279.7h1v1h-1zM303.8 286.9h1v1h-1zM285.4 285.4h1v1h-1zM296.5 292.1h1v1h-1zM299.4 290.0h1v1h-1zM283.1 283.5h1v1h-1zM292.8 280.3h1v1h-1zM289.1 274.9h1v1h-1zM293.9 288.0h1v1h-1zM291.0 278.9h1v1h-1zM295.0 287.6h1v1h-1zM286.9 287.9h1v1h-1zM285.8 292.5h1v1h-1zM304.1 289.7h1v1h-1zM296.7 280.9h1v1h-1zM303.9 285.1h1v1h-1zM296.9 282.1h1v1h-1zM291.8 283.3h1v1h-1zM295.2 290.0h1v1h-1zM300.2 284.8h1v1h-1zM280.5 279.2h1v1h-1zM301.4 288.5h1v1h-1zM287.3 275.3h1v1h-1zM280.1 283.7h1v1h-1zM289.4 277.7h1v1h-1zM289.7 288.7h1v1h-1zM306.3 281.3h1v1h-1zM282.6 283.2h1v1h-1zM285.4 285.8h1v1h-1zM289.7 289.6h1v1h-1zM291.2 291.9h1v1h-1zM302.6 288.4h1v1h-1zM282.5 286.9h1v1h-1zM305.5 290.3h1v1h-1zM287.6 289.1h1v1h-1zM304.7 289.5h1v1h-1zM298.4 289.8h1v1h-1zM290.8 287.1h1v1h-1zM300.7 282.1h1v1h-1zM287.0 287.4h1v1h-1zM289.6 286.4h1v1h-1zM294.1 282.8h1v1h-1zM294.1 270.3h1v1h-1zM286.7 278.9h1v1h-1zM290.5 283.5h1v1h-1zM296.9 284.1h1v1h-1zM312.3 274.9h1v1h-1zM301.1 277.4h1v1h-1zM294.1 290.0h1v1h-1zM292.8 290.1h1v1h-1zM281.0 281.9h1v1h-1zM305.7 280.2h1v1h-1zM290.3 289.9h1v1h-1zM301.3 286.6h1v1h-1zM307.6 280.4h1v1h-1zM289.8 288.6h1v1h-1zM290.1 288.8h1v1h-1zM287.5 284.6h1v1h-1zM292.7 289.9h1v1h-1zM297.9 283.0h1v1h-1zM294.3 295.7h1v1h-1zM291.4 278.9h1v1h-1zM281.9 279.7h1v1h-1zM282.3 282.6h1v1h-1zM280.7 296.6h1v1h-1zM302.0 279.5h1v1h-1zM293.1 282.4h1v1h-1zM295.1 281.0h1v1h-1zM295.5 279.3h1v1h-1zM282.9 286.6h1v1h-1zM304.9 292.8h1v1h-1zM304.0 278.8h1v1h-1zM291.8 292.7h1v1h-1zM299.7 280.3h1v1h-1zM284.4 287.1h1v1h-1zM298.5 288.9h1v1h-1zM290.5 293.8h1v1h-1zM302.5 290.3h1v1h-1zM286.4 282.0h1v1h-1zM281.7 287.0h1v1h-1zM284.2 285.3h1v1h-1zM296.2 285.5h1v1h-1zM292.5 278.9h1v1h-1zM290.1 274.8h1v1h-1zM303.3 283.5h1v1h-1zM290.4 287.3h1v1h-1zM308.5 282.4h1v1h-1zM292.3 290.2h1v1h-1zM299.5 279.8h1v1h-1zM284.9 277.4h1v1h-1zM294.3 279.3h1v1h-1zM289.7 281.4h1v1h-1zM288.3 284.7h1v1h-1zM301.0 286.5h1v1h-1zM287.5 282.0h1v1h-1zM301.2 283.6h1v1h-1zM292.1 289.5h1v1h-1zM289.7 296.4h1v1h-1zM283.9 278.4h1v1h-1zM285.3 292.2h1v1h-1zM291.2 276.5h1v1h-1zM281.9 288.2h1v1h-1zM296.1 273.6h1v1h-1zM301.6 274.6h1v1h-1zM297.9 282.7h1v1h-1zM314.6 267.0h1v1h-1zM297.7 277.4h1v1h-1zM320.2 267.4h1v1h-1zM296.7 278.5h1v1h-1zM307.7 275.3h1v1h-1zM299.3 287.0h1v1h-1zM308.7 269.3h1v1h-1zM302.7 270.2h1v1h-1zM300.7 265.2h1v1h-1zM307.0 270.9h1v1h-1zM300.7 276.1h1v1h-1zM307.8 274.7h1v1h-1zM293.4 269.9h1v1h-1zM311.3 261.2h1v1h-1zM290.7 279.4h1v1h-1zM291.1 284.2h1v1h-1zM289.5 285.5h1v1h-1zM311.3 274.0h1v1h-1zM284.5 287.9h1v1h-1zM309.5 267.5h1v1h-1zM287.2 286.3h1v1h-1zM310.3 268.1h1v1h-1zM298.0 277.8h1v1h-1zM295.5 273.7h1v1h-1zM306.8 281.8h1v1h-1zM296.7 281.2h1v1h-1zM298.1 274.9h1v1h-1zM299.7 281.4h1v1h-1zM299.9 279.4h1v1h-1zM301.0 276.4h1v1h-1zM309.6 266.7h1v1h-1zM286.2 284.7h1v1h-1zM299.1 282.9h1v1h-1zM297.3 279.5h1v1h-1zM290.0 281.8h1v1h-1zM314.6 263.5h1v1h-1zM292.4 282.5h1v1h-1zM315.2 272.8h1v1h-1zM313.6 267.5h1v1h-1zM315.9 264.1h1v1h-1zM305.1 274.8h1v1h-1zM298.1 288.3h1v1h-1zM298.7 273.3h1v1h-1zM285.7 288.4h1v1h-1zM300.5 280.3h1v1h-1zM300.5 274.1h1v1h-1zM290.8 286.4h1v1h-1zM290.4 282.5h1v1h-1zM307.7 275.0h1v1h-1zM286.5 277.3h1v1h-1zM296.1 276.2h1v1h-1zM297.7 274.7h1v1h-1zM299.8 274.5h1v1h-1zM302.9 269.2h1v1h-1zM300.7 277.8h1v1h-1zM302.6 271.6h1v1h-1zM298.5 279.9h1v1h-1zM300.0 273.9h1v1h-1zM302.6 277.6h1v1h-1zM292.3 285.3h1v1h-1zM299.4 273.0h1v1h-1zM298.0 272.5h1v1h-1zM291.9 283.5h1v1h-1zM289.5 288.5h1v1h-1zM320.3 266.0h1v1h-1zM302.9 273.5h1v1h-1zM285.1 288.2h1v1h-1zM292.8 281.8h1v1h-1zM293.5 270.6h1v1h-1zM301.4 270.9h1v1h-1zM293.6 271.7h1v1h-1zM284.1 292.4h1v1h-1zM303.2 280.3h1v1h-1zM288.1 285.6h1v1h-1zM290.4 279.6h1v1h-1zM288.5 283.8h1v1h-1zM309.1 272.4h1v1h-1zM301.4 267.6h1v1h-1zM296.3 279.0h1v1h-1zM303.7 278.5h1v1h-1zM313.4 264.1h1v1h-1zM292.1 280.6h1v1h-1zM302.8 281.3h1v1h-1zM304.2 274.6h1v1h-1zM303.5 274.4h1v1h-1zM313.3 269.2h1v1h-1zM305.1 273.4h1v1h-1zM301.3 272.0h1v1h-1zM296.9 270.2h1v1h-1zM302.8 278.2h1v1h-1zM311.9 273.0h1v1h-1zM303.7 272.8h1v1h-1zM295.3 279.7h1v1h-1zM294.3 291.4h1v1h-1zM302.7 269.1h1v1h-1zM283.2 286.4h1v1h-1zM304.9 277.8h1v1h-1zM292.6 286.2h1v1h-1zM301.1 274.7h1v1h-1zM301.6 274.8h1v1h-1zM293.9 281.4h1v1h-1zM295.3 277.2h1v1h-1zM316.0 264.5h1v1h-1zM299.2 276.0h1v1h-1zM303.1 270.4h1v1h-1zM306.9 272.2h1v1h-1zM293.2 278.9h1v1h-1zM303.7 264.6h1v1h-1zM284.3 280.0h1v1h-1zM301.2 277.2h1v1h-1zM287.4 291.6h1v1h-1zM291.5 276.9h1v1h-1zM297.2 272.5h1v1h-1zM289.0 278.3h1v1h-1zM300.9 279.4h1v1h-1zM302.5 270.3h1v1h-1zM304.7 274.9h1v1h-1zM295.1 277.9h1v1h-1zM313.8 263.4h1v1h-1zM307.9 276.2h1v1h-1zM299.0 273.4h1v1h-1zM291.3 280.3h1v1h-1zM300.9 268.3h1v1h-1zM298.9 270.9h1v1h-1zM305.3 275.5h1v1h-1zM312.6 274.4h1v1h-1zM289.1 281.0h1v1h-1zM312.5 264.7h1v1h-1zM297.1 277.3h1v1h-1zM294.4 276.2h1v1h-1zM293.8 268.4h1v1h-1zM304.5 271.9h1v1h-1zM292.2 277.3h1v1h-1zM302.7 275.7h1v1h-1zM310.5 268.9h1v1h-1zM294.9 279.7h1v1h-1zM291.9 291.9h1v1h-1zM296.4 274.7h1v1h-1zM297.7 281.7h1v1h-1zM294.2 283.9h1v1h-1zM293.0 285.1h1v1h-1zM302.1 266.8h1v1h-1zM305.5 268.7h1v1h-1zM303.8 278.8h1v1h-1zM295.9 273.2h1v1h-1zM285.4 281.4h1v1h-1zM312.0 258.6h1v1h-1zM287.0 291.1h1v1h-1zM302.3 282.8h1v1h-1zM302.6 275.3h1v1h-1zM300.3 269.6h1v1h-1zM304.1 273.6h1v1h-1zM299.1 276.2h1v1h-1zM319.9 256.1h1v1h-1zM289.6 282.2h1v1h-1zM303.0 282.4h1v1h-1zM295.0 269.6h1v1h-1zM301.4 269.3h1v1h-1zM310.7 275.5h1v1h-1zM316.8 270.7h1v1h-1zM292.1 273.7h1v1h-1zM304.5 277.9h1v1h-1zM301.0 273.3h1v1h-1zM291.6 282.6h1v1h-1zM288.1 287.3h1v1h-1zM287.5 285.2h1v1h-1zM293.9 276.8h1v1h-1zM286.8 285.2h1v1h-1zM300.7 273.7h1v1h-1zM293.7 281.7h1v1h-1zM285.9 289.7h1v1h-1zM296.4 273.9h1v1h-1zM286.0 285.4h1v1h-1zM313.7 270.1h1v1h-1zM300.9 272.1h1v1h-1zM291.9 280.0h1v1h-1zM309.1 270.3h1v1h-1zM301.4 257.3h1v1h-1zM299.3 275.1h1v1h-1zM291.8 274.9h1v1h-1zM314.7 266.0h1v1h-1zM301.0 272.4h1v1h-1zM298.3 272.0h1v1h-1zM291.3 284.8h1v1h-1zM297.2 283.3h1v1h-1zM290.7 278.9h1v1h-1zM305.2 269.2h1v1h-1zM299.4 276.4h1v1h-1zM296.6 274.2h1v1h-1zM295.2 283.7h1v1h-1zM309.4 267.4h1v1h-1zM300.6 280.8h1v1h-1zM312.3 268.1h1v1h-1zM295.2 283.8h1v1h-1zM301.9 277.4h1v1h-1zM309.4 264.1h1v1h-1zM299.3 277.7h1v1h-1zM299.0 276.1h1v1h-1zM303.9 265.3h1v1h-1zM305.2 274.7h1v1h-1zM288.0 279.6h1v1h-1zM297.3 277.3h1v1h-1zM306.0 270.0h1v1h-1zM285.6 283.2h1v1h-1zM302.1 272.0h1v1h-1zM311.7 275.2h1v1h-1zM284.0 286.4h1v1h-1zM311.8 274.9h1v1h-1zM292.4 282.2h1v1h-1zM310.1 271.7h1v1h-1zM303.1 267.5h1v1h-1zM308.3 269.4h1v1h-1zM298.2 276.7h1v1h-1zM287.3 283.1h1v1h-1zM290.6 285.8h1v1h-1zM295.9 282.5h1v1h-1zM299.6 279.8h1v1h-1zM293.6 269.6h1v1h-1zM289.7 277.3h1v1h-1zM294.7 284.4h1v1h-1zM283.8 280.6h1v1h-1zM304.6 273.8h1v1h-1zM320.3 263.5h1v1h-1zM284.2 285.4h1v1h-1zM307.2 279.3h1v1h-1zM313.6 261.9h1v1h-1zM299.8 273.6h1v1h-1zM307.0 269.7h1v1h-1zM288.1 283.7h1v1h-1zM302.4 276.4h1v1h-1zM284.3 289.3h1v1h-1zM301.7 279.1h1v1h-1zM298.2 276.1h1v1h-1zM287.4 285.5h1v1h-1zM312.0 277.8h1v1h-1zM291.7 281.5h1v1h-1zM301.6 293.0h1v1h-1zM293.6 278.9h1v1h-1zM320.6 266.0h1v1h-1zM306.2 263.4h1v1h-1zM308.6 272.2h1v1h-1zM296.6 285.1h1v1h-1zM285.0 282.4h1v1h-1zM306.2 271.9h1v1h-1zM295.4 280.0h1v1h-1zM298.2 285.2h1v1h-1zM293.8 282.5h1v1h-1zM302.3 274.7h1v1h-1zM295.4 280.0h1v1h-1zM288.5 286.2h1v1h-1zM301.7 286.0h1v1h-1zM311.8 269.0h1v1h-1zM300.9 272.0h1v1h-1zM307.1 275.0h1v1h-1zM314.5 267.8h1v1h-1zM286.2 284.7h1v1h-1zM304.1 276.8h1v1h-1zM309.9 277.2h1v1h-1zM297.6 271.9h1v1h-1zM306.0 282.3h1v1h-1zM293.8 282.0h1v1h-1zM303.5 275.7h1v1h-1zM297.9 278.0h1v1h-1zM292.8 278.5h1v1h-1zM292.7 280.6h1v1h-1zM291.1 280.1h1v1h-1zM284.5 284.8h1v1h-1zM298.7 272.4h1v1h-1zM303.6 265.5h1v1h-1zM296.2 276.9h1v1h-1zM295.0 275.2h1v1h-1zM295.7 273.8h1v1h-1zM293.3 283.6h1v1h-1zM301.8 281.8h1v1h-1zM289.5 281.4h1v1h-1zM307.2 272.9h1v1h-1zM283.9 282.1h1v1h-1zM307.8 274.5h1v1h-1zM309.5 270.9h1v1h-1zM303.7 279.6h1v1h-1zM285.3 291.0h1v1h-1zM307.4 283.4h1v1h-1zM290.3 282.4h1v1h-1zM297.2 268.8h1v1h-1zM297.6 281.8h1v1h-1zM301.8 268.3h1v1h-1zM296.2 280.5h1v1h-1zM303.9 281.2h1v1h-1zM284.6 286.9h1v1h-1zM295.5 282.1h1v1h-1zM294.3 282.6h1v1h-1zM311.1 266.8h1v1h-1zM308.3 275.8h1v1h-1zM306.1 268.4h1v1h-1zM297.3 271.4h1v1h-1zM310.4 270.9h1v1h-1zM282.0 288.8h1v1h-1zM295.4 274.9h1v1h-1zM296.2 272.4h1v1h-1zM311.2 267.8h1v1h-1zM294.3 276.3h1v1h-1zM295.6 275.6h1v1h-1zM306.2 273.5h1v1h-1zM308.4 267.0h1v1h-1zM306.7 267.1h1v1h-1zM300.9 281.2h1v1h-1zM291.2 272.3h1v1h-1zM290.7 289.2h1v1h-1zM291.7 276.5h1v1h-1zM311.3 258.1h1v1h-1zM311.0 270.4h1v1h-1zM287.6 282.3h1v1h-1zM297.6 278.3h1v1h-1zM313.1 266.4h1v1h-1zM305.0 260.1h1v1h-1zM297.9 271.4h1v1h-1zM312.4 270.3h1v1h-1zM305.1 273.9h1v1h-1zM284.1 279.9h1v1h-1zM315.4 277.0h1v1h-1zM299.4 275.9h1v1h-1zM298.0 281.8h1v1h-1zM289.2 283.5h1v1h-1zM306.3 276.5h1v1h-1zM312.5 275.0h1v1h-1zM287.9 276.3h1v1h-1zM286.0 279.6h1v1h-1zM306.3 264.5h1v1h-1zM298.1 277.0h1v1h-1zM287.6 288.2h1v1h-1zM304.5 263.9h1v1h-1zM293.4 278.4h1v1h-1zM298.9 272.2h1v1h-1zM313.9 263.5h1v1h-1zM295.5 280.4h1v1h-1zM288.1 284.1h1v1h-1zM300.1 279.0h1v1h-1zM306.1 272.2h1v1h-1zM301.7 271.3h1v1h-1zM301.6 273.9h1v1h-1zM284.9 287.2h1v1h-1zM296.6 283.5h1v1h-1zM306.7 267.0h1v1h-1zM299.7 275.7h1v1h-1zM315.7 276.0h1v1h-1zM297.5 277.8h1v1h-1zM304.1 266.4h1v1h-1zM308.3 272.1h1v1h-1zM302.4 275.1h1v1h-1zM288.0 289.7h1v1h-1zM305.0 281.4h1v1h-1zM301.1 270.1h1v1h-1zM300.0 284.1h1v1h-1zM301.8 277.3h1v1h-1zM304.2 268.7h1v1h-1zM308.4 271.0h1v1h-1zM304.2 275.2h1v1h-1zM291.3 284.6h1v1h-1zM299.8 280.1h1v1h-1zM294.5 279.5h1v1h-1zM288.3 284.5h1v1h-1zM304.9 268.2h1v1h-1z"/>
<path fill="#e0804a" d="M303.2 279.8h1v1h-1zM298.3 292.9h1v1h-1zM290.8 286.2h1v1h-1zM302.4 287.0h1v1h-1zM288.2 278.9h1v1h-1zM303.4 281.5h1v1h-1zM291.0 287.3h1v1h-1zM290.0 288.3h1v1h-1zM294.9 285.2h1v1h-1zM280.4 276.8h1v1h-1zM293.0 291.2h1v1h-1zM297.1 278.5h1v1h-1zM288.3 287.6h1v1h-1zM293.9 283.6h1v1h-1zM294.8 284.8h1v1h-1zM295.6 296.9h1v1h-1zM294.0 280.7h1v1h-1zM288.0 284.3h1v1h-1zM294.9 286.4h1v1h-1zM289.6 293.9h1v1h-1zM290.5 282.9h1v1h-1zM293.4 283.9h1v1h-1zM291.3 284.6h1v1h-1zM289.5 282.6h1v1h-1zM280.4 284.8h1v1h-1zM288.5 285.9h1v1h-1zM293.6 284.1h1v1h-1zM302.1 288.5h1v1h-1zM299.5 279.3h1v1h-1zM291.6 278.4h1v1h-1zM296.3 290.8h1v1h-1zM294.0 279.7h1v1h-1zM296.6 281.2h1v1h-1zM298.1 281.7h1v1h-1zM291.4 280.5h1v1h-1zM286.2 279.1h1v1h-1zM287.3 281.4h1v1h-1zM295.4 279.5h1v1h-1zM303.8 275.6h1v1h-1zM289.5 281.3h1v1h-1zM301.6 281.0h1v1h-1zM303.7 283.7h1v1h-1zM311.2 278.9h1v1h-1zM291.4 278.3h1v1h-1zM299.1 288.9h1v1h-1zM306.5 289.7h1v1h-1zM291.4 287.3h1v1h-1zM282.5 284.5h1v1h-1zM295.4 286.6h1v1h-1zM292.6 286.7h1v1h-1zM294.6 279.6h1v1h-1zM284.9 280.5h1v1h-1zM305.4 284.5h1v1h-1zM296.2 288.3h1v1h-1zM301.3 278.7h1v1h-1zM290.3 281.6h1v1h-1zM287.2 278.7h1v1h-1zM291.3 287.9h1v1h-1zM296.4 296.6h1v1h-1zM285.7 274.6h1v1h-1zM299.0 289.7h1v1h-1zM291.0 276.8h1v1h-1zM297.6 280.0h1v1h-1zM296.5 287.3h1v1h-1zM290.9 285.8h1v1h-1zM301.3 289.2h1v1h-1zM294.1 276.9h1v1h-1zM290.7 281.3h1v1h-1zM287.2 283.8h1v1h-1zM306.5 268.3h1v1h-1zM320.7 267.2h1v1h-1zM312.8 269.3h1v1h-1zM318.0 260.6h1v1h-1zM312.2 266.3h1v1h-1zM302.2 278.9h1v1h-1zM290.5 274.7h1v1h-1zM306.3 284.1h1v1h-1zM300.4 278.2h1v1h-1zM290.2 289.9h1v1h-1zM292.8 284.1h1v1h-1zM286.2 283.1h1v1h-1zM292.4 289.5h1v1h-1zM306.8 273.6h1v1h-1zM303.5 270.4h1v1h-1zM291.7 285.1h1v1h-1zM297.5 272.9h1v1h-1zM300.2 273.9h1v1h-1zM304.9 278.6h1v1h-1zM290.7 288.2h1v1h-1zM296.4 279.4h1v1h-1zM297.1 275.3h1v1h-1zM292.1 270.7h1v1h-1zM296.1 278.7h1v1h-1zM294.1 288.8h1v1h-1zM303.6 276.7h1v1h-1zM283.5 285.7h1v1h-1zM290.1 283.6h1v1h-1zM312.1 268.8h1v1h-1zM295.7 285.7h1v1h-1zM287.1 286.7h1v1h-1zM291.1 288.5h1v1h-1zM302.8 288.2h1v1h-1zM313.1 282.9h1v1h-1zM299.6 276.4h1v1h-1zM305.8 267.1h1v1h-1zM312.9 268.0h1v1h-1zM304.0 275.1h1v1h-1zM299.9 284.8h1v1h-1zM294.9 276.8h1v1h-1zM282.0 287.9h1v1h-1zM313.8 274.5h1v1h-1zM301.4 280.5h1v1h-1zM295.3 270.6h1v1h-1zM288.5 280.1h1v1h-1zM313.6 273.3h1v1h-1z"/>
<ellipse cx="292.5" cy="286" rx="7" ry="6" fill="#a01610" opacity="0.35" filter="url(#bl)"/>
<rect x="271.5" y="222.5" width="79" height="79" fill="none" stroke="#2a2a2a" stroke-width="1"/>
<line x1="275.5" y1="222.6" x2="275.5" y2="301.3" stroke="#29a8e0" stroke-width="1.2"/>
<line x1="346.5" y1="222.6" x2="346.5" y2="301.3" stroke="#29a8e0" stroke-width="1.2"/>
<line x1="275.4" y1="266.5" x2="350.6" y2="266.5" stroke="#29a8e0" stroke-width="1.3"/>
<line x1="275.4" y1="276.5" x2="350.6" y2="276.5" stroke="#29a8e0" stroke-width="1.3"/>
<text x="279.2" y="231.7" font-size="7" stroke="#1c1c1c" stroke-width="0.22">2.7%</text>
<text x="279.2" y="274.8" font-size="7" stroke="#1c1c1c" stroke-width="0.22">14%</text>
<text x="279.2" y="297" font-size="7" stroke="#1c1c1c" stroke-width="0.22">81%</text>
<text x="342.4" y="253" font-size="7.2" text-anchor="end" stroke="#1c1c1c" stroke-width="0.22">High</text>
<text x="342.4" y="274.8" font-size="7.2" text-anchor="end" stroke="#1c1c1c" stroke-width="0.22">Pos.</text>
<text x="342.4" y="295.7" font-size="7.2" text-anchor="end" stroke="#1c1c1c" stroke-width="0.22">Neg.</text>
<text x="269.2" y="226.2" font-size="6" text-anchor="end" stroke="#1c1c1c" stroke-width="0.22">10<tspan font-size="3.72" dy="-2.3">4</tspan></text>
<text x="269.2" y="246.2" font-size="6" text-anchor="end" stroke="#1c1c1c" stroke-width="0.22">10<tspan font-size="3.72" dy="-2.3">3</tspan></text>
<text x="269.2" y="265.6" font-size="6" text-anchor="end" stroke="#1c1c1c" stroke-width="0.22">10<tspan font-size="3.72" dy="-2.3">2</tspan></text>
<text x="269.2" y="285.3" font-size="6" text-anchor="end" stroke="#1c1c1c" stroke-width="0.22">10<tspan font-size="3.72" dy="-2.3">1</tspan></text>
<text x="269.2" y="304.6" font-size="6" text-anchor="end" stroke="#1c1c1c" stroke-width="0.22">10<tspan font-size="3.72" dy="-2.3">0</tspan></text>
<line x1="271.5" y1="301.3" x2="271.5" y2="303.9" stroke="#1c1c1c" stroke-width="0.9"/>
<line x1="279.5" y1="301.3" x2="279.5" y2="302.9" stroke="#1c1c1c" stroke-width="0.9"/>
<line x1="286.5" y1="301.3" x2="286.5" y2="303.9" stroke="#1c1c1c" stroke-width="0.9"/>
<line x1="294.5" y1="301.3" x2="294.5" y2="302.9" stroke="#1c1c1c" stroke-width="0.9"/>
<line x1="302.5" y1="301.3" x2="302.5" y2="303.9" stroke="#1c1c1c" stroke-width="0.9"/>
<line x1="310.5" y1="301.3" x2="310.5" y2="302.9" stroke="#1c1c1c" stroke-width="0.9"/>
<line x1="318.5" y1="301.3" x2="318.5" y2="303.9" stroke="#1c1c1c" stroke-width="0.9"/>
<line x1="326.5" y1="301.3" x2="326.5" y2="302.9" stroke="#1c1c1c" stroke-width="0.9"/>
<line x1="334.5" y1="301.3" x2="334.5" y2="303.9" stroke="#1c1c1c" stroke-width="0.9"/>
<line x1="341.5" y1="301.3" x2="341.5" y2="302.9" stroke="#1c1c1c" stroke-width="0.9"/>
<line x1="349.5" y1="301.3" x2="349.5" y2="303.9" stroke="#1c1c1c" stroke-width="0.9"/>
<text x="271.2" y="311.4" font-size="6.4" text-anchor="middle" stroke="#1c1c1c" stroke-width="0.22">0</text>
<text x="287" y="311.4" font-size="6.4" text-anchor="middle" stroke="#1c1c1c" stroke-width="0.22">200</text>
<text x="302.5" y="311.4" font-size="6.4" text-anchor="middle" stroke="#1c1c1c" stroke-width="0.22">400</text>
<text x="318" y="311.4" font-size="6.4" text-anchor="middle" stroke="#1c1c1c" stroke-width="0.22">600</text>
<text x="333.3" y="311.4" font-size="6.4" text-anchor="middle" stroke="#1c1c1c" stroke-width="0.22">800</text>
<text x="349.7" y="311.4" font-size="6.4" text-anchor="middle" stroke="#1c1c1c" stroke-width="0.22">1000</text>
<text x="314.4" y="321.8" font-size="9.8" text-anchor="middle" stroke="#1c1c1c" stroke-width="0.22">FSC</text>
<text transform="translate(257.6 263.5) rotate(-90)" font-size="9.6" text-anchor="middle" stroke="#1c1c1c" stroke-width="0.22">PKH-26</text>
<text transform="translate(372.83 195.80) scale(0.2820 0.3000)" font-size="100">F</text>
<line x1="458.5" y1="219" x2="458.5" y2="310.1" stroke="#777" stroke-width="0.8" stroke-dasharray="1 1.2"/>
<line x1="568.5" y1="220" x2="568.5" y2="310.1" stroke="#777" stroke-width="0.8" stroke-dasharray="1 1.2"/>
<line x1="427.5" y1="221.22" x2="427.5" y2="208.6" stroke="#1c1c1c" stroke-width="1"/>
<line x1="425.25" y1="208.5" x2="428.85" y2="208.5" stroke="#1c1c1c" stroke-width="1"/>
<rect x="423.5" y="221.5" width="7" height="89" fill="#e2232a" stroke="#1c1c1c" stroke-width="0.9"/>
<line x1="436.5" y1="292.64" x2="436.5" y2="285.9" stroke="#1c1c1c" stroke-width="1"/>
<line x1="435.15" y1="285.5" x2="438.75" y2="285.5" stroke="#1c1c1c" stroke-width="1"/>
<rect x="433.5" y="292.5" width="7" height="18" fill="#1d5fa6" stroke="#1c1c1c" stroke-width="0.9"/>
<line x1="447.5" y1="279.94" x2="447.5" y2="273.2" stroke="#1c1c1c" stroke-width="1"/>
<line x1="445.55" y1="273.5" x2="449.15" y2="273.5" stroke="#1c1c1c" stroke-width="1"/>
<rect x="443.5" y="279.5" width="7" height="31" fill="#33bdf0" stroke="#1c1c1c" stroke-width="0.9"/>
<line x1="468.5" y1="246.61" x2="468.5" y2="237.6" stroke="#1c1c1c" stroke-width="1"/>
<line x1="466.9" y1="237.5" x2="470.5" y2="237.5" stroke="#1c1c1c" stroke-width="1"/>
<rect x="465.5" y="246.5" width="7" height="64" fill="#e2232a" stroke="#1c1c1c" stroke-width="0.9"/>
<line x1="478.5" y1="302.16" x2="478.5" y2="299.2" stroke="#1c1c1c" stroke-width="1"/>
<line x1="476.8" y1="299.5" x2="480.4" y2="299.5" stroke="#1c1c1c" stroke-width="1"/>
<rect x="475.5" y="302.5" width="7" height="8" fill="#1d5fa6" stroke="#1c1c1c" stroke-width="0.9"/>
<line x1="488.5" y1="294.23" x2="488.5" y2="290.2" stroke="#1c1c1c" stroke-width="1"/>
<line x1="486.8" y1="290.5" x2="490.4" y2="290.5" stroke="#1c1c1c" stroke-width="1"/>
<rect x="485.5" y="294.5" width="7" height="16" fill="#33bdf0" stroke="#1c1c1c" stroke-width="0.9"/>
<line x1="503.5" y1="274.39" x2="503.5" y2="269.5" stroke="#1c1c1c" stroke-width="1"/>
<line x1="501.7" y1="269.5" x2="505.3" y2="269.5" stroke="#1c1c1c" stroke-width="1"/>
<rect x="500.5" y="274.5" width="7" height="36" fill="#e2232a" stroke="#1c1c1c" stroke-width="0.9"/>
<line x1="513.5" y1="300.26" x2="513.5" y2="296.2" stroke="#1c1c1c" stroke-width="1"/>
<line x1="511.35" y1="296.5" x2="514.95" y2="296.5" stroke="#1c1c1c" stroke-width="1"/>
<rect x="509.5" y="300.5" width="7" height="10" fill="#1d5fa6" stroke="#1c1c1c" stroke-width="0.9"/>
<line x1="523.5" y1="298.51" x2="523.5" y2="293.4" stroke="#1c1c1c" stroke-width="1"/>
<line x1="521.45" y1="293.5" x2="525.05" y2="293.5" stroke="#1c1c1c" stroke-width="1"/>
<rect x="519.5" y="298.5" width="7" height="12" fill="#33bdf0" stroke="#1c1c1c" stroke-width="0.9"/>
<line x1="538.5" y1="288.36" x2="538.5" y2="279.8" stroke="#1c1c1c" stroke-width="1"/>
<line x1="537.05" y1="279.5" x2="540.65" y2="279.5" stroke="#1c1c1c" stroke-width="1"/>
<rect x="535.5" y="288.5" width="7" height="22" fill="#e2232a" stroke="#1c1c1c" stroke-width="0.9"/>
<line x1="548.5" y1="308.2" x2="548.5" y2="306.5" stroke="#1c1c1c" stroke-width="1"/>
<line x1="546.75" y1="306.5" x2="550.35" y2="306.5" stroke="#1c1c1c" stroke-width="1"/>
<rect x="545.5" y="308.5" width="7" height="2" fill="#1d5fa6" stroke="#1c1c1c" stroke-width="0.9"/>
<line x1="558.5" y1="294.23" x2="558.5" y2="289.5" stroke="#1c1c1c" stroke-width="1"/>
<line x1="557.15" y1="289.5" x2="560.75" y2="289.5" stroke="#1c1c1c" stroke-width="1"/>
<rect x="555.5" y="294.5" width="7" height="16" fill="#33bdf0" stroke="#1c1c1c" stroke-width="0.9"/>
<line x1="579.5" y1="263.28" x2="579.5" y2="247.2" stroke="#1c1c1c" stroke-width="1"/>
<line x1="578" y1="247.5" x2="581.6" y2="247.5" stroke="#1c1c1c" stroke-width="1"/>
<rect x="576.5" y="263.5" width="7" height="47" fill="#e2232a" stroke="#1c1c1c" stroke-width="0.9"/>
<line x1="589.5" y1="294.23" x2="589.5" y2="285.2" stroke="#1c1c1c" stroke-width="1"/>
<line x1="587.3" y1="285.5" x2="590.9" y2="285.5" stroke="#1c1c1c" stroke-width="1"/>
<rect x="585.5" y="294.5" width="7" height="16" fill="#33bdf0" stroke="#1c1c1c" stroke-width="0.9"/>
<line x1="604.5" y1="283.91" x2="604.5" y2="275.5" stroke="#1c1c1c" stroke-width="1"/>
<line x1="602.45" y1="275.5" x2="606.05" y2="275.5" stroke="#1c1c1c" stroke-width="1"/>
<rect x="601.5" y="283.5" width="6" height="27" fill="#e2232a" stroke="#1c1c1c" stroke-width="0.9"/>
<line x1="613.5" y1="300.74" x2="613.5" y2="286.2" stroke="#1c1c1c" stroke-width="1"/>
<line x1="611.7" y1="286.5" x2="615.3" y2="286.5" stroke="#1c1c1c" stroke-width="1"/>
<rect x="610.5" y="300.5" width="6" height="10" fill="#33bdf0" stroke="#1c1c1c" stroke-width="0.9"/>
<line x1="628.5" y1="288.36" x2="628.5" y2="279.4" stroke="#1c1c1c" stroke-width="1"/>
<line x1="626.8" y1="279.5" x2="630.4" y2="279.5" stroke="#1c1c1c" stroke-width="1"/>
<rect x="625.5" y="288.5" width="7" height="22" fill="#e2232a" stroke="#1c1c1c" stroke-width="0.9"/>
<line x1="638.5" y1="300.74" x2="638.5" y2="286.7" stroke="#1c1c1c" stroke-width="1"/>
<line x1="636.45" y1="286.5" x2="640.05" y2="286.5" stroke="#1c1c1c" stroke-width="1"/>
<rect x="634.5" y="300.5" width="7" height="10" fill="#33bdf0" stroke="#1c1c1c" stroke-width="0.9"/>
<rect x="413.5" y="199.5" width="239" height="111" fill="none" stroke="#1c1c1c" stroke-width="1.1"/>
<line x1="410.4" y1="310.5" x2="413.4" y2="310.5" stroke="#1c1c1c" stroke-width="1"/>
<text x="405" y="313.56" font-size="9.6" text-anchor="end" stroke="#1c1c1c" stroke-width="0.22">0</text>
<line x1="410.4" y1="294.5" x2="413.4" y2="294.5" stroke="#1c1c1c" stroke-width="1"/>
<text x="405" y="297.68" font-size="9.6" text-anchor="end" stroke="#1c1c1c" stroke-width="0.22">1</text>
<line x1="410.4" y1="278.5" x2="413.4" y2="278.5" stroke="#1c1c1c" stroke-width="1"/>
<text x="405" y="281.81" font-size="9.6" text-anchor="end" stroke="#1c1c1c" stroke-width="0.22">2</text>
<line x1="410.4" y1="262.5" x2="413.4" y2="262.5" stroke="#1c1c1c" stroke-width="1"/>
<text x="405" y="265.94" font-size="9.6" text-anchor="end" stroke="#1c1c1c" stroke-width="0.22">3</text>
<line x1="410.4" y1="246.5" x2="413.4" y2="246.5" stroke="#1c1c1c" stroke-width="1"/>
<text x="405" y="250.07" font-size="9.6" text-anchor="end" stroke="#1c1c1c" stroke-width="0.22">4</text>
<line x1="410.4" y1="230.5" x2="413.4" y2="230.5" stroke="#1c1c1c" stroke-width="1"/>
<text x="405" y="234.2" font-size="9.6" text-anchor="end" stroke="#1c1c1c" stroke-width="0.22">5</text>
<line x1="410.4" y1="214.5" x2="413.4" y2="214.5" stroke="#1c1c1c" stroke-width="1"/>
<text x="405" y="218.33" font-size="9.6" text-anchor="end" stroke="#1c1c1c" stroke-width="0.22">6</text>
<line x1="410.4" y1="199.5" x2="413.4" y2="199.5" stroke="#1c1c1c" stroke-width="1"/>
<text x="405" y="202.46" font-size="9.6" text-anchor="end" stroke="#1c1c1c" stroke-width="0.22">7</text>
<rect x="439.6" y="205.4" width="5.6" height="5.6" fill="#e2232a" stroke="#1c1c1c" stroke-width="0.9"/>
<text x="449.6" y="211" font-size="7.2" stroke="#1c1c1c" stroke-width="0.22">ErbB2</text>
<rect x="481" y="205.4" width="5.6" height="5.6" fill="#1d5fa6" stroke="#1c1c1c" stroke-width="0.9"/>
<text x="491.9" y="211" font-size="7.2" stroke="#1c1c1c" stroke-width="0.22">ErbB2 sh-Coco #1</text>
<rect x="562.6" y="205.4" width="5.6" height="5.6" fill="#33bdf0" stroke="#1c1c1c" stroke-width="0.9"/>
<text x="572.2" y="211" font-size="7.2" stroke="#1c1c1c" stroke-width="0.22">ErbB2 sh-Coco #3</text>
<text transform="translate(441.96 275.5) rotate(-90)" font-size="8.4" text-anchor="middle" stroke="#1c1c1c" stroke-width="0.22">**</text>
<text transform="translate(452.36 263.6) rotate(-90)" font-size="8.4" text-anchor="middle" stroke="#1c1c1c" stroke-width="0.22">**</text>
<text transform="translate(483.56 289.3) rotate(-90)" font-size="8.4" text-anchor="middle" stroke="#1c1c1c" stroke-width="0.22">***</text>
<text transform="translate(493.56 284.3) rotate(-90)" font-size="8.4" text-anchor="middle" stroke="#1c1c1c" stroke-width="0.22">***</text>
<text transform="translate(518.16 286.6) rotate(-90)" font-size="8.4" text-anchor="middle" stroke="#1c1c1c" stroke-width="0.22">**</text>
<text transform="translate(528.16 285.8) rotate(-90)" font-size="8.4" text-anchor="middle" stroke="#1c1c1c" stroke-width="0.22">**</text>
<text x="548.6" y="304.6" font-size="8.4" text-anchor="middle" stroke="#1c1c1c" stroke-width="0.22">*</text>
<text x="557.6" y="284.4" font-size="8" text-anchor="middle" stroke="#1c1c1c" stroke-width="0.22">NS</text>
<text transform="translate(594.06 274.5) rotate(-90)" font-size="8.4" text-anchor="middle" stroke="#1c1c1c" stroke-width="0.22">**</text>
<text transform="translate(618.46 277.7) rotate(-90)" font-size="8.4" text-anchor="middle" stroke="#1c1c1c" stroke-width="0.22">**</text>
<text x="638.2" y="284.8" font-size="8.4" text-anchor="middle" stroke="#1c1c1c" stroke-width="0.22">*</text>
<text x="461.6" y="228.2" font-size="8.6" stroke="#1c1c1c" stroke-width="0.22">PKH<tspan font-size="5.85" dy="-2.6">HIGH</tspan></text>
<path d="M460.6 234.9 L460.6 230.4 L494.2 230.4 L494.2 234.9" stroke="#1c1c1c" stroke-width="1" fill="none"/>
<text x="495.6" y="256.4" font-size="8.6" stroke="#1c1c1c" stroke-width="0.22">PKH<tspan font-size="5.85" dy="-2.6">POS</tspan></text>
<path d="M495.2 263.5 L495.2 259.5 L528.4 259.5 L528.4 263.5" stroke="#1c1c1c" stroke-width="1" fill="none"/>
<text x="532.8" y="269" font-size="8.6" stroke="#1c1c1c" stroke-width="0.22">PKH<tspan font-size="5.85" dy="-2.6">NEG</tspan></text>
<path d="M530.8 275.3 L530.8 271.3 L563.8 271.3 L563.8 275.3" stroke="#1c1c1c" stroke-width="1" fill="none"/>
<text x="571" y="238.2" font-size="8.6" stroke="#1c1c1c" stroke-width="0.22">PKH<tspan font-size="5.85" dy="-2.6">HIGH</tspan></text>
<path d="M572.8 244.5 L572.8 240.4 L595.3 240.4 L595.3 244.5" stroke="#1c1c1c" stroke-width="1" fill="none"/>
<text x="593.1" y="259.6" font-size="8.6" stroke="#1c1c1c" stroke-width="0.22">PKH<tspan font-size="5.85" dy="-2.6">POS</tspan></text>
<path d="M597.4 267 L597.4 262.4 L619.5 262.4 L619.5 267" stroke="#1c1c1c" stroke-width="1" fill="none"/>
<text x="621.4" y="269.2" font-size="8.6" stroke="#1c1c1c" stroke-width="0.22">PKH<tspan font-size="5.85" dy="-2.6">NEG</tspan></text>
<path d="M620.3 275.1 L620.3 271.4 L643.4 271.4 L643.4 275.1" stroke="#1c1c1c" stroke-width="1" fill="none"/>
<path d="M418 313.6 L418 318.8 L454.4 318.8 L454.4 313.6" stroke="#1c1c1c" stroke-width="1" fill="none"/>
<path d="M462.6 313.6 L462.6 318.8 L565.6 318.8 L565.6 313.6" stroke="#1c1c1c" stroke-width="1" fill="none"/>
<path d="M571.1 313.6 L571.1 318.8 L648.8 318.8 L648.8 313.6" stroke="#1c1c1c" stroke-width="1" fill="none"/>
<text x="437.2" y="329.2" font-size="8.4" text-anchor="middle" stroke="#1c1c1c" stroke-width="0.22">Primary</text>
<text x="518" y="329.2" font-size="8.4" text-anchor="middle" stroke="#1c1c1c" stroke-width="0.22">Secondary</text>
<text x="610.2" y="329.2" font-size="8.4" text-anchor="middle" stroke="#1c1c1c" stroke-width="0.22">Tertiary</text>
<text transform="translate(394.6 254) rotate(-90)" font-size="9.1" text-anchor="middle" stroke="#1c1c1c" stroke-width="0.22">Tumor spheres / 10<tspan font-size="5.8" dy="-3.4">3</tspan><tspan dy="3.4"> cells</tspan></text>
<text transform="translate(12.01 358.10) scale(0.2971 0.3014)" font-size="100">G</text>
<text transform="translate(39 418.5) rotate(-90)" font-size="10.2" text-anchor="middle" stroke="#1c1c1c" stroke-width="0.22">Tumor volume (mm<tspan font-size="6.8" dy="-4">3</tspan><tspan dy="4">)</tspan></text>
<text x="263.6" y="356" font-size="12.4" fill="#e8245e" text-anchor="middle" stroke="#e8245e" stroke-width="0.22">4TO7</text>
<rect x="69.5" y="377.5" width="103" height="81" fill="none" stroke="#1c1c1c" stroke-width="1.2"/>
<line x1="65.4" y1="458.5" x2="69.4" y2="458.5" stroke="#1c1c1c" stroke-width="1.1"/>
<text x="61" y="462" font-size="10" text-anchor="end" stroke="#1c1c1c" stroke-width="0.22">0</text>
<line x1="65.4" y1="438.5" x2="69.4" y2="438.5" stroke="#1c1c1c" stroke-width="1.1"/>
<text x="61" y="442" font-size="10" text-anchor="end" stroke="#1c1c1c" stroke-width="0.22">100</text>
<line x1="65.4" y1="418.5" x2="69.4" y2="418.5" stroke="#1c1c1c" stroke-width="1.1"/>
<text x="61" y="422" font-size="10" text-anchor="end" stroke="#1c1c1c" stroke-width="0.22">200</text>
<line x1="65.4" y1="398.5" x2="69.4" y2="398.5" stroke="#1c1c1c" stroke-width="1.1"/>
<text x="61" y="402" font-size="10" text-anchor="end" stroke="#1c1c1c" stroke-width="0.22">300</text>
<line x1="65.4" y1="378.5" x2="69.4" y2="378.5" stroke="#1c1c1c" stroke-width="1.1"/>
<text x="61" y="382" font-size="10" text-anchor="end" stroke="#1c1c1c" stroke-width="0.22">400</text>
<line x1="66.4" y1="448.5" x2="69.4" y2="448.5" stroke="#1c1c1c" stroke-width="1"/>
<line x1="66.4" y1="428.5" x2="69.4" y2="428.5" stroke="#1c1c1c" stroke-width="1"/>
<line x1="66.4" y1="408.5" x2="69.4" y2="408.5" stroke="#1c1c1c" stroke-width="1"/>
<line x1="66.4" y1="388.5" x2="69.4" y2="388.5" stroke="#1c1c1c" stroke-width="1"/>
<line x1="77.5" y1="458.4" x2="77.5" y2="461.9" stroke="#1c1c1c" stroke-width="1.1"/>
<text x="77.5" y="474.8" font-size="10.2" text-anchor="middle" stroke="#1c1c1c" stroke-width="0.22">3</text>
<line x1="106.5" y1="458.4" x2="106.5" y2="461.9" stroke="#1c1c1c" stroke-width="1.1"/>
<text x="106.3" y="474.8" font-size="10.2" text-anchor="middle" stroke="#1c1c1c" stroke-width="0.22">4</text>
<line x1="135.5" y1="458.4" x2="135.5" y2="461.9" stroke="#1c1c1c" stroke-width="1.1"/>
<text x="135" y="474.8" font-size="10.2" text-anchor="middle" stroke="#1c1c1c" stroke-width="0.22">5</text>
<line x1="163.5" y1="458.4" x2="163.5" y2="461.9" stroke="#1c1c1c" stroke-width="1.1"/>
<text x="163.5" y="474.8" font-size="10.2" text-anchor="middle" stroke="#1c1c1c" stroke-width="0.22">6</text>
<line x1="77.5" y1="441" x2="77.5" y2="456" stroke="#1c1c1c" stroke-width="1.2"/>
<line x1="106.5" y1="393.7" x2="106.5" y2="436.4" stroke="#1c1c1c" stroke-width="1.2"/>
<line x1="135.5" y1="393.3" x2="135.5" y2="433" stroke="#1c1c1c" stroke-width="1.2"/>
<line x1="163.5" y1="383.8" x2="163.5" y2="416.5" stroke="#1c1c1c" stroke-width="1.2"/>
<path d="M77.5 447.3 L106.3 402.6 L135 402.2 L163.5 392.7" stroke="#1c1c1c" stroke-width="1.3" fill="none"/>
<path d="M77.5 451.6 L106.3 425 L135 423.9 L163.5 404" stroke="#1c1c1c" stroke-width="1.3" fill="none"/>
<circle cx="77.5" cy="451.6" r="2.75" fill="#1c1c8c" stroke="#1c1c1c" stroke-width="0.7"/>
<circle cx="106.3" cy="425" r="2.75" fill="#1c1c8c" stroke="#1c1c1c" stroke-width="0.7"/>
<circle cx="135" cy="423.9" r="2.75" fill="#1c1c8c" stroke="#1c1c1c" stroke-width="0.7"/>
<circle cx="163.5" cy="404" r="2.75" fill="#1c1c8c" stroke="#1c1c1c" stroke-width="0.7"/>
<rect x="75" y="444.8" width="5" height="5" fill="#d8201f" stroke="#1c1c1c" stroke-width="0.7"/>
<rect x="103.8" y="400.1" width="5" height="5" fill="#d8201f" stroke="#1c1c1c" stroke-width="0.7"/>
<rect x="132.5" y="399.7" width="5" height="5" fill="#d8201f" stroke="#1c1c1c" stroke-width="0.7"/>
<rect x="161" y="390.2" width="5" height="5" fill="#d8201f" stroke="#1c1c1c" stroke-width="0.7"/>
<circle cx="75.9" cy="383.8" r="2.3" fill="#1c1c8c" stroke="#1c1c1c" stroke-width="0.7"/>
<text x="81.8" y="386.3" font-size="6" stroke="#1c1c1c" stroke-width="0.22">Vector (n=10)</text>
<rect x="73.8" y="389.7" width="4.2" height="4.2" fill="#d8201f" stroke="#1c1c1c" stroke-width="0.7"/>
<text x="81.8" y="394" font-size="6" stroke="#1c1c1c" stroke-width="0.22">Coco (n=10)</text>
<text x="107" y="443.2" font-size="6.2" text-anchor="middle" stroke="#1c1c1c" stroke-width="0.22">P=0.02</text>
<text x="136.4" y="439.7" font-size="6.2" text-anchor="middle" stroke="#1c1c1c" stroke-width="0.22">P=0.0003</text>
<text x="163.3" y="423.5" font-size="6.2" text-anchor="middle" stroke="#1c1c1c" stroke-width="0.22">P=0.21</text>
<text x="122" y="371" font-size="10.2" text-anchor="middle" stroke="#1c1c1c" stroke-width="0.22">10<tspan font-size="6.94" dy="-4">4</tspan><tspan dy="4"> cells</tspan></text>
<text x="122" y="488.3" font-size="10.6" text-anchor="middle" stroke="#1c1c1c" stroke-width="0.22">Weeks</text>
<rect x="208.5" y="376.5" width="103" height="81" fill="none" stroke="#1c1c1c" stroke-width="1.2"/>
<line x1="204.5" y1="457.5" x2="208.5" y2="457.5" stroke="#1c1c1c" stroke-width="1.1"/>
<text x="203.4" y="461" font-size="10" text-anchor="end" stroke="#1c1c1c" stroke-width="0.22">0</text>
<line x1="204.5" y1="439.5" x2="208.5" y2="439.5" stroke="#1c1c1c" stroke-width="1.1"/>
<text x="203.4" y="443.1" font-size="10" text-anchor="end" stroke="#1c1c1c" stroke-width="0.22">100</text>
<line x1="204.5" y1="421.5" x2="208.5" y2="421.5" stroke="#1c1c1c" stroke-width="1.1"/>
<text x="203.4" y="425.2" font-size="10" text-anchor="end" stroke="#1c1c1c" stroke-width="0.22">200</text>
<line x1="204.5" y1="403.5" x2="208.5" y2="403.5" stroke="#1c1c1c" stroke-width="1.1"/>
<text x="203.4" y="407.3" font-size="10" text-anchor="end" stroke="#1c1c1c" stroke-width="0.22">300</text>
<line x1="204.5" y1="385.5" x2="208.5" y2="385.5" stroke="#1c1c1c" stroke-width="1.1"/>
<text x="203.4" y="389.4" font-size="10" text-anchor="end" stroke="#1c1c1c" stroke-width="0.22">400</text>
<line x1="205.5" y1="448.5" x2="208.5" y2="448.5" stroke="#1c1c1c" stroke-width="1"/>
<line x1="205.5" y1="430.5" x2="208.5" y2="430.5" stroke="#1c1c1c" stroke-width="1"/>
<line x1="205.5" y1="412.5" x2="208.5" y2="412.5" stroke="#1c1c1c" stroke-width="1"/>
<line x1="205.5" y1="394.5" x2="208.5" y2="394.5" stroke="#1c1c1c" stroke-width="1"/>
<line x1="216.5" y1="457.4" x2="216.5" y2="460.9" stroke="#1c1c1c" stroke-width="1.1"/>
<text x="216.6" y="474.8" font-size="10.2" text-anchor="middle" stroke="#1c1c1c" stroke-width="0.22">3</text>
<line x1="244.5" y1="457.4" x2="244.5" y2="460.9" stroke="#1c1c1c" stroke-width="1.1"/>
<text x="244.9" y="474.8" font-size="10.2" text-anchor="middle" stroke="#1c1c1c" stroke-width="0.22">4</text>
<line x1="273.5" y1="457.4" x2="273.5" y2="460.9" stroke="#1c1c1c" stroke-width="1.1"/>
<text x="273.1" y="474.8" font-size="10.2" text-anchor="middle" stroke="#1c1c1c" stroke-width="0.22">5</text>
<line x1="301.5" y1="457.4" x2="301.5" y2="460.9" stroke="#1c1c1c" stroke-width="1.1"/>
<text x="301.4" y="474.8" font-size="10.2" text-anchor="middle" stroke="#1c1c1c" stroke-width="0.22">6</text>
<line x1="216.5" y1="443" x2="216.5" y2="455" stroke="#1c1c1c" stroke-width="1.2"/>
<line x1="244.5" y1="401.4" x2="244.5" y2="418" stroke="#1c1c1c" stroke-width="1.2"/>
<line x1="244.5" y1="429.8" x2="244.5" y2="444.3" stroke="#1c1c1c" stroke-width="1.2"/>
<line x1="273.5" y1="390.9" x2="273.5" y2="409.9" stroke="#1c1c1c" stroke-width="1.2"/>
<line x1="273.5" y1="423.6" x2="273.5" y2="440.8" stroke="#1c1c1c" stroke-width="1.2"/>
<line x1="301.5" y1="379" x2="301.5" y2="397.3" stroke="#1c1c1c" stroke-width="1.2"/>
<line x1="301.5" y1="407" x2="301.5" y2="430.5" stroke="#1c1c1c" stroke-width="1.2"/>
<path d="M216.6 446.6 L244.9 409.9 L273.1 400.7 L301.4 388.6" stroke="#1c1c1c" stroke-width="1.3" fill="none"/>
<path d="M216.6 451.8 L244.9 436.7 L273.1 432.1 L301.4 419" stroke="#1c1c1c" stroke-width="1.3" fill="none"/>
<circle cx="216.6" cy="451.8" r="2.75" fill="#1c1c8c" stroke="#1c1c1c" stroke-width="0.7"/>
<circle cx="244.9" cy="436.7" r="2.75" fill="#1c1c8c" stroke="#1c1c1c" stroke-width="0.7"/>
<circle cx="273.1" cy="432.1" r="2.75" fill="#1c1c8c" stroke="#1c1c1c" stroke-width="0.7"/>
<circle cx="301.4" cy="419" r="2.75" fill="#1c1c8c" stroke="#1c1c1c" stroke-width="0.7"/>
<rect x="214.1" y="444.1" width="5" height="5" fill="#d8201f" stroke="#1c1c1c" stroke-width="0.7"/>
<rect x="242.4" y="407.4" width="5" height="5" fill="#d8201f" stroke="#1c1c1c" stroke-width="0.7"/>
<rect x="270.6" y="398.2" width="5" height="5" fill="#d8201f" stroke="#1c1c1c" stroke-width="0.7"/>
<rect x="298.9" y="386.1" width="5" height="5" fill="#d8201f" stroke="#1c1c1c" stroke-width="0.7"/>
<circle cx="216.2" cy="384.2" r="2.5" fill="#1c1c8c" stroke="#1c1c1c" stroke-width="0.7"/>
<text x="222" y="386.5" font-size="6" stroke="#1c1c1c" stroke-width="0.22">Vector (n=10)</text>
<rect x="214" y="390.4" width="4.4" height="4.4" fill="#d8201f" stroke="#1c1c1c" stroke-width="0.7"/>
<text x="222" y="394.9" font-size="6" stroke="#1c1c1c" stroke-width="0.22">Coco (n=10)</text>
<text x="243.4" y="451.2" font-size="6.2" text-anchor="middle" stroke="#1c1c1c" stroke-width="0.22">P=0.02</text>
<text x="273.2" y="447.3" font-size="6.2" text-anchor="middle" stroke="#1c1c1c" stroke-width="0.22">P=0.018</text>
<text x="300.3" y="436.3" font-size="6.2" text-anchor="middle" stroke="#1c1c1c" stroke-width="0.22">P=0.04</text>
<text x="262" y="371" font-size="10.2" text-anchor="middle" stroke="#1c1c1c" stroke-width="0.22">0.5 x 10<tspan font-size="6.94" dy="-4">5</tspan><tspan dy="4"> cells</tspan></text>
<text x="258.6" y="488.3" font-size="10.6" text-anchor="middle" stroke="#1c1c1c" stroke-width="0.22">Weeks</text>
<rect x="345.5" y="377.5" width="103" height="80" fill="none" stroke="#1c1c1c" stroke-width="1.2"/>
<line x1="341.6" y1="457.5" x2="345.6" y2="457.5" stroke="#1c1c1c" stroke-width="1.1"/>
<text x="338.6" y="461.2" font-size="10" text-anchor="end" stroke="#1c1c1c" stroke-width="0.22">0</text>
<line x1="341.6" y1="441.5" x2="345.6" y2="441.5" stroke="#1c1c1c" stroke-width="1.1"/>
<text x="338.6" y="445.08" font-size="10" text-anchor="end" stroke="#1c1c1c" stroke-width="0.22">100</text>
<line x1="341.6" y1="425.5" x2="345.6" y2="425.5" stroke="#1c1c1c" stroke-width="1.1"/>
<text x="338.6" y="428.96" font-size="10" text-anchor="end" stroke="#1c1c1c" stroke-width="0.22">200</text>
<line x1="341.6" y1="409.5" x2="345.6" y2="409.5" stroke="#1c1c1c" stroke-width="1.1"/>
<text x="338.6" y="412.84" font-size="10" text-anchor="end" stroke="#1c1c1c" stroke-width="0.22">300</text>
<line x1="341.6" y1="393.5" x2="345.6" y2="393.5" stroke="#1c1c1c" stroke-width="1.1"/>
<text x="338.6" y="396.72" font-size="10" text-anchor="end" stroke="#1c1c1c" stroke-width="0.22">400</text>
<line x1="341.6" y1="377.5" x2="345.6" y2="377.5" stroke="#1c1c1c" stroke-width="1.1"/>
<text x="338.6" y="380.6" font-size="10" text-anchor="end" stroke="#1c1c1c" stroke-width="0.22">500</text>
<line x1="353.5" y1="457.6" x2="353.5" y2="461.1" stroke="#1c1c1c" stroke-width="1.1"/>
<text x="353" y="474.8" font-size="10.2" text-anchor="middle" stroke="#1c1c1c" stroke-width="0.22">3</text>
<line x1="381.5" y1="457.6" x2="381.5" y2="461.1" stroke="#1c1c1c" stroke-width="1.1"/>
<text x="381.7" y="474.8" font-size="10.2" text-anchor="middle" stroke="#1c1c1c" stroke-width="0.22">4</text>
<line x1="410.5" y1="457.6" x2="410.5" y2="461.1" stroke="#1c1c1c" stroke-width="1.1"/>
<text x="410.6" y="474.8" font-size="10.2" text-anchor="middle" stroke="#1c1c1c" stroke-width="0.22">5</text>
<line x1="439.5" y1="457.6" x2="439.5" y2="461.1" stroke="#1c1c1c" stroke-width="1.1"/>
<text x="439.1" y="474.8" font-size="10.2" text-anchor="middle" stroke="#1c1c1c" stroke-width="0.22">6</text>
<line x1="353.5" y1="444" x2="353.5" y2="455" stroke="#1c1c1c" stroke-width="1.2"/>
<line x1="351.4" y1="444.5" x2="354.6" y2="444.5" stroke="#1c1c1c" stroke-width="1"/>
<line x1="351.4" y1="455.5" x2="354.6" y2="455.5" stroke="#1c1c1c" stroke-width="1"/>
<line x1="381.5" y1="439" x2="381.5" y2="451" stroke="#1c1c1c" stroke-width="1.2"/>
<line x1="380.1" y1="439.5" x2="383.3" y2="439.5" stroke="#1c1c1c" stroke-width="1"/>
<line x1="380.1" y1="451.5" x2="383.3" y2="451.5" stroke="#1c1c1c" stroke-width="1"/>
<line x1="410.5" y1="417.9" x2="410.5" y2="435.2" stroke="#1c1c1c" stroke-width="1.2"/>
<line x1="409" y1="417.5" x2="412.2" y2="417.5" stroke="#1c1c1c" stroke-width="1"/>
<line x1="409" y1="435.5" x2="412.2" y2="435.5" stroke="#1c1c1c" stroke-width="1"/>
<line x1="439.5" y1="380" x2="439.5" y2="411.6" stroke="#1c1c1c" stroke-width="1.2"/>
<line x1="437.5" y1="380.5" x2="440.7" y2="380.5" stroke="#1c1c1c" stroke-width="1"/>
<line x1="437.5" y1="411.5" x2="440.7" y2="411.5" stroke="#1c1c1c" stroke-width="1"/>
<line x1="439.5" y1="386.8" x2="439.5" y2="406.1" stroke="#1c1c1c" stroke-width="1.2"/>
<line x1="437.5" y1="386.5" x2="440.7" y2="386.5" stroke="#1c1c1c" stroke-width="1"/>
<line x1="437.5" y1="406.5" x2="440.7" y2="406.5" stroke="#1c1c1c" stroke-width="1"/>
<path d="M353 447.6 L381.7 441.8 L410.6 425.2 L439.1 395.2" stroke="#1c1c1c" stroke-width="1.3" fill="none"/>
<path d="M353 451.4 L381.7 445.6 L410.6 425.6 L439.1 398.9" stroke="#1c1c1c" stroke-width="1.3" fill="none"/>
<rect x="350.5" y="445.1" width="5" height="5" fill="#d8201f" stroke="#1c1c1c" stroke-width="0.7"/>
<rect x="379.2" y="439.3" width="5" height="5" fill="#d8201f" stroke="#1c1c1c" stroke-width="0.7"/>
<rect x="408.1" y="422.7" width="5" height="5" fill="#d8201f" stroke="#1c1c1c" stroke-width="0.7"/>
<rect x="436.6" y="392.7" width="5" height="5" fill="#d8201f" stroke="#1c1c1c" stroke-width="0.7"/>
<circle cx="353" cy="451.4" r="2.75" fill="#1c1c8c" stroke="#1c1c1c" stroke-width="0.7"/>
<circle cx="381.7" cy="445.6" r="2.75" fill="#1c1c8c" stroke="#1c1c1c" stroke-width="0.7"/>
<circle cx="410.6" cy="425.6" r="2.75" fill="#1c1c8c" stroke="#1c1c1c" stroke-width="0.7"/>
<circle cx="439.1" cy="398.9" r="2.75" fill="#1c1c8c" stroke="#1c1c1c" stroke-width="0.7"/>
<circle cx="353.1" cy="384.2" r="2.5" fill="#1c1c8c" stroke="#1c1c1c" stroke-width="0.7"/>
<text x="358.5" y="386.7" font-size="6" stroke="#1c1c1c" stroke-width="0.22">Vector (n=10)</text>
<rect x="350.9" y="390.6" width="4.4" height="4.4" fill="#d8201f" stroke="#1c1c1c" stroke-width="0.7"/>
<text x="358.5" y="395.2" font-size="6" stroke="#1c1c1c" stroke-width="0.22">Coco (n=10)</text>
<text x="436.1" y="420.2" font-size="6.2" text-anchor="middle" stroke="#1c1c1c" stroke-width="0.22">P&gt;0.05</text>
<text x="396" y="371.4" font-size="10.2" text-anchor="middle" stroke="#1c1c1c" stroke-width="0.22">2 x 10<tspan font-size="6.94" dy="-4">5</tspan><tspan dy="4"> cells</tspan></text>
<text x="396.8" y="488.6" font-size="10.6" text-anchor="middle" stroke="#1c1c1c" stroke-width="0.22">Weeks</text>
<text transform="translate(11.95 514.90) scale(0.2931 0.3000)" font-size="100">H</text>
<text transform="translate(39 576) rotate(-90)" font-size="10.2" text-anchor="middle" stroke="#1c1c1c" stroke-width="0.22">Tumor volume (mm<tspan font-size="6.8" dy="-4">3</tspan><tspan dy="4">)</tspan></text>
<text x="258.2" y="515.6" font-size="12.2" fill="#e8245e" text-anchor="middle" stroke="#e8245e" stroke-width="0.22">4T1</text>
<rect x="68.5" y="535.5" width="104" height="81" fill="none" stroke="#1c1c1c" stroke-width="1.2"/>
<line x1="64.5" y1="616.5" x2="68.5" y2="616.5" stroke="#1c1c1c" stroke-width="1.1"/>
<text x="60.6" y="619.9" font-size="10" text-anchor="end" stroke="#1c1c1c" stroke-width="0.22">0</text>
<line x1="64.5" y1="602.5" x2="68.5" y2="602.5" stroke="#1c1c1c" stroke-width="1.1"/>
<text x="60.6" y="606.48" font-size="10" text-anchor="end" stroke="#1c1c1c" stroke-width="0.22">100</text>
<line x1="64.5" y1="589.5" x2="68.5" y2="589.5" stroke="#1c1c1c" stroke-width="1.1"/>
<text x="60.6" y="593.06" font-size="10" text-anchor="end" stroke="#1c1c1c" stroke-width="0.22">200</text>
<line x1="64.5" y1="576.5" x2="68.5" y2="576.5" stroke="#1c1c1c" stroke-width="1.1"/>
<text x="60.6" y="579.64" font-size="10" text-anchor="end" stroke="#1c1c1c" stroke-width="0.22">300</text>
<line x1="64.5" y1="562.5" x2="68.5" y2="562.5" stroke="#1c1c1c" stroke-width="1.1"/>
<text x="60.6" y="566.22" font-size="10" text-anchor="end" stroke="#1c1c1c" stroke-width="0.22">400</text>
<line x1="64.5" y1="549.5" x2="68.5" y2="549.5" stroke="#1c1c1c" stroke-width="1.1"/>
<text x="60.6" y="552.8" font-size="10" text-anchor="end" stroke="#1c1c1c" stroke-width="0.22">500</text>
<line x1="64.5" y1="535.5" x2="68.5" y2="535.5" stroke="#1c1c1c" stroke-width="1.1"/>
<text x="60.6" y="539.38" font-size="10" text-anchor="end" stroke="#1c1c1c" stroke-width="0.22">600</text>
<line x1="78.5" y1="616.3" x2="78.5" y2="619.8" stroke="#1c1c1c" stroke-width="1.1"/>
<text x="78.8" y="633.2" font-size="10.2" text-anchor="middle" stroke="#1c1c1c" stroke-width="0.22">2</text>
<line x1="100.5" y1="616.3" x2="100.5" y2="619.8" stroke="#1c1c1c" stroke-width="1.1"/>
<text x="100" y="633.2" font-size="10.2" text-anchor="middle" stroke="#1c1c1c" stroke-width="0.22">3</text>
<line x1="121.5" y1="616.3" x2="121.5" y2="619.8" stroke="#1c1c1c" stroke-width="1.1"/>
<text x="121.2" y="633.2" font-size="10.2" text-anchor="middle" stroke="#1c1c1c" stroke-width="0.22">4</text>
<line x1="142.5" y1="616.3" x2="142.5" y2="619.8" stroke="#1c1c1c" stroke-width="1.1"/>
<text x="142.5" y="633.2" font-size="10.2" text-anchor="middle" stroke="#1c1c1c" stroke-width="0.22">5</text>
<line x1="163.5" y1="616.3" x2="163.5" y2="619.8" stroke="#1c1c1c" stroke-width="1.1"/>
<text x="163.7" y="633.2" font-size="10.2" text-anchor="middle" stroke="#1c1c1c" stroke-width="0.22">6</text>
<line x1="142.5" y1="560.9" x2="142.5" y2="575.3" stroke="#1c1c1c" stroke-width="1.2"/>
<line x1="163.5" y1="539.8" x2="163.5" y2="561.8" stroke="#1c1c1c" stroke-width="1.2"/>
<line x1="163.5" y1="573.1" x2="163.5" y2="594.2" stroke="#1c1c1c" stroke-width="1.2"/>
<line x1="142.5" y1="593" x2="142.5" y2="604" stroke="#1c1c1c" stroke-width="1.2"/>
<line x1="163.5" y1="598" x2="163.5" y2="610" stroke="#1c1c1c" stroke-width="1.2"/>
<line x1="121.5" y1="596.5" x2="121.5" y2="605" stroke="#1c1c1c" stroke-width="1.2"/>
<path d="M78.8 612.3 L100 610.7 L121.2 600.8 L142.5 568 L163.7 550.8" stroke="#1c1c1c" stroke-width="1.3" fill="none"/>
<path d="M78.8 615.8 L100 614.7 L121.2 614.5 L142.5 609.6 L163.7 603.9" stroke="#1c1c1c" stroke-width="1.3" fill="none"/>
<path d="M78.8 615.6 L100 614 L121.2 606.7 L142.5 598.5 L163.7 583.7" stroke="#1c1c1c" stroke-width="1.3" fill="none"/>
<rect x="76.8" y="613.8" width="4" height="4" fill="#d8201f" stroke="#1c1c1c" stroke-width="0.7"/>
<rect x="98" y="612.7" width="4" height="4" fill="#d8201f" stroke="#1c1c1c" stroke-width="0.7"/>
<rect x="119.2" y="612.5" width="4" height="4" fill="#d8201f" stroke="#1c1c1c" stroke-width="0.7"/>
<rect x="140.5" y="607.6" width="4" height="4" fill="#d8201f" stroke="#1c1c1c" stroke-width="0.7"/>
<rect x="161.7" y="601.9" width="4" height="4" fill="#d8201f" stroke="#1c1c1c" stroke-width="0.7"/>
<circle cx="78.8" cy="615.6" r="2.6" fill="#d8201f" stroke="#1c1c1c" stroke-width="0.7"/>
<circle cx="100" cy="614" r="2.6" fill="#d8201f" stroke="#1c1c1c" stroke-width="0.7"/>
<circle cx="121.2" cy="606.7" r="2.6" fill="#d8201f" stroke="#1c1c1c" stroke-width="0.7"/>
<circle cx="142.5" cy="598.5" r="2.6" fill="#d8201f" stroke="#1c1c1c" stroke-width="0.7"/>
<circle cx="163.7" cy="583.7" r="2.6" fill="#d8201f" stroke="#1c1c1c" stroke-width="0.7"/>
<path d="M78.8 609L82.1 612.3L78.8 615.6L75.5 612.3Z" fill="#1c1c8c" stroke="#1c1c1c" stroke-width="0.6"/>
<path d="M100 607.4L103.3 610.7L100 614L96.7 610.7Z" fill="#1c1c8c" stroke="#1c1c1c" stroke-width="0.6"/>
<path d="M121.2 597.5L124.5 600.8L121.2 604.1L117.9 600.8Z" fill="#1c1c8c" stroke="#1c1c1c" stroke-width="0.6"/>
<path d="M142.5 564.7L145.8 568L142.5 571.3L139.2 568Z" fill="#1c1c8c" stroke="#1c1c1c" stroke-width="0.6"/>
<path d="M163.7 547.5L167 550.8L163.7 554.1L160.4 550.8Z" fill="#1c1c8c" stroke="#1c1c1c" stroke-width="0.6"/>
<path d="M75.5 539.3L78.3 542.1L75.5 544.9L72.7 542.1Z" fill="#1c1c8c" stroke="#1c1c1c" stroke-width="0.6"/>
<text x="81" y="544.3" font-size="6.1" stroke="#1c1c1c" stroke-width="0.22">sh-Control (n=30)</text>
<rect x="73.6" y="548.3" width="3.8" height="3.8" fill="#d8201f" stroke="#1c1c1c" stroke-width="0.7"/>
<text x="81" y="552.3" font-size="6.1" stroke="#1c1c1c" stroke-width="0.22">sh-Coco #1 (n=30)</text>
<circle cx="75.5" cy="557.6" r="2.4" fill="#d8201f" stroke="#1c1c1c" stroke-width="0.7"/>
<text x="81" y="559.8" font-size="6.1" stroke="#1c1c1c" stroke-width="0.22">sh-Coco #3 (n=30)</text>
<text x="141.4" y="591.5" font-size="6.2" text-anchor="middle" stroke="#1c1c1c" stroke-width="0.22">P&lt;0.02</text>
<text x="161.3" y="599.7" font-size="6.2" text-anchor="middle" stroke="#1c1c1c" stroke-width="0.22">P=0.04</text>
<text x="161.3" y="615.2" font-size="6.2" text-anchor="middle" stroke="#1c1c1c" stroke-width="0.22">P=6E-4</text>
<text x="119.2" y="530" font-size="10.2" text-anchor="middle" stroke="#1c1c1c" stroke-width="0.22">10<tspan font-size="6.94" dy="-4">3</tspan><tspan dy="4"> cells</tspan></text>
<text x="122.5" y="646.3" font-size="10.6" text-anchor="middle" stroke="#1c1c1c" stroke-width="0.22">Weeks</text>
<rect x="206.5" y="537.5" width="104" height="79" fill="none" stroke="#1c1c1c" stroke-width="1.2"/>
<line x1="202" y1="616.5" x2="206" y2="616.5" stroke="#1c1c1c" stroke-width="1.1"/>
<text x="199.4" y="620.2" font-size="10" text-anchor="end" stroke="#1c1c1c" stroke-width="0.22">0</text>
<line x1="202" y1="600.5" x2="206" y2="600.5" stroke="#1c1c1c" stroke-width="1.1"/>
<text x="199.4" y="604.44" font-size="10" text-anchor="end" stroke="#1c1c1c" stroke-width="0.22">100</text>
<line x1="202" y1="585.5" x2="206" y2="585.5" stroke="#1c1c1c" stroke-width="1.1"/>
<text x="199.4" y="588.68" font-size="10" text-anchor="end" stroke="#1c1c1c" stroke-width="0.22">200</text>
<line x1="202" y1="569.5" x2="206" y2="569.5" stroke="#1c1c1c" stroke-width="1.1"/>
<text x="199.4" y="572.92" font-size="10" text-anchor="end" stroke="#1c1c1c" stroke-width="0.22">300</text>
<line x1="202" y1="553.5" x2="206" y2="553.5" stroke="#1c1c1c" stroke-width="1.1"/>
<text x="199.4" y="557.16" font-size="10" text-anchor="end" stroke="#1c1c1c" stroke-width="0.22">400</text>
<line x1="202" y1="537.5" x2="206" y2="537.5" stroke="#1c1c1c" stroke-width="1.1"/>
<text x="199.4" y="541.4" font-size="10" text-anchor="end" stroke="#1c1c1c" stroke-width="0.22">500</text>
<line x1="203" y1="608.5" x2="206" y2="608.5" stroke="#1c1c1c" stroke-width="1"/>
<line x1="203" y1="592.5" x2="206" y2="592.5" stroke="#1c1c1c" stroke-width="1"/>
<line x1="203" y1="577.5" x2="206" y2="577.5" stroke="#1c1c1c" stroke-width="1"/>
<line x1="203" y1="561.5" x2="206" y2="561.5" stroke="#1c1c1c" stroke-width="1"/>
<line x1="203" y1="545.5" x2="206" y2="545.5" stroke="#1c1c1c" stroke-width="1"/>
<line x1="217.5" y1="616.6" x2="217.5" y2="620.1" stroke="#1c1c1c" stroke-width="1.1"/>
<text x="217.8" y="633.8" font-size="10.2" text-anchor="middle" stroke="#1c1c1c" stroke-width="0.22">2</text>
<line x1="238.5" y1="616.6" x2="238.5" y2="620.1" stroke="#1c1c1c" stroke-width="1.1"/>
<text x="238.7" y="633.8" font-size="10.2" text-anchor="middle" stroke="#1c1c1c" stroke-width="0.22">3</text>
<line x1="259.5" y1="616.6" x2="259.5" y2="620.1" stroke="#1c1c1c" stroke-width="1.1"/>
<text x="259.6" y="633.8" font-size="10.2" text-anchor="middle" stroke="#1c1c1c" stroke-width="0.22">4</text>
<line x1="280.5" y1="616.6" x2="280.5" y2="620.1" stroke="#1c1c1c" stroke-width="1.1"/>
<text x="280.5" y="633.8" font-size="10.2" text-anchor="middle" stroke="#1c1c1c" stroke-width="0.22">5</text>
<line x1="301.5" y1="616.6" x2="301.5" y2="620.1" stroke="#1c1c1c" stroke-width="1.1"/>
<text x="301.4" y="633.8" font-size="10.2" text-anchor="middle" stroke="#1c1c1c" stroke-width="0.22">6</text>
<line x1="217.5" y1="602.9" x2="217.5" y2="617" stroke="#1c1c1c" stroke-width="1.2"/>
<line x1="259.5" y1="589" x2="259.5" y2="597.5" stroke="#1c1c1c" stroke-width="1.2"/>
<line x1="280.5" y1="556.3" x2="280.5" y2="604" stroke="#1c1c1c" stroke-width="1.2"/>
<line x1="301.5" y1="544.7" x2="301.5" y2="590.6" stroke="#1c1c1c" stroke-width="1.2"/>
<path d="M217.8 610 L238.7 606.9 L259.6 593.9 L280.5 564.6 L301.4 553.9" stroke="#1c1c1c" stroke-width="1.3" fill="none"/>
<path d="M217.8 615.9 L238.7 615.2 L259.6 611.1 L280.5 598.1 L301.4 578.3" stroke="#1c1c1c" stroke-width="1.3" fill="none"/>
<path d="M217.8 614 L238.7 613 L259.6 601.7 L280.5 581.6 L301.4 560.3" stroke="#1c1c1c" stroke-width="1.3" fill="none"/>
<rect x="215.8" y="613.9" width="4" height="4" fill="#d8201f" stroke="#1c1c1c" stroke-width="0.7"/>
<rect x="236.7" y="613.2" width="4" height="4" fill="#d8201f" stroke="#1c1c1c" stroke-width="0.7"/>
<rect x="257.6" y="609.1" width="4" height="4" fill="#d8201f" stroke="#1c1c1c" stroke-width="0.7"/>
<rect x="278.5" y="596.1" width="4" height="4" fill="#d8201f" stroke="#1c1c1c" stroke-width="0.7"/>
<rect x="299.4" y="576.3" width="4" height="4" fill="#d8201f" stroke="#1c1c1c" stroke-width="0.7"/>
<circle cx="217.8" cy="614" r="2.6" fill="#d8201f" stroke="#1c1c1c" stroke-width="0.7"/>
<circle cx="238.7" cy="613" r="2.6" fill="#d8201f" stroke="#1c1c1c" stroke-width="0.7"/>
<circle cx="259.6" cy="601.7" r="2.6" fill="#d8201f" stroke="#1c1c1c" stroke-width="0.7"/>
<circle cx="280.5" cy="581.6" r="2.6" fill="#d8201f" stroke="#1c1c1c" stroke-width="0.7"/>
<circle cx="301.4" cy="560.3" r="2.6" fill="#d8201f" stroke="#1c1c1c" stroke-width="0.7"/>
<path d="M217.8 606.7L221.1 610L217.8 613.3L214.5 610Z" fill="#1c1c8c" stroke="#1c1c1c" stroke-width="0.6"/>
<path d="M238.7 603.6L242 606.9L238.7 610.2L235.4 606.9Z" fill="#1c1c8c" stroke="#1c1c1c" stroke-width="0.6"/>
<path d="M259.6 590.6L262.9 593.9L259.6 597.2L256.3 593.9Z" fill="#1c1c8c" stroke="#1c1c1c" stroke-width="0.6"/>
<path d="M280.5 561.3L283.8 564.6L280.5 567.9L277.2 564.6Z" fill="#1c1c8c" stroke="#1c1c1c" stroke-width="0.6"/>
<path d="M301.4 550.6L304.7 553.9L301.4 557.2L298.1 553.9Z" fill="#1c1c8c" stroke="#1c1c1c" stroke-width="0.6"/>
<path d="M213.1 540.9L215.9 543.7L213.1 546.5L210.3 543.7Z" fill="#1c1c8c" stroke="#1c1c1c" stroke-width="0.6"/>
<text x="217.8" y="545.9" font-size="6.1" stroke="#1c1c1c" stroke-width="0.22">sh-Control (n=30)</text>
<rect x="211.2" y="548.9" width="3.8" height="3.8" fill="#d8201f" stroke="#1c1c1c" stroke-width="0.7"/>
<text x="217.8" y="553" font-size="6.1" stroke="#1c1c1c" stroke-width="0.22">sh-Coco #1 (n=30)</text>
<circle cx="213.1" cy="557.9" r="2.4" fill="#d8201f" stroke="#1c1c1c" stroke-width="0.7"/>
<text x="217.8" y="560.1" font-size="6.1" stroke="#1c1c1c" stroke-width="0.22">sh-Coco #3 (n=30)</text>
<text x="298.7" y="611.4" font-size="6" text-anchor="middle" stroke="#1c1c1c" stroke-width="0.22">P&gt;0.05</text>
<text x="259.8" y="530.7" font-size="10.2" text-anchor="middle" stroke="#1c1c1c" stroke-width="0.22">10<tspan font-size="6.94" dy="-4">4</tspan><tspan dy="4"> cells</tspan></text>
<text x="259.2" y="647.6" font-size="10.6" text-anchor="middle" stroke="#1c1c1c" stroke-width="0.22">Weeks</text>
<rect x="342.5" y="536.5" width="105" height="81" fill="none" stroke="#1c1c1c" stroke-width="1.2"/>
<line x1="338.9" y1="617.5" x2="342.9" y2="617.5" stroke="#1c1c1c" stroke-width="1.1"/>
<text x="336.4" y="620.6" font-size="10" text-anchor="end" stroke="#1c1c1c" stroke-width="0.22">0</text>
<line x1="338.9" y1="599.5" x2="342.9" y2="599.5" stroke="#1c1c1c" stroke-width="1.1"/>
<text x="336.4" y="602.82" font-size="10" text-anchor="end" stroke="#1c1c1c" stroke-width="0.22">200</text>
<line x1="338.9" y1="581.5" x2="342.9" y2="581.5" stroke="#1c1c1c" stroke-width="1.1"/>
<text x="336.4" y="585.04" font-size="10" text-anchor="end" stroke="#1c1c1c" stroke-width="0.22">400</text>
<line x1="338.9" y1="563.5" x2="342.9" y2="563.5" stroke="#1c1c1c" stroke-width="1.1"/>
<text x="336.4" y="567.26" font-size="10" text-anchor="end" stroke="#1c1c1c" stroke-width="0.22">600</text>
<line x1="338.9" y1="545.5" x2="342.9" y2="545.5" stroke="#1c1c1c" stroke-width="1.1"/>
<text x="336.4" y="549.48" font-size="10" text-anchor="end" stroke="#1c1c1c" stroke-width="0.22">800</text>
<line x1="339.9" y1="608.5" x2="342.9" y2="608.5" stroke="#1c1c1c" stroke-width="1"/>
<line x1="339.9" y1="590.5" x2="342.9" y2="590.5" stroke="#1c1c1c" stroke-width="1"/>
<line x1="339.9" y1="572.5" x2="342.9" y2="572.5" stroke="#1c1c1c" stroke-width="1"/>
<line x1="339.9" y1="554.5" x2="342.9" y2="554.5" stroke="#1c1c1c" stroke-width="1"/>
<line x1="339.9" y1="536.5" x2="342.9" y2="536.5" stroke="#1c1c1c" stroke-width="1"/>
<line x1="356.5" y1="617" x2="356.5" y2="620.5" stroke="#1c1c1c" stroke-width="1.1"/>
<text x="356.4" y="634" font-size="10.2" text-anchor="middle" stroke="#1c1c1c" stroke-width="0.22">2</text>
<line x1="377.5" y1="617" x2="377.5" y2="620.5" stroke="#1c1c1c" stroke-width="1.1"/>
<text x="377.3" y="634" font-size="10.2" text-anchor="middle" stroke="#1c1c1c" stroke-width="0.22">3</text>
<line x1="398.5" y1="617" x2="398.5" y2="620.5" stroke="#1c1c1c" stroke-width="1.1"/>
<text x="398.2" y="634" font-size="10.2" text-anchor="middle" stroke="#1c1c1c" stroke-width="0.22">4</text>
<line x1="419.5" y1="617" x2="419.5" y2="620.5" stroke="#1c1c1c" stroke-width="1.1"/>
<text x="419.1" y="634" font-size="10.2" text-anchor="middle" stroke="#1c1c1c" stroke-width="0.22">5</text>
<line x1="440.5" y1="617" x2="440.5" y2="620.5" stroke="#1c1c1c" stroke-width="1.1"/>
<text x="440" y="634" font-size="10.2" text-anchor="middle" stroke="#1c1c1c" stroke-width="0.22">6</text>
<line x1="419.5" y1="565" x2="419.5" y2="581.4" stroke="#1c1c1c" stroke-width="1.2"/>
<line x1="440.5" y1="543.8" x2="440.5" y2="569.5" stroke="#1c1c1c" stroke-width="1.2"/>
<path d="M356.4 610.8 L377.3 605.2 L398.2 594.6 L419.1 568.6 L440 561.2" stroke="#1c1c1c" stroke-width="1.3" fill="none"/>
<path d="M356.4 613.7 L377.3 611.9 L398.2 599.7 L419.1 575.5 L440 564" stroke="#1c1c1c" stroke-width="1.3" fill="none"/>
<path d="M356.4 613.2 L377.3 610.8 L398.2 598.6 L419.1 573.1 L440 550.8" stroke="#1c1c1c" stroke-width="1.3" fill="none"/>
<rect x="354.4" y="611.7" width="4" height="4" fill="#d8201f" stroke="#1c1c1c" stroke-width="0.7"/>
<rect x="375.3" y="609.9" width="4" height="4" fill="#d8201f" stroke="#1c1c1c" stroke-width="0.7"/>
<rect x="396.2" y="597.7" width="4" height="4" fill="#d8201f" stroke="#1c1c1c" stroke-width="0.7"/>
<rect x="417.1" y="573.5" width="4" height="4" fill="#d8201f" stroke="#1c1c1c" stroke-width="0.7"/>
<rect x="438" y="562" width="4" height="4" fill="#d8201f" stroke="#1c1c1c" stroke-width="0.7"/>
<circle cx="356.4" cy="613.2" r="2.6" fill="#d8201f" stroke="#1c1c1c" stroke-width="0.7"/>
<circle cx="377.3" cy="610.8" r="2.6" fill="#d8201f" stroke="#1c1c1c" stroke-width="0.7"/>
<circle cx="398.2" cy="598.6" r="2.6" fill="#d8201f" stroke="#1c1c1c" stroke-width="0.7"/>
<circle cx="419.1" cy="573.1" r="2.6" fill="#d8201f" stroke="#1c1c1c" stroke-width="0.7"/>
<circle cx="440" cy="550.8" r="2.6" fill="#d8201f" stroke="#1c1c1c" stroke-width="0.7"/>
<path d="M356.4 607.5L359.7 610.8L356.4 614.1L353.1 610.8Z" fill="#1c1c8c" stroke="#1c1c1c" stroke-width="0.6"/>
<path d="M377.3 601.9L380.6 605.2L377.3 608.5L374 605.2Z" fill="#1c1c8c" stroke="#1c1c1c" stroke-width="0.6"/>
<path d="M398.2 591.3L401.5 594.6L398.2 597.9L394.9 594.6Z" fill="#1c1c8c" stroke="#1c1c1c" stroke-width="0.6"/>
<path d="M419.1 565.3L422.4 568.6L419.1 571.9L415.8 568.6Z" fill="#1c1c8c" stroke="#1c1c1c" stroke-width="0.6"/>
<path d="M440 557.9L443.3 561.2L440 564.5L436.7 561.2Z" fill="#1c1c8c" stroke="#1c1c1c" stroke-width="0.6"/>
<path d="M349.9 541.5L352.7 544.3L349.9 547.1L347.1 544.3Z" fill="#1c1c8c" stroke="#1c1c1c" stroke-width="0.6"/>
<text x="355.4" y="546.5" font-size="6.1" stroke="#1c1c1c" stroke-width="0.22">sh-Control (n=30)</text>
<rect x="348" y="549.7" width="3.8" height="3.8" fill="#d8201f" stroke="#1c1c1c" stroke-width="0.7"/>
<text x="355.4" y="553.8" font-size="6.1" stroke="#1c1c1c" stroke-width="0.22">sh-Coco #1 (n=30)</text>
<circle cx="349.9" cy="558.7" r="2.4" fill="#d8201f" stroke="#1c1c1c" stroke-width="0.7"/>
<text x="355.4" y="560.9" font-size="6.1" stroke="#1c1c1c" stroke-width="0.22">sh-Coco #3 (n=30)</text>
<text x="434.4" y="610.8" font-size="6" text-anchor="middle" stroke="#1c1c1c" stroke-width="0.22">P&gt;0.05</text>
<text x="395.3" y="531" font-size="10.2" text-anchor="middle" stroke="#1c1c1c" stroke-width="0.22">10<tspan font-size="6.94" dy="-4">5</tspan><tspan dy="4"> cells</tspan></text>
<text x="395.9" y="647.3" font-size="10.6" text-anchor="middle" stroke="#1c1c1c" stroke-width="0.22">Weeks</text>
<text transform="translate(470.75 357.80) scale(0.3071 0.2986)" font-size="100">I</text>
<line x1="531.5" y1="463.63" x2="531.5" y2="462.3" stroke="#1c1c1c" stroke-width="1"/>
<line x1="529.9" y1="462.5" x2="533.9" y2="462.5" stroke="#1c1c1c" stroke-width="1"/>
<rect x="527.5" y="463.5" width="9" height="11" fill="#2aa8e0" stroke="#1c1c1c" stroke-width="0.9"/>
<line x1="542.5" y1="438.17" x2="542.5" y2="436.18" stroke="#1c1c1c" stroke-width="1"/>
<line x1="540.5" y1="436.5" x2="544.5" y2="436.5" stroke="#1c1c1c" stroke-width="1"/>
<rect x="538.5" y="438.5" width="8" height="36" fill="#e2232a" stroke="#1c1c1c" stroke-width="0.9"/>
<line x1="563.5" y1="463.63" x2="563.5" y2="460.97" stroke="#1c1c1c" stroke-width="1"/>
<line x1="561.95" y1="460.5" x2="565.95" y2="460.5" stroke="#1c1c1c" stroke-width="1"/>
<rect x="559.5" y="463.5" width="9" height="11" fill="#2aa8e0" stroke="#1c1c1c" stroke-width="0.9"/>
<line x1="574.5" y1="447.02" x2="574.5" y2="444.15" stroke="#1c1c1c" stroke-width="1"/>
<line x1="572.35" y1="444.5" x2="576.35" y2="444.5" stroke="#1c1c1c" stroke-width="1"/>
<rect x="570.5" y="447.5" width="8" height="27" fill="#e2232a" stroke="#1c1c1c" stroke-width="0.9"/>
<line x1="628.5" y1="463.63" x2="628.5" y2="462.74" stroke="#1c1c1c" stroke-width="1"/>
<line x1="626.2" y1="462.5" x2="630.2" y2="462.5" stroke="#1c1c1c" stroke-width="1"/>
<rect x="624.5" y="463.5" width="8" height="11" fill="#2aa8e0" stroke="#1c1c1c" stroke-width="0.9"/>
<line x1="638.5" y1="390.57" x2="638.5" y2="385.59" stroke="#1c1c1c" stroke-width="1"/>
<line x1="636.8" y1="385.5" x2="640.8" y2="385.5" stroke="#1c1c1c" stroke-width="1"/>
<rect x="634.5" y="390.5" width="9" height="84" fill="#e2232a" stroke="#1c1c1c" stroke-width="0.9"/>
<rect x="593.4" y="472.4" width="7.2" height="1.4" fill="#7cc8ea"/>
<rect x="604" y="472.4" width="8" height="1.4" fill="#f07070"/>
<rect x="516.5" y="364.5" width="137" height="110" fill="none" stroke="#1c1c1c" stroke-width="1.1"/>
<line x1="512.8" y1="474.5" x2="516.3" y2="474.5" stroke="#1c1c1c" stroke-width="1"/>
<text x="508.6" y="477.8" font-size="8.6" text-anchor="end" stroke="#1c1c1c" stroke-width="0.22">0</text>
<line x1="512.8" y1="452.5" x2="516.3" y2="452.5" stroke="#1c1c1c" stroke-width="1"/>
<text x="508.6" y="455.66" font-size="8.6" text-anchor="end" stroke="#1c1c1c" stroke-width="0.22">2</text>
<line x1="512.8" y1="430.5" x2="516.3" y2="430.5" stroke="#1c1c1c" stroke-width="1"/>
<text x="508.6" y="433.52" font-size="8.6" text-anchor="end" stroke="#1c1c1c" stroke-width="0.22">4</text>
<line x1="512.8" y1="408.5" x2="516.3" y2="408.5" stroke="#1c1c1c" stroke-width="1"/>
<text x="508.6" y="411.38" font-size="8.6" text-anchor="end" stroke="#1c1c1c" stroke-width="0.22">6</text>
<line x1="512.8" y1="386.5" x2="516.3" y2="386.5" stroke="#1c1c1c" stroke-width="1"/>
<text x="508.6" y="389.24" font-size="8.6" text-anchor="end" stroke="#1c1c1c" stroke-width="0.22">8</text>
<line x1="512.8" y1="364.5" x2="516.3" y2="364.5" stroke="#1c1c1c" stroke-width="1"/>
<text x="508.6" y="367.1" font-size="8.6" text-anchor="end" stroke="#1c1c1c" stroke-width="0.22">10</text>
<rect x="520.2" y="368.3" width="6.2" height="5.6" fill="#2aa8e0" stroke="#1c1c1c" stroke-width="0.9"/>
<rect x="520.2" y="376.2" width="6.2" height="5.6" fill="#e2232a" stroke="#1c1c1c" stroke-width="0.9"/>
<text x="529.2" y="374" font-size="6.6" stroke="#1c1c1c" stroke-width="0.22">4TO7</text>
<text x="529.2" y="382.2" font-size="6.6" stroke="#1c1c1c" stroke-width="0.22">4TO7-Coco</text>
<text x="537.2" y="432" font-size="7.3" text-anchor="middle" stroke="#1c1c1c" stroke-width="0.22">P= 0.002</text>
<text x="569.8" y="441.2" font-size="7.3" text-anchor="middle" stroke="#1c1c1c" stroke-width="0.22">P&lt;0.001</text>
<text x="633.8" y="379.9" font-size="7.3" text-anchor="middle" stroke="#1c1c1c" stroke-width="0.22">P= 4E-6</text>
<text transform="translate(602.6 445.6) rotate(-90)" font-size="7" text-anchor="middle" stroke="#1c1c1c" stroke-width="0.22">Undetectable</text>
<text x="539.1" y="487.6" font-size="8.4" font-style="italic" text-anchor="middle" stroke="#1c1c1c" stroke-width="0.22">Nanog</text>
<text x="570.6" y="487.6" font-size="8.4" font-style="italic" text-anchor="middle" stroke="#1c1c1c" stroke-width="0.22">Sox2</text>
<text x="605.2" y="487.6" font-size="8.4" font-style="italic" text-anchor="middle" stroke="#1c1c1c" stroke-width="0.22">Oct 4</text>
<text x="633.9" y="487.6" font-size="8.4" font-style="italic" text-anchor="middle" stroke="#1c1c1c" stroke-width="0.22">Taz</text>
<text transform="translate(490.6 419.2) rotate(-90)" font-size="9.8" text-anchor="middle" stroke="#1c1c1c" stroke-width="0.22">Norm. mRNA (A.U.)</text>
<text transform="translate(467.46 514.90) scale(0.2723 0.3014)" font-size="100">J</text>
<line x1="532.5" y1="554.91" x2="532.5" y2="545.7" stroke="#1c1c1c" stroke-width="1"/>
<line x1="530.65" y1="545.5" x2="534.65" y2="545.5" stroke="#1c1c1c" stroke-width="1"/>
<rect x="528.5" y="554.5" width="9" height="80" fill="#2a9edc" stroke="#1c1c1c" stroke-width="0.9"/>
<line x1="564.5" y1="554.91" x2="564.5" y2="548.6" stroke="#1c1c1c" stroke-width="1"/>
<line x1="562.4" y1="548.5" x2="566.4" y2="548.5" stroke="#1c1c1c" stroke-width="1"/>
<rect x="559.5" y="554.5" width="9" height="80" fill="#2a9edc" stroke="#1c1c1c" stroke-width="0.9"/>
<line x1="627.5" y1="554.91" x2="627.5" y2="552.9" stroke="#1c1c1c" stroke-width="1"/>
<line x1="625.6" y1="552.5" x2="629.6" y2="552.5" stroke="#1c1c1c" stroke-width="1"/>
<rect x="622.5" y="554.5" width="10" height="80" fill="#2a9edc" stroke="#1c1c1c" stroke-width="0.9"/>
<rect x="541" y="631.9" width="7.1" height="1.3" fill="#e83030"/>
<rect x="572.8" y="631.9" width="7" height="1.3" fill="#e83030"/>
<rect x="593.8" y="631.9" width="7.3" height="1.3" fill="#3ab0e8"/>
<rect x="604" y="631.9" width="7.3" height="1.3" fill="#e83030"/>
<rect x="636.2" y="631.9" width="7" height="1.3" fill="#e83030"/>
<rect x="515.5" y="523.5" width="139" height="111" fill="none" stroke="#1c1c1c" stroke-width="1.1"/>
<line x1="512.3" y1="634.5" x2="515.8" y2="634.5" stroke="#1c1c1c" stroke-width="1"/>
<text x="509" y="637.7" font-size="8.4" text-anchor="end" stroke="#1c1c1c" stroke-width="0.22">0</text>
<line x1="512.3" y1="618.5" x2="515.8" y2="618.5" stroke="#1c1c1c" stroke-width="1"/>
<text x="509" y="621.74" font-size="8.4" text-anchor="end" stroke="#1c1c1c" stroke-width="0.22">0.2</text>
<line x1="512.3" y1="602.5" x2="515.8" y2="602.5" stroke="#1c1c1c" stroke-width="1"/>
<text x="509" y="605.79" font-size="8.4" text-anchor="end" stroke="#1c1c1c" stroke-width="0.22">0.4</text>
<line x1="512.3" y1="586.5" x2="515.8" y2="586.5" stroke="#1c1c1c" stroke-width="1"/>
<text x="509" y="589.83" font-size="8.4" text-anchor="end" stroke="#1c1c1c" stroke-width="0.22">0.6</text>
<line x1="512.3" y1="570.5" x2="515.8" y2="570.5" stroke="#1c1c1c" stroke-width="1"/>
<text x="509" y="573.87" font-size="8.4" text-anchor="end" stroke="#1c1c1c" stroke-width="0.22">0.8</text>
<line x1="512.3" y1="554.5" x2="515.8" y2="554.5" stroke="#1c1c1c" stroke-width="1"/>
<text x="509" y="557.91" font-size="8.4" text-anchor="end" stroke="#1c1c1c" stroke-width="0.22">1.0</text>
<line x1="512.3" y1="538.5" x2="515.8" y2="538.5" stroke="#1c1c1c" stroke-width="1"/>
<text x="509" y="541.96" font-size="8.4" text-anchor="end" stroke="#1c1c1c" stroke-width="0.22">1.2</text>
<line x1="512.3" y1="523.5" x2="515.8" y2="523.5" stroke="#1c1c1c" stroke-width="1"/>
<text x="509" y="526" font-size="8.4" text-anchor="end" stroke="#1c1c1c" stroke-width="0.22">1.4</text>
<rect x="520.5" y="526.5" width="7" height="6" fill="#2a9edc" stroke="#1c1c1c" stroke-width="0.8"/>
<rect x="520.5" y="534.5" width="7" height="5" fill="#e2232a" stroke="#1c1c1c" stroke-width="0.8"/>
<text x="529" y="532" font-size="6.4" stroke="#1c1c1c" stroke-width="0.22">4TO7</text>
<text x="529" y="539.9" font-size="6.4" stroke="#1c1c1c" stroke-width="0.22">4TO7 + BMP4</text>
<text transform="translate(547.3 615.4) rotate(-90)" font-size="6.7" text-anchor="middle" stroke="#1c1c1c" stroke-width="0.22">P=2.5E-4</text>
<text transform="translate(578.8 615.4) rotate(-90)" font-size="6.7" text-anchor="middle" stroke="#1c1c1c" stroke-width="0.22">P=8.1E-5</text>
<text transform="translate(642.5 615.4) rotate(-90)" font-size="6.7" text-anchor="middle" stroke="#1c1c1c" stroke-width="0.22">P=6.6E-7</text>
<text transform="translate(605 607.4) rotate(-90)" font-size="7" text-anchor="middle" stroke="#1c1c1c" stroke-width="0.22">Undetectable</text>
<text x="537.5" y="646.5" font-size="8.4" font-style="italic" text-anchor="middle" stroke="#1c1c1c" stroke-width="0.22">Nanog</text>
<text x="569.5" y="646.5" font-size="8.4" font-style="italic" text-anchor="middle" stroke="#1c1c1c" stroke-width="0.22">Sox2</text>
<text x="603.6" y="646.5" font-size="8.4" font-style="italic" text-anchor="middle" stroke="#1c1c1c" stroke-width="0.22">Oct 4</text>
<text x="631.8" y="646.5" font-size="8.4" font-style="italic" text-anchor="middle" stroke="#1c1c1c" stroke-width="0.22">Taz</text>
<text transform="translate(490.6 578.5) rotate(-90)" font-size="9.8" text-anchor="middle" stroke="#1c1c1c" stroke-width="0.22">Norm. mRNA (A.U.)</text>
</svg></body></html>
